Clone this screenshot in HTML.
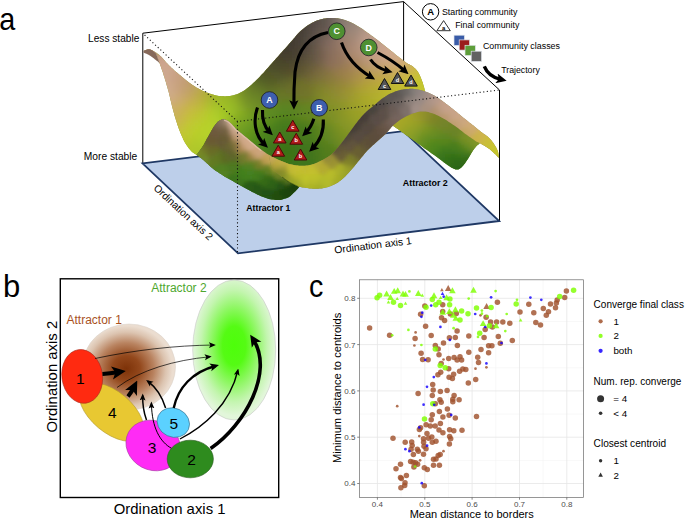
<!DOCTYPE html>
<html lang="en"><head><meta charset="utf-8"><title>Figure</title>
<style>
html,body{margin:0;padding:0;background:#fff;}
svg{display:block;font-family:"Liberation Sans", sans-serif;}
</style></head>
<body>
<svg width="685" height="520" viewBox="0 0 685 520">
<rect width="685" height="520" fill="#fff"/>
<defs>
<radialGradient id="gA2" cx="0.5" cy="0.47" r="0.5">
 <stop offset="0" stop-color="#4dff0a"/><stop offset="0.28" stop-color="#55fb14"/>
 <stop offset="0.55" stop-color="#8ff764"/><stop offset="0.8" stop-color="#c4f5b0"/>
 <stop offset="1" stop-color="#e2f6da"/>
</radialGradient>
<radialGradient id="gA1" cx="0.47" cy="0.52" r="0.5">
 <stop offset="0" stop-color="#7d3208"/><stop offset="0.3" stop-color="#93481c"/>
 <stop offset="0.6" stop-color="#b98360"/><stop offset="0.85" stop-color="#dcc4b0"/>
 <stop offset="1" stop-color="#ebddd0"/>
</radialGradient>
<marker id="ahS" viewBox="0 0 10 10" refX="7" refY="5" markerWidth="7" markerHeight="7" markerUnits="userSpaceOnUse" orient="auto"><path d="M0,0.8 L10,5 L0,9.2 L2.2,5 Z" fill="#000"/></marker>
<marker id="ahM" viewBox="0 0 10 10" refX="6" refY="5" markerWidth="9" markerHeight="9" markerUnits="userSpaceOnUse" orient="auto"><path d="M0,0.5 L10,5 L0,9.5 L2.5,5 Z" fill="#000"/></marker>
<marker id="ahL" viewBox="0 0 10 10" refX="5" refY="5" markerWidth="12" markerHeight="12" markerUnits="userSpaceOnUse" orient="auto"><path d="M0,0.3 L10,5 L0,9.7 L2.5,5 Z" fill="#000"/></marker>
<marker id="ahT" viewBox="0 0 10 10" refX="4" refY="5" markerWidth="10.5" markerHeight="10.5" markerUnits="userSpaceOnUse" orient="auto"><path d="M0,0.2 L10,5 L0,9.8 L2.4,5 Z" fill="#000"/></marker>
<marker id="ahXL" viewBox="0 0 10 10" refX="4" refY="5" markerWidth="14" markerHeight="14" markerUnits="userSpaceOnUse" orient="auto"><path d="M0,0.3 L10,5 L0,9.7 L2.5,5 Z" fill="#000"/></marker>
</defs>
<g id="panelA">
<text x="-0.75" y="29.5" font-size="32" text-anchor="start" font-weight="normal" fill="#000" textLength="16" lengthAdjust="spacingAndGlyphs">a</text>
<path d="M142.8,163.3V33.2L403.6,1.6L499.5,90V221 M403.6,1.6V131" fill="none" stroke="#000" stroke-width="1"/>
<path d="M142.5,163.3L238,253.3L499.2,221L403.3,131.2Z" fill="#bdcfea" stroke="#1f3864" stroke-width="1.8" stroke-linejoin="miter"/>
<defs>
<clipPath id="cpBack"><path d="M143.5,50.8L143.9,50.7L144.4,50.4L145.1,50.2L145.8,49.9L146.5,49.7L147.2,49.4L147.9,49.3L148.5,49.2L149.0,49.2L149.5,49.3L149.9,49.4L150.3,49.5L150.7,49.7L151.1,49.9L151.5,50.1L152.0,50.3L152.5,50.5L152.9,50.8L153.4,51.0L153.9,51.3L154.4,51.6L154.9,51.9L155.4,52.2L156.0,52.6L156.6,53.0L157.2,53.4L157.8,53.8L158.4,54.3L159.0,54.8L159.7,55.3L160.3,55.9L161.0,56.5L161.7,57.2L162.4,58.0L163.1,58.8L163.9,59.7L164.6,60.6L165.4,61.5L166.2,62.4L167.0,63.3L167.8,64.1L168.6,65.0L169.4,65.8L170.3,66.6L171.1,67.5L172.0,68.3L173.0,69.1L173.9,70.0L174.9,70.9L175.9,71.8L176.9,72.6L178.0,73.5L179.1,74.4L180.2,75.3L181.3,76.3L182.5,77.2L183.7,78.2L184.9,79.2L186.1,80.2L187.4,81.2L188.7,82.2L190.0,83.2L191.2,84.1L192.5,85.0L193.8,85.8L195.0,86.6L196.2,87.4L197.5,88.1L198.8,88.8L200.0,89.5L201.2,90.1L202.5,90.7L203.8,91.3L205.0,91.8L206.2,92.4L207.5,92.8L208.8,93.3L210.0,93.7L211.2,94.1L212.5,94.5L213.8,94.8L215.0,95.2L216.2,95.4L217.5,95.7L218.8,95.9L220.0,96.1L221.2,96.2L222.5,96.3L223.8,96.3L225.0,96.4L226.2,96.3L227.5,96.3L228.8,96.1L230.0,96.0L231.2,95.8L232.5,95.5L233.8,95.2L235.0,94.8L236.2,94.4L237.5,93.9L238.8,93.4L240.0,92.8L241.2,92.2L242.5,91.5L243.8,90.7L245.0,89.9L246.2,89.0L247.5,88.0L248.8,87.0L250.0,85.9L251.2,84.9L252.5,83.8L253.8,82.6L255.0,81.4L256.2,80.2L257.5,79.0L258.8,77.7L260.0,76.4L261.2,75.1L262.5,73.8L263.8,72.4L265.0,71.0L266.2,69.6L267.5,68.2L268.8,66.8L270.0,65.3L271.2,63.9L272.5,62.5L273.8,61.1L275.0,59.7L276.2,58.3L277.5,56.9L278.8,55.5L280.0,54.1L281.2,52.7L282.5,51.2L283.8,49.8L285.1,48.4L286.4,46.9L287.7,45.5L288.9,44.0L290.2,42.6L291.4,41.3L292.5,40.0L293.5,38.8L294.5,37.7L295.4,36.6L296.2,35.5L297.1,34.5L298.0,33.5L299.0,32.5L300.0,31.5L301.1,30.5L302.3,29.5L303.6,28.4L304.8,27.4L306.1,26.5L307.4,25.6L308.7,24.7L310.0,23.9L311.2,23.2L312.5,22.5L313.8,21.9L315.0,21.3L316.2,20.8L317.5,20.3L318.8,19.9L320.0,19.5L321.2,19.2L322.5,18.9L323.8,18.6L325.0,18.4L326.2,18.3L327.5,18.1L328.8,18.1L330.0,18.0L331.2,18.0L332.5,18.0L333.8,18.0L335.0,18.1L336.2,18.2L337.5,18.3L338.8,18.5L340.0,18.8L341.2,19.0L342.5,19.3L343.8,19.7L345.0,20.1L346.2,20.5L347.5,21.0L348.8,21.5L350.0,22.0L351.2,22.6L352.5,23.2L353.8,23.8L355.0,24.5L356.2,25.2L357.5,26.0L358.8,26.7L360.0,27.5L361.2,28.3L362.5,29.1L363.8,30.0L365.0,30.9L366.2,31.8L367.5,32.7L368.8,33.6L370.0,34.5L371.2,35.4L372.5,36.3L373.8,37.3L375.0,38.2L376.2,39.1L377.5,40.1L378.8,41.0L380.0,42.0L381.2,43.0L382.5,44.0L383.8,45.0L385.0,46.0L386.2,47.0L387.5,48.0L388.8,49.0L390.0,50.0L391.3,51.0L392.6,52.1L393.9,53.1L395.2,54.2L396.4,55.2L397.7,56.2L398.9,57.1L400.0,58.0L401.1,58.8L402.1,59.6L403.1,60.4L404.1,61.1L405.0,61.7L405.9,62.4L406.7,63.0L407.5,63.5L408.2,64.0L408.9,64.3L409.6,64.6L410.2,64.9L410.7,65.2L411.3,65.5L411.9,65.8L412.5,66.2L413.1,66.8L413.8,67.3L414.4,67.9L415.1,68.5L415.7,69.1L416.3,69.8L416.9,70.5L417.5,71.2L418.0,72.1L418.6,72.9L419.1,73.9L419.5,74.8L420.0,75.8L420.4,76.8L420.8,77.8L421.2,78.8L421.6,79.7L422.0,80.7L422.3,81.7L422.7,82.6L423.0,83.6L423.2,84.5L423.5,85.4L423.8,86.2L424.0,87.0L424.2,87.8L424.4,88.6L424.5,89.3L424.7,90.0L424.8,90.6L424.9,91.1L425.0,91.5L425.0,105.0L410.0,100.0L395.0,118.0L350.0,160.0L300.0,180.0L260.0,185.0L215.0,165.0L196.5,154.8L196.1,154.6L195.6,154.3L195.0,153.9L194.4,153.5L193.6,153.1L192.9,152.5L192.1,151.9L191.4,151.2L190.7,150.4L189.9,149.5L189.0,148.5L188.2,147.4L187.4,146.3L186.5,145.0L185.7,143.7L184.9,142.4L184.1,141.0L183.3,139.4L182.6,137.7L181.8,136.0L181.0,134.3L180.3,132.5L179.6,130.8L179.0,129.2L178.4,127.6L177.9,126.1L177.3,124.6L176.9,123.1L176.4,121.6L175.9,120.1L175.5,118.6L175.0,117.0L174.5,115.4L174.1,113.7L173.6,112.1L173.2,110.4L172.7,108.7L172.3,107.0L171.8,105.2L171.4,103.5L171.0,101.7L170.5,99.9L170.1,98.1L169.7,96.3L169.2,94.4L168.8,92.6L168.3,90.7L167.8,88.9L167.3,87.0L166.7,85.2L166.2,83.2L165.6,81.3L165.0,79.5L164.5,77.6L163.9,75.9L163.4,74.2L162.9,72.6L162.3,70.9L161.7,69.3L161.2,67.7L160.7,66.2L160.2,64.9L159.8,63.8L159.5,63.0L156.0,53.5Z"/></clipPath>
<clipPath id="cpUnder"><path d="M388.0,124.0L388.9,123.0L390.0,121.7L391.4,120.1L392.9,118.4L394.5,116.6L396.3,114.9L398.1,113.3L400.0,112.0L401.9,110.9L404.0,109.8L406.1,108.8L408.4,107.9L410.7,107.1L413.1,106.5L415.5,106.1L418.0,106.0L420.6,106.1L423.2,106.4L426.0,106.9L428.8,107.6L431.6,108.5L434.4,109.5L437.2,110.7L440.0,112.0L442.8,113.5L445.6,115.4L448.5,117.4L451.3,119.6L454.1,121.8L456.9,124.0L459.5,126.1L462.0,128.0L464.5,129.8L467.1,131.6L469.6,133.4L472.0,135.2L474.3,136.8L476.2,138.4L477.8,139.8L479.0,141.0L479.6,142.0L479.8,142.8L479.5,143.5L479.0,144.0L478.4,144.5L477.7,145.0L477.0,145.5L476.5,146.0L476.1,146.6L475.7,147.1L475.3,147.6L474.9,148.1L474.4,148.6L474.0,149.2L473.5,149.8L473.0,150.5L472.5,151.3L472.0,152.2L471.4,153.1L470.9,154.0L470.3,155.0L469.7,156.0L469.1,157.0L468.5,158.0L467.9,159.0L467.2,160.0L466.5,161.1L465.8,162.1L465.1,163.2L464.4,164.1L463.7,165.0L463.0,165.8L462.3,166.5L461.7,167.2L461.0,167.8L460.4,168.3L459.7,168.7L459.1,169.1L458.4,169.4L457.6,169.5L456.8,169.5L456.1,169.5L455.4,169.4L454.6,169.1L453.8,168.8L452.8,168.3L451.7,167.7L450.5,167.0L449.1,166.1L447.5,165.0L445.8,163.8L444.0,162.5L442.2,161.0L440.2,159.6L438.2,158.1L436.2,156.6L434.1,155.1L431.8,153.5L429.5,151.8L427.1,150.1L424.7,148.4L422.4,146.7L420.1,145.1L418.0,143.6L416.0,142.1L414.0,140.7L412.1,139.3L410.2,137.9L408.4,136.6L406.6,135.4L404.9,134.2L403.3,133.0L401.7,131.9L400.2,130.8L398.8,129.8L397.4,128.8L396.1,127.9L394.8,127.1L393.7,126.3L392.7,125.7L391.8,125.2L391.0,124.8L390.3,124.6L389.7,124.4L389.2,124.3L388.7,124.2L388.3,124.1L388.0,124.0Z"/></clipPath>
<clipPath id="cpF1"><path d="M196.5,154.8L197.0,154.2L197.6,153.4L198.3,152.5L199.1,151.4L199.9,150.3L200.8,149.1L201.6,148.0L202.4,146.8L203.1,145.6L203.9,144.4L204.6,143.1L205.3,141.8L206.0,140.5L206.7,139.1L207.5,137.8L208.2,136.5L208.9,135.2L209.7,133.8L210.5,132.4L211.2,131.1L212.0,129.7L212.7,128.5L213.4,127.3L214.1,126.3L214.7,125.4L215.3,124.6L215.9,123.9L216.4,123.2L216.9,122.7L217.4,122.1L218.0,121.6L218.5,121.2L219.1,120.8L219.6,120.4L220.2,120.1L220.7,119.9L221.2,119.6L221.8,119.5L222.3,119.4L222.9,119.3L223.5,119.3L224.0,119.3L224.6,119.4L225.1,119.6L225.7,119.7L226.2,120.0L226.8,120.2L227.3,120.5L227.8,120.8L228.4,121.2L228.9,121.6L229.5,122.1L230.0,122.5L230.5,123.0L231.1,123.6L231.6,124.1L232.2,124.7L232.8,125.4L233.4,126.1L234.1,126.9L234.7,127.6L235.2,128.2L235.7,128.8L236.0,129.2L236.3,129.4L236.6,129.6L236.9,129.9L237.4,130.2L237.9,130.6L238.5,131.1L239.2,131.6L240.0,132.3L241.0,133.1L242.1,134.0L243.3,135.0L244.6,136.1L246.0,137.2L247.4,138.3L248.7,139.4L250.0,140.5L251.2,141.5L252.5,142.6L253.8,143.7L255.0,144.7L256.2,145.8L257.5,146.8L258.8,147.8L260.0,148.8L261.2,149.7L262.5,150.6L263.8,151.5L265.0,152.3L266.2,153.2L267.5,154.0L268.8,154.8L270.0,155.5L271.2,156.2L272.5,156.9L273.8,157.6L275.0,158.2L276.2,158.8L277.5,159.4L278.8,159.9L280.0,160.5L281.2,161.0L282.5,161.6L283.8,162.1L285.0,162.6L286.2,163.1L287.5,163.5L288.8,163.9L290.0,164.2L291.2,164.6L292.5,164.8L293.8,165.1L295.0,165.3L296.2,165.5L297.5,165.6L298.8,165.7L300.0,186.0L299.7,186.3L299.4,186.7L298.9,187.2L298.5,187.8L298.0,188.4L297.5,188.9L297.0,189.5L296.5,190.0L296.1,190.5L295.6,190.9L295.2,191.4L294.7,191.8L294.3,192.2L293.9,192.7L293.4,193.1L293.0,193.5L292.6,193.9L292.2,194.3L291.8,194.7L291.4,195.1L291.0,195.5L290.5,195.9L290.1,196.3L289.6,196.6L289.1,196.9L288.6,197.2L288.0,197.5L287.5,197.7L286.9,197.9L286.3,198.2L285.7,198.4L285.0,198.6L284.3,198.8L283.6,199.1L282.9,199.3L282.2,199.5L281.4,199.7L280.5,199.9L279.5,200.0L278.5,200.0L277.3,200.0L276.0,199.9L274.7,199.8L273.2,199.6L271.8,199.4L270.3,199.2L268.8,198.9L267.4,198.5L266.0,198.1L264.7,197.6L263.3,197.1L261.9,196.5L260.5,195.9L259.2,195.3L257.8,194.7L256.4,194.0L255.0,193.3L253.6,192.6L252.1,191.9L250.7,191.1L249.2,190.3L247.8,189.5L246.4,188.8L245.0,188.0L243.6,187.2L242.3,186.5L240.9,185.7L239.6,185.0L238.3,184.2L236.9,183.4L235.6,182.7L234.2,181.9L232.8,181.1L231.4,180.3L230.0,179.6L228.6,178.8L227.2,178.0L225.8,177.2L224.4,176.4L223.0,175.5L221.6,174.6L220.2,173.7L218.8,172.8L217.4,171.8L216.0,170.9L214.6,169.9L213.3,168.9L212.1,168.0L210.9,167.1L209.8,166.1L208.8,165.1L207.8,164.1L206.8,163.2L205.8,162.2L204.9,161.4L203.9,160.5L202.9,159.7L201.8,158.8L200.7,158.0L199.7,157.2L198.7,156.4L197.8,155.8L197.1,155.2L196.5,154.8Z"/></clipPath>
<clipPath id="cpF2"><path d="M268.8,154.8L270.0,155.5L271.2,156.2L272.5,156.9L273.8,157.6L275.0,158.2L276.2,158.8L277.5,159.4L278.8,159.9L280.0,160.5L281.2,161.0L282.5,161.6L283.8,162.1L285.0,162.6L286.2,163.1L287.5,163.5L288.8,163.9L290.0,164.2L291.2,164.6L292.5,164.8L293.8,165.1L295.0,165.3L296.2,165.5L297.5,165.6L298.8,165.7L300.0,165.8L301.2,165.8L302.5,165.8L303.8,165.8L305.0,165.7L306.2,165.6L307.5,165.5L308.8,165.3L310.0,165.0L311.2,164.7L312.5,164.3L313.8,163.9L315.0,163.4L316.2,162.9L317.5,162.4L318.8,161.8L320.0,161.2L321.3,160.6L322.6,160.0L323.9,159.3L325.2,158.6L326.5,157.8L327.7,157.1L328.9,156.3L330.0,155.5L331.0,154.7L331.9,153.9L332.8,153.1L333.7,152.2L334.5,151.4L335.3,150.5L336.1,149.5L337.0,148.5L337.9,147.4L338.9,146.3L339.8,145.1L340.8,143.9L341.7,142.7L342.7,141.5L343.7,140.2L344.6,139.0L345.5,137.8L346.5,136.5L347.4,135.3L348.3,134.0L349.2,132.7L350.2,131.5L351.1,130.2L352.0,129.0L352.9,127.8L353.8,126.6L354.7,125.3L355.6,124.1L356.5,122.9L357.4,121.8L358.3,120.6L359.2,119.5L360.1,118.4L361.0,117.3L361.9,116.3L362.8,115.3L363.8,114.3L364.7,113.3L365.6,112.4L366.5,111.5L367.4,110.7L368.3,109.9L369.3,109.1L370.2,108.4L371.1,107.7L372.1,107.0L373.0,106.3L373.9,105.6L374.8,104.8L375.7,104.1L376.6,103.3L377.4,102.5L378.3,101.7L379.2,100.9L380.1,100.2L381.0,99.5L381.9,98.8L382.8,98.2L383.8,97.5L384.7,96.9L385.7,96.3L386.6,95.7L387.6,95.1L388.5,94.6L389.4,94.1L390.4,93.6L391.3,93.2L392.3,92.8L393.2,92.4L394.2,92.0L395.1,91.6L396.0,91.3L396.9,91.0L397.8,90.7L398.6,90.5L399.5,90.2L400.3,90.0L401.2,89.8L402.1,89.7L403.1,89.5L404.1,89.3L405.2,89.2L406.3,89.1L407.4,89.0L408.6,88.9L409.7,88.8L410.8,88.8L411.9,88.8L412.9,88.8L414.0,88.9L415.0,89.0L416.0,89.2L417.0,89.4L418.0,89.6L419.0,89.8L420.0,90.0L421.0,90.2L422.0,90.5L423.0,90.8L424.0,91.1L425.0,91.5L426.0,91.8L427.0,92.2L428.0,92.6L429.0,93.0L429.9,93.4L430.8,93.8L431.8,94.3L432.7,94.7L433.7,95.2L434.7,95.8L435.7,96.4L436.8,97.1L437.9,97.8L439.0,98.6L440.2,99.4L441.3,100.2L442.5,101.1L443.6,101.9L444.8,102.8L445.9,103.7L447.1,104.5L448.3,105.4L449.4,106.3L450.6,107.3L451.7,108.2L452.9,109.1L454.0,110.0L455.1,110.9L456.3,111.8L457.4,112.8L458.5,113.7L459.6,114.6L460.7,115.6L461.9,116.5L463.0,117.4L464.1,118.3L465.3,119.2L466.4,120.1L467.6,121.1L468.7,122.0L469.9,122.9L471.1,123.8L472.2,124.7L473.4,125.6L474.5,126.6L475.7,127.5L476.9,128.5L478.0,129.4L479.2,130.3L480.2,131.2L481.3,132.0L482.3,132.8L483.3,133.5L484.3,134.2L485.2,134.8L486.1,135.4L487.0,136.1L487.8,136.8L488.6,137.5L489.4,138.3L490.1,139.0L490.8,139.8L491.5,140.6L492.2,141.5L492.8,142.3L493.4,143.1L494.0,144.0L494.6,144.9L495.1,145.8L495.7,146.7L496.2,147.6L496.6,148.5L497.1,149.4L497.5,150.3L497.8,151.2L498.1,152.1L498.3,153.1L498.5,154.1L498.6,155.1L498.8,156.1L498.8,156.9L498.9,157.7L499.0,158.2L498.7,157.9L498.3,157.5L497.9,157.0L497.4,156.4L496.9,155.9L496.3,155.2L495.6,154.6L495.0,154.0L494.3,153.4L493.6,152.7L492.8,152.0L492.0,151.3L491.2,150.5L490.3,149.8L489.5,149.1L488.6,148.5L487.7,147.9L486.8,147.3L485.8,146.7L484.9,146.1L483.9,145.5L483.0,145.0L482.1,144.5L481.3,144.0L480.5,143.5L479.7,143.1L478.9,142.7L478.1,142.3L477.4,142.0L476.7,141.7L476.2,141.4L475.8,141.2L475.1,140.7L474.2,140.1L473.1,139.3L471.9,138.5L470.6,137.6L469.3,136.7L468.0,135.7L466.7,134.8L465.4,133.9L464.1,132.9L462.7,131.8L461.4,130.8L460.0,129.7L458.6,128.6L457.2,127.6L455.8,126.6L454.4,125.6L453.1,124.7L451.7,123.7L450.3,122.8L448.9,121.9L447.6,121.0L446.2,120.1L444.8,119.3L443.4,118.5L442.0,117.7L440.7,117.0L439.3,116.2L437.9,115.6L436.5,114.9L435.2,114.3L433.8,113.8L432.4,113.3L431.1,112.9L429.7,112.5L428.3,112.1L427.0,111.8L425.6,111.6L424.3,111.4L422.9,111.4L421.5,111.4L420.2,111.6L418.8,111.8L417.5,112.1L416.1,112.5L414.7,112.9L413.4,113.3L412.0,113.8L410.6,114.3L409.2,114.9L407.8,115.6L406.3,116.3L404.9,117.0L403.6,117.8L402.2,118.5L401.0,119.3L399.8,120.1L398.5,121.0L397.3,121.9L396.2,122.8L395.1,123.7L394.1,124.5L393.3,125.2L392.7,125.7L392.1,126.4L391.3,127.3L390.4,128.4L389.4,129.6L388.3,130.9L387.2,132.1L386.1,133.4L385.0,134.5L383.9,135.5L382.8,136.6L381.7,137.6L380.5,138.6L379.4,139.5L378.2,140.5L377.1,141.5L376.0,142.5L374.9,143.5L373.9,144.4L372.8,145.3L371.8,146.2L370.8,147.2L369.7,148.2L368.7,149.2L367.6,150.3L366.5,151.5L365.4,152.7L364.3,154.0L363.2,155.4L362.1,156.7L361.0,158.1L359.9,159.5L358.8,160.8L357.7,162.1L356.6,163.5L355.5,164.8L354.4,166.2L353.3,167.5L352.2,168.8L351.1,170.1L350.0,171.3L348.9,172.5L347.8,173.7L346.7,174.8L345.7,176.0L344.6,177.1L343.5,178.1L342.4,179.1L341.3,180.0L340.2,180.8L339.1,181.6L338.0,182.4L336.9,183.0L335.8,183.7L334.7,184.2L333.6,184.8L332.5,185.3L331.4,185.8L330.3,186.2L329.2,186.6L328.2,186.9L327.1,187.2L326.0,187.5L324.9,187.8L323.8,188.0L322.7,188.2L321.6,188.4L320.5,188.5L319.4,188.6L318.3,188.7L317.2,188.8L316.1,188.8L315.0,188.8L313.9,188.8L312.8,188.7L311.7,188.6L310.6,188.5L309.5,188.4L308.4,188.3L307.4,188.1L306.3,188.0L305.2,187.8L304.0,187.6L302.8,187.4L301.6,187.2L300.5,187.0L299.5,186.8L298.6,186.6L298.0,186.5L297.6,186.3L297.1,186.0L296.5,185.7L295.8,185.4L295.0,185.0L294.3,184.7L293.6,184.3L293.0,184.0L292.5,183.7L292.0,183.5L291.5,183.3L291.0,183.0L290.5,182.8L290.0,182.5L289.4,182.2L288.8,181.8L288.1,181.3L287.3,180.8L286.4,180.2L285.5,179.6L284.6,178.9L283.7,178.3L282.8,177.6L282.0,177.0L281.2,176.4L280.4,175.8L279.6,175.2L278.9,174.5L278.1,173.9L277.4,173.3L276.7,172.7L276.0,172.0L275.3,171.3L274.6,170.5L273.8,169.7L273.1,168.9L272.5,168.2L271.9,167.5L271.4,166.9L271.0,166.5Z"/></clipPath>
<filter id="bl1" x="-5%" y="-5%" width="110%" height="110%"><feGaussianBlur stdDeviation="1.1"/></filter>
<filter id="bl05" x="-5%" y="-5%" width="110%" height="110%"><feGaussianBlur stdDeviation="0.6"/></filter>
</defs>
<path d="M143.5,50.8L143.9,50.7L144.4,50.4L145.1,50.2L145.8,49.9L146.5,49.7L147.2,49.4L147.9,49.3L148.5,49.2L149.0,49.2L149.5,49.3L149.9,49.4L150.3,49.5L150.7,49.7L151.1,49.9L151.5,50.1L152.0,50.3L152.5,50.5L152.9,50.8L153.4,51.0L153.9,51.3L154.4,51.6L154.9,51.9L155.4,52.2L156.0,52.6L156.6,53.0L157.2,53.4L157.8,53.8L158.4,54.3L159.0,54.8L159.7,55.3L160.3,55.9L161.0,56.5L161.7,57.2L162.4,58.0L163.1,58.8L163.9,59.7L164.6,60.6L165.4,61.5L166.2,62.4L167.0,63.3L167.8,64.1L168.6,65.0L169.4,65.8L170.3,66.6L171.1,67.5L172.0,68.3L173.0,69.1L173.9,70.0L174.9,70.9L175.9,71.8L176.9,72.6L178.0,73.5L179.1,74.4L180.2,75.3L181.3,76.3L182.5,77.2L183.7,78.2L184.9,79.2L186.1,80.2L187.4,81.2L188.7,82.2L190.0,83.2L191.2,84.1L192.5,85.0L193.8,85.8L195.0,86.6L196.2,87.4L197.5,88.1L198.8,88.8L200.0,89.5L201.2,90.1L202.5,90.7L203.8,91.3L205.0,91.8L206.2,92.4L207.5,92.8L208.8,93.3L210.0,93.7L211.2,94.1L212.5,94.5L213.8,94.8L215.0,95.2L216.2,95.4L217.5,95.7L218.8,95.9L220.0,96.1L221.2,96.2L222.5,96.3L223.8,96.3L225.0,96.4L226.2,96.3L227.5,96.3L228.8,96.1L230.0,96.0L231.2,95.8L232.5,95.5L233.8,95.2L235.0,94.8L236.2,94.4L237.5,93.9L238.8,93.4L240.0,92.8L241.2,92.2L242.5,91.5L243.8,90.7L245.0,89.9L246.2,89.0L247.5,88.0L248.8,87.0L250.0,85.9L251.2,84.9L252.5,83.8L253.8,82.6L255.0,81.4L256.2,80.2L257.5,79.0L258.8,77.7L260.0,76.4L261.2,75.1L262.5,73.8L263.8,72.4L265.0,71.0L266.2,69.6L267.5,68.2L268.8,66.8L270.0,65.3L271.2,63.9L272.5,62.5L273.8,61.1L275.0,59.7L276.2,58.3L277.5,56.9L278.8,55.5L280.0,54.1L281.2,52.7L282.5,51.2L283.8,49.8L285.1,48.4L286.4,46.9L287.7,45.5L288.9,44.0L290.2,42.6L291.4,41.3L292.5,40.0L293.5,38.8L294.5,37.7L295.4,36.6L296.2,35.5L297.1,34.5L298.0,33.5L299.0,32.5L300.0,31.5L301.1,30.5L302.3,29.5L303.6,28.4L304.8,27.4L306.1,26.5L307.4,25.6L308.7,24.7L310.0,23.9L311.2,23.2L312.5,22.5L313.8,21.9L315.0,21.3L316.2,20.8L317.5,20.3L318.8,19.9L320.0,19.5L321.2,19.2L322.5,18.9L323.8,18.6L325.0,18.4L326.2,18.3L327.5,18.1L328.8,18.1L330.0,18.0L331.2,18.0L332.5,18.0L333.8,18.0L335.0,18.1L336.2,18.2L337.5,18.3L338.8,18.5L340.0,18.8L341.2,19.0L342.5,19.3L343.8,19.7L345.0,20.1L346.2,20.5L347.5,21.0L348.8,21.5L350.0,22.0L351.2,22.6L352.5,23.2L353.8,23.8L355.0,24.5L356.2,25.2L357.5,26.0L358.8,26.7L360.0,27.5L361.2,28.3L362.5,29.1L363.8,30.0L365.0,30.9L366.2,31.8L367.5,32.7L368.8,33.6L370.0,34.5L371.2,35.4L372.5,36.3L373.8,37.3L375.0,38.2L376.2,39.1L377.5,40.1L378.8,41.0L380.0,42.0L381.2,43.0L382.5,44.0L383.8,45.0L385.0,46.0L386.2,47.0L387.5,48.0L388.8,49.0L390.0,50.0L391.3,51.0L392.6,52.1L393.9,53.1L395.2,54.2L396.4,55.2L397.7,56.2L398.9,57.1L400.0,58.0L401.1,58.8L402.1,59.6L403.1,60.4L404.1,61.1L405.0,61.7L405.9,62.4L406.7,63.0L407.5,63.5L408.2,64.0L408.9,64.3L409.6,64.6L410.2,64.9L410.7,65.2L411.3,65.5L411.9,65.8L412.5,66.2L413.1,66.8L413.8,67.3L414.4,67.9L415.1,68.5L415.7,69.1L416.3,69.8L416.9,70.5L417.5,71.2L418.0,72.1L418.6,72.9L419.1,73.9L419.5,74.8L420.0,75.8L420.4,76.8L420.8,77.8L421.2,78.8L421.6,79.7L422.0,80.7L422.3,81.7L422.7,82.6L423.0,83.6L423.2,84.5L423.5,85.4L423.8,86.2L424.0,87.0L424.2,87.8L424.4,88.6L424.5,89.3L424.7,90.0L424.8,90.6L424.9,91.1L425.0,91.5L425.0,105.0L410.0,100.0L395.0,118.0L350.0,160.0L300.0,180.0L260.0,185.0L215.0,165.0L196.5,154.8L196.1,154.6L195.6,154.3L195.0,153.9L194.4,153.5L193.6,153.1L192.9,152.5L192.1,151.9L191.4,151.2L190.7,150.4L189.9,149.5L189.0,148.5L188.2,147.4L187.4,146.3L186.5,145.0L185.7,143.7L184.9,142.4L184.1,141.0L183.3,139.4L182.6,137.7L181.8,136.0L181.0,134.3L180.3,132.5L179.6,130.8L179.0,129.2L178.4,127.6L177.9,126.1L177.3,124.6L176.9,123.1L176.4,121.6L175.9,120.1L175.5,118.6L175.0,117.0L174.5,115.4L174.1,113.7L173.6,112.1L173.2,110.4L172.7,108.7L172.3,107.0L171.8,105.2L171.4,103.5L171.0,101.7L170.5,99.9L170.1,98.1L169.7,96.3L169.2,94.4L168.8,92.6L168.3,90.7L167.8,88.9L167.3,87.0L166.7,85.2L166.2,83.2L165.6,81.3L165.0,79.5L164.5,77.6L163.9,75.9L163.4,74.2L162.9,72.6L162.3,70.9L161.7,69.3L161.2,67.7L160.7,66.2L160.2,64.9L159.8,63.8L159.5,63.0L156.0,53.5Z" fill="#8a9428"/>
<g clip-path="url(#cpBack)"><g filter="url(#bl1)"><g fill="none" stroke-width="4.0"><path d="M315.5 17.5h4" stroke="#584e47"/><path d="M318.5 17.5h4" stroke="#5b504a"/><path d="M321.5 17.5h4" stroke="#5f544d"/><path d="M324.5 17.5h4" stroke="#635851"/><path d="M327.5 17.5h4" stroke="#695e56"/><path d="M330.5 17.5h4" stroke="#70645c"/><path d="M333.5 17.5h4" stroke="#776b62"/><path d="M336.5 17.5h4" stroke="#7d7168"/><path d="M339.5 17.5h4" stroke="#82756c"/><path d="M342.5 17.5h4" stroke="#867970"/><path d="M309.5 20.5h4" stroke="#524942"/><path d="M312.5 20.5h4" stroke="#554b44"/><path d="M315.5 20.5h4" stroke="#584e47"/><path d="M318.5 20.5h4" stroke="#5b504a"/><path d="M321.5 20.5h4" stroke="#5f544d"/><path d="M324.5 20.5h4" stroke="#635850"/><path d="M327.5 20.5h4" stroke="#695d56"/><path d="M330.5 20.5h4" stroke="#70645c"/><path d="M333.5 20.5h4" stroke="#776b62"/><path d="M336.5 20.5h4" stroke="#7e7168"/><path d="M339.5 20.5h4" stroke="#83766d"/><path d="M342.5 20.5h4" stroke="#887a70"/><path d="M345.5 20.5h4" stroke="#8c7e73"/><path d="M348.5 20.5h4" stroke="#8f8075"/><path d="M351.5 20.5h4" stroke="#938377"/><path d="M303.5 23.5h4" stroke="#4b433b"/><path d="M306.5 23.5h4" stroke="#4f463e"/><path d="M309.5 23.5h4" stroke="#524942"/><path d="M312.5 23.5h4" stroke="#564c44"/><path d="M315.5 23.5h4" stroke="#594e47"/><path d="M318.5 23.5h4" stroke="#5c514a"/><path d="M321.5 23.5h4" stroke="#5f544d"/><path d="M324.5 23.5h4" stroke="#645850"/><path d="M327.5 23.5h4" stroke="#695d55"/><path d="M330.5 23.5h4" stroke="#70635b"/><path d="M333.5 23.5h4" stroke="#776b62"/><path d="M336.5 23.5h4" stroke="#7f7268"/><path d="M339.5 23.5h4" stroke="#85776d"/><path d="M342.5 23.5h4" stroke="#8a7b71"/><path d="M345.5 23.5h4" stroke="#8e7f74"/><path d="M348.5 23.5h4" stroke="#928176"/><path d="M351.5 23.5h4" stroke="#958478"/><path d="M354.5 23.5h4" stroke="#98867a"/><path d="M300.5 26.5h4" stroke="#484038"/><path d="M303.5 26.5h4" stroke="#4b433b"/><path d="M306.5 26.5h4" stroke="#4f463e"/><path d="M309.5 26.5h4" stroke="#534942"/><path d="M312.5 26.5h4" stroke="#574c45"/><path d="M315.5 26.5h4" stroke="#5a4f48"/><path d="M318.5 26.5h4" stroke="#5e524b"/><path d="M321.5 26.5h4" stroke="#61554e"/><path d="M324.5 26.5h4" stroke="#655951"/><path d="M327.5 26.5h4" stroke="#6a5d55"/><path d="M330.5 26.5h4" stroke="#71635b"/><path d="M333.5 26.5h4" stroke="#796b62"/><path d="M336.5 26.5h4" stroke="#817269"/><path d="M339.5 26.5h4" stroke="#87786e"/><path d="M342.5 26.5h4" stroke="#8d7d72"/><path d="M345.5 26.5h4" stroke="#918075"/><path d="M348.5 26.5h4" stroke="#958377"/><path d="M351.5 26.5h4" stroke="#988578"/><path d="M354.5 26.5h4" stroke="#9b877a"/><path d="M357.5 26.5h4" stroke="#a08a7d"/><path d="M360.5 26.5h4" stroke="#a58e7f"/><path d="M297.5 29.5h4" stroke="#453e35"/><path d="M300.5 29.5h4" stroke="#484038"/><path d="M303.5 29.5h4" stroke="#4c433b"/><path d="M306.5 29.5h4" stroke="#50473e"/><path d="M309.5 29.5h4" stroke="#544a42"/><path d="M312.5 29.5h4" stroke="#584e46"/><path d="M315.5 29.5h4" stroke="#5c5149"/><path d="M318.5 29.5h4" stroke="#60544c"/><path d="M321.5 29.5h4" stroke="#64574f"/><path d="M324.5 29.5h4" stroke="#685a52"/><path d="M327.5 29.5h4" stroke="#6d5e56"/><path d="M330.5 29.5h4" stroke="#73645b"/><path d="M333.5 29.5h4" stroke="#7b6c62"/><path d="M336.5 29.5h4" stroke="#847369"/><path d="M339.5 29.5h4" stroke="#8b7a6f"/><path d="M342.5 29.5h4" stroke="#917e72"/><path d="M345.5 29.5h4" stroke="#958175"/><path d="M348.5 29.5h4" stroke="#988477"/><path d="M351.5 29.5h4" stroke="#9b8679"/><path d="M354.5 29.5h4" stroke="#9e897b"/><path d="M357.5 29.5h4" stroke="#a38c7e"/><path d="M360.5 29.5h4" stroke="#a89081"/><path d="M363.5 29.5h4" stroke="#ae9383"/><path d="M294.5 32.5h4" stroke="#433c33"/><path d="M297.5 32.5h4" stroke="#463e35"/><path d="M300.5 32.5h4" stroke="#494138"/><path d="M303.5 32.5h4" stroke="#4d443b"/><path d="M306.5 32.5h4" stroke="#51473f"/><path d="M309.5 32.5h4" stroke="#564b43"/><path d="M312.5 32.5h4" stroke="#5a4f47"/><path d="M315.5 32.5h4" stroke="#5f534a"/><path d="M318.5 32.5h4" stroke="#64564e"/><path d="M321.5 32.5h4" stroke="#685a51"/><path d="M324.5 32.5h4" stroke="#6d5d54"/><path d="M327.5 32.5h4" stroke="#716158"/><path d="M330.5 32.5h4" stroke="#77665c"/><path d="M333.5 32.5h4" stroke="#7f6d62"/><path d="M336.5 32.5h4" stroke="#887569"/><path d="M339.5 32.5h4" stroke="#907b6f"/><path d="M342.5 32.5h4" stroke="#958072"/><path d="M345.5 32.5h4" stroke="#988275"/><path d="M348.5 32.5h4" stroke="#9b8577"/><path d="M351.5 32.5h4" stroke="#9e8779"/><path d="M354.5 32.5h4" stroke="#a28a7b"/><path d="M357.5 32.5h4" stroke="#a78e7f"/><path d="M360.5 32.5h4" stroke="#ac9282"/><path d="M363.5 32.5h4" stroke="#b29585"/><path d="M366.5 32.5h4" stroke="#b59786"/><path d="M369.5 32.5h4" stroke="#b89987"/><path d="M291.5 35.5h4" stroke="#423b32"/><path d="M294.5 35.5h4" stroke="#443d34"/><path d="M297.5 35.5h4" stroke="#473f36"/><path d="M300.5 35.5h4" stroke="#4a4238"/><path d="M303.5 35.5h4" stroke="#4e453c"/><path d="M306.5 35.5h4" stroke="#52493f"/><path d="M309.5 35.5h4" stroke="#574d44"/><path d="M312.5 35.5h4" stroke="#5d5148"/><path d="M315.5 35.5h4" stroke="#62554c"/><path d="M318.5 35.5h4" stroke="#685950"/><path d="M321.5 35.5h4" stroke="#6d5d53"/><path d="M324.5 35.5h4" stroke="#726057"/><path d="M327.5 35.5h4" stroke="#77645a"/><path d="M330.5 35.5h4" stroke="#7d695e"/><path d="M333.5 35.5h4" stroke="#846f63"/><path d="M336.5 35.5h4" stroke="#8d7669"/><path d="M339.5 35.5h4" stroke="#947c6e"/><path d="M342.5 35.5h4" stroke="#988071"/><path d="M345.5 35.5h4" stroke="#9b8373"/><path d="M348.5 35.5h4" stroke="#9e8576"/><path d="M351.5 35.5h4" stroke="#a18878"/><path d="M354.5 35.5h4" stroke="#a58b7b"/><path d="M357.5 35.5h4" stroke="#aa8f7f"/><path d="M360.5 35.5h4" stroke="#b09483"/><path d="M363.5 35.5h4" stroke="#b59786"/><path d="M366.5 35.5h4" stroke="#b89987"/><path d="M369.5 35.5h4" stroke="#ba9a88"/><path d="M372.5 35.5h4" stroke="#bb9b88"/><path d="M288.5 38.5h4" stroke="#413b31"/><path d="M291.5 38.5h4" stroke="#433c32"/><path d="M294.5 38.5h4" stroke="#453e34"/><path d="M297.5 38.5h4" stroke="#484036"/><path d="M300.5 38.5h4" stroke="#4b4339"/><path d="M303.5 38.5h4" stroke="#4f463c"/><path d="M306.5 38.5h4" stroke="#544a40"/><path d="M309.5 38.5h4" stroke="#594e44"/><path d="M312.5 38.5h4" stroke="#5f5249"/><path d="M315.5 38.5h4" stroke="#65574d"/><path d="M318.5 38.5h4" stroke="#6b5b51"/><path d="M321.5 38.5h4" stroke="#716055"/><path d="M324.5 38.5h4" stroke="#776459"/><path d="M327.5 38.5h4" stroke="#7c675c"/><path d="M330.5 38.5h4" stroke="#826b60"/><path d="M333.5 38.5h4" stroke="#897164"/><path d="M336.5 38.5h4" stroke="#907768"/><path d="M339.5 38.5h4" stroke="#977c6c"/><path d="M342.5 38.5h4" stroke="#9b806f"/><path d="M345.5 38.5h4" stroke="#9e8372"/><path d="M348.5 38.5h4" stroke="#a08574"/><path d="M351.5 38.5h4" stroke="#a38877"/><path d="M354.5 38.5h4" stroke="#a88c7b"/><path d="M357.5 38.5h4" stroke="#ae9180"/><path d="M360.5 38.5h4" stroke="#b39584"/><path d="M363.5 38.5h4" stroke="#b89886"/><path d="M366.5 38.5h4" stroke="#ba9a88"/><path d="M369.5 38.5h4" stroke="#bc9b88"/><path d="M372.5 38.5h4" stroke="#bd9c89"/><path d="M375.5 38.5h4" stroke="#be9c89"/><path d="M378.5 38.5h4" stroke="#bf9d89"/><path d="M285.5 41.5h4" stroke="#413b2f"/><path d="M288.5 41.5h4" stroke="#423c31"/><path d="M291.5 41.5h4" stroke="#443d32"/><path d="M294.5 41.5h4" stroke="#463f34"/><path d="M297.5 41.5h4" stroke="#494137"/><path d="M300.5 41.5h4" stroke="#4c4439"/><path d="M303.5 41.5h4" stroke="#50473c"/><path d="M306.5 41.5h4" stroke="#554b40"/><path d="M309.5 41.5h4" stroke="#5a4f44"/><path d="M312.5 41.5h4" stroke="#605449"/><path d="M315.5 41.5h4" stroke="#67594e"/><path d="M318.5 41.5h4" stroke="#6e5d52"/><path d="M321.5 41.5h4" stroke="#756257"/><path d="M324.5 41.5h4" stroke="#7b665b"/><path d="M327.5 41.5h4" stroke="#806a5e"/><path d="M330.5 41.5h4" stroke="#866e61"/><path d="M333.5 41.5h4" stroke="#8c7264"/><path d="M336.5 41.5h4" stroke="#927767"/><path d="M339.5 41.5h4" stroke="#987c6b"/><path d="M342.5 41.5h4" stroke="#9c806e"/><path d="M345.5 41.5h4" stroke="#9f8370"/><path d="M348.5 41.5h4" stroke="#a28573"/><path d="M351.5 41.5h4" stroke="#a68976"/><path d="M354.5 41.5h4" stroke="#ab8d7b"/><path d="M357.5 41.5h4" stroke="#b0927f"/><path d="M360.5 41.5h4" stroke="#b69684"/><path d="M363.5 41.5h4" stroke="#ba9986"/><path d="M366.5 41.5h4" stroke="#bc9b88"/><path d="M369.5 41.5h4" stroke="#be9c89"/><path d="M372.5 41.5h4" stroke="#bf9d89"/><path d="M375.5 41.5h4" stroke="#c09d8a"/><path d="M378.5 41.5h4" stroke="#c19e8a"/><path d="M381.5 41.5h4" stroke="#c3a08b"/><path d="M282.5 44.5h4" stroke="#423b2f"/><path d="M285.5 44.5h4" stroke="#423c2f"/><path d="M288.5 44.5h4" stroke="#433c30"/><path d="M291.5 44.5h4" stroke="#443d32"/><path d="M294.5 44.5h4" stroke="#473f34"/><path d="M297.5 44.5h4" stroke="#4a4237"/><path d="M300.5 44.5h4" stroke="#4d4539"/><path d="M303.5 44.5h4" stroke="#51483c"/><path d="M306.5 44.5h4" stroke="#564c40"/><path d="M309.5 44.5h4" stroke="#5c5044"/><path d="M312.5 44.5h4" stroke="#625548"/><path d="M315.5 44.5h4" stroke="#695a4d"/><path d="M318.5 44.5h4" stroke="#705f52"/><path d="M321.5 44.5h4" stroke="#776357"/><path d="M324.5 44.5h4" stroke="#7d685b"/><path d="M327.5 44.5h4" stroke="#836b5e"/><path d="M330.5 44.5h4" stroke="#886f61"/><path d="M333.5 44.5h4" stroke="#8d7363"/><path d="M336.5 44.5h4" stroke="#937766"/><path d="M339.5 44.5h4" stroke="#987b69"/><path d="M342.5 44.5h4" stroke="#9d7f6c"/><path d="M345.5 44.5h4" stroke="#a0836f"/><path d="M348.5 44.5h4" stroke="#a48672"/><path d="M351.5 44.5h4" stroke="#a88976"/><path d="M354.5 44.5h4" stroke="#ad8d7a"/><path d="M357.5 44.5h4" stroke="#b2927e"/><path d="M360.5 44.5h4" stroke="#b79683"/><path d="M363.5 44.5h4" stroke="#bb9a86"/><path d="M366.5 44.5h4" stroke="#be9c88"/><path d="M369.5 44.5h4" stroke="#bf9d89"/><path d="M372.5 44.5h4" stroke="#c19e8a"/><path d="M375.5 44.5h4" stroke="#c29f8a"/><path d="M378.5 44.5h4" stroke="#c4a08b"/><path d="M381.5 44.5h4" stroke="#c6a28c"/><path d="M384.5 44.5h4" stroke="#c8a38d"/><path d="M144.5 47.5h4" stroke="#bb937b"/><path d="M147.5 47.5h4" stroke="#bc947c"/><path d="M150.5 47.5h4" stroke="#be957d"/><path d="M282.5 47.5h4" stroke="#423c2e"/><path d="M285.5 47.5h4" stroke="#433c2f"/><path d="M288.5 47.5h4" stroke="#443d30"/><path d="M291.5 47.5h4" stroke="#453e32"/><path d="M294.5 47.5h4" stroke="#484034"/><path d="M297.5 47.5h4" stroke="#4b4336"/><path d="M300.5 47.5h4" stroke="#4e4639"/><path d="M303.5 47.5h4" stroke="#53493c"/><path d="M306.5 47.5h4" stroke="#584d40"/><path d="M309.5 47.5h4" stroke="#5d5143"/><path d="M312.5 47.5h4" stroke="#635547"/><path d="M315.5 47.5h4" stroke="#6a5a4c"/><path d="M318.5 47.5h4" stroke="#715f51"/><path d="M321.5 47.5h4" stroke="#786456"/><path d="M324.5 47.5h4" stroke="#7f685a"/><path d="M327.5 47.5h4" stroke="#846c5d"/><path d="M330.5 47.5h4" stroke="#896f60"/><path d="M333.5 47.5h4" stroke="#8e7362"/><path d="M336.5 47.5h4" stroke="#937765"/><path d="M339.5 47.5h4" stroke="#987b68"/><path d="M342.5 47.5h4" stroke="#9d7f6b"/><path d="M345.5 47.5h4" stroke="#a1836e"/><path d="M348.5 47.5h4" stroke="#a68672"/><path d="M351.5 47.5h4" stroke="#aa8a75"/><path d="M354.5 47.5h4" stroke="#ae8e79"/><path d="M357.5 47.5h4" stroke="#b3927d"/><path d="M360.5 47.5h4" stroke="#b89681"/><path d="M363.5 47.5h4" stroke="#bc9985"/><path d="M366.5 47.5h4" stroke="#be9c87"/><path d="M369.5 47.5h4" stroke="#c09d89"/><path d="M372.5 47.5h4" stroke="#c29f8a"/><path d="M375.5 47.5h4" stroke="#c4a08b"/><path d="M378.5 47.5h4" stroke="#c6a28c"/><path d="M381.5 47.5h4" stroke="#c8a38d"/><path d="M384.5 47.5h4" stroke="#caa58e"/><path d="M387.5 47.5h4" stroke="#cca68e"/><path d="M144.5 50.5h4" stroke="#bc947c"/><path d="M147.5 50.5h4" stroke="#bd957d"/><path d="M150.5 50.5h4" stroke="#bf977f"/><path d="M153.5 50.5h4" stroke="#c19880"/><path d="M279.5 50.5h4" stroke="#433d2e"/><path d="M282.5 50.5h4" stroke="#433d2e"/><path d="M285.5 50.5h4" stroke="#433d2f"/><path d="M288.5 50.5h4" stroke="#443e30"/><path d="M291.5 50.5h4" stroke="#463f31"/><path d="M294.5 50.5h4" stroke="#484133"/><path d="M297.5 50.5h4" stroke="#4c4436"/><path d="M300.5 50.5h4" stroke="#504739"/><path d="M303.5 50.5h4" stroke="#544a3c"/><path d="M306.5 50.5h4" stroke="#594e3f"/><path d="M309.5 50.5h4" stroke="#5f5243"/><path d="M312.5 50.5h4" stroke="#645647"/><path d="M315.5 50.5h4" stroke="#6b5b4b"/><path d="M318.5 50.5h4" stroke="#715f4f"/><path d="M321.5 50.5h4" stroke="#786454"/><path d="M324.5 50.5h4" stroke="#7f6858"/><path d="M327.5 50.5h4" stroke="#856c5c"/><path d="M330.5 50.5h4" stroke="#8a6f5e"/><path d="M333.5 50.5h4" stroke="#8e7260"/><path d="M336.5 50.5h4" stroke="#937663"/><path d="M339.5 50.5h4" stroke="#987a65"/><path d="M342.5 50.5h4" stroke="#9d7e69"/><path d="M345.5 50.5h4" stroke="#a2826d"/><path d="M348.5 50.5h4" stroke="#a68670"/><path d="M351.5 50.5h4" stroke="#ab8a74"/><path d="M354.5 50.5h4" stroke="#af8e77"/><path d="M357.5 50.5h4" stroke="#b3917b"/><path d="M360.5 50.5h4" stroke="#b8957f"/><path d="M363.5 50.5h4" stroke="#bc9983"/><path d="M366.5 50.5h4" stroke="#bf9b86"/><path d="M369.5 50.5h4" stroke="#c19d87"/><path d="M372.5 50.5h4" stroke="#c39f89"/><path d="M375.5 50.5h4" stroke="#c5a18a"/><path d="M378.5 50.5h4" stroke="#c7a38b"/><path d="M381.5 50.5h4" stroke="#c9a48c"/><path d="M384.5 50.5h4" stroke="#cba68d"/><path d="M387.5 50.5h4" stroke="#cda78e"/><path d="M390.5 50.5h4" stroke="#cea88e"/><path d="M393.5 50.5h4" stroke="#cfa98e"/><path d="M141.5 53.5h4" stroke="#bc947c"/><path d="M144.5 53.5h4" stroke="#bd957d"/><path d="M147.5 53.5h4" stroke="#be967e"/><path d="M150.5 53.5h4" stroke="#c09880"/><path d="M153.5 53.5h4" stroke="#c29a82"/><path d="M159.5 53.5h4" stroke="#c59d86"/><path d="M276.5 53.5h4" stroke="#453f2d"/><path d="M279.5 53.5h4" stroke="#443f2d"/><path d="M282.5 53.5h4" stroke="#443e2e"/><path d="M285.5 53.5h4" stroke="#443e2e"/><path d="M288.5 53.5h4" stroke="#453f2f"/><path d="M291.5 53.5h4" stroke="#474031"/><path d="M294.5 53.5h4" stroke="#4a4233"/><path d="M297.5 53.5h4" stroke="#4d4536"/><path d="M300.5 53.5h4" stroke="#514838"/><path d="M303.5 53.5h4" stroke="#564c3c"/><path d="M306.5 53.5h4" stroke="#5b4f3f"/><path d="M309.5 53.5h4" stroke="#605342"/><path d="M312.5 53.5h4" stroke="#655746"/><path d="M315.5 53.5h4" stroke="#6b5b4a"/><path d="M318.5 53.5h4" stroke="#715f4e"/><path d="M321.5 53.5h4" stroke="#786352"/><path d="M324.5 53.5h4" stroke="#7f6857"/><path d="M327.5 53.5h4" stroke="#856c5a"/><path d="M330.5 53.5h4" stroke="#8a6f5d"/><path d="M333.5 53.5h4" stroke="#8e725e"/><path d="M336.5 53.5h4" stroke="#927560"/><path d="M339.5 53.5h4" stroke="#977863"/><path d="M342.5 53.5h4" stroke="#9b7d66"/><path d="M345.5 53.5h4" stroke="#a1816a"/><path d="M348.5 53.5h4" stroke="#a6866e"/><path d="M351.5 53.5h4" stroke="#ab8a71"/><path d="M354.5 53.5h4" stroke="#af8d74"/><path d="M357.5 53.5h4" stroke="#b39078"/><path d="M360.5 53.5h4" stroke="#b7947c"/><path d="M363.5 53.5h4" stroke="#bb9780"/><path d="M366.5 53.5h4" stroke="#be9a83"/><path d="M369.5 53.5h4" stroke="#c19d85"/><path d="M372.5 53.5h4" stroke="#c39f87"/><path d="M375.5 53.5h4" stroke="#c6a188"/><path d="M378.5 53.5h4" stroke="#c8a38a"/><path d="M381.5 53.5h4" stroke="#caa58b"/><path d="M384.5 53.5h4" stroke="#cca68b"/><path d="M387.5 53.5h4" stroke="#cda78c"/><path d="M390.5 53.5h4" stroke="#cea88c"/><path d="M393.5 53.5h4" stroke="#cfa98c"/><path d="M396.5 53.5h4" stroke="#d0aa8b"/><path d="M153.5 56.5h4" stroke="#c49c84"/><path d="M156.5 56.5h4" stroke="#c69e86"/><path d="M159.5 56.5h4" stroke="#c79f87"/><path d="M162.5 56.5h4" stroke="#c8a189"/><path d="M273.5 56.5h4" stroke="#47432c"/><path d="M276.5 56.5h4" stroke="#46412d"/><path d="M279.5 56.5h4" stroke="#46402d"/><path d="M282.5 56.5h4" stroke="#45402d"/><path d="M285.5 56.5h4" stroke="#46402e"/><path d="M288.5 56.5h4" stroke="#47412f"/><path d="M291.5 56.5h4" stroke="#494230"/><path d="M294.5 56.5h4" stroke="#4c4432"/><path d="M297.5 56.5h4" stroke="#4f4735"/><path d="M300.5 56.5h4" stroke="#534a38"/><path d="M303.5 56.5h4" stroke="#584e3b"/><path d="M306.5 56.5h4" stroke="#5d513e"/><path d="M309.5 56.5h4" stroke="#615442"/><path d="M312.5 56.5h4" stroke="#665845"/><path d="M315.5 56.5h4" stroke="#6c5b49"/><path d="M318.5 56.5h4" stroke="#725f4d"/><path d="M321.5 56.5h4" stroke="#796351"/><path d="M324.5 56.5h4" stroke="#806856"/><path d="M327.5 56.5h4" stroke="#866c59"/><path d="M330.5 56.5h4" stroke="#8b6f5b"/><path d="M333.5 56.5h4" stroke="#8f725d"/><path d="M336.5 56.5h4" stroke="#92745e"/><path d="M339.5 56.5h4" stroke="#967760"/><path d="M342.5 56.5h4" stroke="#9a7b63"/><path d="M345.5 56.5h4" stroke="#a08066"/><path d="M348.5 56.5h4" stroke="#a5846a"/><path d="M351.5 56.5h4" stroke="#aa886d"/><path d="M354.5 56.5h4" stroke="#ae8c70"/><path d="M357.5 56.5h4" stroke="#b18f74"/><path d="M360.5 56.5h4" stroke="#b59278"/><path d="M363.5 56.5h4" stroke="#b9967c"/><path d="M366.5 56.5h4" stroke="#bd997f"/><path d="M369.5 56.5h4" stroke="#c09c81"/><path d="M372.5 56.5h4" stroke="#c29e83"/><path d="M375.5 56.5h4" stroke="#c5a085"/><path d="M378.5 56.5h4" stroke="#c8a386"/><path d="M381.5 56.5h4" stroke="#caa488"/><path d="M384.5 56.5h4" stroke="#cba688"/><path d="M387.5 56.5h4" stroke="#cda789"/><path d="M390.5 56.5h4" stroke="#cea889"/><path d="M393.5 56.5h4" stroke="#cfa988"/><path d="M396.5 56.5h4" stroke="#d0aa87"/><path d="M399.5 56.5h4" stroke="#d1ab84"/><path d="M153.5 59.5h4" stroke="#c69e86"/><path d="M156.5 59.5h4" stroke="#c7a088"/><path d="M159.5 59.5h4" stroke="#c9a18a"/><path d="M162.5 59.5h4" stroke="#caa38b"/><path d="M165.5 59.5h4" stroke="#cba48c"/><path d="M270.5 59.5h4" stroke="#4a482b"/><path d="M273.5 59.5h4" stroke="#49462b"/><path d="M276.5 59.5h4" stroke="#48442c"/><path d="M279.5 59.5h4" stroke="#47432c"/><path d="M282.5 59.5h4" stroke="#47422d"/><path d="M285.5 59.5h4" stroke="#48422d"/><path d="M288.5 59.5h4" stroke="#49432e"/><path d="M291.5 59.5h4" stroke="#4b4430"/><path d="M294.5 59.5h4" stroke="#4e4731"/><path d="M297.5 59.5h4" stroke="#524934"/><path d="M300.5 59.5h4" stroke="#564d37"/><path d="M303.5 59.5h4" stroke="#5a503a"/><path d="M306.5 59.5h4" stroke="#5e533d"/><path d="M309.5 59.5h4" stroke="#635640"/><path d="M312.5 59.5h4" stroke="#675944"/><path d="M315.5 59.5h4" stroke="#6d5c48"/><path d="M318.5 59.5h4" stroke="#73604c"/><path d="M321.5 59.5h4" stroke="#7a6450"/><path d="M324.5 59.5h4" stroke="#816955"/><path d="M327.5 59.5h4" stroke="#876c58"/><path d="M330.5 59.5h4" stroke="#8c6f5a"/><path d="M333.5 59.5h4" stroke="#8f725c"/><path d="M336.5 59.5h4" stroke="#92745c"/><path d="M339.5 59.5h4" stroke="#95775d"/><path d="M342.5 59.5h4" stroke="#997a5f"/><path d="M345.5 59.5h4" stroke="#9f7f62"/><path d="M348.5 59.5h4" stroke="#a48365"/><path d="M351.5 59.5h4" stroke="#a98768"/><path d="M354.5 59.5h4" stroke="#ac8a6b"/><path d="M357.5 59.5h4" stroke="#b08d6e"/><path d="M360.5 59.5h4" stroke="#b49173"/><path d="M363.5 59.5h4" stroke="#b89577"/><path d="M366.5 59.5h4" stroke="#bb987a"/><path d="M369.5 59.5h4" stroke="#be9b7d"/><path d="M372.5 59.5h4" stroke="#c19d7e"/><path d="M375.5 59.5h4" stroke="#c4a080"/><path d="M378.5 59.5h4" stroke="#c7a282"/><path d="M381.5 59.5h4" stroke="#c9a483"/><path d="M384.5 59.5h4" stroke="#cba584"/><path d="M387.5 59.5h4" stroke="#cca684"/><path d="M390.5 59.5h4" stroke="#cda884"/><path d="M393.5 59.5h4" stroke="#cfa984"/><path d="M396.5 59.5h4" stroke="#d0aa82"/><path d="M399.5 59.5h4" stroke="#d0ab7f"/><path d="M402.5 59.5h4" stroke="#d0ac7a"/><path d="M156.5 62.5h4" stroke="#c9a28a"/><path d="M159.5 62.5h4" stroke="#cba38c"/><path d="M162.5 62.5h4" stroke="#cca48d"/><path d="M165.5 62.5h4" stroke="#cca58d"/><path d="M168.5 62.5h4" stroke="#cca58d"/><path d="M267.5 62.5h4" stroke="#4c4c2a"/><path d="M270.5 62.5h4" stroke="#4b4a2a"/><path d="M273.5 62.5h4" stroke="#4b492b"/><path d="M276.5 62.5h4" stroke="#4a472b"/><path d="M279.5 62.5h4" stroke="#4a462b"/><path d="M282.5 62.5h4" stroke="#4a452c"/><path d="M285.5 62.5h4" stroke="#4b452d"/><path d="M288.5 62.5h4" stroke="#4c462e"/><path d="M291.5 62.5h4" stroke="#4e472f"/><path d="M294.5 62.5h4" stroke="#514a31"/><path d="M297.5 62.5h4" stroke="#554c33"/><path d="M300.5 62.5h4" stroke="#594f35"/><path d="M303.5 62.5h4" stroke="#5d5238"/><path d="M306.5 62.5h4" stroke="#61553b"/><path d="M309.5 62.5h4" stroke="#65583e"/><path d="M312.5 62.5h4" stroke="#695b42"/><path d="M315.5 62.5h4" stroke="#6e5e46"/><path d="M318.5 62.5h4" stroke="#74624a"/><path d="M321.5 62.5h4" stroke="#7b664f"/><path d="M324.5 62.5h4" stroke="#826a53"/><path d="M327.5 62.5h4" stroke="#886d57"/><path d="M330.5 62.5h4" stroke="#8c7059"/><path d="M333.5 62.5h4" stroke="#8f725a"/><path d="M336.5 62.5h4" stroke="#92755a"/><path d="M339.5 62.5h4" stroke="#95775b"/><path d="M342.5 62.5h4" stroke="#997b5c"/><path d="M345.5 62.5h4" stroke="#9e7e5e"/><path d="M348.5 62.5h4" stroke="#a38260"/><path d="M351.5 62.5h4" stroke="#a78562"/><path d="M354.5 62.5h4" stroke="#ab8965"/><path d="M357.5 62.5h4" stroke="#ae8c69"/><path d="M360.5 62.5h4" stroke="#b2906d"/><path d="M363.5 62.5h4" stroke="#b79472"/><path d="M366.5 62.5h4" stroke="#ba9775"/><path d="M369.5 62.5h4" stroke="#bd9a77"/><path d="M372.5 62.5h4" stroke="#c09d78"/><path d="M375.5 62.5h4" stroke="#c39f7a"/><path d="M378.5 62.5h4" stroke="#c5a17b"/><path d="M381.5 62.5h4" stroke="#c8a37d"/><path d="M384.5 62.5h4" stroke="#caa57e"/><path d="M387.5 62.5h4" stroke="#cba67e"/><path d="M390.5 62.5h4" stroke="#cda87e"/><path d="M393.5 62.5h4" stroke="#cea97d"/><path d="M396.5 62.5h4" stroke="#cfaa7b"/><path d="M399.5 62.5h4" stroke="#d0ac78"/><path d="M402.5 62.5h4" stroke="#d0ad73"/><path d="M405.5 62.5h4" stroke="#cfae6c"/><path d="M408.5 62.5h4" stroke="#ceb064"/><path d="M156.5 65.5h4" stroke="#cba48d"/><path d="M159.5 65.5h4" stroke="#cca58e"/><path d="M162.5 65.5h4" stroke="#cda68e"/><path d="M165.5 65.5h4" stroke="#cda68e"/><path d="M168.5 65.5h4" stroke="#cda68d"/><path d="M171.5 65.5h4" stroke="#cca58c"/><path d="M264.5 65.5h4" stroke="#4d4f29"/><path d="M267.5 65.5h4" stroke="#4d4e2a"/><path d="M270.5 65.5h4" stroke="#4d4d2a"/><path d="M273.5 65.5h4" stroke="#4d4c2a"/><path d="M276.5 65.5h4" stroke="#4c4a2a"/><path d="M279.5 65.5h4" stroke="#4c492b"/><path d="M282.5 65.5h4" stroke="#4c482b"/><path d="M285.5 65.5h4" stroke="#4d482c"/><path d="M288.5 65.5h4" stroke="#4f492d"/><path d="M291.5 65.5h4" stroke="#514a2f"/><path d="M294.5 65.5h4" stroke="#544c30"/><path d="M297.5 65.5h4" stroke="#584f32"/><path d="M300.5 65.5h4" stroke="#5b5234"/><path d="M303.5 65.5h4" stroke="#5f5536"/><path d="M306.5 65.5h4" stroke="#635839"/><path d="M309.5 65.5h4" stroke="#675b3c"/><path d="M312.5 65.5h4" stroke="#6c5e3f"/><path d="M315.5 65.5h4" stroke="#716143"/><path d="M318.5 65.5h4" stroke="#776547"/><path d="M321.5 65.5h4" stroke="#7d684c"/><path d="M324.5 65.5h4" stroke="#836c50"/><path d="M327.5 65.5h4" stroke="#896f54"/><path d="M330.5 65.5h4" stroke="#8d7156"/><path d="M333.5 65.5h4" stroke="#907457"/><path d="M336.5 65.5h4" stroke="#937658"/><path d="M339.5 65.5h4" stroke="#967858"/><path d="M342.5 65.5h4" stroke="#9a7c58"/><path d="M345.5 65.5h4" stroke="#9e7f59"/><path d="M348.5 65.5h4" stroke="#a3825b"/><path d="M351.5 65.5h4" stroke="#a6855d"/><path d="M354.5 65.5h4" stroke="#aa885f"/><path d="M357.5 65.5h4" stroke="#ad8b62"/><path d="M360.5 65.5h4" stroke="#b18f66"/><path d="M363.5 65.5h4" stroke="#b5946b"/><path d="M366.5 65.5h4" stroke="#b9976e"/><path d="M369.5 65.5h4" stroke="#bc9a70"/><path d="M372.5 65.5h4" stroke="#bf9d71"/><path d="M375.5 65.5h4" stroke="#c19f72"/><path d="M378.5 65.5h4" stroke="#c4a174"/><path d="M381.5 65.5h4" stroke="#c6a375"/><path d="M384.5 65.5h4" stroke="#c8a576"/><path d="M387.5 65.5h4" stroke="#caa676"/><path d="M390.5 65.5h4" stroke="#cba876"/><path d="M393.5 65.5h4" stroke="#cda975"/><path d="M396.5 65.5h4" stroke="#ceab73"/><path d="M399.5 65.5h4" stroke="#cfac70"/><path d="M402.5 65.5h4" stroke="#cfae6b"/><path d="M405.5 65.5h4" stroke="#ceaf65"/><path d="M408.5 65.5h4" stroke="#ceb15e"/><path d="M411.5 65.5h4" stroke="#cdb355"/><path d="M414.5 65.5h4" stroke="#ccb64e"/><path d="M156.5 68.5h4" stroke="#cda68f"/><path d="M159.5 68.5h4" stroke="#cea78f"/><path d="M162.5 68.5h4" stroke="#cea78f"/><path d="M165.5 68.5h4" stroke="#cda68e"/><path d="M168.5 68.5h4" stroke="#cda68d"/><path d="M171.5 68.5h4" stroke="#cca58b"/><path d="M174.5 68.5h4" stroke="#caa389"/><path d="M261.5 68.5h4" stroke="#4f5228"/><path d="M264.5 68.5h4" stroke="#4f5129"/><path d="M267.5 68.5h4" stroke="#4f5029"/><path d="M270.5 68.5h4" stroke="#4f4f29"/><path d="M273.5 68.5h4" stroke="#4e4e2a"/><path d="M276.5 68.5h4" stroke="#4e4d2a"/><path d="M279.5 68.5h4" stroke="#4e4c2a"/><path d="M282.5 68.5h4" stroke="#4f4b2b"/><path d="M285.5 68.5h4" stroke="#504b2b"/><path d="M288.5 68.5h4" stroke="#514c2d"/><path d="M291.5 68.5h4" stroke="#544d2e"/><path d="M294.5 68.5h4" stroke="#574f30"/><path d="M297.5 68.5h4" stroke="#5a5232"/><path d="M300.5 68.5h4" stroke="#5e5533"/><path d="M303.5 68.5h4" stroke="#625835"/><path d="M306.5 68.5h4" stroke="#665b38"/><path d="M309.5 68.5h4" stroke="#6a5e3a"/><path d="M312.5 68.5h4" stroke="#6f613d"/><path d="M315.5 68.5h4" stroke="#746540"/><path d="M318.5 68.5h4" stroke="#796843"/><path d="M321.5 68.5h4" stroke="#7e6b47"/><path d="M324.5 68.5h4" stroke="#846e4b"/><path d="M327.5 68.5h4" stroke="#89714f"/><path d="M330.5 68.5h4" stroke="#8d7351"/><path d="M333.5 68.5h4" stroke="#917653"/><path d="M336.5 68.5h4" stroke="#947853"/><path d="M339.5 68.5h4" stroke="#977a53"/><path d="M342.5 68.5h4" stroke="#9b7d54"/><path d="M345.5 68.5h4" stroke="#9f8055"/><path d="M348.5 68.5h4" stroke="#a28356"/><path d="M351.5 68.5h4" stroke="#a68658"/><path d="M354.5 68.5h4" stroke="#a9895a"/><path d="M357.5 68.5h4" stroke="#ac8c5c"/><path d="M360.5 68.5h4" stroke="#b0905f"/><path d="M363.5 68.5h4" stroke="#b49463"/><path d="M366.5 68.5h4" stroke="#b89866"/><path d="M369.5 68.5h4" stroke="#bb9b68"/><path d="M372.5 68.5h4" stroke="#be9d69"/><path d="M375.5 68.5h4" stroke="#c09f6a"/><path d="M378.5 68.5h4" stroke="#c3a16b"/><path d="M381.5 68.5h4" stroke="#c5a36b"/><path d="M384.5 68.5h4" stroke="#c7a56c"/><path d="M387.5 68.5h4" stroke="#c9a66c"/><path d="M390.5 68.5h4" stroke="#caa86c"/><path d="M393.5 68.5h4" stroke="#ccaa6b"/><path d="M396.5 68.5h4" stroke="#cdab6a"/><path d="M399.5 68.5h4" stroke="#cdad67"/><path d="M402.5 68.5h4" stroke="#ceaf63"/><path d="M405.5 68.5h4" stroke="#cdb05e"/><path d="M408.5 68.5h4" stroke="#cdb357"/><path d="M411.5 68.5h4" stroke="#ccb54f"/><path d="M414.5 68.5h4" stroke="#cbb848"/><path d="M159.5 71.5h4" stroke="#cea890"/><path d="M162.5 71.5h4" stroke="#cea78f"/><path d="M165.5 71.5h4" stroke="#cda78e"/><path d="M168.5 71.5h4" stroke="#cca68c"/><path d="M171.5 71.5h4" stroke="#cba48a"/><path d="M174.5 71.5h4" stroke="#caa387"/><path d="M177.5 71.5h4" stroke="#c8a183"/><path d="M258.5 71.5h4" stroke="#515627"/><path d="M261.5 71.5h4" stroke="#505527"/><path d="M264.5 71.5h4" stroke="#505428"/><path d="M267.5 71.5h4" stroke="#505329"/><path d="M270.5 71.5h4" stroke="#505229"/><path d="M273.5 71.5h4" stroke="#505129"/><path d="M276.5 71.5h4" stroke="#505029"/><path d="M279.5 71.5h4" stroke="#514f2a"/><path d="M282.5 71.5h4" stroke="#514f2a"/><path d="M285.5 71.5h4" stroke="#524f2b"/><path d="M288.5 71.5h4" stroke="#544f2c"/><path d="M291.5 71.5h4" stroke="#56512e"/><path d="M294.5 71.5h4" stroke="#5a532f"/><path d="M297.5 71.5h4" stroke="#5d5531"/><path d="M300.5 71.5h4" stroke="#615833"/><path d="M303.5 71.5h4" stroke="#655b35"/><path d="M306.5 71.5h4" stroke="#695e37"/><path d="M309.5 71.5h4" stroke="#6d6139"/><path d="M312.5 71.5h4" stroke="#72653c"/><path d="M315.5 71.5h4" stroke="#77683e"/><path d="M318.5 71.5h4" stroke="#7b6b40"/><path d="M321.5 71.5h4" stroke="#7f6e43"/><path d="M324.5 71.5h4" stroke="#847145"/><path d="M327.5 71.5h4" stroke="#887348"/><path d="M330.5 71.5h4" stroke="#8d764b"/><path d="M333.5 71.5h4" stroke="#91784d"/><path d="M336.5 71.5h4" stroke="#957a4e"/><path d="M339.5 71.5h4" stroke="#987d4e"/><path d="M342.5 71.5h4" stroke="#9b7f4f"/><path d="M345.5 71.5h4" stroke="#9f8150"/><path d="M348.5 71.5h4" stroke="#a28452"/><path d="M351.5 71.5h4" stroke="#a68753"/><path d="M354.5 71.5h4" stroke="#a98a54"/><path d="M357.5 71.5h4" stroke="#ac8e55"/><path d="M360.5 71.5h4" stroke="#af9157"/><path d="M363.5 71.5h4" stroke="#b3955a"/><path d="M366.5 71.5h4" stroke="#b7995d"/><path d="M369.5 71.5h4" stroke="#ba9c5f"/><path d="M372.5 71.5h4" stroke="#bd9e60"/><path d="M375.5 71.5h4" stroke="#bfa060"/><path d="M378.5 71.5h4" stroke="#c1a261"/><path d="M381.5 71.5h4" stroke="#c4a461"/><path d="M384.5 71.5h4" stroke="#c5a562"/><path d="M387.5 71.5h4" stroke="#c7a762"/><path d="M390.5 71.5h4" stroke="#c9a962"/><path d="M393.5 71.5h4" stroke="#caab61"/><path d="M396.5 71.5h4" stroke="#cbad60"/><path d="M399.5 71.5h4" stroke="#ccae5e"/><path d="M402.5 71.5h4" stroke="#ccb05a"/><path d="M405.5 71.5h4" stroke="#ccb256"/><path d="M408.5 71.5h4" stroke="#ccb550"/><path d="M411.5 71.5h4" stroke="#cbb749"/><path d="M414.5 71.5h4" stroke="#caba43"/><path d="M417.5 71.5h4" stroke="#c9bd3d"/><path d="M159.5 74.5h4" stroke="#cfa890"/><path d="M162.5 74.5h4" stroke="#cea88f"/><path d="M165.5 74.5h4" stroke="#cda78e"/><path d="M168.5 74.5h4" stroke="#cca58b"/><path d="M171.5 74.5h4" stroke="#cba488"/><path d="M174.5 74.5h4" stroke="#c9a285"/><path d="M177.5 74.5h4" stroke="#c7a181"/><path d="M180.5 74.5h4" stroke="#c59f7d"/><path d="M255.5 74.5h4" stroke="#535c26"/><path d="M258.5 74.5h4" stroke="#525a26"/><path d="M261.5 74.5h4" stroke="#525827"/><path d="M264.5 74.5h4" stroke="#525727"/><path d="M267.5 74.5h4" stroke="#525628"/><path d="M270.5 74.5h4" stroke="#525529"/><path d="M273.5 74.5h4" stroke="#525429"/><path d="M276.5 74.5h4" stroke="#535429"/><path d="M279.5 74.5h4" stroke="#535329"/><path d="M282.5 74.5h4" stroke="#54532a"/><path d="M285.5 74.5h4" stroke="#56532a"/><path d="M288.5 74.5h4" stroke="#58542b"/><path d="M291.5 74.5h4" stroke="#5a562d"/><path d="M294.5 74.5h4" stroke="#5d582e"/><path d="M297.5 74.5h4" stroke="#615a30"/><path d="M300.5 74.5h4" stroke="#645c32"/><path d="M303.5 74.5h4" stroke="#685f34"/><path d="M306.5 74.5h4" stroke="#6c6236"/><path d="M309.5 74.5h4" stroke="#706538"/><path d="M312.5 74.5h4" stroke="#75683b"/><path d="M315.5 74.5h4" stroke="#796b3d"/><path d="M318.5 74.5h4" stroke="#7c6e3e"/><path d="M321.5 74.5h4" stroke="#80713f"/><path d="M324.5 74.5h4" stroke="#847341"/><path d="M327.5 74.5h4" stroke="#887643"/><path d="M330.5 74.5h4" stroke="#8c7845"/><path d="M333.5 74.5h4" stroke="#917a47"/><path d="M336.5 74.5h4" stroke="#957c48"/><path d="M339.5 74.5h4" stroke="#987e49"/><path d="M342.5 74.5h4" stroke="#9b814b"/><path d="M345.5 74.5h4" stroke="#9f834c"/><path d="M348.5 74.5h4" stroke="#a2864d"/><path d="M351.5 74.5h4" stroke="#a5894e"/><path d="M354.5 74.5h4" stroke="#a98c4f"/><path d="M357.5 74.5h4" stroke="#ac904f"/><path d="M360.5 74.5h4" stroke="#af9350"/><path d="M363.5 74.5h4" stroke="#b29751"/><path d="M366.5 74.5h4" stroke="#b69a54"/><path d="M369.5 74.5h4" stroke="#b99d56"/><path d="M372.5 74.5h4" stroke="#bb9f57"/><path d="M375.5 74.5h4" stroke="#bea157"/><path d="M378.5 74.5h4" stroke="#c0a357"/><path d="M381.5 74.5h4" stroke="#c2a557"/><path d="M384.5 74.5h4" stroke="#c4a757"/><path d="M387.5 74.5h4" stroke="#c6a957"/><path d="M390.5 74.5h4" stroke="#c7aa57"/><path d="M393.5 74.5h4" stroke="#c8ad56"/><path d="M396.5 74.5h4" stroke="#caae55"/><path d="M399.5 74.5h4" stroke="#cab053"/><path d="M402.5 74.5h4" stroke="#cbb251"/><path d="M405.5 74.5h4" stroke="#cbb44d"/><path d="M408.5 74.5h4" stroke="#cab748"/><path d="M411.5 74.5h4" stroke="#caba42"/><path d="M414.5 74.5h4" stroke="#c9bd3d"/><path d="M417.5 74.5h4" stroke="#c8bf39"/><path d="M420.5 74.5h4" stroke="#c8c135"/><path d="M159.5 77.5h4" stroke="#cfa991"/><path d="M162.5 77.5h4" stroke="#cfa88f"/><path d="M165.5 77.5h4" stroke="#cea78d"/><path d="M168.5 77.5h4" stroke="#cca68a"/><path d="M171.5 77.5h4" stroke="#caa487"/><path d="M174.5 77.5h4" stroke="#c9a283"/><path d="M177.5 77.5h4" stroke="#c7a17f"/><path d="M180.5 77.5h4" stroke="#c59f7c"/><path d="M183.5 77.5h4" stroke="#c39e78"/><path d="M252.5 77.5h4" stroke="#586426"/><path d="M255.5 77.5h4" stroke="#566026"/><path d="M258.5 77.5h4" stroke="#545e26"/><path d="M261.5 77.5h4" stroke="#545c26"/><path d="M264.5 77.5h4" stroke="#535a27"/><path d="M267.5 77.5h4" stroke="#535927"/><path d="M270.5 77.5h4" stroke="#545828"/><path d="M273.5 77.5h4" stroke="#555829"/><path d="M276.5 77.5h4" stroke="#555829"/><path d="M279.5 77.5h4" stroke="#575829"/><path d="M282.5 77.5h4" stroke="#58592a"/><path d="M285.5 77.5h4" stroke="#5a5a2a"/><path d="M288.5 77.5h4" stroke="#5c5b2b"/><path d="M291.5 77.5h4" stroke="#5f5d2c"/><path d="M294.5 77.5h4" stroke="#625f2d"/><path d="M297.5 77.5h4" stroke="#65612f"/><path d="M300.5 77.5h4" stroke="#686230"/><path d="M303.5 77.5h4" stroke="#6b6432"/><path d="M306.5 77.5h4" stroke="#6f6634"/><path d="M309.5 77.5h4" stroke="#726937"/><path d="M312.5 77.5h4" stroke="#766c39"/><path d="M315.5 77.5h4" stroke="#7a6f3a"/><path d="M318.5 77.5h4" stroke="#7e713c"/><path d="M321.5 77.5h4" stroke="#81743d"/><path d="M324.5 77.5h4" stroke="#85763e"/><path d="M327.5 77.5h4" stroke="#88783f"/><path d="M330.5 77.5h4" stroke="#8c7a40"/><path d="M333.5 77.5h4" stroke="#907c42"/><path d="M336.5 77.5h4" stroke="#947e44"/><path d="M339.5 77.5h4" stroke="#978045"/><path d="M342.5 77.5h4" stroke="#9b8247"/><path d="M345.5 77.5h4" stroke="#9e8448"/><path d="M348.5 77.5h4" stroke="#a28749"/><path d="M351.5 77.5h4" stroke="#a58b4a"/><path d="M354.5 77.5h4" stroke="#a98e4a"/><path d="M357.5 77.5h4" stroke="#ac924a"/><path d="M360.5 77.5h4" stroke="#af954a"/><path d="M363.5 77.5h4" stroke="#b2994a"/><path d="M366.5 77.5h4" stroke="#b59c4b"/><path d="M369.5 77.5h4" stroke="#b79f4d"/><path d="M372.5 77.5h4" stroke="#baa14e"/><path d="M375.5 77.5h4" stroke="#bda34e"/><path d="M378.5 77.5h4" stroke="#bfa54d"/><path d="M381.5 77.5h4" stroke="#c1a74d"/><path d="M384.5 77.5h4" stroke="#c2a94d"/><path d="M387.5 77.5h4" stroke="#c4ab4d"/><path d="M390.5 77.5h4" stroke="#c5ad4c"/><path d="M393.5 77.5h4" stroke="#c7af4b"/><path d="M396.5 77.5h4" stroke="#c8b14a"/><path d="M399.5 77.5h4" stroke="#c9b349"/><path d="M402.5 77.5h4" stroke="#c9b547"/><path d="M405.5 77.5h4" stroke="#c9b745"/><path d="M408.5 77.5h4" stroke="#c9ba41"/><path d="M411.5 77.5h4" stroke="#c8bd3c"/><path d="M414.5 77.5h4" stroke="#c8bf38"/><path d="M417.5 77.5h4" stroke="#c7c135"/><path d="M420.5 77.5h4" stroke="#c6c332"/><path d="M162.5 80.5h4" stroke="#cfa990"/><path d="M165.5 80.5h4" stroke="#cea88d"/><path d="M168.5 80.5h4" stroke="#cca68a"/><path d="M171.5 80.5h4" stroke="#caa486"/><path d="M174.5 80.5h4" stroke="#c9a282"/><path d="M177.5 80.5h4" stroke="#c7a17e"/><path d="M180.5 80.5h4" stroke="#c5a07a"/><path d="M183.5 80.5h4" stroke="#c39f76"/><path d="M186.5 80.5h4" stroke="#c19e71"/><path d="M189.5 80.5h4" stroke="#c09f6d"/><path d="M249.5 80.5h4" stroke="#5f6e26"/><path d="M252.5 80.5h4" stroke="#5b6a26"/><path d="M255.5 80.5h4" stroke="#596626"/><path d="M258.5 80.5h4" stroke="#576326"/><path d="M261.5 80.5h4" stroke="#566026"/><path d="M264.5 80.5h4" stroke="#555e26"/><path d="M267.5 80.5h4" stroke="#555d27"/><path d="M270.5 80.5h4" stroke="#565c28"/><path d="M273.5 80.5h4" stroke="#575d28"/><path d="M276.5 80.5h4" stroke="#595d29"/><path d="M279.5 80.5h4" stroke="#5b5e29"/><path d="M282.5 80.5h4" stroke="#5d6029"/><path d="M285.5 80.5h4" stroke="#5f612a"/><path d="M288.5 80.5h4" stroke="#61632a"/><path d="M291.5 80.5h4" stroke="#64642b"/><path d="M294.5 80.5h4" stroke="#67662c"/><path d="M297.5 80.5h4" stroke="#69682d"/><path d="M300.5 80.5h4" stroke="#6c692e"/><path d="M303.5 80.5h4" stroke="#6e6a2f"/><path d="M306.5 80.5h4" stroke="#716b31"/><path d="M309.5 80.5h4" stroke="#746d34"/><path d="M312.5 80.5h4" stroke="#787036"/><path d="M315.5 80.5h4" stroke="#7b7337"/><path d="M318.5 80.5h4" stroke="#7e7538"/><path d="M321.5 80.5h4" stroke="#827739"/><path d="M324.5 80.5h4" stroke="#85793a"/><path d="M327.5 80.5h4" stroke="#887b3c"/><path d="M330.5 80.5h4" stroke="#8c7d3d"/><path d="M333.5 80.5h4" stroke="#8f7f3e"/><path d="M336.5 80.5h4" stroke="#938140"/><path d="M339.5 80.5h4" stroke="#968341"/><path d="M342.5 80.5h4" stroke="#9a8442"/><path d="M345.5 80.5h4" stroke="#9d8744"/><path d="M348.5 80.5h4" stroke="#a18a45"/><path d="M351.5 80.5h4" stroke="#a58d46"/><path d="M354.5 80.5h4" stroke="#a99146"/><path d="M357.5 80.5h4" stroke="#ac9445"/><path d="M360.5 80.5h4" stroke="#af9845"/><path d="M363.5 80.5h4" stroke="#b19b44"/><path d="M366.5 80.5h4" stroke="#b49e44"/><path d="M369.5 80.5h4" stroke="#b6a144"/><path d="M372.5 80.5h4" stroke="#b9a345"/><path d="M375.5 80.5h4" stroke="#bba545"/><path d="M378.5 80.5h4" stroke="#bda745"/><path d="M381.5 80.5h4" stroke="#bfa944"/><path d="M384.5 80.5h4" stroke="#c1ab44"/><path d="M387.5 80.5h4" stroke="#c2ad43"/><path d="M390.5 80.5h4" stroke="#c3b042"/><path d="M393.5 80.5h4" stroke="#c5b241"/><path d="M396.5 80.5h4" stroke="#c6b440"/><path d="M399.5 80.5h4" stroke="#c7b63f"/><path d="M402.5 80.5h4" stroke="#c7b83e"/><path d="M405.5 80.5h4" stroke="#c8ba3c"/><path d="M408.5 80.5h4" stroke="#c8bd3a"/><path d="M411.5 80.5h4" stroke="#c7c036"/><path d="M414.5 80.5h4" stroke="#c6c233"/><path d="M417.5 80.5h4" stroke="#c6c331"/><path d="M420.5 80.5h4" stroke="#c5c430"/><path d="M162.5 83.5h4" stroke="#d0aa90"/><path d="M165.5 83.5h4" stroke="#cea98d"/><path d="M168.5 83.5h4" stroke="#cda789"/><path d="M171.5 83.5h4" stroke="#cba585"/><path d="M174.5 83.5h4" stroke="#c9a381"/><path d="M177.5 83.5h4" stroke="#c7a17d"/><path d="M180.5 83.5h4" stroke="#c5a078"/><path d="M183.5 83.5h4" stroke="#c39f74"/><path d="M186.5 83.5h4" stroke="#c19f6f"/><path d="M189.5 83.5h4" stroke="#c0a06a"/><path d="M192.5 83.5h4" stroke="#bea164"/><path d="M246.5 83.5h4" stroke="#667926"/><path d="M249.5 83.5h4" stroke="#627426"/><path d="M252.5 83.5h4" stroke="#5f7026"/><path d="M255.5 83.5h4" stroke="#5d6c26"/><path d="M258.5 83.5h4" stroke="#5b6826"/><path d="M261.5 83.5h4" stroke="#596626"/><path d="M264.5 83.5h4" stroke="#586326"/><path d="M267.5 83.5h4" stroke="#586227"/><path d="M270.5 83.5h4" stroke="#596127"/><path d="M273.5 83.5h4" stroke="#5a6228"/><path d="M276.5 83.5h4" stroke="#5d6329"/><path d="M279.5 83.5h4" stroke="#5f6529"/><path d="M282.5 83.5h4" stroke="#616629"/><path d="M285.5 83.5h4" stroke="#636729"/><path d="M288.5 83.5h4" stroke="#65682a"/><path d="M291.5 83.5h4" stroke="#686a2a"/><path d="M294.5 83.5h4" stroke="#6a6b2b"/><path d="M297.5 83.5h4" stroke="#6c6d2b"/><path d="M300.5 83.5h4" stroke="#6e6e2c"/><path d="M303.5 83.5h4" stroke="#706e2d"/><path d="M306.5 83.5h4" stroke="#726f2f"/><path d="M309.5 83.5h4" stroke="#757230"/><path d="M312.5 83.5h4" stroke="#787432"/><path d="M315.5 83.5h4" stroke="#7c7733"/><path d="M318.5 83.5h4" stroke="#7f7a34"/><path d="M321.5 83.5h4" stroke="#827b35"/><path d="M324.5 83.5h4" stroke="#857d37"/><path d="M327.5 83.5h4" stroke="#887e38"/><path d="M330.5 83.5h4" stroke="#8c8039"/><path d="M333.5 83.5h4" stroke="#8f823b"/><path d="M336.5 83.5h4" stroke="#92833c"/><path d="M339.5 83.5h4" stroke="#96853d"/><path d="M342.5 83.5h4" stroke="#99873e"/><path d="M345.5 83.5h4" stroke="#9c8a3f"/><path d="M348.5 83.5h4" stroke="#a08d40"/><path d="M351.5 83.5h4" stroke="#a49041"/><path d="M354.5 83.5h4" stroke="#a89441"/><path d="M357.5 83.5h4" stroke="#ac9741"/><path d="M360.5 83.5h4" stroke="#af9b40"/><path d="M363.5 83.5h4" stroke="#b19e3e"/><path d="M366.5 83.5h4" stroke="#b3a13e"/><path d="M369.5 83.5h4" stroke="#b5a33d"/><path d="M372.5 83.5h4" stroke="#b7a53d"/><path d="M375.5 83.5h4" stroke="#b9a73d"/><path d="M378.5 83.5h4" stroke="#bca93d"/><path d="M381.5 83.5h4" stroke="#bdab3d"/><path d="M384.5 83.5h4" stroke="#bfad3c"/><path d="M387.5 83.5h4" stroke="#c0b03b"/><path d="M390.5 83.5h4" stroke="#c1b33a"/><path d="M393.5 83.5h4" stroke="#c3b539"/><path d="M396.5 83.5h4" stroke="#c4b739"/><path d="M399.5 83.5h4" stroke="#c5b938"/><path d="M402.5 83.5h4" stroke="#c6bb37"/><path d="M405.5 83.5h4" stroke="#c6bd36"/><path d="M408.5 83.5h4" stroke="#c6bf34"/><path d="M411.5 83.5h4" stroke="#c6c232"/><path d="M414.5 83.5h4" stroke="#c5c330"/><path d="M417.5 83.5h4" stroke="#c5c42f"/><path d="M420.5 83.5h4" stroke="#c4c52e"/><path d="M423.5 83.5h4" stroke="#c4c52e"/><path d="M162.5 86.5h4" stroke="#d0ac90"/><path d="M165.5 86.5h4" stroke="#cfaa8d"/><path d="M168.5 86.5h4" stroke="#cda889"/><path d="M171.5 86.5h4" stroke="#cba685"/><path d="M174.5 86.5h4" stroke="#c9a480"/><path d="M177.5 86.5h4" stroke="#c7a27c"/><path d="M180.5 86.5h4" stroke="#c5a177"/><path d="M183.5 86.5h4" stroke="#c3a072"/><path d="M186.5 86.5h4" stroke="#c1a06d"/><path d="M189.5 86.5h4" stroke="#c0a167"/><path d="M192.5 86.5h4" stroke="#bea261"/><path d="M195.5 86.5h4" stroke="#bca45a"/><path d="M198.5 86.5h4" stroke="#baa652"/><path d="M243.5 86.5h4" stroke="#6e8327"/><path d="M246.5 86.5h4" stroke="#697e26"/><path d="M249.5 86.5h4" stroke="#667a26"/><path d="M252.5 86.5h4" stroke="#637626"/><path d="M255.5 86.5h4" stroke="#607226"/><path d="M258.5 86.5h4" stroke="#5e6f26"/><path d="M261.5 86.5h4" stroke="#5c6c26"/><path d="M264.5 86.5h4" stroke="#5b6926"/><path d="M267.5 86.5h4" stroke="#5b6726"/><path d="M270.5 86.5h4" stroke="#5c6727"/><path d="M273.5 86.5h4" stroke="#5e6828"/><path d="M276.5 86.5h4" stroke="#606928"/><path d="M279.5 86.5h4" stroke="#626b29"/><path d="M282.5 86.5h4" stroke="#646b29"/><path d="M285.5 86.5h4" stroke="#666c29"/><path d="M288.5 86.5h4" stroke="#686c2a"/><path d="M291.5 86.5h4" stroke="#6a6d2a"/><path d="M294.5 86.5h4" stroke="#6c6f2a"/><path d="M297.5 86.5h4" stroke="#6e702a"/><path d="M300.5 86.5h4" stroke="#6f702b"/><path d="M303.5 86.5h4" stroke="#71712c"/><path d="M306.5 86.5h4" stroke="#73722c"/><path d="M309.5 86.5h4" stroke="#76752d"/><path d="M312.5 86.5h4" stroke="#79782e"/><path d="M315.5 86.5h4" stroke="#7c7b2f"/><path d="M318.5 86.5h4" stroke="#7f7e30"/><path d="M321.5 86.5h4" stroke="#827f32"/><path d="M324.5 86.5h4" stroke="#858133"/><path d="M327.5 86.5h4" stroke="#898235"/><path d="M330.5 86.5h4" stroke="#8c8336"/><path d="M333.5 86.5h4" stroke="#8f8537"/><path d="M336.5 86.5h4" stroke="#928638"/><path d="M339.5 86.5h4" stroke="#958839"/><path d="M342.5 86.5h4" stroke="#988b39"/><path d="M345.5 86.5h4" stroke="#9b8d3a"/><path d="M348.5 86.5h4" stroke="#9f903a"/><path d="M351.5 86.5h4" stroke="#a3933b"/><path d="M354.5 86.5h4" stroke="#a7973c"/><path d="M357.5 86.5h4" stroke="#ab9a3b"/><path d="M360.5 86.5h4" stroke="#ae9e3a"/><path d="M363.5 86.5h4" stroke="#b0a139"/><path d="M366.5 86.5h4" stroke="#b2a338"/><path d="M369.5 86.5h4" stroke="#b4a538"/><path d="M372.5 86.5h4" stroke="#b6a738"/><path d="M375.5 86.5h4" stroke="#b8a937"/><path d="M378.5 86.5h4" stroke="#baab37"/><path d="M381.5 86.5h4" stroke="#bbae37"/><path d="M384.5 86.5h4" stroke="#bdb036"/><path d="M387.5 86.5h4" stroke="#beb335"/><path d="M390.5 86.5h4" stroke="#c0b634"/><path d="M393.5 86.5h4" stroke="#c1b834"/><path d="M396.5 86.5h4" stroke="#c2ba33"/><path d="M399.5 86.5h4" stroke="#c4bc33"/><path d="M402.5 86.5h4" stroke="#c5bd32"/><path d="M405.5 86.5h4" stroke="#c5bf31"/><path d="M408.5 86.5h4" stroke="#c5c130"/><path d="M411.5 86.5h4" stroke="#c5c32f"/><path d="M414.5 86.5h4" stroke="#c4c42e"/><path d="M417.5 86.5h4" stroke="#c4c52e"/><path d="M420.5 86.5h4" stroke="#c3c52d"/><path d="M423.5 86.5h4" stroke="#c3c52d"/><path d="M165.5 89.5h4" stroke="#d0ab8c"/><path d="M168.5 89.5h4" stroke="#cea989"/><path d="M171.5 89.5h4" stroke="#cca784"/><path d="M174.5 89.5h4" stroke="#caa580"/><path d="M177.5 89.5h4" stroke="#c8a37b"/><path d="M180.5 89.5h4" stroke="#c6a275"/><path d="M183.5 89.5h4" stroke="#c4a270"/><path d="M186.5 89.5h4" stroke="#c2a26a"/><path d="M189.5 89.5h4" stroke="#c0a264"/><path d="M192.5 89.5h4" stroke="#bea45e"/><path d="M195.5 89.5h4" stroke="#bca656"/><path d="M198.5 89.5h4" stroke="#baa84e"/><path d="M201.5 89.5h4" stroke="#b7aa46"/><path d="M204.5 89.5h4" stroke="#b3ac3e"/><path d="M240.5 89.5h4" stroke="#758d27"/><path d="M243.5 89.5h4" stroke="#708727"/><path d="M246.5 89.5h4" stroke="#6c8227"/><path d="M249.5 89.5h4" stroke="#697e27"/><path d="M252.5 89.5h4" stroke="#667b26"/><path d="M255.5 89.5h4" stroke="#647826"/><path d="M258.5 89.5h4" stroke="#627526"/><path d="M261.5 89.5h4" stroke="#607226"/><path d="M264.5 89.5h4" stroke="#5f6f26"/><path d="M267.5 89.5h4" stroke="#5e6d26"/><path d="M270.5 89.5h4" stroke="#5f6c27"/><path d="M273.5 89.5h4" stroke="#616d28"/><path d="M276.5 89.5h4" stroke="#636f28"/><path d="M279.5 89.5h4" stroke="#656f29"/><path d="M282.5 89.5h4" stroke="#666f29"/><path d="M285.5 89.5h4" stroke="#686f29"/><path d="M288.5 89.5h4" stroke="#696f29"/><path d="M291.5 89.5h4" stroke="#6b7029"/><path d="M294.5 89.5h4" stroke="#6d712a"/><path d="M297.5 89.5h4" stroke="#6f712a"/><path d="M300.5 89.5h4" stroke="#70722a"/><path d="M303.5 89.5h4" stroke="#71732b"/><path d="M306.5 89.5h4" stroke="#73742b"/><path d="M309.5 89.5h4" stroke="#76772c"/><path d="M312.5 89.5h4" stroke="#797b2c"/><path d="M315.5 89.5h4" stroke="#7c7e2d"/><path d="M318.5 89.5h4" stroke="#80812d"/><path d="M321.5 89.5h4" stroke="#83832e"/><path d="M324.5 89.5h4" stroke="#868430"/><path d="M327.5 89.5h4" stroke="#898531"/><path d="M330.5 89.5h4" stroke="#8c8633"/><path d="M333.5 89.5h4" stroke="#8f8834"/><path d="M336.5 89.5h4" stroke="#928935"/><path d="M339.5 89.5h4" stroke="#958b36"/><path d="M342.5 89.5h4" stroke="#988d36"/><path d="M345.5 89.5h4" stroke="#9b9036"/><path d="M348.5 89.5h4" stroke="#9e9336"/><path d="M351.5 89.5h4" stroke="#a19636"/><path d="M354.5 89.5h4" stroke="#a59a36"/><path d="M357.5 89.5h4" stroke="#a99d36"/><path d="M360.5 89.5h4" stroke="#ada135"/><path d="M363.5 89.5h4" stroke="#afa335"/><path d="M366.5 89.5h4" stroke="#b1a634"/><path d="M369.5 89.5h4" stroke="#b3a834"/><path d="M372.5 89.5h4" stroke="#b4aa33"/><path d="M375.5 89.5h4" stroke="#b6ac33"/><path d="M378.5 89.5h4" stroke="#b8ae33"/><path d="M381.5 89.5h4" stroke="#b9b032"/><path d="M384.5 89.5h4" stroke="#bbb232"/><path d="M387.5 89.5h4" stroke="#bdb531"/><path d="M390.5 89.5h4" stroke="#beb831"/><path d="M393.5 89.5h4" stroke="#c0ba30"/><path d="M396.5 89.5h4" stroke="#c1bb30"/><path d="M399.5 89.5h4" stroke="#c2bd30"/><path d="M402.5 89.5h4" stroke="#c3bf2f"/><path d="M405.5 89.5h4" stroke="#c4c02f"/><path d="M408.5 89.5h4" stroke="#c4c22e"/><path d="M411.5 89.5h4" stroke="#c4c42e"/><path d="M414.5 89.5h4" stroke="#c3c52d"/><path d="M417.5 89.5h4" stroke="#c3c52d"/><path d="M420.5 89.5h4" stroke="#c2c52d"/><path d="M423.5 89.5h4" stroke="#c2c52c"/><path d="M165.5 92.5h4" stroke="#d0ac8b"/><path d="M168.5 92.5h4" stroke="#ceaa87"/><path d="M171.5 92.5h4" stroke="#cda983"/><path d="M174.5 92.5h4" stroke="#cba77e"/><path d="M177.5 92.5h4" stroke="#c9a579"/><path d="M180.5 92.5h4" stroke="#c6a473"/><path d="M183.5 92.5h4" stroke="#c4a36d"/><path d="M186.5 92.5h4" stroke="#c3a467"/><path d="M189.5 92.5h4" stroke="#c1a561"/><path d="M192.5 92.5h4" stroke="#bfa65a"/><path d="M195.5 92.5h4" stroke="#bda852"/><path d="M198.5 92.5h4" stroke="#baaa4a"/><path d="M201.5 92.5h4" stroke="#b6ac42"/><path d="M204.5 92.5h4" stroke="#b2ae3b"/><path d="M207.5 92.5h4" stroke="#aeb036"/><path d="M210.5 92.5h4" stroke="#a9b231"/><path d="M213.5 92.5h4" stroke="#a4b42d"/><path d="M231.5 92.5h4" stroke="#8da828"/><path d="M234.5 92.5h4" stroke="#86a028"/><path d="M237.5 92.5h4" stroke="#7f9728"/><path d="M240.5 92.5h4" stroke="#789027"/><path d="M243.5 92.5h4" stroke="#738a27"/><path d="M246.5 92.5h4" stroke="#6e8627"/><path d="M249.5 92.5h4" stroke="#6b8227"/><path d="M252.5 92.5h4" stroke="#687f27"/><path d="M255.5 92.5h4" stroke="#667d27"/><path d="M258.5 92.5h4" stroke="#657a27"/><path d="M261.5 92.5h4" stroke="#637827"/><path d="M264.5 92.5h4" stroke="#627526"/><path d="M267.5 92.5h4" stroke="#617327"/><path d="M270.5 92.5h4" stroke="#627227"/><path d="M273.5 92.5h4" stroke="#647227"/><path d="M276.5 92.5h4" stroke="#657328"/><path d="M279.5 92.5h4" stroke="#677328"/><path d="M282.5 92.5h4" stroke="#677328"/><path d="M285.5 92.5h4" stroke="#687229"/><path d="M288.5 92.5h4" stroke="#6a7229"/><path d="M291.5 92.5h4" stroke="#6c7229"/><path d="M294.5 92.5h4" stroke="#6d7229"/><path d="M297.5 92.5h4" stroke="#6f7329"/><path d="M300.5 92.5h4" stroke="#70732a"/><path d="M303.5 92.5h4" stroke="#71742a"/><path d="M306.5 92.5h4" stroke="#73752a"/><path d="M309.5 92.5h4" stroke="#76782a"/><path d="M312.5 92.5h4" stroke="#797d2a"/><path d="M315.5 92.5h4" stroke="#7d812b"/><path d="M318.5 92.5h4" stroke="#80832b"/><path d="M321.5 92.5h4" stroke="#83852c"/><path d="M324.5 92.5h4" stroke="#86872e"/><path d="M327.5 92.5h4" stroke="#89882f"/><path d="M330.5 92.5h4" stroke="#8c8931"/><path d="M333.5 92.5h4" stroke="#8f8a32"/><path d="M336.5 92.5h4" stroke="#928b33"/><path d="M339.5 92.5h4" stroke="#958d34"/><path d="M342.5 92.5h4" stroke="#989034"/><path d="M345.5 92.5h4" stroke="#9b9333"/><path d="M348.5 92.5h4" stroke="#9d9633"/><path d="M351.5 92.5h4" stroke="#a19932"/><path d="M354.5 92.5h4" stroke="#a49c32"/><path d="M357.5 92.5h4" stroke="#a8a032"/><path d="M360.5 92.5h4" stroke="#aba331"/><path d="M363.5 92.5h4" stroke="#ada531"/><path d="M366.5 92.5h4" stroke="#afa731"/><path d="M369.5 92.5h4" stroke="#b1a931"/><path d="M372.5 92.5h4" stroke="#b3ab30"/><path d="M375.5 92.5h4" stroke="#b4ad30"/><path d="M378.5 92.5h4" stroke="#b6af30"/><path d="M381.5 92.5h4" stroke="#b8b12f"/><path d="M384.5 92.5h4" stroke="#b9b42f"/><path d="M387.5 92.5h4" stroke="#bbb62f"/><path d="M390.5 92.5h4" stroke="#bdb92e"/><path d="M393.5 92.5h4" stroke="#bebb2e"/><path d="M396.5 92.5h4" stroke="#c0bc2e"/><path d="M399.5 92.5h4" stroke="#c1be2e"/><path d="M402.5 92.5h4" stroke="#c3bf2e"/><path d="M405.5 92.5h4" stroke="#c3c12d"/><path d="M408.5 92.5h4" stroke="#c4c32d"/><path d="M411.5 92.5h4" stroke="#c3c42d"/><path d="M414.5 92.5h4" stroke="#c3c52d"/><path d="M417.5 92.5h4" stroke="#c2c52c"/><path d="M420.5 92.5h4" stroke="#c2c52c"/><path d="M423.5 92.5h4" stroke="#c2c52c"/><path d="M165.5 95.5h4" stroke="#d0ad88"/><path d="M168.5 95.5h4" stroke="#cfab85"/><path d="M171.5 95.5h4" stroke="#cdaa81"/><path d="M174.5 95.5h4" stroke="#cca97c"/><path d="M177.5 95.5h4" stroke="#caa777"/><path d="M180.5 95.5h4" stroke="#c8a670"/><path d="M183.5 95.5h4" stroke="#c6a66a"/><path d="M186.5 95.5h4" stroke="#c4a663"/><path d="M189.5 95.5h4" stroke="#c2a75c"/><path d="M192.5 95.5h4" stroke="#c0a955"/><path d="M195.5 95.5h4" stroke="#bdaa4e"/><path d="M198.5 95.5h4" stroke="#baac47"/><path d="M201.5 95.5h4" stroke="#b6ae3f"/><path d="M204.5 95.5h4" stroke="#b2b039"/><path d="M207.5 95.5h4" stroke="#adb234"/><path d="M210.5 95.5h4" stroke="#a8b42f"/><path d="M213.5 95.5h4" stroke="#a4b62c"/><path d="M216.5 95.5h4" stroke="#a0b62a"/><path d="M219.5 95.5h4" stroke="#9db629"/><path d="M222.5 95.5h4" stroke="#9bb628"/><path d="M225.5 95.5h4" stroke="#98b428"/><path d="M228.5 95.5h4" stroke="#95b128"/><path d="M231.5 95.5h4" stroke="#90ab28"/><path d="M234.5 95.5h4" stroke="#89a428"/><path d="M237.5 95.5h4" stroke="#819c27"/><path d="M240.5 95.5h4" stroke="#7b9427"/><path d="M243.5 95.5h4" stroke="#758e27"/><path d="M246.5 95.5h4" stroke="#718927"/><path d="M249.5 95.5h4" stroke="#6d8627"/><path d="M252.5 95.5h4" stroke="#6b8327"/><path d="M255.5 95.5h4" stroke="#698127"/><path d="M258.5 95.5h4" stroke="#677f27"/><path d="M261.5 95.5h4" stroke="#667c27"/><path d="M264.5 95.5h4" stroke="#657a27"/><path d="M267.5 95.5h4" stroke="#647827"/><path d="M270.5 95.5h4" stroke="#647727"/><path d="M273.5 95.5h4" stroke="#657627"/><path d="M276.5 95.5h4" stroke="#677628"/><path d="M279.5 95.5h4" stroke="#677628"/><path d="M282.5 95.5h4" stroke="#677628"/><path d="M285.5 95.5h4" stroke="#687528"/><path d="M288.5 95.5h4" stroke="#697528"/><path d="M291.5 95.5h4" stroke="#6b7428"/><path d="M294.5 95.5h4" stroke="#6d7429"/><path d="M297.5 95.5h4" stroke="#6e7529"/><path d="M300.5 95.5h4" stroke="#707529"/><path d="M303.5 95.5h4" stroke="#717529"/><path d="M306.5 95.5h4" stroke="#727729"/><path d="M309.5 95.5h4" stroke="#757a29"/><path d="M312.5 95.5h4" stroke="#787e29"/><path d="M315.5 95.5h4" stroke="#7c822a"/><path d="M318.5 95.5h4" stroke="#80852a"/><path d="M321.5 95.5h4" stroke="#83872b"/><path d="M324.5 95.5h4" stroke="#86892c"/><path d="M327.5 95.5h4" stroke="#898a2d"/><path d="M330.5 95.5h4" stroke="#8b8b2f"/><path d="M333.5 95.5h4" stroke="#8e8c30"/><path d="M336.5 95.5h4" stroke="#918d31"/><path d="M339.5 95.5h4" stroke="#948f32"/><path d="M342.5 95.5h4" stroke="#979232"/><path d="M345.5 95.5h4" stroke="#9a9432"/><path d="M348.5 95.5h4" stroke="#9d9731"/><path d="M351.5 95.5h4" stroke="#a09b30"/><path d="M354.5 95.5h4" stroke="#a39e2f"/><path d="M357.5 95.5h4" stroke="#a6a12f"/><path d="M360.5 95.5h4" stroke="#a9a42e"/><path d="M363.5 95.5h4" stroke="#aba62e"/><path d="M366.5 95.5h4" stroke="#ada82e"/><path d="M369.5 95.5h4" stroke="#b0aa2e"/><path d="M372.5 95.5h4" stroke="#b1ac2e"/><path d="M375.5 95.5h4" stroke="#b3ae2e"/><path d="M378.5 95.5h4" stroke="#b5b02e"/><path d="M381.5 95.5h4" stroke="#b6b22e"/><path d="M384.5 95.5h4" stroke="#b8b42e"/><path d="M387.5 95.5h4" stroke="#bab72d"/><path d="M390.5 95.5h4" stroke="#bcb92d"/><path d="M393.5 95.5h4" stroke="#bdbb2d"/><path d="M396.5 95.5h4" stroke="#bfbd2d"/><path d="M399.5 95.5h4" stroke="#c1be2d"/><path d="M402.5 95.5h4" stroke="#c2bf2d"/><path d="M405.5 95.5h4" stroke="#c3c12d"/><path d="M408.5 95.5h4" stroke="#c3c32d"/><path d="M411.5 95.5h4" stroke="#c3c42c"/><path d="M414.5 95.5h4" stroke="#c2c52c"/><path d="M417.5 95.5h4" stroke="#c2c52c"/><path d="M420.5 95.5h4" stroke="#c2c52c"/><path d="M423.5 95.5h4" stroke="#c1c52c"/><path d="M165.5 98.5h4" stroke="#d0ad85"/><path d="M168.5 98.5h4" stroke="#cfac81"/><path d="M171.5 98.5h4" stroke="#ceab7e"/><path d="M174.5 98.5h4" stroke="#ccaa79"/><path d="M177.5 98.5h4" stroke="#cba973"/><path d="M180.5 98.5h4" stroke="#c9a96c"/><path d="M183.5 98.5h4" stroke="#c7a965"/><path d="M186.5 98.5h4" stroke="#c5a95e"/><path d="M189.5 98.5h4" stroke="#c3aa58"/><path d="M192.5 98.5h4" stroke="#c1ac51"/><path d="M195.5 98.5h4" stroke="#beae4a"/><path d="M198.5 98.5h4" stroke="#bbaf43"/><path d="M201.5 98.5h4" stroke="#b7b13d"/><path d="M204.5 98.5h4" stroke="#b2b337"/><path d="M207.5 98.5h4" stroke="#adb532"/><path d="M210.5 98.5h4" stroke="#a8b72e"/><path d="M213.5 98.5h4" stroke="#a4b82c"/><path d="M216.5 98.5h4" stroke="#a1b82a"/><path d="M219.5 98.5h4" stroke="#9eb829"/><path d="M222.5 98.5h4" stroke="#9cb728"/><path d="M225.5 98.5h4" stroke="#99b628"/><path d="M228.5 98.5h4" stroke="#96b327"/><path d="M231.5 98.5h4" stroke="#91af27"/><path d="M234.5 98.5h4" stroke="#8ca827"/><path d="M237.5 98.5h4" stroke="#84a027"/><path d="M240.5 98.5h4" stroke="#7d9827"/><path d="M243.5 98.5h4" stroke="#779227"/><path d="M246.5 98.5h4" stroke="#738d27"/><path d="M249.5 98.5h4" stroke="#6f8927"/><path d="M252.5 98.5h4" stroke="#6d8727"/><path d="M255.5 98.5h4" stroke="#6b8427"/><path d="M258.5 98.5h4" stroke="#698227"/><path d="M261.5 98.5h4" stroke="#688027"/><path d="M264.5 98.5h4" stroke="#677f27"/><path d="M267.5 98.5h4" stroke="#667d27"/><path d="M270.5 98.5h4" stroke="#657b27"/><path d="M273.5 98.5h4" stroke="#667a27"/><path d="M276.5 98.5h4" stroke="#667927"/><path d="M279.5 98.5h4" stroke="#667927"/><path d="M282.5 98.5h4" stroke="#667926"/><path d="M285.5 98.5h4" stroke="#667926"/><path d="M288.5 98.5h4" stroke="#677826"/><path d="M291.5 98.5h4" stroke="#697827"/><path d="M294.5 98.5h4" stroke="#6b7727"/><path d="M297.5 98.5h4" stroke="#6d7728"/><path d="M300.5 98.5h4" stroke="#6e7728"/><path d="M303.5 98.5h4" stroke="#6f7828"/><path d="M306.5 98.5h4" stroke="#707928"/><path d="M309.5 98.5h4" stroke="#737c28"/><path d="M312.5 98.5h4" stroke="#768028"/><path d="M315.5 98.5h4" stroke="#7b8428"/><path d="M318.5 98.5h4" stroke="#7f8729"/><path d="M321.5 98.5h4" stroke="#83892a"/><path d="M324.5 98.5h4" stroke="#868b2b"/><path d="M327.5 98.5h4" stroke="#888c2c"/><path d="M330.5 98.5h4" stroke="#8b8d2d"/><path d="M333.5 98.5h4" stroke="#8d8e2e"/><path d="M336.5 98.5h4" stroke="#908f2f"/><path d="M339.5 98.5h4" stroke="#939130"/><path d="M342.5 98.5h4" stroke="#969330"/><path d="M345.5 98.5h4" stroke="#999630"/><path d="M348.5 98.5h4" stroke="#9c992f"/><path d="M351.5 98.5h4" stroke="#9f9c2e"/><path d="M354.5 98.5h4" stroke="#a29f2d"/><path d="M357.5 98.5h4" stroke="#a5a22d"/><path d="M360.5 98.5h4" stroke="#a7a52c"/><path d="M363.5 98.5h4" stroke="#aaa72c"/><path d="M366.5 98.5h4" stroke="#aca92c"/><path d="M369.5 98.5h4" stroke="#aeab2d"/><path d="M372.5 98.5h4" stroke="#b0ad2d"/><path d="M375.5 98.5h4" stroke="#b2af2d"/><path d="M378.5 98.5h4" stroke="#b4b12d"/><path d="M381.5 98.5h4" stroke="#b5b22d"/><path d="M384.5 98.5h4" stroke="#b7b42d"/><path d="M387.5 98.5h4" stroke="#b9b62d"/><path d="M390.5 98.5h4" stroke="#bbb92d"/><path d="M393.5 98.5h4" stroke="#bdbb2d"/><path d="M396.5 98.5h4" stroke="#bebc2d"/><path d="M399.5 98.5h4" stroke="#c0be2c"/><path d="M402.5 98.5h4" stroke="#c1bf2c"/><path d="M405.5 98.5h4" stroke="#c2c12c"/><path d="M408.5 98.5h4" stroke="#c3c32c"/><path d="M411.5 98.5h4" stroke="#c2c42c"/><path d="M414.5 98.5h4" stroke="#c2c52c"/><path d="M417.5 98.5h4" stroke="#c1c52c"/><path d="M420.5 98.5h4" stroke="#c1c52c"/><path d="M423.5 98.5h4" stroke="#c1c52c"/><path d="M168.5 101.5h4" stroke="#cfad7c"/><path d="M171.5 101.5h4" stroke="#ceac78"/><path d="M174.5 101.5h4" stroke="#ccac73"/><path d="M177.5 101.5h4" stroke="#cbac6e"/><path d="M180.5 101.5h4" stroke="#c9ab67"/><path d="M183.5 101.5h4" stroke="#c8ac60"/><path d="M186.5 101.5h4" stroke="#c6ad59"/><path d="M189.5 101.5h4" stroke="#c4ae52"/><path d="M192.5 101.5h4" stroke="#c2b04c"/><path d="M195.5 101.5h4" stroke="#bfb146"/><path d="M198.5 101.5h4" stroke="#bcb340"/><path d="M201.5 101.5h4" stroke="#b8b43b"/><path d="M204.5 101.5h4" stroke="#b3b635"/><path d="M207.5 101.5h4" stroke="#adb831"/><path d="M210.5 101.5h4" stroke="#a9ba2d"/><path d="M213.5 101.5h4" stroke="#a5bb2b"/><path d="M216.5 101.5h4" stroke="#a2bb2a"/><path d="M219.5 101.5h4" stroke="#9fbb29"/><path d="M222.5 101.5h4" stroke="#9dba28"/><path d="M225.5 101.5h4" stroke="#9ab827"/><path d="M228.5 101.5h4" stroke="#97b627"/><path d="M231.5 101.5h4" stroke="#93b227"/><path d="M234.5 101.5h4" stroke="#8eac27"/><path d="M237.5 101.5h4" stroke="#87a527"/><path d="M240.5 101.5h4" stroke="#809d27"/><path d="M243.5 101.5h4" stroke="#7a9627"/><path d="M246.5 101.5h4" stroke="#759127"/><path d="M249.5 101.5h4" stroke="#728d27"/><path d="M252.5 101.5h4" stroke="#6f8a27"/><path d="M255.5 101.5h4" stroke="#6d8827"/><path d="M258.5 101.5h4" stroke="#6b8627"/><path d="M261.5 101.5h4" stroke="#698427"/><path d="M264.5 101.5h4" stroke="#678326"/><path d="M267.5 101.5h4" stroke="#668126"/><path d="M270.5 101.5h4" stroke="#658026"/><path d="M273.5 101.5h4" stroke="#657e25"/><path d="M276.5 101.5h4" stroke="#647d25"/><path d="M279.5 101.5h4" stroke="#647d25"/><path d="M282.5 101.5h4" stroke="#637d24"/><path d="M285.5 101.5h4" stroke="#627d24"/><path d="M288.5 101.5h4" stroke="#637d24"/><path d="M291.5 101.5h4" stroke="#647c25"/><path d="M294.5 101.5h4" stroke="#677b25"/><path d="M297.5 101.5h4" stroke="#697b26"/><path d="M300.5 101.5h4" stroke="#6b7b26"/><path d="M303.5 101.5h4" stroke="#6c7c26"/><path d="M306.5 101.5h4" stroke="#6d7d25"/><path d="M309.5 101.5h4" stroke="#6e8025"/><path d="M312.5 101.5h4" stroke="#728326"/><path d="M315.5 101.5h4" stroke="#778526"/><path d="M318.5 101.5h4" stroke="#7d8828"/><path d="M321.5 101.5h4" stroke="#828a29"/><path d="M324.5 101.5h4" stroke="#858c2a"/><path d="M327.5 101.5h4" stroke="#878d2a"/><path d="M330.5 101.5h4" stroke="#898f2b"/><path d="M333.5 101.5h4" stroke="#8b902c"/><path d="M336.5 101.5h4" stroke="#8e912d"/><path d="M339.5 101.5h4" stroke="#91932e"/><path d="M342.5 101.5h4" stroke="#94952e"/><path d="M345.5 101.5h4" stroke="#97972e"/><path d="M348.5 101.5h4" stroke="#9b9a2d"/><path d="M351.5 101.5h4" stroke="#9e9d2d"/><path d="M354.5 101.5h4" stroke="#a1a02c"/><path d="M357.5 101.5h4" stroke="#a3a32b"/><path d="M360.5 101.5h4" stroke="#a6a52b"/><path d="M363.5 101.5h4" stroke="#a8a72b"/><path d="M366.5 101.5h4" stroke="#aaa92b"/><path d="M369.5 101.5h4" stroke="#adab2c"/><path d="M372.5 101.5h4" stroke="#afad2c"/><path d="M375.5 101.5h4" stroke="#b1af2c"/><path d="M378.5 101.5h4" stroke="#b3b12c"/><path d="M381.5 101.5h4" stroke="#b4b22c"/><path d="M384.5 101.5h4" stroke="#b6b42c"/><path d="M387.5 101.5h4" stroke="#b8b62c"/><path d="M390.5 101.5h4" stroke="#bab82c"/><path d="M393.5 101.5h4" stroke="#bcba2c"/><path d="M396.5 101.5h4" stroke="#bdbc2c"/><path d="M399.5 101.5h4" stroke="#bfbe2c"/><path d="M402.5 101.5h4" stroke="#c1bf2c"/><path d="M405.5 101.5h4" stroke="#c2c12c"/><path d="M408.5 101.5h4" stroke="#c2c32c"/><path d="M411.5 101.5h4" stroke="#c2c42c"/><path d="M414.5 101.5h4" stroke="#c2c52c"/><path d="M417.5 101.5h4" stroke="#c1c52c"/><path d="M420.5 101.5h4" stroke="#c1c52c"/><path d="M423.5 101.5h4" stroke="#c1c52c"/><path d="M168.5 104.5h4" stroke="#ceae76"/><path d="M171.5 104.5h4" stroke="#cdae71"/><path d="M174.5 104.5h4" stroke="#ccad6d"/><path d="M177.5 104.5h4" stroke="#cbae67"/><path d="M180.5 104.5h4" stroke="#caae60"/><path d="M183.5 104.5h4" stroke="#c8af5a"/><path d="M186.5 104.5h4" stroke="#c6b053"/><path d="M189.5 104.5h4" stroke="#c5b24d"/><path d="M192.5 104.5h4" stroke="#c2b347"/><path d="M195.5 104.5h4" stroke="#c0b542"/><path d="M198.5 104.5h4" stroke="#bdb73d"/><path d="M201.5 104.5h4" stroke="#b9b838"/><path d="M204.5 104.5h4" stroke="#b4bb34"/><path d="M207.5 104.5h4" stroke="#afbd30"/><path d="M210.5 104.5h4" stroke="#aabe2d"/><path d="M213.5 104.5h4" stroke="#a7bf2b"/><path d="M216.5 104.5h4" stroke="#a4bf29"/><path d="M219.5 104.5h4" stroke="#a1be28"/><path d="M222.5 104.5h4" stroke="#9ebd28"/><path d="M225.5 104.5h4" stroke="#9bbb27"/><path d="M228.5 104.5h4" stroke="#98b927"/><path d="M231.5 104.5h4" stroke="#94b526"/><path d="M234.5 104.5h4" stroke="#90b026"/><path d="M237.5 104.5h4" stroke="#8aa926"/><path d="M240.5 104.5h4" stroke="#83a126"/><path d="M243.5 104.5h4" stroke="#7c9a26"/><path d="M246.5 104.5h4" stroke="#779526"/><path d="M249.5 104.5h4" stroke="#749126"/><path d="M252.5 104.5h4" stroke="#718e26"/><path d="M255.5 104.5h4" stroke="#6e8b26"/><path d="M258.5 104.5h4" stroke="#6c8926"/><path d="M261.5 104.5h4" stroke="#698726"/><path d="M264.5 104.5h4" stroke="#678625"/><path d="M267.5 104.5h4" stroke="#648524"/><path d="M270.5 104.5h4" stroke="#638424"/><path d="M273.5 104.5h4" stroke="#628323"/><path d="M276.5 104.5h4" stroke="#618123"/><path d="M279.5 104.5h4" stroke="#608123"/><path d="M282.5 104.5h4" stroke="#5f8122"/><path d="M285.5 104.5h4" stroke="#5e8122"/><path d="M288.5 104.5h4" stroke="#5f8122"/><path d="M291.5 104.5h4" stroke="#608022"/><path d="M294.5 104.5h4" stroke="#627f23"/><path d="M297.5 104.5h4" stroke="#657f23"/><path d="M300.5 104.5h4" stroke="#677f23"/><path d="M303.5 104.5h4" stroke="#688023"/><path d="M306.5 104.5h4" stroke="#688223"/><path d="M309.5 104.5h4" stroke="#6a8323"/><path d="M312.5 104.5h4" stroke="#6d8523"/><path d="M315.5 104.5h4" stroke="#728724"/><path d="M318.5 104.5h4" stroke="#798926"/><path d="M321.5 104.5h4" stroke="#7f8c27"/><path d="M324.5 104.5h4" stroke="#828d28"/><path d="M327.5 104.5h4" stroke="#858f29"/><path d="M330.5 104.5h4" stroke="#87902a"/><path d="M333.5 104.5h4" stroke="#89912a"/><path d="M336.5 104.5h4" stroke="#8b922b"/><path d="M339.5 104.5h4" stroke="#8e942c"/><path d="M342.5 104.5h4" stroke="#91962c"/><path d="M345.5 104.5h4" stroke="#95982c"/><path d="M348.5 104.5h4" stroke="#999b2c"/><path d="M351.5 104.5h4" stroke="#9c9e2b"/><path d="M354.5 104.5h4" stroke="#9fa02b"/><path d="M357.5 104.5h4" stroke="#a1a32a"/><path d="M360.5 104.5h4" stroke="#a4a52a"/><path d="M363.5 104.5h4" stroke="#a6a62a"/><path d="M366.5 104.5h4" stroke="#a9a82b"/><path d="M369.5 104.5h4" stroke="#abaa2b"/><path d="M372.5 104.5h4" stroke="#aead2b"/><path d="M375.5 104.5h4" stroke="#b1af2c"/><path d="M378.5 104.5h4" stroke="#b3b02c"/><path d="M381.5 104.5h4" stroke="#b4b22c"/><path d="M384.5 104.5h4" stroke="#b5b32c"/><path d="M387.5 104.5h4" stroke="#b7b52c"/><path d="M390.5 104.5h4" stroke="#b9b72c"/><path d="M393.5 104.5h4" stroke="#bbba2c"/><path d="M396.5 104.5h4" stroke="#bdbc2c"/><path d="M399.5 104.5h4" stroke="#bebd2c"/><path d="M402.5 104.5h4" stroke="#c0bf2c"/><path d="M405.5 104.5h4" stroke="#c1c12c"/><path d="M414.5 104.5h4" stroke="#c1c42c"/><path d="M417.5 104.5h4" stroke="#c1c52c"/><path d="M420.5 104.5h4" stroke="#c1c52c"/><path d="M423.5 104.5h4" stroke="#c1c52c"/><path d="M168.5 107.5h4" stroke="#cdaf6e"/><path d="M171.5 107.5h4" stroke="#cdaf6a"/><path d="M174.5 107.5h4" stroke="#ccaf66"/><path d="M177.5 107.5h4" stroke="#cbb060"/><path d="M180.5 107.5h4" stroke="#cab15a"/><path d="M183.5 107.5h4" stroke="#c8b253"/><path d="M186.5 107.5h4" stroke="#c7b44d"/><path d="M189.5 107.5h4" stroke="#c5b647"/><path d="M192.5 107.5h4" stroke="#c3b842"/><path d="M195.5 107.5h4" stroke="#c0b93e"/><path d="M198.5 107.5h4" stroke="#bebb3a"/><path d="M201.5 107.5h4" stroke="#babd36"/><path d="M204.5 107.5h4" stroke="#b5bf32"/><path d="M207.5 107.5h4" stroke="#b1c12f"/><path d="M210.5 107.5h4" stroke="#adc32c"/><path d="M213.5 107.5h4" stroke="#a9c32a"/><path d="M216.5 107.5h4" stroke="#a6c229"/><path d="M219.5 107.5h4" stroke="#a3c128"/><path d="M222.5 107.5h4" stroke="#a0c028"/><path d="M225.5 107.5h4" stroke="#9dbe27"/><path d="M228.5 107.5h4" stroke="#99bb27"/><path d="M231.5 107.5h4" stroke="#95b826"/><path d="M234.5 107.5h4" stroke="#91b326"/><path d="M237.5 107.5h4" stroke="#8bad26"/><path d="M240.5 107.5h4" stroke="#85a625"/><path d="M243.5 107.5h4" stroke="#7f9f25"/><path d="M246.5 107.5h4" stroke="#799925"/><path d="M249.5 107.5h4" stroke="#759425"/><path d="M252.5 107.5h4" stroke="#729125"/><path d="M255.5 107.5h4" stroke="#6f8f25"/><path d="M258.5 107.5h4" stroke="#6c8c25"/><path d="M261.5 107.5h4" stroke="#698b25"/><path d="M264.5 107.5h4" stroke="#658924"/><path d="M267.5 107.5h4" stroke="#628823"/><path d="M270.5 107.5h4" stroke="#608722"/><path d="M273.5 107.5h4" stroke="#5f8622"/><path d="M276.5 107.5h4" stroke="#5e8521"/><path d="M279.5 107.5h4" stroke="#5d8421"/><path d="M282.5 107.5h4" stroke="#5c8321"/><path d="M285.5 107.5h4" stroke="#5c8321"/><path d="M288.5 107.5h4" stroke="#5c8321"/><path d="M291.5 107.5h4" stroke="#5d8221"/><path d="M294.5 107.5h4" stroke="#5f8221"/><path d="M297.5 107.5h4" stroke="#618221"/><path d="M300.5 107.5h4" stroke="#638322"/><path d="M303.5 107.5h4" stroke="#658421"/><path d="M306.5 107.5h4" stroke="#668421"/><path d="M309.5 107.5h4" stroke="#678521"/><path d="M312.5 107.5h4" stroke="#698622"/><path d="M315.5 107.5h4" stroke="#6e8822"/><path d="M318.5 107.5h4" stroke="#748a24"/><path d="M321.5 107.5h4" stroke="#7b8c25"/><path d="M324.5 107.5h4" stroke="#7f8e26"/><path d="M327.5 107.5h4" stroke="#828f27"/><path d="M330.5 107.5h4" stroke="#849028"/><path d="M333.5 107.5h4" stroke="#869229"/><path d="M336.5 107.5h4" stroke="#899329"/><path d="M339.5 107.5h4" stroke="#8c942a"/><path d="M342.5 107.5h4" stroke="#8f962a"/><path d="M345.5 107.5h4" stroke="#93992a"/><path d="M348.5 107.5h4" stroke="#979c2a"/><path d="M351.5 107.5h4" stroke="#9a9e2a"/><path d="M354.5 107.5h4" stroke="#9da02a"/><path d="M357.5 107.5h4" stroke="#9fa22a"/><path d="M360.5 107.5h4" stroke="#a2a42a"/><path d="M363.5 107.5h4" stroke="#a4a52a"/><path d="M366.5 107.5h4" stroke="#a7a72a"/><path d="M369.5 107.5h4" stroke="#aaa92b"/><path d="M372.5 107.5h4" stroke="#adac2b"/><path d="M375.5 107.5h4" stroke="#b0ae2b"/><path d="M378.5 107.5h4" stroke="#b2b02c"/><path d="M381.5 107.5h4" stroke="#b3b22c"/><path d="M384.5 107.5h4" stroke="#b5b32c"/><path d="M387.5 107.5h4" stroke="#b6b52c"/><path d="M390.5 107.5h4" stroke="#b8b72c"/><path d="M393.5 107.5h4" stroke="#bab92c"/><path d="M396.5 107.5h4" stroke="#bcbb2c"/><path d="M399.5 107.5h4" stroke="#bebd2c"/><path d="M402.5 107.5h4" stroke="#bfbe2c"/><path d="M405.5 107.5h4" stroke="#c1c02c"/><path d="M168.5 110.5h4" stroke="#cdb068"/><path d="M171.5 110.5h4" stroke="#ccb064"/><path d="M174.5 110.5h4" stroke="#cbb060"/><path d="M177.5 110.5h4" stroke="#cab15b"/><path d="M180.5 110.5h4" stroke="#c9b355"/><path d="M183.5 110.5h4" stroke="#c8b54e"/><path d="M186.5 110.5h4" stroke="#c7b748"/><path d="M189.5 110.5h4" stroke="#c5ba42"/><path d="M192.5 110.5h4" stroke="#c3bc3e"/><path d="M195.5 110.5h4" stroke="#c0bd3a"/><path d="M198.5 110.5h4" stroke="#bebf37"/><path d="M201.5 110.5h4" stroke="#bbc134"/><path d="M204.5 110.5h4" stroke="#b7c431"/><path d="M207.5 110.5h4" stroke="#b3c62e"/><path d="M210.5 110.5h4" stroke="#afc72c"/><path d="M213.5 110.5h4" stroke="#abc72a"/><path d="M216.5 110.5h4" stroke="#a8c629"/><path d="M219.5 110.5h4" stroke="#a5c528"/><path d="M222.5 110.5h4" stroke="#a1c228"/><path d="M225.5 110.5h4" stroke="#9ec027"/><path d="M228.5 110.5h4" stroke="#9abd26"/><path d="M231.5 110.5h4" stroke="#95b926"/><path d="M234.5 110.5h4" stroke="#91b425"/><path d="M237.5 110.5h4" stroke="#8baf25"/><path d="M240.5 110.5h4" stroke="#86a925"/><path d="M243.5 110.5h4" stroke="#80a225"/><path d="M246.5 110.5h4" stroke="#7a9c24"/><path d="M249.5 110.5h4" stroke="#769824"/><path d="M252.5 110.5h4" stroke="#729524"/><path d="M255.5 110.5h4" stroke="#6f9224"/><path d="M258.5 110.5h4" stroke="#6b8f24"/><path d="M261.5 110.5h4" stroke="#678d23"/><path d="M264.5 110.5h4" stroke="#638b22"/><path d="M267.5 110.5h4" stroke="#608a21"/><path d="M270.5 110.5h4" stroke="#5e8921"/><path d="M273.5 110.5h4" stroke="#5d8821"/><path d="M276.5 110.5h4" stroke="#5c8620"/><path d="M279.5 110.5h4" stroke="#5b8520"/><path d="M282.5 110.5h4" stroke="#5a8420"/><path d="M285.5 110.5h4" stroke="#5a8420"/><path d="M288.5 110.5h4" stroke="#5b8320"/><path d="M291.5 110.5h4" stroke="#5b8320"/><path d="M294.5 110.5h4" stroke="#5d8320"/><path d="M297.5 110.5h4" stroke="#5f8421"/><path d="M300.5 110.5h4" stroke="#628421"/><path d="M303.5 110.5h4" stroke="#638520"/><path d="M306.5 110.5h4" stroke="#648520"/><path d="M309.5 110.5h4" stroke="#658620"/><path d="M312.5 110.5h4" stroke="#678721"/><path d="M315.5 110.5h4" stroke="#6c8822"/><path d="M318.5 110.5h4" stroke="#728a23"/><path d="M321.5 110.5h4" stroke="#788d24"/><path d="M324.5 110.5h4" stroke="#7d8e25"/><path d="M327.5 110.5h4" stroke="#7f8f26"/><path d="M330.5 110.5h4" stroke="#829027"/><path d="M333.5 110.5h4" stroke="#849228"/><path d="M336.5 110.5h4" stroke="#879328"/><path d="M339.5 110.5h4" stroke="#8a9529"/><path d="M342.5 110.5h4" stroke="#8e9729"/><path d="M345.5 110.5h4" stroke="#929929"/><path d="M348.5 110.5h4" stroke="#959c29"/><path d="M351.5 110.5h4" stroke="#989e29"/><path d="M354.5 110.5h4" stroke="#9ba029"/><path d="M357.5 110.5h4" stroke="#9da129"/><path d="M360.5 110.5h4" stroke="#9fa329"/><path d="M363.5 110.5h4" stroke="#a2a429"/><path d="M366.5 110.5h4" stroke="#a4a62a"/><path d="M369.5 110.5h4" stroke="#a8a82a"/><path d="M372.5 110.5h4" stroke="#abab2b"/><path d="M375.5 110.5h4" stroke="#afad2b"/><path d="M378.5 110.5h4" stroke="#b1b02c"/><path d="M381.5 110.5h4" stroke="#b3b12c"/><path d="M384.5 110.5h4" stroke="#b4b22c"/><path d="M387.5 110.5h4" stroke="#b6b42c"/><path d="M390.5 110.5h4" stroke="#b7b62c"/><path d="M393.5 110.5h4" stroke="#b9b82c"/><path d="M396.5 110.5h4" stroke="#bbba2c"/><path d="M399.5 110.5h4" stroke="#bdbc2c"/><path d="M402.5 110.5h4" stroke="#bfbe2c"/><path d="M171.5 113.5h4" stroke="#cbb15f"/><path d="M174.5 113.5h4" stroke="#cbb25b"/><path d="M177.5 113.5h4" stroke="#cab356"/><path d="M180.5 113.5h4" stroke="#c9b550"/><path d="M183.5 113.5h4" stroke="#c8b74a"/><path d="M186.5 113.5h4" stroke="#c6ba43"/><path d="M189.5 113.5h4" stroke="#c4bd3e"/><path d="M192.5 113.5h4" stroke="#c2bf3a"/><path d="M195.5 113.5h4" stroke="#c0c137"/><path d="M198.5 113.5h4" stroke="#bdc334"/><path d="M201.5 113.5h4" stroke="#bbc532"/><path d="M204.5 113.5h4" stroke="#b7c82f"/><path d="M207.5 113.5h4" stroke="#b4c92d"/><path d="M210.5 113.5h4" stroke="#b1ca2b"/><path d="M213.5 113.5h4" stroke="#aeca2a"/><path d="M216.5 113.5h4" stroke="#aac929"/><path d="M219.5 113.5h4" stroke="#a7c728"/><path d="M222.5 113.5h4" stroke="#a3c528"/><path d="M225.5 113.5h4" stroke="#9ec127"/><path d="M228.5 113.5h4" stroke="#99bd26"/><path d="M231.5 113.5h4" stroke="#94b926"/><path d="M234.5 113.5h4" stroke="#8fb425"/><path d="M237.5 113.5h4" stroke="#8aaf24"/><path d="M240.5 113.5h4" stroke="#85aa24"/><path d="M243.5 113.5h4" stroke="#7fa424"/><path d="M246.5 113.5h4" stroke="#7a9f23"/><path d="M249.5 113.5h4" stroke="#759b23"/><path d="M252.5 113.5h4" stroke="#719723"/><path d="M255.5 113.5h4" stroke="#6e9422"/><path d="M258.5 113.5h4" stroke="#699122"/><path d="M261.5 113.5h4" stroke="#658f21"/><path d="M264.5 113.5h4" stroke="#618c21"/><path d="M267.5 113.5h4" stroke="#5e8b20"/><path d="M270.5 113.5h4" stroke="#5d8a20"/><path d="M273.5 113.5h4" stroke="#5b8820"/><path d="M276.5 113.5h4" stroke="#5a8720"/><path d="M279.5 113.5h4" stroke="#598520"/><path d="M282.5 113.5h4" stroke="#598420"/><path d="M285.5 113.5h4" stroke="#598320"/><path d="M288.5 113.5h4" stroke="#598320"/><path d="M291.5 113.5h4" stroke="#5a8320"/><path d="M294.5 113.5h4" stroke="#5c8420"/><path d="M297.5 113.5h4" stroke="#5e8420"/><path d="M300.5 113.5h4" stroke="#618520"/><path d="M303.5 113.5h4" stroke="#638520"/><path d="M306.5 113.5h4" stroke="#648620"/><path d="M309.5 113.5h4" stroke="#658620"/><path d="M312.5 113.5h4" stroke="#678721"/><path d="M315.5 113.5h4" stroke="#6b8821"/><path d="M318.5 113.5h4" stroke="#718b23"/><path d="M321.5 113.5h4" stroke="#778d24"/><path d="M324.5 113.5h4" stroke="#7b8e25"/><path d="M327.5 113.5h4" stroke="#7d8f25"/><path d="M330.5 113.5h4" stroke="#809026"/><path d="M333.5 113.5h4" stroke="#839227"/><path d="M336.5 113.5h4" stroke="#869327"/><path d="M339.5 113.5h4" stroke="#899528"/><path d="M342.5 113.5h4" stroke="#8d9728"/><path d="M345.5 113.5h4" stroke="#919a28"/><path d="M348.5 113.5h4" stroke="#949c28"/><path d="M351.5 113.5h4" stroke="#979e28"/><path d="M354.5 113.5h4" stroke="#999f28"/><path d="M357.5 113.5h4" stroke="#9ba028"/><path d="M360.5 113.5h4" stroke="#9da129"/><path d="M363.5 113.5h4" stroke="#9fa329"/><path d="M366.5 113.5h4" stroke="#a2a429"/><path d="M369.5 113.5h4" stroke="#a5a72a"/><path d="M372.5 113.5h4" stroke="#a9a92a"/><path d="M375.5 113.5h4" stroke="#adac2b"/><path d="M378.5 113.5h4" stroke="#b0af2b"/><path d="M381.5 113.5h4" stroke="#b2b12c"/><path d="M384.5 113.5h4" stroke="#b4b22c"/><path d="M387.5 113.5h4" stroke="#b5b32c"/><path d="M390.5 113.5h4" stroke="#b6b52c"/><path d="M393.5 113.5h4" stroke="#b8b72c"/><path d="M396.5 113.5h4" stroke="#baba2c"/><path d="M399.5 113.5h4" stroke="#bcbc2c"/><path d="M171.5 116.5h4" stroke="#cbb35b"/><path d="M174.5 116.5h4" stroke="#cab457"/><path d="M177.5 116.5h4" stroke="#c9b552"/><path d="M180.5 116.5h4" stroke="#c8b74c"/><path d="M183.5 116.5h4" stroke="#c7ba46"/><path d="M186.5 116.5h4" stroke="#c5bd40"/><path d="M189.5 116.5h4" stroke="#c4c03b"/><path d="M192.5 116.5h4" stroke="#c1c237"/><path d="M195.5 116.5h4" stroke="#bfc434"/><path d="M198.5 116.5h4" stroke="#bdc632"/><path d="M201.5 116.5h4" stroke="#bac830"/><path d="M204.5 116.5h4" stroke="#b8ca2e"/><path d="M207.5 116.5h4" stroke="#b5cc2c"/><path d="M210.5 116.5h4" stroke="#b2cd2b"/><path d="M213.5 116.5h4" stroke="#afcd2a"/><path d="M216.5 116.5h4" stroke="#accb29"/><path d="M219.5 116.5h4" stroke="#a8c928"/><path d="M222.5 116.5h4" stroke="#a3c628"/><path d="M225.5 116.5h4" stroke="#9ec227"/><path d="M228.5 116.5h4" stroke="#98bc26"/><path d="M231.5 116.5h4" stroke="#92b725"/><path d="M234.5 116.5h4" stroke="#8cb224"/><path d="M237.5 116.5h4" stroke="#87ad24"/><path d="M240.5 116.5h4" stroke="#82a923"/><path d="M243.5 116.5h4" stroke="#7ea523"/><path d="M246.5 116.5h4" stroke="#78a022"/><path d="M249.5 116.5h4" stroke="#749c22"/><path d="M252.5 116.5h4" stroke="#709922"/><path d="M255.5 116.5h4" stroke="#6c9621"/><path d="M258.5 116.5h4" stroke="#689321"/><path d="M261.5 116.5h4" stroke="#648f20"/><path d="M264.5 116.5h4" stroke="#608d20"/><path d="M267.5 116.5h4" stroke="#5d8b20"/><path d="M270.5 116.5h4" stroke="#5c8920"/><path d="M273.5 116.5h4" stroke="#5a8820"/><path d="M276.5 116.5h4" stroke="#58861f"/><path d="M279.5 116.5h4" stroke="#56841f"/><path d="M282.5 116.5h4" stroke="#56831f"/><path d="M285.5 116.5h4" stroke="#56821f"/><path d="M288.5 116.5h4" stroke="#57821f"/><path d="M291.5 116.5h4" stroke="#58831f"/><path d="M294.5 116.5h4" stroke="#5a8320"/><path d="M297.5 116.5h4" stroke="#5d8420"/><path d="M300.5 116.5h4" stroke="#608420"/><path d="M303.5 116.5h4" stroke="#618520"/><path d="M306.5 116.5h4" stroke="#638520"/><path d="M309.5 116.5h4" stroke="#648620"/><path d="M312.5 116.5h4" stroke="#668721"/><path d="M315.5 116.5h4" stroke="#6b8821"/><path d="M318.5 116.5h4" stroke="#708a22"/><path d="M321.5 116.5h4" stroke="#768c23"/><path d="M324.5 116.5h4" stroke="#798e24"/><path d="M327.5 116.5h4" stroke="#7c8f25"/><path d="M330.5 116.5h4" stroke="#7e9025"/><path d="M333.5 116.5h4" stroke="#819126"/><path d="M336.5 116.5h4" stroke="#859327"/><path d="M339.5 116.5h4" stroke="#889527"/><path d="M342.5 116.5h4" stroke="#8c9727"/><path d="M345.5 116.5h4" stroke="#8f9928"/><path d="M348.5 116.5h4" stroke="#929b28"/><path d="M351.5 116.5h4" stroke="#959d28"/><path d="M354.5 116.5h4" stroke="#979f28"/><path d="M357.5 116.5h4" stroke="#99a028"/><path d="M360.5 116.5h4" stroke="#9ba128"/><path d="M363.5 116.5h4" stroke="#9da228"/><path d="M366.5 116.5h4" stroke="#9fa329"/><path d="M369.5 116.5h4" stroke="#a2a529"/><path d="M372.5 116.5h4" stroke="#a6a72a"/><path d="M375.5 116.5h4" stroke="#abab2b"/><path d="M378.5 116.5h4" stroke="#afae2b"/><path d="M381.5 116.5h4" stroke="#b2b02c"/><path d="M384.5 116.5h4" stroke="#b3b22c"/><path d="M387.5 116.5h4" stroke="#b5b32c"/><path d="M390.5 116.5h4" stroke="#b6b42c"/><path d="M393.5 116.5h4" stroke="#b8b62c"/><path d="M396.5 116.5h4" stroke="#bab92c"/><path d="M171.5 119.5h4" stroke="#cab456"/><path d="M174.5 119.5h4" stroke="#c9b552"/><path d="M177.5 119.5h4" stroke="#c9b74e"/><path d="M180.5 119.5h4" stroke="#c8b949"/><path d="M183.5 119.5h4" stroke="#c6bc42"/><path d="M186.5 119.5h4" stroke="#c4c03c"/><path d="M189.5 119.5h4" stroke="#c2c338"/><path d="M192.5 119.5h4" stroke="#c0c534"/><path d="M195.5 119.5h4" stroke="#bec732"/><path d="M198.5 119.5h4" stroke="#bcc930"/><path d="M201.5 119.5h4" stroke="#bacb2f"/><path d="M204.5 119.5h4" stroke="#b8cc2d"/><path d="M207.5 119.5h4" stroke="#b5ce2c"/><path d="M210.5 119.5h4" stroke="#b3ce2b"/><path d="M213.5 119.5h4" stroke="#b1ce2a"/><path d="M216.5 119.5h4" stroke="#adcd29"/><path d="M219.5 119.5h4" stroke="#a9ca28"/><path d="M222.5 119.5h4" stroke="#a3c628"/><path d="M225.5 119.5h4" stroke="#9cc027"/><path d="M228.5 119.5h4" stroke="#94ba25"/><path d="M231.5 119.5h4" stroke="#8db425"/><path d="M234.5 119.5h4" stroke="#88af24"/><path d="M237.5 119.5h4" stroke="#83ab23"/><path d="M240.5 119.5h4" stroke="#7fa723"/><path d="M243.5 119.5h4" stroke="#7ba322"/><path d="M246.5 119.5h4" stroke="#76a022"/><path d="M249.5 119.5h4" stroke="#719c21"/><path d="M252.5 119.5h4" stroke="#6e9921"/><path d="M255.5 119.5h4" stroke="#6a9620"/><path d="M258.5 119.5h4" stroke="#669320"/><path d="M261.5 119.5h4" stroke="#628f20"/><path d="M264.5 119.5h4" stroke="#5f8d20"/><path d="M267.5 119.5h4" stroke="#5c8a20"/><path d="M270.5 119.5h4" stroke="#5a891f"/><path d="M273.5 119.5h4" stroke="#57861f"/><path d="M276.5 119.5h4" stroke="#54841f"/><path d="M279.5 119.5h4" stroke="#52811e"/><path d="M282.5 119.5h4" stroke="#51801e"/><path d="M285.5 119.5h4" stroke="#51801e"/><path d="M288.5 119.5h4" stroke="#52801e"/><path d="M291.5 119.5h4" stroke="#54801f"/><path d="M294.5 119.5h4" stroke="#56811f"/><path d="M297.5 119.5h4" stroke="#59821f"/><path d="M300.5 119.5h4" stroke="#5c831f"/><path d="M303.5 119.5h4" stroke="#5e831f"/><path d="M306.5 119.5h4" stroke="#608420"/><path d="M309.5 119.5h4" stroke="#628520"/><path d="M312.5 119.5h4" stroke="#658620"/><path d="M315.5 119.5h4" stroke="#698821"/><path d="M318.5 119.5h4" stroke="#6f8a22"/><path d="M321.5 119.5h4" stroke="#738c23"/><path d="M324.5 119.5h4" stroke="#778d24"/><path d="M327.5 119.5h4" stroke="#7a8e24"/><path d="M330.5 119.5h4" stroke="#7d9025"/><path d="M333.5 119.5h4" stroke="#809125"/><path d="M336.5 119.5h4" stroke="#839326"/><path d="M339.5 119.5h4" stroke="#879526"/><path d="M342.5 119.5h4" stroke="#8a9727"/><path d="M345.5 119.5h4" stroke="#8d9927"/><path d="M348.5 119.5h4" stroke="#909b27"/><path d="M351.5 119.5h4" stroke="#939c27"/><path d="M354.5 119.5h4" stroke="#959e28"/><path d="M357.5 119.5h4" stroke="#979f28"/><path d="M360.5 119.5h4" stroke="#99a028"/><path d="M363.5 119.5h4" stroke="#9ba028"/><path d="M366.5 119.5h4" stroke="#9ca128"/><path d="M369.5 119.5h4" stroke="#9fa329"/><path d="M372.5 119.5h4" stroke="#a2a529"/><path d="M375.5 119.5h4" stroke="#a7a92a"/><path d="M378.5 119.5h4" stroke="#adac2b"/><path d="M381.5 119.5h4" stroke="#b1af2b"/><path d="M384.5 119.5h4" stroke="#b3b12c"/><path d="M387.5 119.5h4" stroke="#b4b22c"/><path d="M390.5 119.5h4" stroke="#b5b42c"/><path d="M393.5 119.5h4" stroke="#b7b52c"/><path d="M174.5 122.5h4" stroke="#c9b84e"/><path d="M177.5 122.5h4" stroke="#c8b94a"/><path d="M180.5 122.5h4" stroke="#c6bc44"/><path d="M183.5 122.5h4" stroke="#c5bf3f"/><path d="M186.5 122.5h4" stroke="#c3c339"/><path d="M189.5 122.5h4" stroke="#c1c635"/><path d="M192.5 122.5h4" stroke="#bfc832"/><path d="M195.5 122.5h4" stroke="#bdca30"/><path d="M198.5 122.5h4" stroke="#bbcb2e"/><path d="M201.5 122.5h4" stroke="#b9cd2d"/><path d="M204.5 122.5h4" stroke="#b8ce2c"/><path d="M207.5 122.5h4" stroke="#b6cf2c"/><path d="M210.5 122.5h4" stroke="#b4cf2b"/><path d="M213.5 122.5h4" stroke="#b2cf2a"/><path d="M216.5 122.5h4" stroke="#aece29"/><path d="M219.5 122.5h4" stroke="#a9cb28"/><path d="M222.5 122.5h4" stroke="#a2c527"/><path d="M225.5 122.5h4" stroke="#98bd26"/><path d="M228.5 122.5h4" stroke="#8fb525"/><path d="M231.5 122.5h4" stroke="#88af24"/><path d="M234.5 122.5h4" stroke="#83ab23"/><path d="M237.5 122.5h4" stroke="#7fa823"/><path d="M240.5 122.5h4" stroke="#7ba522"/><path d="M243.5 122.5h4" stroke="#77a122"/><path d="M246.5 122.5h4" stroke="#739e21"/><path d="M249.5 122.5h4" stroke="#6f9b21"/><path d="M252.5 122.5h4" stroke="#6b9820"/><path d="M255.5 122.5h4" stroke="#679520"/><path d="M258.5 122.5h4" stroke="#63921f"/><path d="M261.5 122.5h4" stroke="#5f8e1f"/><path d="M264.5 122.5h4" stroke="#5c8b1f"/><path d="M267.5 122.5h4" stroke="#59891f"/><path d="M270.5 122.5h4" stroke="#56871f"/><path d="M273.5 122.5h4" stroke="#53841e"/><path d="M276.5 122.5h4" stroke="#4f811e"/><path d="M279.5 122.5h4" stroke="#4d7e1d"/><path d="M282.5 122.5h4" stroke="#4b7d1d"/><path d="M285.5 122.5h4" stroke="#4b7d1d"/><path d="M288.5 122.5h4" stroke="#4c7d1d"/><path d="M291.5 122.5h4" stroke="#4e7d1e"/><path d="M294.5 122.5h4" stroke="#507e1e"/><path d="M297.5 122.5h4" stroke="#527f1e"/><path d="M300.5 122.5h4" stroke="#557f1e"/><path d="M303.5 122.5h4" stroke="#57801e"/><path d="M306.5 122.5h4" stroke="#5a811f"/><path d="M309.5 122.5h4" stroke="#5d831f"/><path d="M312.5 122.5h4" stroke="#608420"/><path d="M315.5 122.5h4" stroke="#658621"/><path d="M318.5 122.5h4" stroke="#6a8822"/><path d="M321.5 122.5h4" stroke="#6f8a22"/><path d="M324.5 122.5h4" stroke="#728c23"/><path d="M327.5 122.5h4" stroke="#768d23"/><path d="M330.5 122.5h4" stroke="#7a8f24"/><path d="M333.5 122.5h4" stroke="#7e9125"/><path d="M336.5 122.5h4" stroke="#829325"/><path d="M339.5 122.5h4" stroke="#859526"/><path d="M342.5 122.5h4" stroke="#889626"/><path d="M345.5 122.5h4" stroke="#8b9826"/><path d="M348.5 122.5h4" stroke="#8d9927"/><path d="M351.5 122.5h4" stroke="#909b27"/><path d="M354.5 122.5h4" stroke="#939c27"/><path d="M357.5 122.5h4" stroke="#959d27"/><path d="M360.5 122.5h4" stroke="#979f28"/><path d="M363.5 122.5h4" stroke="#999f28"/><path d="M366.5 122.5h4" stroke="#9aa028"/><path d="M369.5 122.5h4" stroke="#9ca128"/><path d="M372.5 122.5h4" stroke="#9fa329"/><path d="M375.5 122.5h4" stroke="#a4a629"/><path d="M378.5 122.5h4" stroke="#aaaa2a"/><path d="M381.5 122.5h4" stroke="#afae2b"/><path d="M384.5 122.5h4" stroke="#b2b12c"/><path d="M387.5 122.5h4" stroke="#b4b22c"/><path d="M390.5 122.5h4" stroke="#b5b32c"/><path d="M174.5 125.5h4" stroke="#c8ba49"/><path d="M177.5 125.5h4" stroke="#c7bc45"/><path d="M180.5 125.5h4" stroke="#c5bf40"/><path d="M183.5 125.5h4" stroke="#c3c23b"/><path d="M186.5 125.5h4" stroke="#c2c636"/><path d="M189.5 125.5h4" stroke="#c0c832"/><path d="M192.5 125.5h4" stroke="#beca30"/><path d="M195.5 125.5h4" stroke="#bccc2e"/><path d="M198.5 125.5h4" stroke="#bacd2d"/><path d="M201.5 125.5h4" stroke="#b9ce2c"/><path d="M204.5 125.5h4" stroke="#b7cf2c"/><path d="M207.5 125.5h4" stroke="#b6d02b"/><path d="M210.5 125.5h4" stroke="#b5d02b"/><path d="M213.5 125.5h4" stroke="#b3d02a"/><path d="M216.5 125.5h4" stroke="#afce29"/><path d="M219.5 125.5h4" stroke="#a9ca28"/><path d="M222.5 125.5h4" stroke="#9fc227"/><path d="M225.5 125.5h4" stroke="#93b925"/><path d="M228.5 125.5h4" stroke="#89b024"/><path d="M231.5 125.5h4" stroke="#82ab23"/><path d="M234.5 125.5h4" stroke="#7ea723"/><path d="M237.5 125.5h4" stroke="#7aa422"/><path d="M240.5 125.5h4" stroke="#77a222"/><path d="M243.5 125.5h4" stroke="#739f21"/><path d="M246.5 125.5h4" stroke="#6f9c21"/><path d="M249.5 125.5h4" stroke="#6b9920"/><path d="M252.5 125.5h4" stroke="#679620"/><path d="M255.5 125.5h4" stroke="#63931f"/><path d="M258.5 125.5h4" stroke="#5f8f1f"/><path d="M261.5 125.5h4" stroke="#5b8c1e"/><path d="M264.5 125.5h4" stroke="#57891e"/><path d="M267.5 125.5h4" stroke="#55861e"/><path d="M270.5 125.5h4" stroke="#52841e"/><path d="M273.5 125.5h4" stroke="#4e811d"/><path d="M276.5 125.5h4" stroke="#4b7e1d"/><path d="M279.5 125.5h4" stroke="#497c1d"/><path d="M282.5 125.5h4" stroke="#477b1d"/><path d="M285.5 125.5h4" stroke="#477b1d"/><path d="M288.5 125.5h4" stroke="#487b1d"/><path d="M291.5 125.5h4" stroke="#497b1d"/><path d="M294.5 125.5h4" stroke="#4a7b1d"/><path d="M297.5 125.5h4" stroke="#4c7c1d"/><path d="M300.5 125.5h4" stroke="#4e7c1d"/><path d="M303.5 125.5h4" stroke="#507d1d"/><path d="M306.5 125.5h4" stroke="#527e1e"/><path d="M309.5 125.5h4" stroke="#557f1e"/><path d="M312.5 125.5h4" stroke="#5a821f"/><path d="M315.5 125.5h4" stroke="#5f8420"/><path d="M318.5 125.5h4" stroke="#648621"/><path d="M321.5 125.5h4" stroke="#688821"/><path d="M324.5 125.5h4" stroke="#6c8a22"/><path d="M327.5 125.5h4" stroke="#718b23"/><path d="M330.5 125.5h4" stroke="#758d23"/><path d="M333.5 125.5h4" stroke="#7a9024"/><path d="M336.5 125.5h4" stroke="#7f9224"/><path d="M339.5 125.5h4" stroke="#839425"/><path d="M342.5 125.5h4" stroke="#869525"/><path d="M345.5 125.5h4" stroke="#889726"/><path d="M348.5 125.5h4" stroke="#8a9826"/><path d="M351.5 125.5h4" stroke="#8d9926"/><path d="M354.5 125.5h4" stroke="#8f9b27"/><path d="M357.5 125.5h4" stroke="#929c27"/><path d="M360.5 125.5h4" stroke="#949d27"/><path d="M363.5 125.5h4" stroke="#979e28"/><path d="M366.5 125.5h4" stroke="#989f28"/><path d="M369.5 125.5h4" stroke="#9aa028"/><path d="M372.5 125.5h4" stroke="#9ca228"/><path d="M375.5 125.5h4" stroke="#a0a429"/><path d="M378.5 125.5h4" stroke="#a5a82a"/><path d="M381.5 125.5h4" stroke="#acac2b"/><path d="M384.5 125.5h4" stroke="#b1b02b"/><path d="M387.5 125.5h4" stroke="#b3b12c"/><path d="M174.5 128.5h4" stroke="#c6bd44"/><path d="M177.5 128.5h4" stroke="#c5bf40"/><path d="M180.5 128.5h4" stroke="#c4c23c"/><path d="M183.5 128.5h4" stroke="#c2c537"/><path d="M186.5 128.5h4" stroke="#c0c833"/><path d="M189.5 128.5h4" stroke="#beca30"/><path d="M192.5 128.5h4" stroke="#bccc2e"/><path d="M195.5 128.5h4" stroke="#bbce2d"/><path d="M198.5 128.5h4" stroke="#b9cf2c"/><path d="M201.5 128.5h4" stroke="#b8d02b"/><path d="M204.5 128.5h4" stroke="#b7d02b"/><path d="M207.5 128.5h4" stroke="#b6d12b"/><path d="M210.5 128.5h4" stroke="#b5d12a"/><path d="M213.5 128.5h4" stroke="#b4d12a"/><path d="M216.5 128.5h4" stroke="#b0cf2a"/><path d="M219.5 128.5h4" stroke="#a8c928"/><path d="M222.5 128.5h4" stroke="#9abf26"/><path d="M225.5 128.5h4" stroke="#8cb324"/><path d="M228.5 128.5h4" stroke="#83ab23"/><path d="M231.5 128.5h4" stroke="#7da723"/><path d="M234.5 128.5h4" stroke="#7aa422"/><path d="M237.5 128.5h4" stroke="#76a222"/><path d="M240.5 128.5h4" stroke="#739f21"/><path d="M243.5 128.5h4" stroke="#6f9c21"/><path d="M246.5 128.5h4" stroke="#6b9a20"/><path d="M249.5 128.5h4" stroke="#679720"/><path d="M252.5 128.5h4" stroke="#63941f"/><path d="M255.5 128.5h4" stroke="#5f901f"/><path d="M258.5 128.5h4" stroke="#5a8c1e"/><path d="M261.5 128.5h4" stroke="#56891e"/><path d="M264.5 128.5h4" stroke="#53861d"/><path d="M267.5 128.5h4" stroke="#50831d"/><path d="M270.5 128.5h4" stroke="#4d811d"/><path d="M273.5 128.5h4" stroke="#4b7f1d"/><path d="M276.5 128.5h4" stroke="#487c1c"/><path d="M279.5 128.5h4" stroke="#467b1c"/><path d="M282.5 128.5h4" stroke="#457a1c"/><path d="M285.5 128.5h4" stroke="#457a1c"/><path d="M288.5 128.5h4" stroke="#467a1c"/><path d="M291.5 128.5h4" stroke="#467a1c"/><path d="M294.5 128.5h4" stroke="#487a1c"/><path d="M297.5 128.5h4" stroke="#497a1c"/><path d="M300.5 128.5h4" stroke="#4a7a1c"/><path d="M303.5 128.5h4" stroke="#4b7b1c"/><path d="M306.5 128.5h4" stroke="#4d7b1d"/><path d="M309.5 128.5h4" stroke="#507d1d"/><path d="M312.5 128.5h4" stroke="#557f1e"/><path d="M315.5 128.5h4" stroke="#5a821f"/><path d="M318.5 128.5h4" stroke="#5f8520"/><path d="M321.5 128.5h4" stroke="#638621"/><path d="M324.5 128.5h4" stroke="#678821"/><path d="M327.5 128.5h4" stroke="#6c8a22"/><path d="M330.5 128.5h4" stroke="#718c22"/><path d="M333.5 128.5h4" stroke="#778e23"/><path d="M336.5 128.5h4" stroke="#7b9024"/><path d="M339.5 128.5h4" stroke="#7f9224"/><path d="M342.5 128.5h4" stroke="#839425"/><path d="M345.5 128.5h4" stroke="#869525"/><path d="M348.5 128.5h4" stroke="#889726"/><path d="M351.5 128.5h4" stroke="#8a9826"/><path d="M354.5 128.5h4" stroke="#8c9926"/><path d="M357.5 128.5h4" stroke="#8f9a27"/><path d="M360.5 128.5h4" stroke="#919c27"/><path d="M363.5 128.5h4" stroke="#949d27"/><path d="M366.5 128.5h4" stroke="#969e28"/><path d="M369.5 128.5h4" stroke="#989f28"/><path d="M372.5 128.5h4" stroke="#9aa028"/><path d="M375.5 128.5h4" stroke="#9da228"/><path d="M378.5 128.5h4" stroke="#a1a529"/><path d="M381.5 128.5h4" stroke="#a8a92a"/><path d="M384.5 128.5h4" stroke="#aeae2b"/><path d="M177.5 131.5h4" stroke="#c4c23c"/><path d="M180.5 131.5h4" stroke="#c3c438"/><path d="M183.5 131.5h4" stroke="#c1c734"/><path d="M186.5 131.5h4" stroke="#bfc931"/><path d="M189.5 131.5h4" stroke="#bdcb2f"/><path d="M192.5 131.5h4" stroke="#bbcd2d"/><path d="M195.5 131.5h4" stroke="#bace2c"/><path d="M198.5 131.5h4" stroke="#b8cf2b"/><path d="M201.5 131.5h4" stroke="#b8d02b"/><path d="M204.5 131.5h4" stroke="#b7d12a"/><path d="M207.5 131.5h4" stroke="#b6d12a"/><path d="M210.5 131.5h4" stroke="#b6d22a"/><path d="M213.5 131.5h4" stroke="#b4d12a"/><path d="M216.5 131.5h4" stroke="#b1cf2a"/><path d="M219.5 131.5h4" stroke="#a7c828"/><path d="M222.5 131.5h4" stroke="#96ba26"/><path d="M225.5 131.5h4" stroke="#86ae24"/><path d="M228.5 131.5h4" stroke="#7ea723"/><path d="M231.5 131.5h4" stroke="#79a422"/><path d="M234.5 131.5h4" stroke="#76a122"/><path d="M237.5 131.5h4" stroke="#729f21"/><path d="M240.5 131.5h4" stroke="#6f9d21"/><path d="M243.5 131.5h4" stroke="#6b9a20"/><path d="M246.5 131.5h4" stroke="#689720"/><path d="M249.5 131.5h4" stroke="#64951f"/><path d="M252.5 131.5h4" stroke="#60911f"/><path d="M255.5 131.5h4" stroke="#5b8e1e"/><path d="M258.5 131.5h4" stroke="#568a1d"/><path d="M261.5 131.5h4" stroke="#52861d"/><path d="M264.5 131.5h4" stroke="#4f841d"/><path d="M267.5 131.5h4" stroke="#4d811c"/><path d="M270.5 131.5h4" stroke="#4a7f1c"/><path d="M273.5 131.5h4" stroke="#487d1c"/><path d="M276.5 131.5h4" stroke="#467b1c"/><path d="M279.5 131.5h4" stroke="#457a1c"/><path d="M282.5 131.5h4" stroke="#44791c"/><path d="M285.5 131.5h4" stroke="#44791c"/><path d="M288.5 131.5h4" stroke="#45791c"/><path d="M291.5 131.5h4" stroke="#45791c"/><path d="M294.5 131.5h4" stroke="#46791c"/><path d="M297.5 131.5h4" stroke="#48791c"/><path d="M300.5 131.5h4" stroke="#48791c"/><path d="M303.5 131.5h4" stroke="#497a1c"/><path d="M306.5 131.5h4" stroke="#4b7a1c"/><path d="M309.5 131.5h4" stroke="#4d7c1d"/><path d="M312.5 131.5h4" stroke="#527e1e"/><path d="M315.5 131.5h4" stroke="#58811f"/><path d="M318.5 131.5h4" stroke="#5d8420"/><path d="M321.5 131.5h4" stroke="#608520"/><path d="M324.5 131.5h4" stroke="#648721"/><path d="M327.5 131.5h4" stroke="#698821"/><path d="M330.5 131.5h4" stroke="#6e8a22"/><path d="M333.5 131.5h4" stroke="#738d22"/><path d="M336.5 131.5h4" stroke="#788f23"/><path d="M339.5 131.5h4" stroke="#7c9124"/><path d="M342.5 131.5h4" stroke="#809224"/><path d="M345.5 131.5h4" stroke="#839425"/><path d="M348.5 131.5h4" stroke="#859525"/><path d="M351.5 131.5h4" stroke="#879725"/><path d="M354.5 131.5h4" stroke="#899826"/><path d="M357.5 131.5h4" stroke="#8c9926"/><path d="M360.5 131.5h4" stroke="#8e9a26"/><path d="M363.5 131.5h4" stroke="#909b27"/><path d="M366.5 131.5h4" stroke="#939d27"/><path d="M369.5 131.5h4" stroke="#959e27"/><path d="M372.5 131.5h4" stroke="#989f28"/><path d="M375.5 131.5h4" stroke="#9aa028"/><path d="M378.5 131.5h4" stroke="#9da228"/><path d="M381.5 131.5h4" stroke="#a3a629"/><path d="M177.5 134.5h4" stroke="#c3c438"/><path d="M180.5 134.5h4" stroke="#c1c635"/><path d="M183.5 134.5h4" stroke="#c0c832"/><path d="M186.5 134.5h4" stroke="#beca30"/><path d="M189.5 134.5h4" stroke="#bccb2e"/><path d="M192.5 134.5h4" stroke="#bacd2c"/><path d="M195.5 134.5h4" stroke="#b8ce2b"/><path d="M198.5 134.5h4" stroke="#b7cf2a"/><path d="M201.5 134.5h4" stroke="#b7d02a"/><path d="M204.5 134.5h4" stroke="#b6d12a"/><path d="M207.5 134.5h4" stroke="#b6d12a"/><path d="M210.5 134.5h4" stroke="#b6d22a"/><path d="M213.5 134.5h4" stroke="#b5d12a"/><path d="M216.5 134.5h4" stroke="#b2d029"/><path d="M219.5 134.5h4" stroke="#a7c828"/><path d="M222.5 134.5h4" stroke="#91b725"/><path d="M225.5 134.5h4" stroke="#81aa23"/><path d="M228.5 134.5h4" stroke="#79a422"/><path d="M231.5 134.5h4" stroke="#75a121"/><path d="M234.5 134.5h4" stroke="#729f21"/><path d="M237.5 134.5h4" stroke="#6f9d21"/><path d="M240.5 134.5h4" stroke="#6b9a20"/><path d="M243.5 134.5h4" stroke="#689820"/><path d="M246.5 134.5h4" stroke="#64951f"/><path d="M249.5 134.5h4" stroke="#61921f"/><path d="M252.5 134.5h4" stroke="#5c8f1e"/><path d="M255.5 134.5h4" stroke="#588b1e"/><path d="M258.5 134.5h4" stroke="#53881d"/><path d="M261.5 134.5h4" stroke="#4f841d"/><path d="M264.5 134.5h4" stroke="#4c821c"/><path d="M267.5 134.5h4" stroke="#4a801c"/><path d="M270.5 134.5h4" stroke="#497e1c"/><path d="M273.5 134.5h4" stroke="#477c1c"/><path d="M276.5 134.5h4" stroke="#457b1c"/><path d="M279.5 134.5h4" stroke="#44791c"/><path d="M282.5 134.5h4" stroke="#43791c"/><path d="M285.5 134.5h4" stroke="#43781c"/><path d="M288.5 134.5h4" stroke="#44781c"/><path d="M291.5 134.5h4" stroke="#44781c"/><path d="M294.5 134.5h4" stroke="#46781c"/><path d="M297.5 134.5h4" stroke="#47791c"/><path d="M300.5 134.5h4" stroke="#48791c"/><path d="M303.5 134.5h4" stroke="#48791c"/><path d="M306.5 134.5h4" stroke="#497a1c"/><path d="M309.5 134.5h4" stroke="#4c7b1d"/><path d="M312.5 134.5h4" stroke="#517e1e"/><path d="M315.5 134.5h4" stroke="#56801f"/><path d="M318.5 134.5h4" stroke="#5b8320"/><path d="M321.5 134.5h4" stroke="#5e8420"/><path d="M324.5 134.5h4" stroke="#628620"/><path d="M327.5 134.5h4" stroke="#668721"/><path d="M330.5 134.5h4" stroke="#6b8921"/><path d="M333.5 134.5h4" stroke="#708b22"/><path d="M336.5 134.5h4" stroke="#758d23"/><path d="M339.5 134.5h4" stroke="#798f23"/><path d="M342.5 134.5h4" stroke="#7c9124"/><path d="M345.5 134.5h4" stroke="#7f9224"/><path d="M348.5 134.5h4" stroke="#829425"/><path d="M351.5 134.5h4" stroke="#859525"/><path d="M354.5 134.5h4" stroke="#879625"/><path d="M357.5 134.5h4" stroke="#899726"/><path d="M360.5 134.5h4" stroke="#8b9826"/><path d="M363.5 134.5h4" stroke="#8d9a26"/><path d="M366.5 134.5h4" stroke="#909b27"/><path d="M369.5 134.5h4" stroke="#929c27"/><path d="M372.5 134.5h4" stroke="#959d27"/><path d="M375.5 134.5h4" stroke="#979f28"/><path d="M378.5 134.5h4" stroke="#9aa028"/><path d="M177.5 137.5h4" stroke="#c1c535"/><path d="M180.5 137.5h4" stroke="#c0c733"/><path d="M183.5 137.5h4" stroke="#bec831"/><path d="M186.5 137.5h4" stroke="#bcc92f"/><path d="M189.5 137.5h4" stroke="#bacb2d"/><path d="M192.5 137.5h4" stroke="#b8cc2c"/><path d="M195.5 137.5h4" stroke="#b7cd2b"/><path d="M198.5 137.5h4" stroke="#b6cf2a"/><path d="M201.5 137.5h4" stroke="#b5cf2a"/><path d="M204.5 137.5h4" stroke="#b5d02a"/><path d="M207.5 137.5h4" stroke="#b5d12a"/><path d="M210.5 137.5h4" stroke="#b5d12a"/><path d="M213.5 137.5h4" stroke="#b5d12a"/><path d="M216.5 137.5h4" stroke="#b3d029"/><path d="M219.5 137.5h4" stroke="#a8c828"/><path d="M222.5 137.5h4" stroke="#8fb425"/><path d="M225.5 137.5h4" stroke="#7da722"/><path d="M228.5 137.5h4" stroke="#76a222"/><path d="M231.5 137.5h4" stroke="#729f21"/><path d="M234.5 137.5h4" stroke="#6f9d21"/><path d="M237.5 137.5h4" stroke="#6c9b20"/><path d="M240.5 137.5h4" stroke="#689820"/><path d="M243.5 137.5h4" stroke="#65961f"/><path d="M246.5 137.5h4" stroke="#62931f"/><path d="M249.5 137.5h4" stroke="#5e901e"/><path d="M252.5 137.5h4" stroke="#598d1e"/><path d="M255.5 137.5h4" stroke="#55891d"/><path d="M258.5 137.5h4" stroke="#51861d"/><path d="M261.5 137.5h4" stroke="#4d831c"/><path d="M264.5 137.5h4" stroke="#4b811c"/><path d="M267.5 137.5h4" stroke="#497f1c"/><path d="M270.5 137.5h4" stroke="#477d1c"/><path d="M273.5 137.5h4" stroke="#457b1b"/><path d="M276.5 137.5h4" stroke="#447a1b"/><path d="M279.5 137.5h4" stroke="#43781b"/><path d="M282.5 137.5h4" stroke="#42781b"/><path d="M285.5 137.5h4" stroke="#42771b"/><path d="M288.5 137.5h4" stroke="#42771b"/><path d="M291.5 137.5h4" stroke="#43771b"/><path d="M294.5 137.5h4" stroke="#44771b"/><path d="M297.5 137.5h4" stroke="#46781c"/><path d="M300.5 137.5h4" stroke="#47781c"/><path d="M303.5 137.5h4" stroke="#47791c"/><path d="M306.5 137.5h4" stroke="#49791c"/><path d="M309.5 137.5h4" stroke="#4b7a1d"/><path d="M312.5 137.5h4" stroke="#4f7d1d"/><path d="M315.5 137.5h4" stroke="#557f1e"/><path d="M318.5 137.5h4" stroke="#59821f"/><path d="M321.5 137.5h4" stroke="#5c8320"/><path d="M324.5 137.5h4" stroke="#608520"/><path d="M327.5 137.5h4" stroke="#648621"/><path d="M330.5 137.5h4" stroke="#698821"/><path d="M333.5 137.5h4" stroke="#6e8a22"/><path d="M336.5 137.5h4" stroke="#728c22"/><path d="M339.5 137.5h4" stroke="#768d23"/><path d="M342.5 137.5h4" stroke="#798f23"/><path d="M345.5 137.5h4" stroke="#7c9124"/><path d="M348.5 137.5h4" stroke="#7f9224"/><path d="M351.5 137.5h4" stroke="#829324"/><path d="M354.5 137.5h4" stroke="#849525"/><path d="M357.5 137.5h4" stroke="#869625"/><path d="M360.5 137.5h4" stroke="#889726"/><path d="M363.5 137.5h4" stroke="#8a9826"/><path d="M366.5 137.5h4" stroke="#8d9926"/><path d="M369.5 137.5h4" stroke="#8f9a27"/><path d="M372.5 137.5h4" stroke="#929c27"/><path d="M375.5 137.5h4" stroke="#949d27"/><path d="M180.5 140.5h4" stroke="#bec731"/><path d="M183.5 140.5h4" stroke="#bcc82f"/><path d="M186.5 140.5h4" stroke="#bac92e"/><path d="M189.5 140.5h4" stroke="#b8ca2c"/><path d="M192.5 140.5h4" stroke="#b6cb2b"/><path d="M195.5 140.5h4" stroke="#b5cc2a"/><path d="M198.5 140.5h4" stroke="#b4cd2a"/><path d="M201.5 140.5h4" stroke="#b4ce2a"/><path d="M204.5 140.5h4" stroke="#b4cf29"/><path d="M207.5 140.5h4" stroke="#b4d029"/><path d="M210.5 140.5h4" stroke="#b4d029"/><path d="M213.5 140.5h4" stroke="#b5d129"/><path d="M216.5 140.5h4" stroke="#b3d029"/><path d="M219.5 140.5h4" stroke="#aac928"/><path d="M222.5 140.5h4" stroke="#8eb425"/><path d="M225.5 140.5h4" stroke="#7aa522"/><path d="M228.5 140.5h4" stroke="#73a021"/><path d="M231.5 140.5h4" stroke="#6f9d21"/><path d="M234.5 140.5h4" stroke="#6c9b20"/><path d="M237.5 140.5h4" stroke="#699920"/><path d="M240.5 140.5h4" stroke="#66961f"/><path d="M243.5 140.5h4" stroke="#62941f"/><path d="M246.5 140.5h4" stroke="#5f911f"/><path d="M249.5 140.5h4" stroke="#5b8e1e"/><path d="M252.5 140.5h4" stroke="#568b1d"/><path d="M255.5 140.5h4" stroke="#52881d"/><path d="M258.5 140.5h4" stroke="#4e841c"/><path d="M261.5 140.5h4" stroke="#4b821c"/><path d="M264.5 140.5h4" stroke="#49801c"/><path d="M267.5 140.5h4" stroke="#477e1b"/><path d="M270.5 140.5h4" stroke="#457c1b"/><path d="M273.5 140.5h4" stroke="#437a1b"/><path d="M276.5 140.5h4" stroke="#42781b"/><path d="M279.5 140.5h4" stroke="#40771b"/><path d="M282.5 140.5h4" stroke="#3f761b"/><path d="M285.5 140.5h4" stroke="#3f751a"/><path d="M288.5 140.5h4" stroke="#3f751a"/><path d="M291.5 140.5h4" stroke="#40761b"/><path d="M294.5 140.5h4" stroke="#42761b"/><path d="M297.5 140.5h4" stroke="#44771b"/><path d="M300.5 140.5h4" stroke="#45771b"/><path d="M303.5 140.5h4" stroke="#46781c"/><path d="M306.5 140.5h4" stroke="#47781c"/><path d="M309.5 140.5h4" stroke="#49791c"/><path d="M312.5 140.5h4" stroke="#4d7b1d"/><path d="M315.5 140.5h4" stroke="#527e1e"/><path d="M318.5 140.5h4" stroke="#56801f"/><path d="M321.5 140.5h4" stroke="#5a811f"/><path d="M324.5 140.5h4" stroke="#5d8320"/><path d="M327.5 140.5h4" stroke="#618520"/><path d="M330.5 140.5h4" stroke="#668621"/><path d="M333.5 140.5h4" stroke="#6b8921"/><path d="M336.5 140.5h4" stroke="#6f8a22"/><path d="M339.5 140.5h4" stroke="#738c22"/><path d="M342.5 140.5h4" stroke="#768e23"/><path d="M345.5 140.5h4" stroke="#798f23"/><path d="M348.5 140.5h4" stroke="#7c9023"/><path d="M351.5 140.5h4" stroke="#7e9224"/><path d="M354.5 140.5h4" stroke="#819324"/><path d="M357.5 140.5h4" stroke="#839425"/><path d="M360.5 140.5h4" stroke="#869625"/><path d="M363.5 140.5h4" stroke="#889726"/><path d="M366.5 140.5h4" stroke="#8a9826"/><path d="M369.5 140.5h4" stroke="#8c9926"/><path d="M372.5 140.5h4" stroke="#8e9a26"/><path d="M180.5 143.5h4" stroke="#bcc72f"/><path d="M183.5 143.5h4" stroke="#bac82e"/><path d="M186.5 143.5h4" stroke="#b7c82d"/><path d="M189.5 143.5h4" stroke="#b6c92c"/><path d="M192.5 143.5h4" stroke="#b4ca2b"/><path d="M195.5 143.5h4" stroke="#b3cb2a"/><path d="M198.5 143.5h4" stroke="#b3cc2a"/><path d="M201.5 143.5h4" stroke="#b2cd29"/><path d="M204.5 143.5h4" stroke="#b3ce29"/><path d="M207.5 143.5h4" stroke="#b3ce29"/><path d="M210.5 143.5h4" stroke="#b3cf29"/><path d="M213.5 143.5h4" stroke="#b4d029"/><path d="M216.5 143.5h4" stroke="#b3cf29"/><path d="M219.5 143.5h4" stroke="#acca28"/><path d="M222.5 143.5h4" stroke="#90b625"/><path d="M225.5 143.5h4" stroke="#78a322"/><path d="M228.5 143.5h4" stroke="#709e21"/><path d="M231.5 143.5h4" stroke="#6d9b20"/><path d="M234.5 143.5h4" stroke="#699920"/><path d="M237.5 143.5h4" stroke="#66971f"/><path d="M240.5 143.5h4" stroke="#63941f"/><path d="M243.5 143.5h4" stroke="#5f921f"/><path d="M246.5 143.5h4" stroke="#5b8f1e"/><path d="M249.5 143.5h4" stroke="#578c1e"/><path d="M252.5 143.5h4" stroke="#53891d"/><path d="M255.5 143.5h4" stroke="#50861d"/><path d="M258.5 143.5h4" stroke="#4c831c"/><path d="M261.5 143.5h4" stroke="#49801c"/><path d="M264.5 143.5h4" stroke="#477e1b"/><path d="M267.5 143.5h4" stroke="#457c1b"/><path d="M270.5 143.5h4" stroke="#437a1b"/><path d="M273.5 143.5h4" stroke="#41781a"/><path d="M276.5 143.5h4" stroke="#3f771a"/><path d="M279.5 143.5h4" stroke="#3e751a"/><path d="M282.5 143.5h4" stroke="#3d741a"/><path d="M285.5 143.5h4" stroke="#3d741a"/><path d="M288.5 143.5h4" stroke="#3d741a"/><path d="M291.5 143.5h4" stroke="#3e741a"/><path d="M294.5 143.5h4" stroke="#40751a"/><path d="M297.5 143.5h4" stroke="#42761b"/><path d="M300.5 143.5h4" stroke="#43761b"/><path d="M303.5 143.5h4" stroke="#44771b"/><path d="M306.5 143.5h4" stroke="#45771b"/><path d="M309.5 143.5h4" stroke="#47781c"/><path d="M312.5 143.5h4" stroke="#4b7a1c"/><path d="M315.5 143.5h4" stroke="#4f7c1d"/><path d="M318.5 143.5h4" stroke="#537e1e"/><path d="M321.5 143.5h4" stroke="#577f1f"/><path d="M324.5 143.5h4" stroke="#5a811f"/><path d="M327.5 143.5h4" stroke="#5d8220"/><path d="M330.5 143.5h4" stroke="#628420"/><path d="M333.5 143.5h4" stroke="#678621"/><path d="M336.5 143.5h4" stroke="#6c8921"/><path d="M339.5 143.5h4" stroke="#708b22"/><path d="M342.5 143.5h4" stroke="#748c22"/><path d="M345.5 143.5h4" stroke="#768d23"/><path d="M348.5 143.5h4" stroke="#798f23"/><path d="M351.5 143.5h4" stroke="#7b9023"/><path d="M354.5 143.5h4" stroke="#7e9124"/><path d="M357.5 143.5h4" stroke="#809324"/><path d="M360.5 143.5h4" stroke="#839425"/><path d="M363.5 143.5h4" stroke="#859525"/><path d="M366.5 143.5h4" stroke="#879625"/><path d="M369.5 143.5h4" stroke="#899826"/><path d="M183.5 146.5h4" stroke="#b7c72d"/><path d="M186.5 146.5h4" stroke="#b5c82c"/><path d="M189.5 146.5h4" stroke="#b3c82b"/><path d="M192.5 146.5h4" stroke="#b2c92b"/><path d="M195.5 146.5h4" stroke="#b1c92a"/><path d="M198.5 146.5h4" stroke="#b1ca2a"/><path d="M201.5 146.5h4" stroke="#b1cb29"/><path d="M204.5 146.5h4" stroke="#b1cc29"/><path d="M207.5 146.5h4" stroke="#b1cd29"/><path d="M210.5 146.5h4" stroke="#b2ce29"/><path d="M213.5 146.5h4" stroke="#b2ce29"/><path d="M216.5 146.5h4" stroke="#b2ce29"/><path d="M219.5 146.5h4" stroke="#aecb28"/><path d="M222.5 146.5h4" stroke="#95b925"/><path d="M225.5 146.5h4" stroke="#77a322"/><path d="M228.5 146.5h4" stroke="#6e9c20"/><path d="M231.5 146.5h4" stroke="#6a9920"/><path d="M234.5 146.5h4" stroke="#679720"/><path d="M237.5 146.5h4" stroke="#63951f"/><path d="M240.5 146.5h4" stroke="#60921f"/><path d="M243.5 146.5h4" stroke="#5c8f1e"/><path d="M246.5 146.5h4" stroke="#588c1e"/><path d="M249.5 146.5h4" stroke="#548a1d"/><path d="M252.5 146.5h4" stroke="#50871d"/><path d="M255.5 146.5h4" stroke="#4d841c"/><path d="M258.5 146.5h4" stroke="#4a811c"/><path d="M261.5 146.5h4" stroke="#477f1b"/><path d="M264.5 146.5h4" stroke="#457c1b"/><path d="M267.5 146.5h4" stroke="#437a1b"/><path d="M270.5 146.5h4" stroke="#41781a"/><path d="M273.5 146.5h4" stroke="#3f771a"/><path d="M276.5 146.5h4" stroke="#3e761a"/><path d="M279.5 146.5h4" stroke="#3d741a"/><path d="M282.5 146.5h4" stroke="#3c7419"/><path d="M285.5 146.5h4" stroke="#3c7319"/><path d="M288.5 146.5h4" stroke="#3c7319"/><path d="M291.5 146.5h4" stroke="#3c731a"/><path d="M294.5 146.5h4" stroke="#3e741a"/><path d="M297.5 146.5h4" stroke="#3f751a"/><path d="M300.5 146.5h4" stroke="#41751a"/><path d="M303.5 146.5h4" stroke="#42761b"/><path d="M306.5 146.5h4" stroke="#43761b"/><path d="M309.5 146.5h4" stroke="#45771b"/><path d="M312.5 146.5h4" stroke="#48781c"/><path d="M315.5 146.5h4" stroke="#4d7a1d"/><path d="M318.5 146.5h4" stroke="#507c1e"/><path d="M321.5 146.5h4" stroke="#547e1e"/><path d="M324.5 146.5h4" stroke="#567f1f"/><path d="M327.5 146.5h4" stroke="#59801f"/><path d="M330.5 146.5h4" stroke="#5d821f"/><path d="M333.5 146.5h4" stroke="#618420"/><path d="M336.5 146.5h4" stroke="#678621"/><path d="M339.5 146.5h4" stroke="#6c8921"/><path d="M342.5 146.5h4" stroke="#708a22"/><path d="M345.5 146.5h4" stroke="#738c22"/><path d="M348.5 146.5h4" stroke="#768d22"/><path d="M351.5 146.5h4" stroke="#788e23"/><path d="M354.5 146.5h4" stroke="#7b9023"/><path d="M357.5 146.5h4" stroke="#7d9124"/><path d="M360.5 146.5h4" stroke="#809224"/><path d="M363.5 146.5h4" stroke="#829425"/><path d="M366.5 146.5h4" stroke="#859525"/><path d="M186.5 149.5h4" stroke="#b3c72c"/><path d="M189.5 149.5h4" stroke="#b2c72b"/><path d="M192.5 149.5h4" stroke="#b0c82a"/><path d="M195.5 149.5h4" stroke="#b0c82a"/><path d="M198.5 149.5h4" stroke="#afc92a"/><path d="M201.5 149.5h4" stroke="#afca29"/><path d="M204.5 149.5h4" stroke="#b0ca29"/><path d="M207.5 149.5h4" stroke="#b0cb29"/><path d="M210.5 149.5h4" stroke="#b0cc29"/><path d="M213.5 149.5h4" stroke="#b1cd29"/><path d="M216.5 149.5h4" stroke="#b1cd29"/><path d="M219.5 149.5h4" stroke="#afcb28"/><path d="M222.5 149.5h4" stroke="#9abd26"/><path d="M225.5 149.5h4" stroke="#78a322"/><path d="M228.5 149.5h4" stroke="#6c9b20"/><path d="M231.5 149.5h4" stroke="#679820"/><path d="M234.5 149.5h4" stroke="#64951f"/><path d="M237.5 149.5h4" stroke="#60921f"/><path d="M240.5 149.5h4" stroke="#5c901e"/><path d="M243.5 149.5h4" stroke="#588d1e"/><path d="M246.5 149.5h4" stroke="#548a1d"/><path d="M249.5 149.5h4" stroke="#51871d"/><path d="M252.5 149.5h4" stroke="#4e851c"/><path d="M255.5 149.5h4" stroke="#4b821c"/><path d="M258.5 149.5h4" stroke="#48801b"/><path d="M261.5 149.5h4" stroke="#467d1b"/><path d="M264.5 149.5h4" stroke="#437b1b"/><path d="M267.5 149.5h4" stroke="#41791a"/><path d="M270.5 149.5h4" stroke="#3f771a"/><path d="M273.5 149.5h4" stroke="#3e761a"/><path d="M276.5 149.5h4" stroke="#3d751a"/><path d="M279.5 149.5h4" stroke="#3c7419"/><path d="M282.5 149.5h4" stroke="#3c7319"/><path d="M285.5 149.5h4" stroke="#3b7319"/><path d="M288.5 149.5h4" stroke="#3b7319"/><path d="M291.5 149.5h4" stroke="#3c7319"/><path d="M294.5 149.5h4" stroke="#3d731a"/><path d="M297.5 149.5h4" stroke="#3e741a"/><path d="M300.5 149.5h4" stroke="#40741a"/><path d="M303.5 149.5h4" stroke="#41751a"/><path d="M306.5 149.5h4" stroke="#42751a"/><path d="M309.5 149.5h4" stroke="#44761b"/><path d="M312.5 149.5h4" stroke="#47771b"/><path d="M315.5 149.5h4" stroke="#4b791c"/><path d="M318.5 149.5h4" stroke="#4e7b1d"/><path d="M321.5 149.5h4" stroke="#517c1e"/><path d="M324.5 149.5h4" stroke="#547d1e"/><path d="M327.5 149.5h4" stroke="#567e1e"/><path d="M330.5 149.5h4" stroke="#587f1f"/><path d="M333.5 149.5h4" stroke="#5c811f"/><path d="M336.5 149.5h4" stroke="#618320"/><path d="M339.5 149.5h4" stroke="#668620"/><path d="M342.5 149.5h4" stroke="#6b8821"/><path d="M345.5 149.5h4" stroke="#708a22"/><path d="M348.5 149.5h4" stroke="#738c22"/><path d="M351.5 149.5h4" stroke="#768d22"/><path d="M354.5 149.5h4" stroke="#788e23"/><path d="M357.5 149.5h4" stroke="#7a8f23"/><path d="M360.5 149.5h4" stroke="#7d9124"/><path d="M363.5 149.5h4" stroke="#7f9224"/><path d="M186.5 152.5h4" stroke="#b1c72b"/><path d="M189.5 152.5h4" stroke="#b0c72b"/><path d="M192.5 152.5h4" stroke="#afc72a"/><path d="M195.5 152.5h4" stroke="#aec72a"/><path d="M198.5 152.5h4" stroke="#aec82a"/><path d="M201.5 152.5h4" stroke="#aec82a"/><path d="M204.5 152.5h4" stroke="#aec929"/><path d="M207.5 152.5h4" stroke="#aeca29"/><path d="M210.5 152.5h4" stroke="#afcb29"/><path d="M213.5 152.5h4" stroke="#b0cb29"/><path d="M216.5 152.5h4" stroke="#b0cc29"/><path d="M219.5 152.5h4" stroke="#afcb29"/><path d="M222.5 152.5h4" stroke="#a0c027"/><path d="M225.5 152.5h4" stroke="#79a522"/><path d="M228.5 152.5h4" stroke="#699920"/><path d="M231.5 152.5h4" stroke="#64951f"/><path d="M234.5 152.5h4" stroke="#60931f"/><path d="M237.5 152.5h4" stroke="#5c901e"/><path d="M240.5 152.5h4" stroke="#588d1e"/><path d="M243.5 152.5h4" stroke="#558a1d"/><path d="M246.5 152.5h4" stroke="#51881d"/><path d="M249.5 152.5h4" stroke="#4f861c"/><path d="M252.5 152.5h4" stroke="#4c831c"/><path d="M255.5 152.5h4" stroke="#49811c"/><path d="M258.5 152.5h4" stroke="#477f1b"/><path d="M261.5 152.5h4" stroke="#447c1b"/><path d="M264.5 152.5h4" stroke="#427a1a"/><path d="M267.5 152.5h4" stroke="#40781a"/><path d="M270.5 152.5h4" stroke="#3e761a"/><path d="M273.5 152.5h4" stroke="#3d751a"/><path d="M276.5 152.5h4" stroke="#3d7519"/><path d="M279.5 152.5h4" stroke="#3c7419"/><path d="M282.5 152.5h4" stroke="#3b7319"/><path d="M285.5 152.5h4" stroke="#3b7319"/><path d="M288.5 152.5h4" stroke="#3b7319"/><path d="M291.5 152.5h4" stroke="#3c7319"/><path d="M294.5 152.5h4" stroke="#3d731a"/><path d="M297.5 152.5h4" stroke="#3e741a"/><path d="M300.5 152.5h4" stroke="#3f741a"/><path d="M303.5 152.5h4" stroke="#40751a"/><path d="M306.5 152.5h4" stroke="#41751a"/><path d="M309.5 152.5h4" stroke="#43751b"/><path d="M312.5 152.5h4" stroke="#46771b"/><path d="M315.5 152.5h4" stroke="#49781c"/><path d="M318.5 152.5h4" stroke="#4d7a1d"/><path d="M321.5 152.5h4" stroke="#507b1d"/><path d="M324.5 152.5h4" stroke="#527c1e"/><path d="M327.5 152.5h4" stroke="#537d1e"/><path d="M330.5 152.5h4" stroke="#557e1e"/><path d="M333.5 152.5h4" stroke="#577f1f"/><path d="M336.5 152.5h4" stroke="#5b801f"/><path d="M339.5 152.5h4" stroke="#608320"/><path d="M342.5 152.5h4" stroke="#658520"/><path d="M345.5 152.5h4" stroke="#6b8821"/><path d="M348.5 152.5h4" stroke="#6f8a22"/><path d="M351.5 152.5h4" stroke="#738b22"/><path d="M354.5 152.5h4" stroke="#758d22"/><path d="M357.5 152.5h4" stroke="#778e23"/><path d="M360.5 152.5h4" stroke="#7a8f23"/><path d="M192.5 155.5h4" stroke="#adc62a"/><path d="M195.5 155.5h4" stroke="#adc62a"/><path d="M198.5 155.5h4" stroke="#adc72a"/><path d="M201.5 155.5h4" stroke="#acc72a"/><path d="M204.5 155.5h4" stroke="#adc829"/><path d="M207.5 155.5h4" stroke="#adc829"/><path d="M210.5 155.5h4" stroke="#adc929"/><path d="M213.5 155.5h4" stroke="#aeca29"/><path d="M216.5 155.5h4" stroke="#afca29"/><path d="M219.5 155.5h4" stroke="#aeca29"/><path d="M222.5 155.5h4" stroke="#a4c327"/><path d="M225.5 155.5h4" stroke="#7da722"/><path d="M228.5 155.5h4" stroke="#679720"/><path d="M231.5 155.5h4" stroke="#61931f"/><path d="M234.5 155.5h4" stroke="#5d901e"/><path d="M237.5 155.5h4" stroke="#588d1e"/><path d="M240.5 155.5h4" stroke="#558a1d"/><path d="M243.5 155.5h4" stroke="#52881d"/><path d="M246.5 155.5h4" stroke="#4f861c"/><path d="M249.5 155.5h4" stroke="#4d841c"/><path d="M252.5 155.5h4" stroke="#4a821c"/><path d="M255.5 155.5h4" stroke="#48801b"/><path d="M258.5 155.5h4" stroke="#457d1b"/><path d="M261.5 155.5h4" stroke="#437b1b"/><path d="M264.5 155.5h4" stroke="#40781a"/><path d="M267.5 155.5h4" stroke="#3f771a"/><path d="M270.5 155.5h4" stroke="#3e761a"/><path d="M273.5 155.5h4" stroke="#3d7519"/><path d="M276.5 155.5h4" stroke="#3c7419"/><path d="M279.5 155.5h4" stroke="#3c7419"/><path d="M282.5 155.5h4" stroke="#3c7319"/><path d="M285.5 155.5h4" stroke="#3c7319"/><path d="M288.5 155.5h4" stroke="#3c7319"/><path d="M291.5 155.5h4" stroke="#3c7319"/><path d="M294.5 155.5h4" stroke="#3d741a"/><path d="M297.5 155.5h4" stroke="#3e741a"/><path d="M300.5 155.5h4" stroke="#3f741a"/><path d="M303.5 155.5h4" stroke="#40741a"/><path d="M306.5 155.5h4" stroke="#41751a"/><path d="M309.5 155.5h4" stroke="#42751b"/><path d="M312.5 155.5h4" stroke="#45761b"/><path d="M315.5 155.5h4" stroke="#48781c"/><path d="M318.5 155.5h4" stroke="#4c791d"/><path d="M321.5 155.5h4" stroke="#4f7b1d"/><path d="M324.5 155.5h4" stroke="#517c1e"/><path d="M327.5 155.5h4" stroke="#527c1e"/><path d="M330.5 155.5h4" stroke="#537d1e"/><path d="M333.5 155.5h4" stroke="#557d1e"/><path d="M336.5 155.5h4" stroke="#577e1f"/><path d="M339.5 155.5h4" stroke="#5a801f"/><path d="M342.5 155.5h4" stroke="#5e821f"/><path d="M345.5 155.5h4" stroke="#648420"/><path d="M348.5 155.5h4" stroke="#698721"/><path d="M351.5 155.5h4" stroke="#6e8921"/><path d="M354.5 155.5h4" stroke="#728b22"/><path d="M195.5 158.5h4" stroke="#acc62a"/><path d="M198.5 158.5h4" stroke="#abc62a"/><path d="M201.5 158.5h4" stroke="#abc62a"/><path d="M204.5 158.5h4" stroke="#abc72a"/><path d="M207.5 158.5h4" stroke="#acc729"/><path d="M210.5 158.5h4" stroke="#acc829"/><path d="M213.5 158.5h4" stroke="#adc829"/><path d="M216.5 158.5h4" stroke="#adc929"/><path d="M219.5 158.5h4" stroke="#adc929"/><path d="M222.5 158.5h4" stroke="#a7c528"/><path d="M225.5 158.5h4" stroke="#82ab23"/><path d="M228.5 158.5h4" stroke="#65961f"/><path d="M231.5 158.5h4" stroke="#5d901e"/><path d="M234.5 158.5h4" stroke="#598d1e"/><path d="M237.5 158.5h4" stroke="#558a1d"/><path d="M240.5 158.5h4" stroke="#52881d"/><path d="M243.5 158.5h4" stroke="#4f861c"/><path d="M246.5 158.5h4" stroke="#4d841c"/><path d="M249.5 158.5h4" stroke="#4b831c"/><path d="M252.5 158.5h4" stroke="#49811c"/><path d="M255.5 158.5h4" stroke="#477e1b"/><path d="M258.5 158.5h4" stroke="#447c1b"/><path d="M261.5 158.5h4" stroke="#41791a"/><path d="M264.5 158.5h4" stroke="#3f771a"/><path d="M267.5 158.5h4" stroke="#3e761a"/><path d="M270.5 158.5h4" stroke="#3d751a"/><path d="M273.5 158.5h4" stroke="#3d7519"/><path d="M276.5 158.5h4" stroke="#3c7419"/><path d="M279.5 158.5h4" stroke="#3c7419"/><path d="M282.5 158.5h4" stroke="#3c7419"/><path d="M285.5 158.5h4" stroke="#3c7319"/><path d="M288.5 158.5h4" stroke="#3c7419"/><path d="M291.5 158.5h4" stroke="#3d741a"/><path d="M294.5 158.5h4" stroke="#3e741a"/><path d="M297.5 158.5h4" stroke="#3e741a"/><path d="M300.5 158.5h4" stroke="#3f741a"/><path d="M303.5 158.5h4" stroke="#3f751a"/><path d="M306.5 158.5h4" stroke="#40751a"/><path d="M309.5 158.5h4" stroke="#42751a"/><path d="M312.5 158.5h4" stroke="#44761b"/><path d="M315.5 158.5h4" stroke="#47771c"/><path d="M318.5 158.5h4" stroke="#4b791c"/><path d="M321.5 158.5h4" stroke="#4e7a1d"/><path d="M324.5 158.5h4" stroke="#507b1e"/><path d="M327.5 158.5h4" stroke="#527c1e"/><path d="M330.5 158.5h4" stroke="#527c1e"/><path d="M333.5 158.5h4" stroke="#537d1e"/><path d="M336.5 158.5h4" stroke="#547d1e"/><path d="M339.5 158.5h4" stroke="#567e1e"/><path d="M342.5 158.5h4" stroke="#597f1f"/><path d="M345.5 158.5h4" stroke="#5d811f"/><path d="M348.5 158.5h4" stroke="#628420"/><path d="M351.5 158.5h4" stroke="#688621"/><path d="M201.5 161.5h4" stroke="#aac62a"/><path d="M204.5 161.5h4" stroke="#abc62a"/><path d="M207.5 161.5h4" stroke="#abc62a"/><path d="M210.5 161.5h4" stroke="#abc72a"/><path d="M213.5 161.5h4" stroke="#abc729"/><path d="M216.5 161.5h4" stroke="#acc829"/><path d="M219.5 161.5h4" stroke="#acc829"/><path d="M222.5 161.5h4" stroke="#a9c628"/><path d="M225.5 161.5h4" stroke="#89b024"/><path d="M228.5 161.5h4" stroke="#62941f"/><path d="M231.5 161.5h4" stroke="#598d1e"/><path d="M234.5 161.5h4" stroke="#558a1d"/><path d="M237.5 161.5h4" stroke="#52881d"/><path d="M240.5 161.5h4" stroke="#4f861c"/><path d="M243.5 161.5h4" stroke="#4d851c"/><path d="M246.5 161.5h4" stroke="#4c831c"/><path d="M249.5 161.5h4" stroke="#4a821c"/><path d="M252.5 161.5h4" stroke="#48801b"/><path d="M255.5 161.5h4" stroke="#457d1b"/><path d="M258.5 161.5h4" stroke="#437b1b"/><path d="M261.5 161.5h4" stroke="#40781a"/><path d="M264.5 161.5h4" stroke="#3f771a"/><path d="M267.5 161.5h4" stroke="#3e761a"/><path d="M270.5 161.5h4" stroke="#3d7519"/><path d="M273.5 161.5h4" stroke="#3c7419"/><path d="M276.5 161.5h4" stroke="#3c7419"/><path d="M279.5 161.5h4" stroke="#3c7419"/><path d="M282.5 161.5h4" stroke="#3c7419"/><path d="M285.5 161.5h4" stroke="#3c7419"/><path d="M288.5 161.5h4" stroke="#3d7419"/><path d="M291.5 161.5h4" stroke="#3d741a"/><path d="M294.5 161.5h4" stroke="#3e741a"/><path d="M297.5 161.5h4" stroke="#3f751a"/><path d="M300.5 161.5h4" stroke="#3f751a"/><path d="M303.5 161.5h4" stroke="#3f751a"/><path d="M306.5 161.5h4" stroke="#40751a"/><path d="M309.5 161.5h4" stroke="#41751a"/><path d="M312.5 161.5h4" stroke="#43761b"/><path d="M315.5 161.5h4" stroke="#46771b"/><path d="M318.5 161.5h4" stroke="#4a791c"/><path d="M321.5 161.5h4" stroke="#4e7a1d"/><path d="M324.5 161.5h4" stroke="#507b1e"/><path d="M327.5 161.5h4" stroke="#517c1e"/><path d="M330.5 161.5h4" stroke="#527c1e"/><path d="M333.5 161.5h4" stroke="#527c1e"/><path d="M336.5 161.5h4" stroke="#537c1e"/><path d="M339.5 161.5h4" stroke="#547d1e"/><path d="M342.5 161.5h4" stroke="#557e1e"/><path d="M345.5 161.5h4" stroke="#587f1f"/><path d="M348.5 161.5h4" stroke="#5c811f"/><path d="M207.5 164.5h4" stroke="#aac52a"/><path d="M210.5 164.5h4" stroke="#aac62a"/><path d="M213.5 164.5h4" stroke="#aac62a"/><path d="M216.5 164.5h4" stroke="#abc729"/><path d="M219.5 164.5h4" stroke="#abc729"/><path d="M222.5 164.5h4" stroke="#a9c629"/><path d="M225.5 164.5h4" stroke="#90b425"/><path d="M228.5 164.5h4" stroke="#60931f"/><path d="M231.5 164.5h4" stroke="#558b1d"/><path d="M234.5 164.5h4" stroke="#52881d"/><path d="M237.5 164.5h4" stroke="#4f861c"/><path d="M240.5 164.5h4" stroke="#4e851c"/><path d="M243.5 164.5h4" stroke="#4c841c"/><path d="M246.5 164.5h4" stroke="#4b831c"/><path d="M249.5 164.5h4" stroke="#49811c"/><path d="M252.5 164.5h4" stroke="#477f1b"/><path d="M255.5 164.5h4" stroke="#447c1b"/><path d="M258.5 164.5h4" stroke="#41791a"/><path d="M261.5 164.5h4" stroke="#3f771a"/><path d="M264.5 164.5h4" stroke="#3e761a"/><path d="M267.5 164.5h4" stroke="#3d7519"/><path d="M270.5 164.5h4" stroke="#3d7519"/><path d="M273.5 164.5h4" stroke="#3c7419"/><path d="M276.5 164.5h4" stroke="#3c7419"/><path d="M279.5 164.5h4" stroke="#3c7419"/><path d="M282.5 164.5h4" stroke="#3c7419"/><path d="M285.5 164.5h4" stroke="#3d7419"/><path d="M288.5 164.5h4" stroke="#3d741a"/><path d="M291.5 164.5h4" stroke="#3e741a"/><path d="M294.5 164.5h4" stroke="#3e751a"/><path d="M297.5 164.5h4" stroke="#3f751a"/><path d="M300.5 164.5h4" stroke="#3f751a"/><path d="M303.5 164.5h4" stroke="#3f751a"/><path d="M306.5 164.5h4" stroke="#40751a"/><path d="M309.5 164.5h4" stroke="#40751a"/><path d="M312.5 164.5h4" stroke="#42751b"/><path d="M315.5 164.5h4" stroke="#45771b"/><path d="M318.5 164.5h4" stroke="#49781c"/><path d="M321.5 164.5h4" stroke="#4d7a1d"/><path d="M324.5 164.5h4" stroke="#507b1d"/><path d="M327.5 164.5h4" stroke="#517c1e"/><path d="M330.5 164.5h4" stroke="#527c1e"/><path d="M333.5 164.5h4" stroke="#527c1e"/><path d="M336.5 164.5h4" stroke="#527c1e"/><path d="M339.5 164.5h4" stroke="#537c1e"/><path d="M342.5 164.5h4" stroke="#547d1e"/><path d="M213.5 167.5h4" stroke="#aac52a"/><path d="M216.5 167.5h4" stroke="#aac62a"/><path d="M219.5 167.5h4" stroke="#aac62a"/><path d="M222.5 167.5h4" stroke="#a9c629"/><path d="M225.5 167.5h4" stroke="#96b826"/><path d="M228.5 167.5h4" stroke="#60921f"/><path d="M231.5 167.5h4" stroke="#52891d"/><path d="M234.5 167.5h4" stroke="#4f861c"/><path d="M237.5 167.5h4" stroke="#4e851c"/><path d="M240.5 167.5h4" stroke="#4d841c"/><path d="M243.5 167.5h4" stroke="#4b831c"/><path d="M246.5 167.5h4" stroke="#4a821c"/><path d="M249.5 167.5h4" stroke="#48801b"/><path d="M252.5 167.5h4" stroke="#457d1b"/><path d="M255.5 167.5h4" stroke="#437b1b"/><path d="M258.5 167.5h4" stroke="#40781a"/><path d="M261.5 167.5h4" stroke="#3e761a"/><path d="M264.5 167.5h4" stroke="#3d7519"/><path d="M267.5 167.5h4" stroke="#3d7519"/><path d="M270.5 167.5h4" stroke="#3c7419"/><path d="M273.5 167.5h4" stroke="#3c7419"/><path d="M276.5 167.5h4" stroke="#3c7419"/><path d="M279.5 167.5h4" stroke="#3c7419"/><path d="M282.5 167.5h4" stroke="#3c7419"/><path d="M285.5 167.5h4" stroke="#3d7419"/><path d="M288.5 167.5h4" stroke="#3e741a"/><path d="M291.5 167.5h4" stroke="#3e751a"/><path d="M294.5 167.5h4" stroke="#3f751a"/><path d="M297.5 167.5h4" stroke="#3f751a"/><path d="M300.5 167.5h4" stroke="#3f751a"/><path d="M303.5 167.5h4" stroke="#3f751a"/><path d="M306.5 167.5h4" stroke="#3f751a"/><path d="M309.5 167.5h4" stroke="#40751a"/><path d="M312.5 167.5h4" stroke="#41751a"/><path d="M315.5 167.5h4" stroke="#44761b"/><path d="M318.5 167.5h4" stroke="#48781c"/><path d="M321.5 167.5h4" stroke="#4c7a1d"/><path d="M324.5 167.5h4" stroke="#4f7b1d"/><path d="M327.5 167.5h4" stroke="#517b1e"/><path d="M330.5 167.5h4" stroke="#517c1e"/><path d="M333.5 167.5h4" stroke="#527c1e"/><path d="M336.5 167.5h4" stroke="#527c1e"/><path d="M219.5 170.5h4" stroke="#aac52a"/><path d="M222.5 170.5h4" stroke="#a9c529"/><path d="M225.5 170.5h4" stroke="#9bbb27"/><path d="M228.5 170.5h4" stroke="#60931f"/><path d="M231.5 170.5h4" stroke="#50871d"/><path d="M234.5 170.5h4" stroke="#4e851c"/><path d="M237.5 170.5h4" stroke="#4d841c"/><path d="M240.5 170.5h4" stroke="#4c841c"/><path d="M243.5 170.5h4" stroke="#4b821c"/><path d="M246.5 170.5h4" stroke="#49811c"/><path d="M249.5 170.5h4" stroke="#477f1b"/><path d="M252.5 170.5h4" stroke="#447c1b"/><path d="M255.5 170.5h4" stroke="#41791a"/><path d="M258.5 170.5h4" stroke="#3f771a"/><path d="M261.5 170.5h4" stroke="#3e761a"/><path d="M264.5 170.5h4" stroke="#3d7519"/><path d="M267.5 170.5h4" stroke="#3d7519"/><path d="M270.5 170.5h4" stroke="#3c7419"/><path d="M273.5 170.5h4" stroke="#3c7419"/><path d="M276.5 170.5h4" stroke="#3c7419"/><path d="M279.5 170.5h4" stroke="#3c7419"/><path d="M282.5 170.5h4" stroke="#3d7419"/><path d="M285.5 170.5h4" stroke="#3d7419"/><path d="M288.5 170.5h4" stroke="#3e751a"/><path d="M291.5 170.5h4" stroke="#3e751a"/><path d="M294.5 170.5h4" stroke="#3f751a"/><path d="M297.5 170.5h4" stroke="#3f751a"/><path d="M300.5 170.5h4" stroke="#3f751a"/><path d="M303.5 170.5h4" stroke="#3f751a"/><path d="M306.5 170.5h4" stroke="#3f751a"/><path d="M309.5 170.5h4" stroke="#40751a"/><path d="M312.5 170.5h4" stroke="#41751a"/><path d="M315.5 170.5h4" stroke="#43761b"/><path d="M318.5 170.5h4" stroke="#47771c"/><path d="M321.5 170.5h4" stroke="#4b791d"/><path d="M324.5 170.5h4" stroke="#4f7b1d"/><path d="M327.5 170.5h4" stroke="#507b1e"/><path d="M225.5 173.5h4" stroke="#9fbe28"/><path d="M228.5 173.5h4" stroke="#63941f"/><path d="M231.5 173.5h4" stroke="#4f861c"/><path d="M234.5 173.5h4" stroke="#4d851c"/><path d="M237.5 173.5h4" stroke="#4c841c"/><path d="M240.5 173.5h4" stroke="#4b831c"/><path d="M243.5 173.5h4" stroke="#4a821c"/><path d="M246.5 173.5h4" stroke="#48801b"/><path d="M249.5 173.5h4" stroke="#457d1b"/><path d="M252.5 173.5h4" stroke="#437a1b"/><path d="M255.5 173.5h4" stroke="#40781a"/><path d="M258.5 173.5h4" stroke="#3e761a"/><path d="M261.5 173.5h4" stroke="#3d7519"/><path d="M264.5 173.5h4" stroke="#3d7519"/><path d="M267.5 173.5h4" stroke="#3c7419"/><path d="M270.5 173.5h4" stroke="#3c7419"/><path d="M273.5 173.5h4" stroke="#3c7419"/><path d="M276.5 173.5h4" stroke="#3c7419"/><path d="M279.5 173.5h4" stroke="#3c7419"/><path d="M282.5 173.5h4" stroke="#3d7419"/><path d="M285.5 173.5h4" stroke="#3d7419"/><path d="M288.5 173.5h4" stroke="#3e751a"/><path d="M291.5 173.5h4" stroke="#3f751a"/><path d="M294.5 173.5h4" stroke="#3f751a"/><path d="M297.5 173.5h4" stroke="#3f751a"/><path d="M300.5 173.5h4" stroke="#3f751a"/><path d="M303.5 173.5h4" stroke="#3f751a"/><path d="M306.5 173.5h4" stroke="#3f751a"/><path d="M309.5 173.5h4" stroke="#3f751a"/><path d="M312.5 173.5h4" stroke="#40751a"/><path d="M315.5 173.5h4" stroke="#42761b"/><path d="M318.5 173.5h4" stroke="#45771b"/><path d="M321.5 173.5h4" stroke="#4a791c"/><path d="M234.5 176.5h4" stroke="#4c841c"/><path d="M237.5 176.5h4" stroke="#4b831c"/><path d="M240.5 176.5h4" stroke="#4a821c"/><path d="M243.5 176.5h4" stroke="#49811c"/><path d="M246.5 176.5h4" stroke="#477f1b"/><path d="M249.5 176.5h4" stroke="#447c1b"/><path d="M252.5 176.5h4" stroke="#41791a"/><path d="M255.5 176.5h4" stroke="#3f771a"/><path d="M258.5 176.5h4" stroke="#3e7619"/><path d="M261.5 176.5h4" stroke="#3d7519"/><path d="M264.5 176.5h4" stroke="#3c7419"/><path d="M267.5 176.5h4" stroke="#3c7419"/><path d="M270.5 176.5h4" stroke="#3c7419"/><path d="M273.5 176.5h4" stroke="#3c7419"/><path d="M276.5 176.5h4" stroke="#3c7419"/><path d="M279.5 176.5h4" stroke="#3c7419"/><path d="M282.5 176.5h4" stroke="#3d7419"/><path d="M285.5 176.5h4" stroke="#3e751a"/><path d="M288.5 176.5h4" stroke="#3e751a"/><path d="M291.5 176.5h4" stroke="#3f751a"/><path d="M294.5 176.5h4" stroke="#3f751a"/><path d="M297.5 176.5h4" stroke="#3f751a"/><path d="M300.5 176.5h4" stroke="#3f751a"/><path d="M303.5 176.5h4" stroke="#3f751a"/><path d="M306.5 176.5h4" stroke="#3f751a"/><path d="M309.5 176.5h4" stroke="#3f751a"/><path d="M312.5 176.5h4" stroke="#40751a"/><path d="M240.5 179.5h4" stroke="#4a821c"/><path d="M243.5 179.5h4" stroke="#48801b"/><path d="M246.5 179.5h4" stroke="#457d1b"/><path d="M249.5 179.5h4" stroke="#427a1a"/><path d="M252.5 179.5h4" stroke="#40781a"/><path d="M255.5 179.5h4" stroke="#3e761a"/><path d="M258.5 179.5h4" stroke="#3d7519"/><path d="M261.5 179.5h4" stroke="#3d7519"/><path d="M264.5 179.5h4" stroke="#3c7419"/><path d="M267.5 179.5h4" stroke="#3c7419"/><path d="M270.5 179.5h4" stroke="#3c7419"/><path d="M273.5 179.5h4" stroke="#3c7419"/><path d="M276.5 179.5h4" stroke="#3c7419"/><path d="M279.5 179.5h4" stroke="#3c7419"/><path d="M282.5 179.5h4" stroke="#3d7419"/><path d="M285.5 179.5h4" stroke="#3e751a"/><path d="M288.5 179.5h4" stroke="#3e751a"/><path d="M291.5 179.5h4" stroke="#3f751a"/><path d="M294.5 179.5h4" stroke="#3f751a"/><path d="M297.5 179.5h4" stroke="#3f751a"/><path d="M300.5 179.5h4" stroke="#3f751a"/><path d="M303.5 179.5h4" stroke="#3f751a"/><path d="M306.5 179.5h4" stroke="#3f751a"/><path d="M246.5 182.5h4" stroke="#447c1b"/><path d="M249.5 182.5h4" stroke="#41791a"/><path d="M252.5 182.5h4" stroke="#3f771a"/><path d="M255.5 182.5h4" stroke="#3d7519"/><path d="M258.5 182.5h4" stroke="#3d7519"/><path d="M261.5 182.5h4" stroke="#3c7419"/><path d="M264.5 182.5h4" stroke="#3c7419"/><path d="M267.5 182.5h4" stroke="#3c7419"/><path d="M270.5 182.5h4" stroke="#3c7419"/><path d="M273.5 182.5h4" stroke="#3c7419"/><path d="M276.5 182.5h4" stroke="#3c7419"/><path d="M279.5 182.5h4" stroke="#3d7419"/><path d="M282.5 182.5h4" stroke="#3d7419"/><path d="M285.5 182.5h4" stroke="#3e751a"/><path d="M288.5 182.5h4" stroke="#3f751a"/><path d="M291.5 182.5h4" stroke="#3f751a"/><path d="M294.5 182.5h4" stroke="#3f751a"/><path d="M297.5 182.5h4" stroke="#3f751a"/><path d="M252.5 185.5h4" stroke="#3e7619"/><path d="M255.5 185.5h4" stroke="#3d7519"/><path d="M258.5 185.5h4" stroke="#3c7419"/><path d="M261.5 185.5h4" stroke="#3c7419"/><path d="M264.5 185.5h4" stroke="#3c7419"/><path d="M267.5 185.5h4" stroke="#3c7419"/><path d="M270.5 185.5h4" stroke="#3c7419"/><path d="M273.5 185.5h4" stroke="#3c7419"/></g></g></g>
<path d="M143.5,50.8L143.9,50.7L144.4,50.4L145.1,50.2L145.8,49.9L146.5,49.7L147.2,49.4L147.9,49.3L148.5,49.2L149.0,49.2L149.5,49.2L149.9,49.3L150.3,49.5L150.7,49.6L151.1,49.8L151.5,50.0L152.0,50.3L152.5,50.6L153.1,51.0L153.6,51.5L154.2,52.0L154.8,52.4L155.3,52.9L155.7,53.2L156.0,53.5L159.5,63.0L159.1,62.7L158.5,62.2L157.8,61.6L157.1,61.0L156.3,60.4L155.5,59.8L154.7,59.2L154.0,58.6L153.3,58.1L152.6,57.6L151.9,57.1L151.2,56.6L150.5,56.1L149.8,55.6L149.2,55.2L148.5,54.8L147.8,54.4L147.1,54.1L146.4,53.8L145.7,53.5L145.0,53.2L144.4,53.0L143.9,52.8L143.5,52.6Z" fill="#86695a"/>
<path d="M388.0,124.0L388.9,123.0L390.0,121.7L391.4,120.1L392.9,118.4L394.5,116.6L396.3,114.9L398.1,113.3L400.0,112.0L401.9,110.9L404.0,109.8L406.1,108.8L408.4,107.9L410.7,107.1L413.1,106.5L415.5,106.1L418.0,106.0L420.6,106.1L423.2,106.4L426.0,106.9L428.8,107.6L431.6,108.5L434.4,109.5L437.2,110.7L440.0,112.0L442.8,113.5L445.6,115.4L448.5,117.4L451.3,119.6L454.1,121.8L456.9,124.0L459.5,126.1L462.0,128.0L464.5,129.8L467.1,131.6L469.6,133.4L472.0,135.2L474.3,136.8L476.2,138.4L477.8,139.8L479.0,141.0L479.6,142.0L479.8,142.8L479.5,143.5L479.0,144.0L478.4,144.5L477.7,145.0L477.0,145.5L476.5,146.0L476.1,146.6L475.7,147.1L475.3,147.6L474.9,148.1L474.4,148.6L474.0,149.2L473.5,149.8L473.0,150.5L472.5,151.3L472.0,152.2L471.4,153.1L470.9,154.0L470.3,155.0L469.7,156.0L469.1,157.0L468.5,158.0L467.9,159.0L467.2,160.0L466.5,161.1L465.8,162.1L465.1,163.2L464.4,164.1L463.7,165.0L463.0,165.8L462.3,166.5L461.7,167.2L461.0,167.8L460.4,168.3L459.7,168.7L459.1,169.1L458.4,169.4L457.6,169.5L456.8,169.5L456.1,169.5L455.4,169.4L454.6,169.1L453.8,168.8L452.8,168.3L451.7,167.7L450.5,167.0L449.1,166.1L447.5,165.0L445.8,163.8L444.0,162.5L442.2,161.0L440.2,159.6L438.2,158.1L436.2,156.6L434.1,155.1L431.8,153.5L429.5,151.8L427.1,150.1L424.7,148.4L422.4,146.7L420.1,145.1L418.0,143.6L416.0,142.1L414.0,140.7L412.1,139.3L410.2,137.9L408.4,136.6L406.6,135.4L404.9,134.2L403.3,133.0L401.7,131.9L400.2,130.8L398.8,129.8L397.4,128.8L396.1,127.9L394.8,127.1L393.7,126.3L392.7,125.7L391.8,125.2L391.0,124.8L390.3,124.6L389.7,124.4L389.2,124.3L388.7,124.2L388.3,124.1L388.0,124.0Z" fill="#5c8a20"/>
<g clip-path="url(#cpUnder)"><g filter="url(#bl1)"><g fill="none" stroke-width="4.0"><path d="M406.5 105.5h4" stroke="#a09f29"/><path d="M409.5 105.5h4" stroke="#9e9c2a"/><path d="M412.5 105.5h4" stroke="#9c9a2a"/><path d="M415.5 105.5h4" stroke="#9a982a"/><path d="M418.5 105.5h4" stroke="#96952a"/><path d="M421.5 105.5h4" stroke="#92912a"/><path d="M424.5 105.5h4" stroke="#8e8e2a"/><path d="M427.5 105.5h4" stroke="#8c8c2a"/><path d="M400.5 108.5h4" stroke="#a5a528"/><path d="M403.5 108.5h4" stroke="#a3a328"/><path d="M406.5 108.5h4" stroke="#a1a029"/><path d="M409.5 108.5h4" stroke="#9e9d29"/><path d="M412.5 108.5h4" stroke="#9c9a2a"/><path d="M415.5 108.5h4" stroke="#9a982a"/><path d="M418.5 108.5h4" stroke="#96952a"/><path d="M421.5 108.5h4" stroke="#92912a"/><path d="M424.5 108.5h4" stroke="#8e8e2a"/><path d="M427.5 108.5h4" stroke="#8b8c2a"/><path d="M430.5 108.5h4" stroke="#888a29"/><path d="M433.5 108.5h4" stroke="#838829"/><path d="M436.5 108.5h4" stroke="#7f8628"/><path d="M394.5 111.5h4" stroke="#a7a729"/><path d="M397.5 111.5h4" stroke="#a7a628"/><path d="M400.5 111.5h4" stroke="#a6a628"/><path d="M403.5 111.5h4" stroke="#a4a428"/><path d="M406.5 111.5h4" stroke="#a2a129"/><path d="M409.5 111.5h4" stroke="#9f9e29"/><path d="M412.5 111.5h4" stroke="#9d9b2a"/><path d="M415.5 111.5h4" stroke="#9a982a"/><path d="M418.5 111.5h4" stroke="#96952a"/><path d="M421.5 111.5h4" stroke="#92912a"/><path d="M424.5 111.5h4" stroke="#8e8e2a"/><path d="M427.5 111.5h4" stroke="#8a8b2a"/><path d="M430.5 111.5h4" stroke="#868929"/><path d="M433.5 111.5h4" stroke="#818729"/><path d="M436.5 111.5h4" stroke="#7e8528"/><path d="M439.5 111.5h4" stroke="#7c8428"/><path d="M442.5 111.5h4" stroke="#7a8429"/><path d="M391.5 114.5h4" stroke="#a8a729"/><path d="M394.5 114.5h4" stroke="#a8a729"/><path d="M397.5 114.5h4" stroke="#a7a728"/><path d="M400.5 114.5h4" stroke="#a6a628"/><path d="M403.5 114.5h4" stroke="#a4a528"/><path d="M406.5 114.5h4" stroke="#a3a228"/><path d="M409.5 114.5h4" stroke="#a09f29"/><path d="M412.5 114.5h4" stroke="#9d9c29"/><path d="M415.5 114.5h4" stroke="#9a992a"/><path d="M418.5 114.5h4" stroke="#96952a"/><path d="M421.5 114.5h4" stroke="#91912a"/><path d="M424.5 114.5h4" stroke="#8d8e2a"/><path d="M427.5 114.5h4" stroke="#898b2a"/><path d="M430.5 114.5h4" stroke="#848829"/><path d="M433.5 114.5h4" stroke="#808629"/><path d="M436.5 114.5h4" stroke="#7d8528"/><path d="M439.5 114.5h4" stroke="#7b8428"/><path d="M442.5 114.5h4" stroke="#798429"/><path d="M445.5 114.5h4" stroke="#778429"/><path d="M388.5 117.5h4" stroke="#a8a62a"/><path d="M391.5 117.5h4" stroke="#a8a729"/><path d="M394.5 117.5h4" stroke="#a8a729"/><path d="M397.5 117.5h4" stroke="#a7a729"/><path d="M400.5 117.5h4" stroke="#a6a628"/><path d="M403.5 117.5h4" stroke="#a4a528"/><path d="M406.5 117.5h4" stroke="#a3a328"/><path d="M409.5 117.5h4" stroke="#a0a129"/><path d="M412.5 117.5h4" stroke="#9d9d29"/><path d="M415.5 117.5h4" stroke="#9a9a2a"/><path d="M418.5 117.5h4" stroke="#96962a"/><path d="M421.5 117.5h4" stroke="#91922a"/><path d="M424.5 117.5h4" stroke="#8c8e2a"/><path d="M427.5 117.5h4" stroke="#878a29"/><path d="M430.5 117.5h4" stroke="#828729"/><path d="M433.5 117.5h4" stroke="#7e8528"/><path d="M436.5 117.5h4" stroke="#7c8528"/><path d="M439.5 117.5h4" stroke="#7a8429"/><path d="M442.5 117.5h4" stroke="#778429"/><path d="M445.5 117.5h4" stroke="#75842a"/><path d="M448.5 117.5h4" stroke="#74842a"/><path d="M451.5 117.5h4" stroke="#738429"/><path d="M385.5 120.5h4" stroke="#a8a62a"/><path d="M388.5 120.5h4" stroke="#a8a62a"/><path d="M391.5 120.5h4" stroke="#a8a629"/><path d="M394.5 120.5h4" stroke="#a8a729"/><path d="M397.5 120.5h4" stroke="#a7a729"/><path d="M400.5 120.5h4" stroke="#a5a628"/><path d="M403.5 120.5h4" stroke="#a4a528"/><path d="M406.5 120.5h4" stroke="#a2a428"/><path d="M409.5 120.5h4" stroke="#9fa228"/><path d="M412.5 120.5h4" stroke="#9c9f29"/><path d="M415.5 120.5h4" stroke="#999c29"/><path d="M418.5 120.5h4" stroke="#959829"/><path d="M421.5 120.5h4" stroke="#909329"/><path d="M424.5 120.5h4" stroke="#8a8e29"/><path d="M427.5 120.5h4" stroke="#858a29"/><path d="M430.5 120.5h4" stroke="#808728"/><path d="M433.5 120.5h4" stroke="#7d8528"/><path d="M436.5 120.5h4" stroke="#7b8428"/><path d="M439.5 120.5h4" stroke="#788429"/><path d="M442.5 120.5h4" stroke="#768429"/><path d="M445.5 120.5h4" stroke="#75842a"/><path d="M448.5 120.5h4" stroke="#73842a"/><path d="M451.5 120.5h4" stroke="#728429"/><path d="M454.5 120.5h4" stroke="#708428"/><path d="M388.5 123.5h4" stroke="#a8a62a"/><path d="M391.5 123.5h4" stroke="#a8a62a"/><path d="M394.5 123.5h4" stroke="#a7a729"/><path d="M397.5 123.5h4" stroke="#a6a629"/><path d="M400.5 123.5h4" stroke="#a4a628"/><path d="M403.5 123.5h4" stroke="#a2a528"/><path d="M406.5 123.5h4" stroke="#9fa428"/><path d="M409.5 123.5h4" stroke="#9ca228"/><path d="M412.5 123.5h4" stroke="#99a028"/><path d="M415.5 123.5h4" stroke="#969e28"/><path d="M418.5 123.5h4" stroke="#929a28"/><path d="M421.5 123.5h4" stroke="#8c9628"/><path d="M424.5 123.5h4" stroke="#869127"/><path d="M427.5 123.5h4" stroke="#818c27"/><path d="M430.5 123.5h4" stroke="#7e8827"/><path d="M433.5 123.5h4" stroke="#7b8628"/><path d="M436.5 123.5h4" stroke="#788528"/><path d="M439.5 123.5h4" stroke="#768429"/><path d="M442.5 123.5h4" stroke="#758429"/><path d="M445.5 123.5h4" stroke="#74842a"/><path d="M448.5 123.5h4" stroke="#728429"/><path d="M451.5 123.5h4" stroke="#708428"/><path d="M454.5 123.5h4" stroke="#6e8427"/><path d="M457.5 123.5h4" stroke="#6d8426"/><path d="M385.5 126.5h4" stroke="#a8a62a"/><path d="M388.5 126.5h4" stroke="#a8a62a"/><path d="M391.5 126.5h4" stroke="#a8a62a"/><path d="M394.5 126.5h4" stroke="#a7a629"/><path d="M397.5 126.5h4" stroke="#a5a629"/><path d="M400.5 126.5h4" stroke="#a2a528"/><path d="M403.5 126.5h4" stroke="#9ea428"/><path d="M406.5 126.5h4" stroke="#9ba328"/><path d="M409.5 126.5h4" stroke="#98a228"/><path d="M412.5 126.5h4" stroke="#95a028"/><path d="M415.5 126.5h4" stroke="#919e28"/><path d="M418.5 126.5h4" stroke="#8d9b27"/><path d="M421.5 126.5h4" stroke="#879826"/><path d="M424.5 126.5h4" stroke="#819426"/><path d="M427.5 126.5h4" stroke="#7c9025"/><path d="M430.5 126.5h4" stroke="#798c26"/><path d="M433.5 126.5h4" stroke="#768826"/><path d="M436.5 126.5h4" stroke="#758627"/><path d="M439.5 126.5h4" stroke="#748529"/><path d="M442.5 126.5h4" stroke="#738429"/><path d="M445.5 126.5h4" stroke="#728429"/><path d="M448.5 126.5h4" stroke="#718428"/><path d="M451.5 126.5h4" stroke="#6f8427"/><path d="M454.5 126.5h4" stroke="#6d8427"/><path d="M457.5 126.5h4" stroke="#6d8426"/><path d="M460.5 126.5h4" stroke="#6e8626"/><path d="M391.5 129.5h4" stroke="#a7a62a"/><path d="M394.5 129.5h4" stroke="#a6a629"/><path d="M397.5 129.5h4" stroke="#a3a629"/><path d="M400.5 129.5h4" stroke="#9ea428"/><path d="M403.5 129.5h4" stroke="#99a328"/><path d="M406.5 129.5h4" stroke="#96a228"/><path d="M409.5 129.5h4" stroke="#93a128"/><path d="M412.5 129.5h4" stroke="#909f28"/><path d="M415.5 129.5h4" stroke="#8c9d27"/><path d="M418.5 129.5h4" stroke="#879a26"/><path d="M421.5 129.5h4" stroke="#819725"/><path d="M424.5 129.5h4" stroke="#7c9424"/><path d="M427.5 129.5h4" stroke="#789124"/><path d="M430.5 129.5h4" stroke="#748e24"/><path d="M433.5 129.5h4" stroke="#718b24"/><path d="M436.5 129.5h4" stroke="#708925"/><path d="M439.5 129.5h4" stroke="#708627"/><path d="M442.5 129.5h4" stroke="#708528"/><path d="M445.5 129.5h4" stroke="#6f8428"/><path d="M448.5 129.5h4" stroke="#6e8427"/><path d="M451.5 129.5h4" stroke="#6d8427"/><path d="M454.5 129.5h4" stroke="#6d8426"/><path d="M457.5 129.5h4" stroke="#6d8526"/><path d="M460.5 129.5h4" stroke="#708726"/><path d="M463.5 129.5h4" stroke="#768c26"/><path d="M466.5 129.5h4" stroke="#7b9026"/><path d="M397.5 132.5h4" stroke="#9fa529"/><path d="M400.5 132.5h4" stroke="#99a328"/><path d="M403.5 132.5h4" stroke="#95a228"/><path d="M406.5 132.5h4" stroke="#92a128"/><path d="M409.5 132.5h4" stroke="#8fa028"/><path d="M412.5 132.5h4" stroke="#8b9e27"/><path d="M415.5 132.5h4" stroke="#869b27"/><path d="M418.5 132.5h4" stroke="#809926"/><path d="M421.5 132.5h4" stroke="#7b9524"/><path d="M424.5 132.5h4" stroke="#769324"/><path d="M427.5 132.5h4" stroke="#739123"/><path d="M430.5 132.5h4" stroke="#6f8e23"/><path d="M433.5 132.5h4" stroke="#6c8c23"/><path d="M436.5 132.5h4" stroke="#6a8a23"/><path d="M439.5 132.5h4" stroke="#6a8824"/><path d="M442.5 132.5h4" stroke="#6a8625"/><path d="M445.5 132.5h4" stroke="#6a8526"/><path d="M448.5 132.5h4" stroke="#6b8426"/><path d="M451.5 132.5h4" stroke="#6b8426"/><path d="M454.5 132.5h4" stroke="#6c8426"/><path d="M457.5 132.5h4" stroke="#6e8626"/><path d="M460.5 132.5h4" stroke="#738a26"/><path d="M463.5 132.5h4" stroke="#798e26"/><path d="M466.5 132.5h4" stroke="#7c9126"/><path d="M469.5 132.5h4" stroke="#7e9226"/><path d="M400.5 135.5h4" stroke="#95a228"/><path d="M403.5 135.5h4" stroke="#92a128"/><path d="M406.5 135.5h4" stroke="#8fa028"/><path d="M409.5 135.5h4" stroke="#8b9e27"/><path d="M412.5 135.5h4" stroke="#869c27"/><path d="M415.5 135.5h4" stroke="#809926"/><path d="M418.5 135.5h4" stroke="#799625"/><path d="M421.5 135.5h4" stroke="#739324"/><path d="M424.5 135.5h4" stroke="#6f9123"/><path d="M427.5 135.5h4" stroke="#6c8f22"/><path d="M430.5 135.5h4" stroke="#6a8d22"/><path d="M433.5 135.5h4" stroke="#688c22"/><path d="M436.5 135.5h4" stroke="#658a22"/><path d="M439.5 135.5h4" stroke="#638822"/><path d="M442.5 135.5h4" stroke="#628722"/><path d="M445.5 135.5h4" stroke="#638523"/><path d="M448.5 135.5h4" stroke="#668424"/><path d="M451.5 135.5h4" stroke="#698425"/><path d="M454.5 135.5h4" stroke="#6b8525"/><path d="M457.5 135.5h4" stroke="#6f8725"/><path d="M460.5 135.5h4" stroke="#768c26"/><path d="M463.5 135.5h4" stroke="#7a8f26"/><path d="M466.5 135.5h4" stroke="#7c9126"/><path d="M469.5 135.5h4" stroke="#7e9326"/><path d="M472.5 135.5h4" stroke="#819527"/><path d="M475.5 135.5h4" stroke="#849627"/><path d="M406.5 138.5h4" stroke="#8c9f28"/><path d="M409.5 138.5h4" stroke="#879d27"/><path d="M412.5 138.5h4" stroke="#819b26"/><path d="M415.5 138.5h4" stroke="#7a9825"/><path d="M418.5 138.5h4" stroke="#739424"/><path d="M421.5 138.5h4" stroke="#6d9123"/><path d="M424.5 138.5h4" stroke="#688f22"/><path d="M427.5 138.5h4" stroke="#658d21"/><path d="M430.5 138.5h4" stroke="#638c21"/><path d="M433.5 138.5h4" stroke="#618a20"/><path d="M436.5 138.5h4" stroke="#5f8920"/><path d="M439.5 138.5h4" stroke="#5e8720"/><path d="M442.5 138.5h4" stroke="#5d8621"/><path d="M445.5 138.5h4" stroke="#5d8521"/><path d="M448.5 138.5h4" stroke="#5f8422"/><path d="M451.5 138.5h4" stroke="#628423"/><path d="M454.5 138.5h4" stroke="#668523"/><path d="M457.5 138.5h4" stroke="#6d8924"/><path d="M460.5 138.5h4" stroke="#748d25"/><path d="M463.5 138.5h4" stroke="#788f25"/><path d="M466.5 138.5h4" stroke="#7b9126"/><path d="M469.5 138.5h4" stroke="#7d9326"/><path d="M472.5 138.5h4" stroke="#819527"/><path d="M475.5 138.5h4" stroke="#849727"/><path d="M478.5 138.5h4" stroke="#869827"/><path d="M409.5 141.5h4" stroke="#849c27"/><path d="M412.5 141.5h4" stroke="#7d9926"/><path d="M415.5 141.5h4" stroke="#759625"/><path d="M418.5 141.5h4" stroke="#6e9223"/><path d="M421.5 141.5h4" stroke="#678f22"/><path d="M424.5 141.5h4" stroke="#628d21"/><path d="M427.5 141.5h4" stroke="#5f8b20"/><path d="M430.5 141.5h4" stroke="#5c8a1f"/><path d="M433.5 141.5h4" stroke="#5a881f"/><path d="M436.5 141.5h4" stroke="#59871f"/><path d="M439.5 141.5h4" stroke="#58861f"/><path d="M442.5 141.5h4" stroke="#58851f"/><path d="M445.5 141.5h4" stroke="#58841f"/><path d="M448.5 141.5h4" stroke="#57831f"/><path d="M451.5 141.5h4" stroke="#578220"/><path d="M454.5 141.5h4" stroke="#5b8320"/><path d="M457.5 141.5h4" stroke="#648722"/><path d="M460.5 141.5h4" stroke="#6e8c24"/><path d="M463.5 141.5h4" stroke="#738e24"/><path d="M466.5 141.5h4" stroke="#779025"/><path d="M469.5 141.5h4" stroke="#7b9226"/><path d="M472.5 141.5h4" stroke="#7f9426"/><path d="M475.5 141.5h4" stroke="#829627"/><path d="M478.5 141.5h4" stroke="#859827"/><path d="M412.5 144.5h4" stroke="#799725"/><path d="M415.5 144.5h4" stroke="#719424"/><path d="M418.5 144.5h4" stroke="#699122"/><path d="M421.5 144.5h4" stroke="#638e21"/><path d="M424.5 144.5h4" stroke="#5e8c20"/><path d="M427.5 144.5h4" stroke="#598a1f"/><path d="M430.5 144.5h4" stroke="#55881e"/><path d="M433.5 144.5h4" stroke="#53871d"/><path d="M436.5 144.5h4" stroke="#52861d"/><path d="M439.5 144.5h4" stroke="#52841e"/><path d="M442.5 144.5h4" stroke="#52831e"/><path d="M445.5 144.5h4" stroke="#51821e"/><path d="M448.5 144.5h4" stroke="#4f801d"/><path d="M451.5 144.5h4" stroke="#4e7f1d"/><path d="M454.5 144.5h4" stroke="#50801e"/><path d="M457.5 144.5h4" stroke="#59831f"/><path d="M460.5 144.5h4" stroke="#638821"/><path d="M463.5 144.5h4" stroke="#6b8b23"/><path d="M466.5 144.5h4" stroke="#708e24"/><path d="M469.5 144.5h4" stroke="#769125"/><path d="M472.5 144.5h4" stroke="#7b9326"/><path d="M475.5 144.5h4" stroke="#809526"/><path d="M478.5 144.5h4" stroke="#849727"/><path d="M418.5 147.5h4" stroke="#658f21"/><path d="M421.5 147.5h4" stroke="#5f8d20"/><path d="M424.5 147.5h4" stroke="#5a8a1f"/><path d="M427.5 147.5h4" stroke="#55881e"/><path d="M430.5 147.5h4" stroke="#51871d"/><path d="M433.5 147.5h4" stroke="#4f851c"/><path d="M436.5 147.5h4" stroke="#4d841c"/><path d="M439.5 147.5h4" stroke="#4b811c"/><path d="M442.5 147.5h4" stroke="#4a7f1c"/><path d="M445.5 147.5h4" stroke="#497e1c"/><path d="M448.5 147.5h4" stroke="#497e1c"/><path d="M451.5 147.5h4" stroke="#497d1c"/><path d="M454.5 147.5h4" stroke="#4a7e1c"/><path d="M457.5 147.5h4" stroke="#4f801e"/><path d="M460.5 147.5h4" stroke="#57831f"/><path d="M463.5 147.5h4" stroke="#5f8721"/><path d="M466.5 147.5h4" stroke="#668a22"/><path d="M469.5 147.5h4" stroke="#6e8e23"/><path d="M472.5 147.5h4" stroke="#759125"/><path d="M475.5 147.5h4" stroke="#7c9426"/><path d="M421.5 150.5h4" stroke="#5c8b1f"/><path d="M424.5 150.5h4" stroke="#56891e"/><path d="M427.5 150.5h4" stroke="#52871d"/><path d="M430.5 150.5h4" stroke="#4f861c"/><path d="M433.5 150.5h4" stroke="#4c841c"/><path d="M436.5 150.5h4" stroke="#48811b"/><path d="M439.5 150.5h4" stroke="#457e1b"/><path d="M442.5 150.5h4" stroke="#437b1b"/><path d="M445.5 150.5h4" stroke="#427b1b"/><path d="M448.5 150.5h4" stroke="#437a1b"/><path d="M451.5 150.5h4" stroke="#447b1b"/><path d="M454.5 150.5h4" stroke="#457b1c"/><path d="M457.5 150.5h4" stroke="#487c1c"/><path d="M460.5 150.5h4" stroke="#4c7e1d"/><path d="M463.5 150.5h4" stroke="#52811e"/><path d="M466.5 150.5h4" stroke="#5a8420"/><path d="M469.5 150.5h4" stroke="#638921"/><path d="M472.5 150.5h4" stroke="#6c8d23"/><path d="M424.5 153.5h4" stroke="#53881d"/><path d="M427.5 153.5h4" stroke="#4f861c"/><path d="M430.5 153.5h4" stroke="#4c841c"/><path d="M433.5 153.5h4" stroke="#48811b"/><path d="M436.5 153.5h4" stroke="#437d1b"/><path d="M439.5 153.5h4" stroke="#407a1a"/><path d="M442.5 153.5h4" stroke="#3e781a"/><path d="M445.5 153.5h4" stroke="#3c771a"/><path d="M448.5 153.5h4" stroke="#3c761a"/><path d="M451.5 153.5h4" stroke="#3d761a"/><path d="M454.5 153.5h4" stroke="#3f771a"/><path d="M457.5 153.5h4" stroke="#41781b"/><path d="M460.5 153.5h4" stroke="#43791b"/><path d="M463.5 153.5h4" stroke="#467a1c"/><path d="M466.5 153.5h4" stroke="#4b7c1d"/><path d="M469.5 153.5h4" stroke="#53801e"/><path d="M472.5 153.5h4" stroke="#5c8420"/><path d="M430.5 156.5h4" stroke="#49811b"/><path d="M433.5 156.5h4" stroke="#437d1b"/><path d="M436.5 156.5h4" stroke="#3f791a"/><path d="M439.5 156.5h4" stroke="#3c771a"/><path d="M442.5 156.5h4" stroke="#3a751a"/><path d="M445.5 156.5h4" stroke="#387419"/><path d="M448.5 156.5h4" stroke="#377219"/><path d="M451.5 156.5h4" stroke="#367119"/><path d="M454.5 156.5h4" stroke="#377219"/><path d="M457.5 156.5h4" stroke="#3a7319"/><path d="M460.5 156.5h4" stroke="#3b731a"/><path d="M463.5 156.5h4" stroke="#3c731a"/><path d="M466.5 156.5h4" stroke="#3d731a"/><path d="M469.5 156.5h4" stroke="#40741a"/><path d="M433.5 159.5h4" stroke="#3e791a"/><path d="M436.5 159.5h4" stroke="#3a761a"/><path d="M439.5 159.5h4" stroke="#38741a"/><path d="M442.5 159.5h4" stroke="#36731a"/><path d="M445.5 159.5h4" stroke="#357119"/><path d="M448.5 159.5h4" stroke="#337018"/><path d="M451.5 159.5h4" stroke="#326e18"/><path d="M454.5 159.5h4" stroke="#326e17"/><path d="M457.5 159.5h4" stroke="#336e17"/><path d="M460.5 159.5h4" stroke="#346e18"/><path d="M463.5 159.5h4" stroke="#356d18"/><path d="M466.5 159.5h4" stroke="#356d18"/><path d="M439.5 162.5h4" stroke="#36721a"/><path d="M442.5 162.5h4" stroke="#347119"/><path d="M445.5 162.5h4" stroke="#337019"/><path d="M448.5 162.5h4" stroke="#316e18"/><path d="M451.5 162.5h4" stroke="#306c17"/><path d="M454.5 162.5h4" stroke="#2f6b16"/><path d="M457.5 162.5h4" stroke="#2f6a16"/><path d="M460.5 162.5h4" stroke="#306916"/><path d="M463.5 162.5h4" stroke="#306a16"/><path d="M466.5 162.5h4" stroke="#316916"/><path d="M442.5 165.5h4" stroke="#337019"/><path d="M445.5 165.5h4" stroke="#326f18"/><path d="M448.5 165.5h4" stroke="#306d17"/><path d="M451.5 165.5h4" stroke="#2e6a16"/><path d="M454.5 165.5h4" stroke="#2d6815"/><path d="M457.5 165.5h4" stroke="#2d6715"/><path d="M460.5 165.5h4" stroke="#2d6715"/><path d="M463.5 165.5h4" stroke="#2e6715"/><path d="M445.5 168.5h4" stroke="#316d18"/><path d="M448.5 168.5h4" stroke="#2f6b17"/><path d="M451.5 168.5h4" stroke="#2d6815"/><path d="M454.5 168.5h4" stroke="#2c6615"/><path d="M457.5 168.5h4" stroke="#2b6615"/><path d="M460.5 168.5h4" stroke="#2b6515"/><path d="M451.5 171.5h4" stroke="#2c6615"/><path d="M457.5 171.5h4" stroke="#2b6514"/></g></g></g>
<path d="M196.5,154.8L197.0,154.2L197.6,153.4L198.3,152.5L199.1,151.4L199.9,150.3L200.8,149.1L201.6,148.0L202.4,146.8L203.1,145.6L203.9,144.4L204.6,143.1L205.3,141.8L206.0,140.5L206.7,139.1L207.5,137.8L208.2,136.5L208.9,135.2L209.7,133.8L210.5,132.4L211.2,131.1L212.0,129.7L212.7,128.5L213.4,127.3L214.1,126.3L214.7,125.4L215.3,124.6L215.9,123.9L216.4,123.2L216.9,122.7L217.4,122.1L218.0,121.6L218.5,121.2L219.1,120.8L219.6,120.4L220.2,120.1L220.7,119.9L221.2,119.6L221.8,119.5L222.3,119.4L222.9,119.3L223.5,119.3L224.0,119.3L224.6,119.4L225.1,119.6L225.7,119.7L226.2,120.0L226.8,120.2L227.3,120.5L227.8,120.8L228.4,121.2L228.9,121.6L229.5,122.1L230.0,122.5L230.5,123.0L231.1,123.6L231.6,124.1L232.2,124.7L232.8,125.4L233.4,126.1L234.1,126.9L234.7,127.6L235.2,128.2L235.7,128.8L236.0,129.2L236.3,129.4L236.6,129.6L236.9,129.9L237.4,130.2L237.9,130.6L238.5,131.1L239.2,131.6L240.0,132.3L241.0,133.1L242.1,134.0L243.3,135.0L244.6,136.1L246.0,137.2L247.4,138.3L248.7,139.4L250.0,140.5L251.2,141.5L252.5,142.6L253.8,143.7L255.0,144.7L256.2,145.8L257.5,146.8L258.8,147.8L260.0,148.8L261.2,149.7L262.5,150.6L263.8,151.5L265.0,152.3L266.2,153.2L267.5,154.0L268.8,154.8L270.0,155.5L271.2,156.2L272.5,156.9L273.8,157.6L275.0,158.2L276.2,158.8L277.5,159.4L278.8,159.9L280.0,160.5L281.2,161.0L282.5,161.6L283.8,162.1L285.0,162.6L286.2,163.1L287.5,163.5L288.8,163.9L290.0,164.2L291.2,164.6L292.5,164.8L293.8,165.1L295.0,165.3L296.2,165.5L297.5,165.6L298.8,165.7L300.0,186.0L299.7,186.3L299.4,186.7L298.9,187.2L298.5,187.8L298.0,188.4L297.5,188.9L297.0,189.5L296.5,190.0L296.1,190.5L295.6,190.9L295.2,191.4L294.7,191.8L294.3,192.2L293.9,192.7L293.4,193.1L293.0,193.5L292.6,193.9L292.2,194.3L291.8,194.7L291.4,195.1L291.0,195.5L290.5,195.9L290.1,196.3L289.6,196.6L289.1,196.9L288.6,197.2L288.0,197.5L287.5,197.7L286.9,197.9L286.3,198.2L285.7,198.4L285.0,198.6L284.3,198.8L283.6,199.1L282.9,199.3L282.2,199.5L281.4,199.7L280.5,199.9L279.5,200.0L278.5,200.0L277.3,200.0L276.0,199.9L274.7,199.8L273.2,199.6L271.8,199.4L270.3,199.2L268.8,198.9L267.4,198.5L266.0,198.1L264.7,197.6L263.3,197.1L261.9,196.5L260.5,195.9L259.2,195.3L257.8,194.7L256.4,194.0L255.0,193.3L253.6,192.6L252.1,191.9L250.7,191.1L249.2,190.3L247.8,189.5L246.4,188.8L245.0,188.0L243.6,187.2L242.3,186.5L240.9,185.7L239.6,185.0L238.3,184.2L236.9,183.4L235.6,182.7L234.2,181.9L232.8,181.1L231.4,180.3L230.0,179.6L228.6,178.8L227.2,178.0L225.8,177.2L224.4,176.4L223.0,175.5L221.6,174.6L220.2,173.7L218.8,172.8L217.4,171.8L216.0,170.9L214.6,169.9L213.3,168.9L212.1,168.0L210.9,167.1L209.8,166.1L208.8,165.1L207.8,164.1L206.8,163.2L205.8,162.2L204.9,161.4L203.9,160.5L202.9,159.7L201.8,158.8L200.7,158.0L199.7,157.2L198.7,156.4L197.8,155.8L197.1,155.2L196.5,154.8Z" fill="#3a6e1a"/>
<g clip-path="url(#cpF1)"><g filter="url(#bl1)"><g fill="none" stroke-width="3.5"><path d="M217 118.2h3.5" stroke="#89745f"/><path d="M219.5 118.2h3.5" stroke="#907b66"/><path d="M222 118.2h3.5" stroke="#9d856f"/><path d="M224.5 118.2h3.5" stroke="#b0957e"/><path d="M214.5 120.8h3.5" stroke="#806b56"/><path d="M217 120.8h3.5" stroke="#84705b"/><path d="M219.5 120.8h3.5" stroke="#8b7661"/><path d="M222 120.8h3.5" stroke="#98816a"/><path d="M224.5 120.8h3.5" stroke="#ac917a"/><path d="M227 120.8h3.5" stroke="#bfa28a"/><path d="M229.5 120.8h3.5" stroke="#ccac94"/><path d="M212 123.2h3.5" stroke="#7a6650"/><path d="M214.5 123.2h3.5" stroke="#7d6953"/><path d="M217 123.2h3.5" stroke="#816d57"/><path d="M219.5 123.2h3.5" stroke="#87725c"/><path d="M222 123.2h3.5" stroke="#927b64"/><path d="M224.5 123.2h3.5" stroke="#a58c73"/><path d="M227 123.2h3.5" stroke="#bda087"/><path d="M229.5 123.2h3.5" stroke="#cdae96"/><path d="M232 123.2h3.5" stroke="#d4b49c"/><path d="M212 125.8h3.5" stroke="#77634c"/><path d="M214.5 125.8h3.5" stroke="#7a664f"/><path d="M217 125.8h3.5" stroke="#7e6953"/><path d="M219.5 125.8h3.5" stroke="#826e56"/><path d="M222 125.8h3.5" stroke="#89745b"/><path d="M224.5 125.8h3.5" stroke="#998167"/><path d="M227 125.8h3.5" stroke="#b5997f"/><path d="M229.5 125.8h3.5" stroke="#cbac93"/><path d="M232 125.8h3.5" stroke="#d3b29a"/><path d="M234.5 125.8h3.5" stroke="#d5b39c"/><path d="M209.5 128.2h3.5" stroke="#715d41"/><path d="M212 128.2h3.5" stroke="#725e43"/><path d="M214.5 128.2h3.5" stroke="#746147"/><path d="M217 128.2h3.5" stroke="#78644b"/><path d="M219.5 128.2h3.5" stroke="#7a674d"/><path d="M222 128.2h3.5" stroke="#7d6a4e"/><path d="M224.5 128.2h3.5" stroke="#877255"/><path d="M227 128.2h3.5" stroke="#a2886d"/><path d="M229.5 128.2h3.5" stroke="#c1a288"/><path d="M232 128.2h3.5" stroke="#ceac94"/><path d="M234.5 128.2h3.5" stroke="#d2af97"/><path d="M237 128.2h3.5" stroke="#d4b098"/><path d="M207 130.8h3.5" stroke="#6e5a3c"/><path d="M209.5 130.8h3.5" stroke="#6e5b3d"/><path d="M212 130.8h3.5" stroke="#6f5b3e"/><path d="M214.5 130.8h3.5" stroke="#705c3f"/><path d="M217 130.8h3.5" stroke="#715e42"/><path d="M219.5 130.8h3.5" stroke="#726044"/><path d="M222 130.8h3.5" stroke="#746244"/><path d="M224.5 130.8h3.5" stroke="#7a6748"/><path d="M227 130.8h3.5" stroke="#90795b"/><path d="M229.5 130.8h3.5" stroke="#b49579"/><path d="M232 130.8h3.5" stroke="#c6a489"/><path d="M234.5 130.8h3.5" stroke="#cda98f"/><path d="M237 130.8h3.5" stroke="#d1ad92"/><path d="M239.5 130.8h3.5" stroke="#d3ae94"/><path d="M207 133.2h3.5" stroke="#6e5a3b"/><path d="M209.5 133.2h3.5" stroke="#6e5a3c"/><path d="M212 133.2h3.5" stroke="#6e5a3c"/><path d="M214.5 133.2h3.5" stroke="#6e5a3d"/><path d="M217 133.2h3.5" stroke="#6e5c3e"/><path d="M219.5 133.2h3.5" stroke="#6f5d3f"/><path d="M222 133.2h3.5" stroke="#705f40"/><path d="M224.5 133.2h3.5" stroke="#756343"/><path d="M227 133.2h3.5" stroke="#877151"/><path d="M229.5 133.2h3.5" stroke="#a88a6c"/><path d="M232 133.2h3.5" stroke="#be9b7e"/><path d="M234.5 133.2h3.5" stroke="#c8a487"/><path d="M237 133.2h3.5" stroke="#cea98d"/><path d="M239.5 133.2h3.5" stroke="#d2ad90"/><path d="M242 133.2h3.5" stroke="#d4ae92"/><path d="M204.5 135.8h3.5" stroke="#6b5a35"/><path d="M207 135.8h3.5" stroke="#6c5a37"/><path d="M209.5 135.8h3.5" stroke="#6d5a39"/><path d="M212 135.8h3.5" stroke="#6d5a3b"/><path d="M214.5 135.8h3.5" stroke="#6e5a3c"/><path d="M217 135.8h3.5" stroke="#6d5b3c"/><path d="M219.5 135.8h3.5" stroke="#6c5c3b"/><path d="M222 135.8h3.5" stroke="#6d5d3b"/><path d="M224.5 135.8h3.5" stroke="#70603c"/><path d="M227 135.8h3.5" stroke="#7e6a46"/><path d="M229.5 135.8h3.5" stroke="#9b7f5d"/><path d="M232 135.8h3.5" stroke="#b49372"/><path d="M234.5 135.8h3.5" stroke="#c29e7d"/><path d="M237 135.8h3.5" stroke="#caa586"/><path d="M239.5 135.8h3.5" stroke="#d0aa8c"/><path d="M242 135.8h3.5" stroke="#d3ad90"/><path d="M244.5 135.8h3.5" stroke="#d5ae91"/><path d="M204.5 138.2h3.5" stroke="#6a5a34"/><path d="M207 138.2h3.5" stroke="#6a5a34"/><path d="M209.5 138.2h3.5" stroke="#6b5a35"/><path d="M212 138.2h3.5" stroke="#6b5a37"/><path d="M214.5 138.2h3.5" stroke="#6c5a39"/><path d="M217 138.2h3.5" stroke="#6a5a38"/><path d="M219.5 138.2h3.5" stroke="#685b36"/><path d="M222 138.2h3.5" stroke="#695b36"/><path d="M224.5 138.2h3.5" stroke="#6b5d37"/><path d="M227 138.2h3.5" stroke="#74633c"/><path d="M229.5 138.2h3.5" stroke="#8c754e"/><path d="M232 138.2h3.5" stroke="#a98a63"/><path d="M234.5 138.2h3.5" stroke="#ba9771"/><path d="M237 138.2h3.5" stroke="#c4a07d"/><path d="M239.5 138.2h3.5" stroke="#cca787"/><path d="M242 138.2h3.5" stroke="#d1ab8d"/><path d="M244.5 138.2h3.5" stroke="#d3ac8d"/><path d="M247 138.2h3.5" stroke="#d4ac8c"/><path d="M249.5 138.2h3.5" stroke="#d5ad8d"/><path d="M202 140.8h3.5" stroke="#6b6031"/><path d="M204.5 140.8h3.5" stroke="#6a5c33"/><path d="M207 140.8h3.5" stroke="#6a5b34"/><path d="M209.5 140.8h3.5" stroke="#6a5a34"/><path d="M212 140.8h3.5" stroke="#6a5a34"/><path d="M214.5 140.8h3.5" stroke="#6a5a35"/><path d="M217 140.8h3.5" stroke="#685a35"/><path d="M219.5 140.8h3.5" stroke="#675a34"/><path d="M222 140.8h3.5" stroke="#675b34"/><path d="M224.5 140.8h3.5" stroke="#695c35"/><path d="M227 140.8h3.5" stroke="#6f6138"/><path d="M229.5 140.8h3.5" stroke="#826f43"/><path d="M232 140.8h3.5" stroke="#9a8053"/><path d="M234.5 140.8h3.5" stroke="#ab8c61"/><path d="M237 140.8h3.5" stroke="#b8966f"/><path d="M239.5 140.8h3.5" stroke="#c6a17e"/><path d="M242 140.8h3.5" stroke="#cfa887"/><path d="M244.5 140.8h3.5" stroke="#d2aa8a"/><path d="M247 140.8h3.5" stroke="#d4ac8b"/><path d="M249.5 140.8h3.5" stroke="#d5ad8d"/><path d="M252 140.8h3.5" stroke="#d6ae8d"/><path d="M202 143.2h3.5" stroke="#6d692c"/><path d="M204.5 143.2h3.5" stroke="#6b6130"/><path d="M207 143.2h3.5" stroke="#6a5d32"/><path d="M209.5 143.2h3.5" stroke="#6a5b33"/><path d="M212 143.2h3.5" stroke="#6a5b33"/><path d="M214.5 143.2h3.5" stroke="#6a5b34"/><path d="M217 143.2h3.5" stroke="#675a34"/><path d="M219.5 143.2h3.5" stroke="#665a34"/><path d="M222 143.2h3.5" stroke="#675b34"/><path d="M224.5 143.2h3.5" stroke="#685d34"/><path d="M227 143.2h3.5" stroke="#6d6335"/><path d="M229.5 143.2h3.5" stroke="#786c3a"/><path d="M232 143.2h3.5" stroke="#877543"/><path d="M234.5 143.2h3.5" stroke="#957d4d"/><path d="M237 143.2h3.5" stroke="#a6885b"/><path d="M239.5 143.2h3.5" stroke="#bd9971"/><path d="M242 143.2h3.5" stroke="#cca481"/><path d="M244.5 143.2h3.5" stroke="#d1a887"/><path d="M247 143.2h3.5" stroke="#d3ab8a"/><path d="M249.5 143.2h3.5" stroke="#d5ad8c"/><path d="M252 143.2h3.5" stroke="#d5ad8d"/><path d="M254.5 143.2h3.5" stroke="#d5ad8d"/><path d="M199.5 145.8h3.5" stroke="#727927"/><path d="M202 145.8h3.5" stroke="#6f7129"/><path d="M204.5 145.8h3.5" stroke="#6d6a2c"/><path d="M207 145.8h3.5" stroke="#6b632f"/><path d="M209.5 145.8h3.5" stroke="#6a6031"/><path d="M212 145.8h3.5" stroke="#6a5f31"/><path d="M214.5 145.8h3.5" stroke="#695f31"/><path d="M217 145.8h3.5" stroke="#685d32"/><path d="M219.5 145.8h3.5" stroke="#665b33"/><path d="M222 145.8h3.5" stroke="#675d33"/><path d="M224.5 145.8h3.5" stroke="#686132"/><path d="M227 145.8h3.5" stroke="#6c6532"/><path d="M229.5 145.8h3.5" stroke="#726a35"/><path d="M232 145.8h3.5" stroke="#7c6f3b"/><path d="M234.5 145.8h3.5" stroke="#897643"/><path d="M237 145.8h3.5" stroke="#9c8150"/><path d="M239.5 145.8h3.5" stroke="#b69266"/><path d="M242 145.8h3.5" stroke="#c69f78"/><path d="M244.5 145.8h3.5" stroke="#cea683"/><path d="M247 145.8h3.5" stroke="#d2aa88"/><path d="M249.5 145.8h3.5" stroke="#d4ac8c"/><path d="M252 145.8h3.5" stroke="#d5ad8c"/><path d="M254.5 145.8h3.5" stroke="#d4ac8a"/><path d="M257 145.8h3.5" stroke="#d1a984"/><path d="M197 148.2h3.5" stroke="#778425"/><path d="M199.5 148.2h3.5" stroke="#747e26"/><path d="M202 148.2h3.5" stroke="#717627"/><path d="M204.5 148.2h3.5" stroke="#6e7029"/><path d="M207 148.2h3.5" stroke="#6c6b2a"/><path d="M209.5 148.2h3.5" stroke="#6a682b"/><path d="M212 148.2h3.5" stroke="#69672b"/><path d="M214.5 148.2h3.5" stroke="#69672b"/><path d="M217 148.2h3.5" stroke="#68662c"/><path d="M219.5 148.2h3.5" stroke="#655f31"/><path d="M222 148.2h3.5" stroke="#666031"/><path d="M224.5 148.2h3.5" stroke="#676231"/><path d="M227 148.2h3.5" stroke="#696431"/><path d="M229.5 148.2h3.5" stroke="#6e6733"/><path d="M232 148.2h3.5" stroke="#786d38"/><path d="M234.5 148.2h3.5" stroke="#877440"/><path d="M237 148.2h3.5" stroke="#9c804c"/><path d="M239.5 148.2h3.5" stroke="#af8d5c"/><path d="M242 148.2h3.5" stroke="#bd976c"/><path d="M244.5 148.2h3.5" stroke="#c7a079"/><path d="M247 148.2h3.5" stroke="#cfa784"/><path d="M249.5 148.2h3.5" stroke="#d2aa88"/><path d="M252 148.2h3.5" stroke="#d2aa85"/><path d="M254.5 148.2h3.5" stroke="#d0a781"/><path d="M257 148.2h3.5" stroke="#cea67f"/><path d="M259.5 148.2h3.5" stroke="#cfa681"/><path d="M197 150.8h3.5" stroke="#788725"/><path d="M199.5 150.8h3.5" stroke="#768226"/><path d="M202 150.8h3.5" stroke="#727b27"/><path d="M204.5 150.8h3.5" stroke="#6f7428"/><path d="M207 150.8h3.5" stroke="#6c6f28"/><path d="M209.5 150.8h3.5" stroke="#696c29"/><path d="M212 150.8h3.5" stroke="#686c29"/><path d="M214.5 150.8h3.5" stroke="#686c28"/><path d="M217 150.8h3.5" stroke="#666c28"/><path d="M219.5 150.8h3.5" stroke="#62682a"/><path d="M222 150.8h3.5" stroke="#63642d"/><path d="M224.5 150.8h3.5" stroke="#64622f"/><path d="M227 150.8h3.5" stroke="#666330"/><path d="M229.5 150.8h3.5" stroke="#696531"/><path d="M232 150.8h3.5" stroke="#716a35"/><path d="M234.5 150.8h3.5" stroke="#83733d"/><path d="M237 150.8h3.5" stroke="#9a7f49"/><path d="M239.5 150.8h3.5" stroke="#a68751"/><path d="M242 150.8h3.5" stroke="#ad8d5a"/><path d="M244.5 150.8h3.5" stroke="#b79566"/><path d="M247 150.8h3.5" stroke="#c29e73"/><path d="M249.5 150.8h3.5" stroke="#c9a278"/><path d="M252 150.8h3.5" stroke="#cca379"/><path d="M254.5 150.8h3.5" stroke="#cda47a"/><path d="M257 150.8h3.5" stroke="#cda57d"/><path d="M259.5 150.8h3.5" stroke="#cea67f"/><path d="M262 150.8h3.5" stroke="#cea780"/><path d="M264.5 150.8h3.5" stroke="#cda77c"/><path d="M194.5 153.2h3.5" stroke="#798924"/><path d="M197 153.2h3.5" stroke="#788825"/><path d="M199.5 153.2h3.5" stroke="#768626"/><path d="M202 153.2h3.5" stroke="#738127"/><path d="M204.5 153.2h3.5" stroke="#6f7b28"/><path d="M207 153.2h3.5" stroke="#6c7328"/><path d="M209.5 153.2h3.5" stroke="#696e28"/><path d="M212 153.2h3.5" stroke="#686e28"/><path d="M214.5 153.2h3.5" stroke="#666f27"/><path d="M217 153.2h3.5" stroke="#637026"/><path d="M219.5 153.2h3.5" stroke="#5e6d25"/><path d="M222 153.2h3.5" stroke="#5e6927"/><path d="M224.5 153.2h3.5" stroke="#60662b"/><path d="M227 153.2h3.5" stroke="#62642d"/><path d="M229.5 153.2h3.5" stroke="#63642e"/><path d="M232 153.2h3.5" stroke="#66672f"/><path d="M234.5 153.2h3.5" stroke="#746f35"/><path d="M237 153.2h3.5" stroke="#897b3d"/><path d="M239.5 153.2h3.5" stroke="#8f8040"/><path d="M242 153.2h3.5" stroke="#908242"/><path d="M244.5 153.2h3.5" stroke="#958647"/><path d="M247 153.2h3.5" stroke="#a68d53"/><path d="M249.5 153.2h3.5" stroke="#b99763"/><path d="M252 153.2h3.5" stroke="#c59e6f"/><path d="M254.5 153.2h3.5" stroke="#caa277"/><path d="M257 153.2h3.5" stroke="#cda47b"/><path d="M259.5 153.2h3.5" stroke="#cda57d"/><path d="M262 153.2h3.5" stroke="#cca67a"/><path d="M264.5 153.2h3.5" stroke="#caa56f"/><path d="M267 153.2h3.5" stroke="#c7a662"/><path d="M194.5 155.8h3.5" stroke="#788925"/><path d="M197 155.8h3.5" stroke="#778926"/><path d="M199.5 155.8h3.5" stroke="#748827"/><path d="M202 155.8h3.5" stroke="#728628"/><path d="M204.5 155.8h3.5" stroke="#708229"/><path d="M207 155.8h3.5" stroke="#6c7928"/><path d="M209.5 155.8h3.5" stroke="#687227"/><path d="M212 155.8h3.5" stroke="#667226"/><path d="M214.5 155.8h3.5" stroke="#647525"/><path d="M217 155.8h3.5" stroke="#617425"/><path d="M219.5 155.8h3.5" stroke="#5e6f24"/><path d="M222 155.8h3.5" stroke="#5d6c25"/><path d="M224.5 155.8h3.5" stroke="#5d6a26"/><path d="M227 155.8h3.5" stroke="#5f6729"/><path d="M229.5 155.8h3.5" stroke="#5f662b"/><path d="M232 155.8h3.5" stroke="#60662b"/><path d="M234.5 155.8h3.5" stroke="#656b2d"/><path d="M237 155.8h3.5" stroke="#737631"/><path d="M239.5 155.8h3.5" stroke="#787b32"/><path d="M242 155.8h3.5" stroke="#7a7c33"/><path d="M244.5 155.8h3.5" stroke="#827e37"/><path d="M247 155.8h3.5" stroke="#958442"/><path d="M249.5 155.8h3.5" stroke="#a98d52"/><path d="M252 155.8h3.5" stroke="#ba9763"/><path d="M254.5 155.8h3.5" stroke="#c59f71"/><path d="M257 155.8h3.5" stroke="#caa377"/><path d="M259.5 155.8h3.5" stroke="#caa475"/><path d="M262 155.8h3.5" stroke="#c7a36b"/><path d="M264.5 155.8h3.5" stroke="#c5a360"/><path d="M267 155.8h3.5" stroke="#c5a55c"/><path d="M269.5 155.8h3.5" stroke="#c6a75d"/><path d="M272 155.8h3.5" stroke="#c7a95e"/><path d="M197 158.2h3.5" stroke="#748927"/><path d="M199.5 158.2h3.5" stroke="#728829"/><path d="M202 158.2h3.5" stroke="#718729"/><path d="M204.5 158.2h3.5" stroke="#708629"/><path d="M207 158.2h3.5" stroke="#6d8029"/><path d="M209.5 158.2h3.5" stroke="#667826"/><path d="M212 158.2h3.5" stroke="#637825"/><path d="M214.5 158.2h3.5" stroke="#627824"/><path d="M217 158.2h3.5" stroke="#617624"/><path d="M219.5 158.2h3.5" stroke="#5e7024"/><path d="M222 158.2h3.5" stroke="#5c6d24"/><path d="M224.5 158.2h3.5" stroke="#5c6b25"/><path d="M227 158.2h3.5" stroke="#5d6927"/><path d="M229.5 158.2h3.5" stroke="#5e6729"/><path d="M232 158.2h3.5" stroke="#5e672a"/><path d="M234.5 158.2h3.5" stroke="#616a2a"/><path d="M237 158.2h3.5" stroke="#6b742c"/><path d="M239.5 158.2h3.5" stroke="#707a2d"/><path d="M242 158.2h3.5" stroke="#737b2f"/><path d="M244.5 158.2h3.5" stroke="#7e7d33"/><path d="M247 158.2h3.5" stroke="#8e813b"/><path d="M249.5 158.2h3.5" stroke="#9a8645"/><path d="M252 158.2h3.5" stroke="#a88e52"/><path d="M254.5 158.2h3.5" stroke="#b69761"/><path d="M257 158.2h3.5" stroke="#bc9c66"/><path d="M259.5 158.2h3.5" stroke="#be9e61"/><path d="M262 158.2h3.5" stroke="#c09f5a"/><path d="M264.5 158.2h3.5" stroke="#c1a158"/><path d="M267 158.2h3.5" stroke="#c4a459"/><path d="M269.5 158.2h3.5" stroke="#c5a75b"/><path d="M272 158.2h3.5" stroke="#c6a85b"/><path d="M274.5 158.2h3.5" stroke="#c5aa56"/><path d="M277 158.2h3.5" stroke="#c5ac4d"/><path d="M199.5 160.8h3.5" stroke="#718829"/><path d="M202 160.8h3.5" stroke="#70882a"/><path d="M204.5 160.8h3.5" stroke="#70872a"/><path d="M207 160.8h3.5" stroke="#6b8228"/><path d="M209.5 160.8h3.5" stroke="#647b25"/><path d="M212 160.8h3.5" stroke="#627a24"/><path d="M214.5 160.8h3.5" stroke="#627924"/><path d="M217 160.8h3.5" stroke="#617724"/><path d="M219.5 160.8h3.5" stroke="#5e7224"/><path d="M222 160.8h3.5" stroke="#5c6d24"/><path d="M224.5 160.8h3.5" stroke="#5c6c24"/><path d="M227 160.8h3.5" stroke="#5b6b26"/><path d="M229.5 160.8h3.5" stroke="#5b6b27"/><path d="M232 160.8h3.5" stroke="#5a6b28"/><path d="M234.5 160.8h3.5" stroke="#5d6d28"/><path d="M237 160.8h3.5" stroke="#66742a"/><path d="M239.5 160.8h3.5" stroke="#6e792c"/><path d="M242 160.8h3.5" stroke="#717b2d"/><path d="M244.5 160.8h3.5" stroke="#797e31"/><path d="M247 160.8h3.5" stroke="#808034"/><path d="M249.5 160.8h3.5" stroke="#878238"/><path d="M252 160.8h3.5" stroke="#8d853e"/><path d="M254.5 160.8h3.5" stroke="#918941"/><path d="M257 160.8h3.5" stroke="#968c42"/><path d="M259.5 160.8h3.5" stroke="#a79348"/><path d="M262 160.8h3.5" stroke="#b79a50"/><path d="M264.5 160.8h3.5" stroke="#be9e53"/><path d="M267 160.8h3.5" stroke="#c1a256"/><path d="M269.5 160.8h3.5" stroke="#c3a557"/><path d="M272 160.8h3.5" stroke="#c2a753"/><path d="M274.5 160.8h3.5" stroke="#c2a94b"/><path d="M277 160.8h3.5" stroke="#c3ac47"/><path d="M279.5 160.8h3.5" stroke="#c5ae48"/><path d="M282 160.8h3.5" stroke="#c5ae49"/><path d="M284.5 160.8h3.5" stroke="#c6af49"/><path d="M202 163.2h3.5" stroke="#70882a"/><path d="M204.5 163.2h3.5" stroke="#6f872a"/><path d="M207 163.2h3.5" stroke="#698127"/><path d="M209.5 163.2h3.5" stroke="#637b24"/><path d="M212 163.2h3.5" stroke="#627a24"/><path d="M214.5 163.2h3.5" stroke="#617a24"/><path d="M217 163.2h3.5" stroke="#5f7923"/><path d="M219.5 163.2h3.5" stroke="#5c7623"/><path d="M222 163.2h3.5" stroke="#5a7223"/><path d="M224.5 163.2h3.5" stroke="#597023"/><path d="M227 163.2h3.5" stroke="#567223"/><path d="M229.5 163.2h3.5" stroke="#537423"/><path d="M232 163.2h3.5" stroke="#527522"/><path d="M234.5 163.2h3.5" stroke="#537623"/><path d="M237 163.2h3.5" stroke="#5a7725"/><path d="M239.5 163.2h3.5" stroke="#677a29"/><path d="M242 163.2h3.5" stroke="#687d29"/><path d="M244.5 163.2h3.5" stroke="#657f28"/><path d="M247 163.2h3.5" stroke="#668029"/><path d="M249.5 163.2h3.5" stroke="#69802a"/><path d="M252 163.2h3.5" stroke="#6e802b"/><path d="M254.5 163.2h3.5" stroke="#75802c"/><path d="M257 163.2h3.5" stroke="#7d822f"/><path d="M259.5 163.2h3.5" stroke="#8e8938"/><path d="M262 163.2h3.5" stroke="#a69345"/><path d="M264.5 163.2h3.5" stroke="#b3994c"/><path d="M267 163.2h3.5" stroke="#b79e4e"/><path d="M269.5 163.2h3.5" stroke="#baa24b"/><path d="M272 163.2h3.5" stroke="#bca545"/><path d="M274.5 163.2h3.5" stroke="#bfa842"/><path d="M277 163.2h3.5" stroke="#c2ac44"/><path d="M279.5 163.2h3.5" stroke="#c4ae46"/><path d="M282 163.2h3.5" stroke="#c5af48"/><path d="M284.5 163.2h3.5" stroke="#c6b046"/><path d="M287 163.2h3.5" stroke="#c6b53f"/><path d="M289.5 163.2h3.5" stroke="#c6b83a"/><path d="M292 163.2h3.5" stroke="#c6b938"/><path d="M204.5 165.8h3.5" stroke="#6f8629"/><path d="M207 165.8h3.5" stroke="#677f26"/><path d="M209.5 165.8h3.5" stroke="#627b24"/><path d="M212 165.8h3.5" stroke="#607b24"/><path d="M214.5 165.8h3.5" stroke="#5d7c23"/><path d="M217 165.8h3.5" stroke="#587d22"/><path d="M219.5 165.8h3.5" stroke="#557e21"/><path d="M222 165.8h3.5" stroke="#547c21"/><path d="M224.5 165.8h3.5" stroke="#537a21"/><path d="M227 165.8h3.5" stroke="#507921"/><path d="M229.5 165.8h3.5" stroke="#4f7920"/><path d="M232 165.8h3.5" stroke="#4f7920"/><path d="M234.5 165.8h3.5" stroke="#4f7920"/><path d="M237 165.8h3.5" stroke="#507a21"/><path d="M239.5 165.8h3.5" stroke="#567c23"/><path d="M242 165.8h3.5" stroke="#577f23"/><path d="M244.5 165.8h3.5" stroke="#568022"/><path d="M247 165.8h3.5" stroke="#568022"/><path d="M249.5 165.8h3.5" stroke="#588022"/><path d="M252 165.8h3.5" stroke="#607f24"/><path d="M254.5 165.8h3.5" stroke="#6d7f27"/><path d="M257 165.8h3.5" stroke="#747f2a"/><path d="M259.5 165.8h3.5" stroke="#7c822e"/><path d="M262 165.8h3.5" stroke="#888835"/><path d="M264.5 165.8h3.5" stroke="#8d8d38"/><path d="M267 165.8h3.5" stroke="#919038"/><path d="M269.5 165.8h3.5" stroke="#a59a3b"/><path d="M272 165.8h3.5" stroke="#b5a23d"/><path d="M274.5 165.8h3.5" stroke="#bca73f"/><path d="M277 165.8h3.5" stroke="#c1ab42"/><path d="M279.5 165.8h3.5" stroke="#c3ae44"/><path d="M282 165.8h3.5" stroke="#c4af46"/><path d="M284.5 165.8h3.5" stroke="#c5b243"/><path d="M287 165.8h3.5" stroke="#c6b73c"/><path d="M289.5 165.8h3.5" stroke="#c6b939"/><path d="M292 165.8h3.5" stroke="#c5ba37"/><path d="M294.5 165.8h3.5" stroke="#c5bb35"/><path d="M297 165.8h3.5" stroke="#c4bc33"/><path d="M207 168.2h3.5" stroke="#647d25"/><path d="M209.5 168.2h3.5" stroke="#5f7b23"/><path d="M212 168.2h3.5" stroke="#5a7d22"/><path d="M214.5 168.2h3.5" stroke="#557f21"/><path d="M217 168.2h3.5" stroke="#538020"/><path d="M219.5 168.2h3.5" stroke="#528020"/><path d="M222 168.2h3.5" stroke="#528020"/><path d="M224.5 168.2h3.5" stroke="#517e20"/><path d="M227 168.2h3.5" stroke="#4f7b20"/><path d="M229.5 168.2h3.5" stroke="#4e7a20"/><path d="M232 168.2h3.5" stroke="#4e7a20"/><path d="M234.5 168.2h3.5" stroke="#4e7a20"/><path d="M237 168.2h3.5" stroke="#4c7b20"/><path d="M239.5 168.2h3.5" stroke="#497e1f"/><path d="M242 168.2h3.5" stroke="#4c8020"/><path d="M244.5 168.2h3.5" stroke="#508020"/><path d="M247 168.2h3.5" stroke="#518020"/><path d="M249.5 168.2h3.5" stroke="#528021"/><path d="M252 168.2h3.5" stroke="#597f22"/><path d="M254.5 168.2h3.5" stroke="#667e25"/><path d="M257 168.2h3.5" stroke="#6c7e27"/><path d="M259.5 168.2h3.5" stroke="#6e7f28"/><path d="M262 168.2h3.5" stroke="#6c8128"/><path d="M264.5 168.2h3.5" stroke="#698127"/><path d="M267 168.2h3.5" stroke="#6e8428"/><path d="M269.5 168.2h3.5" stroke="#888f2f"/><path d="M272 168.2h3.5" stroke="#a99d38"/><path d="M274.5 168.2h3.5" stroke="#b7a53d"/><path d="M277 168.2h3.5" stroke="#bba83f"/><path d="M279.5 168.2h3.5" stroke="#bdab41"/><path d="M282 168.2h3.5" stroke="#bfac42"/><path d="M284.5 168.2h3.5" stroke="#c2b23e"/><path d="M287 168.2h3.5" stroke="#c5b839"/><path d="M289.5 168.2h3.5" stroke="#c5ba37"/><path d="M292 168.2h3.5" stroke="#c5bb35"/><path d="M294.5 168.2h3.5" stroke="#c5bb34"/><path d="M297 168.2h3.5" stroke="#c4bc32"/><path d="M212 170.8h3.5" stroke="#537f20"/><path d="M214.5 170.8h3.5" stroke="#528020"/><path d="M217 170.8h3.5" stroke="#528020"/><path d="M219.5 170.8h3.5" stroke="#528020"/><path d="M222 170.8h3.5" stroke="#528020"/><path d="M224.5 170.8h3.5" stroke="#527f20"/><path d="M227 170.8h3.5" stroke="#4f7c20"/><path d="M229.5 170.8h3.5" stroke="#4e7a20"/><path d="M232 170.8h3.5" stroke="#4e7a20"/><path d="M234.5 170.8h3.5" stroke="#4c7b20"/><path d="M237 170.8h3.5" stroke="#467d1f"/><path d="M239.5 170.8h3.5" stroke="#437f1e"/><path d="M242 170.8h3.5" stroke="#45801f"/><path d="M244.5 170.8h3.5" stroke="#48801f"/><path d="M247 170.8h3.5" stroke="#4a8020"/><path d="M249.5 170.8h3.5" stroke="#4b8020"/><path d="M252 170.8h3.5" stroke="#4d7f21"/><path d="M254.5 170.8h3.5" stroke="#537e22"/><path d="M257 170.8h3.5" stroke="#567d22"/><path d="M259.5 170.8h3.5" stroke="#587d22"/><path d="M262 170.8h3.5" stroke="#5c7d22"/><path d="M264.5 170.8h3.5" stroke="#5e7e22"/><path d="M267 170.8h3.5" stroke="#628023"/><path d="M269.5 170.8h3.5" stroke="#718527"/><path d="M272 170.8h3.5" stroke="#919331"/><path d="M274.5 170.8h3.5" stroke="#9f9935"/><path d="M277 170.8h3.5" stroke="#9b9834"/><path d="M279.5 170.8h3.5" stroke="#999833"/><path d="M282 170.8h3.5" stroke="#9c9a34"/><path d="M284.5 170.8h3.5" stroke="#b0aa35"/><path d="M287 170.8h3.5" stroke="#c1b835"/><path d="M289.5 170.8h3.5" stroke="#c4bb34"/><path d="M292 170.8h3.5" stroke="#c4bc33"/><path d="M294.5 170.8h3.5" stroke="#c4bc32"/><path d="M297 170.8h3.5" stroke="#c4bc32"/><path d="M214.5 173.2h3.5" stroke="#528020"/><path d="M217 173.2h3.5" stroke="#528020"/><path d="M219.5 173.2h3.5" stroke="#528020"/><path d="M222 173.2h3.5" stroke="#528020"/><path d="M224.5 173.2h3.5" stroke="#528020"/><path d="M227 173.2h3.5" stroke="#507d20"/><path d="M229.5 173.2h3.5" stroke="#4d7a20"/><path d="M232 173.2h3.5" stroke="#4a7a1f"/><path d="M234.5 173.2h3.5" stroke="#457c1e"/><path d="M237 173.2h3.5" stroke="#427e1e"/><path d="M239.5 173.2h3.5" stroke="#427f1e"/><path d="M242 173.2h3.5" stroke="#43801e"/><path d="M244.5 173.2h3.5" stroke="#44801f"/><path d="M247 173.2h3.5" stroke="#458020"/><path d="M249.5 173.2h3.5" stroke="#458020"/><path d="M252 173.2h3.5" stroke="#457f20"/><path d="M254.5 173.2h3.5" stroke="#457d1f"/><path d="M257 173.2h3.5" stroke="#457c1f"/><path d="M259.5 173.2h3.5" stroke="#477b1e"/><path d="M262 173.2h3.5" stroke="#4d7a1f"/><path d="M264.5 173.2h3.5" stroke="#567b20"/><path d="M267 173.2h3.5" stroke="#5b7d21"/><path d="M269.5 173.2h3.5" stroke="#638023"/><path d="M272 173.2h3.5" stroke="#748628"/><path d="M274.5 173.2h3.5" stroke="#788628"/><path d="M277 173.2h3.5" stroke="#758427"/><path d="M279.5 173.2h3.5" stroke="#738426"/><path d="M282 173.2h3.5" stroke="#738426"/><path d="M284.5 173.2h3.5" stroke="#859128"/><path d="M287 173.2h3.5" stroke="#aaab2e"/><path d="M289.5 173.2h3.5" stroke="#bcb730"/><path d="M292 173.2h3.5" stroke="#c2bc31"/><path d="M294.5 173.2h3.5" stroke="#c4bd31"/><path d="M297 173.2h3.5" stroke="#c4bd31"/><path d="M217 175.8h3.5" stroke="#528020"/><path d="M219.5 175.8h3.5" stroke="#528020"/><path d="M222 175.8h3.5" stroke="#528020"/><path d="M224.5 175.8h3.5" stroke="#528020"/><path d="M227 175.8h3.5" stroke="#4e7d1f"/><path d="M229.5 175.8h3.5" stroke="#44781d"/><path d="M232 175.8h3.5" stroke="#40781c"/><path d="M234.5 175.8h3.5" stroke="#3f7a1c"/><path d="M237 175.8h3.5" stroke="#407c1d"/><path d="M239.5 175.8h3.5" stroke="#417e1d"/><path d="M242 175.8h3.5" stroke="#427f1e"/><path d="M244.5 175.8h3.5" stroke="#43801f"/><path d="M247 175.8h3.5" stroke="#448020"/><path d="M249.5 175.8h3.5" stroke="#448020"/><path d="M252 175.8h3.5" stroke="#437f1f"/><path d="M254.5 175.8h3.5" stroke="#427c1e"/><path d="M257 175.8h3.5" stroke="#427b1e"/><path d="M259.5 175.8h3.5" stroke="#41781d"/><path d="M262 175.8h3.5" stroke="#41741c"/><path d="M264.5 175.8h3.5" stroke="#44731c"/><path d="M267 175.8h3.5" stroke="#4b741d"/><path d="M269.5 175.8h3.5" stroke="#52771f"/><path d="M272 175.8h3.5" stroke="#617c22"/><path d="M274.5 175.8h3.5" stroke="#6a7f24"/><path d="M277 175.8h3.5" stroke="#6c8024"/><path d="M279.5 175.8h3.5" stroke="#6b8024"/><path d="M282 175.8h3.5" stroke="#697e23"/><path d="M284.5 175.8h3.5" stroke="#6a7f22"/><path d="M287 175.8h3.5" stroke="#7c8c25"/><path d="M289.5 175.8h3.5" stroke="#9da32a"/><path d="M292 175.8h3.5" stroke="#b5b42e"/><path d="M294.5 175.8h3.5" stroke="#c0bb30"/><path d="M297 175.8h3.5" stroke="#c3bd30"/><path d="M299.5 175.8h3.5" stroke="#c4bd31"/><path d="M222 178.2h3.5" stroke="#528020"/><path d="M224.5 178.2h3.5" stroke="#517f20"/><path d="M227 178.2h3.5" stroke="#43781c"/><path d="M229.5 178.2h3.5" stroke="#3d751a"/><path d="M232 178.2h3.5" stroke="#3d751a"/><path d="M234.5 178.2h3.5" stroke="#3d761b"/><path d="M237 178.2h3.5" stroke="#3e791c"/><path d="M239.5 178.2h3.5" stroke="#407b1d"/><path d="M242 178.2h3.5" stroke="#417e1e"/><path d="M244.5 178.2h3.5" stroke="#427f1f"/><path d="M247 178.2h3.5" stroke="#437f1f"/><path d="M249.5 178.2h3.5" stroke="#437f20"/><path d="M252 178.2h3.5" stroke="#437e1f"/><path d="M254.5 178.2h3.5" stroke="#427c1e"/><path d="M257 178.2h3.5" stroke="#40791d"/><path d="M259.5 178.2h3.5" stroke="#3d741b"/><path d="M262 178.2h3.5" stroke="#3a6f1a"/><path d="M264.5 178.2h3.5" stroke="#396c19"/><path d="M267 178.2h3.5" stroke="#396b19"/><path d="M269.5 178.2h3.5" stroke="#396a19"/><path d="M272 178.2h3.5" stroke="#466e1c"/><path d="M274.5 178.2h3.5" stroke="#5b7820"/><path d="M277 178.2h3.5" stroke="#657c22"/><path d="M279.5 178.2h3.5" stroke="#657c22"/><path d="M282 178.2h3.5" stroke="#617921"/><path d="M284.5 178.2h3.5" stroke="#607920"/><path d="M287 178.2h3.5" stroke="#647c21"/><path d="M289.5 178.2h3.5" stroke="#718523"/><path d="M292 178.2h3.5" stroke="#8b9627"/><path d="M294.5 178.2h3.5" stroke="#a4a82b"/><path d="M297 178.2h3.5" stroke="#b2b12d"/><path d="M299.5 178.2h3.5" stroke="#b9b52e"/><path d="M227 180.8h3.5" stroke="#3d741a"/><path d="M229.5 180.8h3.5" stroke="#3c741a"/><path d="M232 180.8h3.5" stroke="#3c741a"/><path d="M234.5 180.8h3.5" stroke="#3c751a"/><path d="M237 180.8h3.5" stroke="#3d761b"/><path d="M239.5 180.8h3.5" stroke="#3e781b"/><path d="M242 180.8h3.5" stroke="#3f7a1c"/><path d="M244.5 180.8h3.5" stroke="#3f791d"/><path d="M247 180.8h3.5" stroke="#3c761c"/><path d="M249.5 180.8h3.5" stroke="#3b741c"/><path d="M252 180.8h3.5" stroke="#3b741c"/><path d="M254.5 180.8h3.5" stroke="#3e761c"/><path d="M257 180.8h3.5" stroke="#3d751c"/><path d="M259.5 180.8h3.5" stroke="#3a701a"/><path d="M262 180.8h3.5" stroke="#376c19"/><path d="M264.5 180.8h3.5" stroke="#366a18"/><path d="M267 180.8h3.5" stroke="#346818"/><path d="M269.5 180.8h3.5" stroke="#316417"/><path d="M272 180.8h3.5" stroke="#336418"/><path d="M274.5 180.8h3.5" stroke="#3e691a"/><path d="M277 180.8h3.5" stroke="#4a6c1c"/><path d="M279.5 180.8h3.5" stroke="#4c6c1c"/><path d="M282 180.8h3.5" stroke="#506f1d"/><path d="M284.5 180.8h3.5" stroke="#58741f"/><path d="M287 180.8h3.5" stroke="#5b761f"/><path d="M289.5 180.8h3.5" stroke="#59741e"/><path d="M292 180.8h3.5" stroke="#526d1c"/><path d="M294.5 180.8h3.5" stroke="#496519"/><path d="M297 180.8h3.5" stroke="#456017"/><path d="M299.5 180.8h3.5" stroke="#476117"/><path d="M232 183.2h3.5" stroke="#3c741a"/><path d="M234.5 183.2h3.5" stroke="#3c741a"/><path d="M237 183.2h3.5" stroke="#3c751a"/><path d="M239.5 183.2h3.5" stroke="#3c751a"/><path d="M242 183.2h3.5" stroke="#3b731a"/><path d="M244.5 183.2h3.5" stroke="#326717"/><path d="M247 183.2h3.5" stroke="#2d6015"/><path d="M249.5 183.2h3.5" stroke="#2c5f15"/><path d="M252 183.2h3.5" stroke="#2c5f15"/><path d="M254.5 183.2h3.5" stroke="#2e6116"/><path d="M257 183.2h3.5" stroke="#346818"/><path d="M259.5 183.2h3.5" stroke="#366b18"/><path d="M262 183.2h3.5" stroke="#366a18"/><path d="M264.5 183.2h3.5" stroke="#356918"/><path d="M267 183.2h3.5" stroke="#326617"/><path d="M269.5 183.2h3.5" stroke="#2f6317"/><path d="M272 183.2h3.5" stroke="#2f6217"/><path d="M274.5 183.2h3.5" stroke="#2f6117"/><path d="M277 183.2h3.5" stroke="#2f5c16"/><path d="M279.5 183.2h3.5" stroke="#305b16"/><path d="M282 183.2h3.5" stroke="#386017"/><path d="M284.5 183.2h3.5" stroke="#47691b"/><path d="M287 183.2h3.5" stroke="#4d6b1c"/><path d="M289.5 183.2h3.5" stroke="#3f5f18"/><path d="M292 183.2h3.5" stroke="#2c4f13"/><path d="M294.5 183.2h3.5" stroke="#214510"/><path d="M297 183.2h3.5" stroke="#1d420f"/><path d="M299.5 183.2h3.5" stroke="#1c410e"/><path d="M234.5 185.8h3.5" stroke="#3c741a"/><path d="M237 185.8h3.5" stroke="#3c741a"/><path d="M239.5 185.8h3.5" stroke="#3b731a"/><path d="M242 185.8h3.5" stroke="#336817"/><path d="M244.5 185.8h3.5" stroke="#2b5e14"/><path d="M247 185.8h3.5" stroke="#2a5c14"/><path d="M249.5 185.8h3.5" stroke="#2a5c14"/><path d="M252 185.8h3.5" stroke="#295b14"/><path d="M254.5 185.8h3.5" stroke="#295a13"/><path d="M257 185.8h3.5" stroke="#2a5b14"/><path d="M259.5 185.8h3.5" stroke="#2f6116"/><path d="M262 185.8h3.5" stroke="#346717"/><path d="M264.5 185.8h3.5" stroke="#336718"/><path d="M267 185.8h3.5" stroke="#306417"/><path d="M269.5 185.8h3.5" stroke="#2e6217"/><path d="M272 185.8h3.5" stroke="#2e6117"/><path d="M274.5 185.8h3.5" stroke="#2c5e16"/><path d="M277 185.8h3.5" stroke="#295814"/><path d="M279.5 185.8h3.5" stroke="#285513"/><path d="M282 185.8h3.5" stroke="#2a5614"/><path d="M284.5 185.8h3.5" stroke="#305815"/><path d="M287 185.8h3.5" stroke="#305414"/><path d="M289.5 185.8h3.5" stroke="#254a11"/><path d="M292 185.8h3.5" stroke="#1e430f"/><path d="M294.5 185.8h3.5" stroke="#1b410e"/><path d="M297 185.8h3.5" stroke="#1a400e"/><path d="M299.5 185.8h3.5" stroke="#1a400e"/><path d="M239.5 188.2h3.5" stroke="#386e19"/><path d="M242 188.2h3.5" stroke="#2d6015"/><path d="M244.5 188.2h3.5" stroke="#2a5c14"/><path d="M247 188.2h3.5" stroke="#2a5c14"/><path d="M249.5 188.2h3.5" stroke="#2a5b14"/><path d="M252 188.2h3.5" stroke="#295a13"/><path d="M254.5 188.2h3.5" stroke="#285913"/><path d="M257 188.2h3.5" stroke="#285913"/><path d="M259.5 188.2h3.5" stroke="#295a13"/><path d="M262 188.2h3.5" stroke="#2c5d15"/><path d="M264.5 188.2h3.5" stroke="#2d5f16"/><path d="M267 188.2h3.5" stroke="#2d6016"/><path d="M269.5 188.2h3.5" stroke="#2d6117"/><path d="M272 188.2h3.5" stroke="#2d6016"/><path d="M274.5 188.2h3.5" stroke="#2a5c15"/><path d="M277 188.2h3.5" stroke="#265513"/><path d="M279.5 188.2h3.5" stroke="#255212"/><path d="M282 188.2h3.5" stroke="#234f12"/><path d="M284.5 188.2h3.5" stroke="#224c11"/><path d="M287 188.2h3.5" stroke="#1f4710"/><path d="M289.5 188.2h3.5" stroke="#1c430f"/><path d="M292 188.2h3.5" stroke="#1b410e"/><path d="M294.5 188.2h3.5" stroke="#1a400e"/><path d="M297 188.2h3.5" stroke="#1a400e"/><path d="M299.5 188.2h3.5" stroke="#1a400e"/><path d="M244.5 190.8h3.5" stroke="#2a5c14"/><path d="M247 190.8h3.5" stroke="#2a5b14"/><path d="M249.5 190.8h3.5" stroke="#295b14"/><path d="M252 190.8h3.5" stroke="#295913"/><path d="M254.5 190.8h3.5" stroke="#285913"/><path d="M257 190.8h3.5" stroke="#285813"/><path d="M259.5 190.8h3.5" stroke="#285813"/><path d="M262 190.8h3.5" stroke="#265513"/><path d="M264.5 190.8h3.5" stroke="#255412"/><path d="M267 190.8h3.5" stroke="#265513"/><path d="M269.5 190.8h3.5" stroke="#285814"/><path d="M272 190.8h3.5" stroke="#285914"/><path d="M274.5 190.8h3.5" stroke="#265413"/><path d="M277 190.8h3.5" stroke="#235012"/><path d="M279.5 190.8h3.5" stroke="#214c11"/><path d="M282 190.8h3.5" stroke="#1f4910"/><path d="M284.5 190.8h3.5" stroke="#1d460f"/><path d="M287 190.8h3.5" stroke="#1c440f"/><path d="M289.5 190.8h3.5" stroke="#1b430f"/><path d="M292 190.8h3.5" stroke="#1b420e"/><path d="M294.5 190.8h3.5" stroke="#1a410e"/><path d="M297 190.8h3.5" stroke="#1a400e"/><path d="M249.5 193.2h3.5" stroke="#295a14"/><path d="M252 193.2h3.5" stroke="#285913"/><path d="M254.5 193.2h3.5" stroke="#285813"/><path d="M257 193.2h3.5" stroke="#285813"/><path d="M259.5 193.2h3.5" stroke="#275613"/><path d="M262 193.2h3.5" stroke="#245312"/><path d="M264.5 193.2h3.5" stroke="#245212"/><path d="M267 193.2h3.5" stroke="#245212"/><path d="M269.5 193.2h3.5" stroke="#245212"/><path d="M272 193.2h3.5" stroke="#235112"/><path d="M274.5 193.2h3.5" stroke="#224f11"/><path d="M277 193.2h3.5" stroke="#214d11"/><path d="M279.5 193.2h3.5" stroke="#1f4a10"/><path d="M282 193.2h3.5" stroke="#1d470f"/><path d="M284.5 193.2h3.5" stroke="#1c450f"/><path d="M287 193.2h3.5" stroke="#1c440f"/><path d="M289.5 193.2h3.5" stroke="#1c440f"/><path d="M292 193.2h3.5" stroke="#1b430f"/><path d="M294.5 193.2h3.5" stroke="#1b420e"/><path d="M254.5 195.8h3.5" stroke="#285813"/><path d="M257 195.8h3.5" stroke="#285713"/><path d="M259.5 195.8h3.5" stroke="#255412"/><path d="M262 195.8h3.5" stroke="#245212"/><path d="M264.5 195.8h3.5" stroke="#245212"/><path d="M267 195.8h3.5" stroke="#245212"/><path d="M269.5 195.8h3.5" stroke="#245112"/><path d="M272 195.8h3.5" stroke="#234f11"/><path d="M274.5 195.8h3.5" stroke="#224e11"/><path d="M277 195.8h3.5" stroke="#214d11"/><path d="M279.5 195.8h3.5" stroke="#204b10"/><path d="M282 195.8h3.5" stroke="#1d470f"/><path d="M284.5 195.8h3.5" stroke="#1c450f"/><path d="M287 195.8h3.5" stroke="#1c440f"/><path d="M289.5 195.8h3.5" stroke="#1c440f"/><path d="M292 195.8h3.5" stroke="#1c440f"/><path d="M259.5 198.2h3.5" stroke="#245312"/><path d="M262 198.2h3.5" stroke="#245212"/><path d="M264.5 198.2h3.5" stroke="#245212"/><path d="M267 198.2h3.5" stroke="#245212"/><path d="M269.5 198.2h3.5" stroke="#245112"/><path d="M272 198.2h3.5" stroke="#234f11"/><path d="M274.5 198.2h3.5" stroke="#224e11"/><path d="M277 198.2h3.5" stroke="#224e11"/><path d="M279.5 198.2h3.5" stroke="#214c11"/><path d="M282 198.2h3.5" stroke="#1e4910"/><path d="M284.5 198.2h3.5" stroke="#1d460f"/><path d="M287 198.2h3.5" stroke="#1c440f"/><path d="M289.5 198.2h3.5" stroke="#1c440f"/><path d="M267 200.8h3.5" stroke="#245212"/><path d="M269.5 200.8h3.5" stroke="#245112"/><path d="M272 200.8h3.5" stroke="#234f11"/><path d="M274.5 200.8h3.5" stroke="#224e11"/><path d="M277 200.8h3.5" stroke="#224e11"/><path d="M279.5 200.8h3.5" stroke="#214d11"/><path d="M282 200.8h3.5" stroke="#204b10"/></g></g></g>
<path d="M268.8,154.8L270.0,155.5L271.2,156.2L272.5,156.9L273.8,157.6L275.0,158.2L276.2,158.8L277.5,159.4L278.8,159.9L280.0,160.5L281.2,161.0L282.5,161.6L283.8,162.1L285.0,162.6L286.2,163.1L287.5,163.5L288.8,163.9L290.0,164.2L291.2,164.6L292.5,164.8L293.8,165.1L295.0,165.3L296.2,165.5L297.5,165.6L298.8,165.7L300.0,165.8L301.2,165.8L302.5,165.8L303.8,165.8L305.0,165.7L306.2,165.6L307.5,165.5L308.8,165.3L310.0,165.0L311.2,164.7L312.5,164.3L313.8,163.9L315.0,163.4L316.2,162.9L317.5,162.4L318.8,161.8L320.0,161.2L321.3,160.6L322.6,160.0L323.9,159.3L325.2,158.6L326.5,157.8L327.7,157.1L328.9,156.3L330.0,155.5L331.0,154.7L331.9,153.9L332.8,153.1L333.7,152.2L334.5,151.4L335.3,150.5L336.1,149.5L337.0,148.5L337.9,147.4L338.9,146.3L339.8,145.1L340.8,143.9L341.7,142.7L342.7,141.5L343.7,140.2L344.6,139.0L345.5,137.8L346.5,136.5L347.4,135.3L348.3,134.0L349.2,132.7L350.2,131.5L351.1,130.2L352.0,129.0L352.9,127.8L353.8,126.6L354.7,125.3L355.6,124.1L356.5,122.9L357.4,121.8L358.3,120.6L359.2,119.5L360.1,118.4L361.0,117.3L361.9,116.3L362.8,115.3L363.8,114.3L364.7,113.3L365.6,112.4L366.5,111.5L367.4,110.7L368.3,109.9L369.3,109.1L370.2,108.4L371.1,107.7L372.1,107.0L373.0,106.3L373.9,105.6L374.8,104.8L375.7,104.1L376.6,103.3L377.4,102.5L378.3,101.7L379.2,100.9L380.1,100.2L381.0,99.5L381.9,98.8L382.8,98.2L383.8,97.5L384.7,96.9L385.7,96.3L386.6,95.7L387.6,95.1L388.5,94.6L389.4,94.1L390.4,93.6L391.3,93.2L392.3,92.8L393.2,92.4L394.2,92.0L395.1,91.6L396.0,91.3L396.9,91.0L397.8,90.7L398.6,90.5L399.5,90.2L400.3,90.0L401.2,89.8L402.1,89.7L403.1,89.5L404.1,89.3L405.2,89.2L406.3,89.1L407.4,89.0L408.6,88.9L409.7,88.8L410.8,88.8L411.9,88.8L412.9,88.8L414.0,88.9L415.0,89.0L416.0,89.2L417.0,89.4L418.0,89.6L419.0,89.8L420.0,90.0L421.0,90.2L422.0,90.5L423.0,90.8L424.0,91.1L425.0,91.5L426.0,91.8L427.0,92.2L428.0,92.6L429.0,93.0L429.9,93.4L430.8,93.8L431.8,94.3L432.7,94.7L433.7,95.2L434.7,95.8L435.7,96.4L436.8,97.1L437.9,97.8L439.0,98.6L440.2,99.4L441.3,100.2L442.5,101.1L443.6,101.9L444.8,102.8L445.9,103.7L447.1,104.5L448.3,105.4L449.4,106.3L450.6,107.3L451.7,108.2L452.9,109.1L454.0,110.0L455.1,110.9L456.3,111.8L457.4,112.8L458.5,113.7L459.6,114.6L460.7,115.6L461.9,116.5L463.0,117.4L464.1,118.3L465.3,119.2L466.4,120.1L467.6,121.1L468.7,122.0L469.9,122.9L471.1,123.8L472.2,124.7L473.4,125.6L474.5,126.6L475.7,127.5L476.9,128.5L478.0,129.4L479.2,130.3L480.2,131.2L481.3,132.0L482.3,132.8L483.3,133.5L484.3,134.2L485.2,134.8L486.1,135.4L487.0,136.1L487.8,136.8L488.6,137.5L489.4,138.3L490.1,139.0L490.8,139.8L491.5,140.6L492.2,141.5L492.8,142.3L493.4,143.1L494.0,144.0L494.6,144.9L495.1,145.8L495.7,146.7L496.2,147.6L496.6,148.5L497.1,149.4L497.5,150.3L497.8,151.2L498.1,152.1L498.3,153.1L498.5,154.1L498.6,155.1L498.8,156.1L498.8,156.9L498.9,157.7L499.0,158.2L498.7,157.9L498.3,157.5L497.9,157.0L497.4,156.4L496.9,155.9L496.3,155.2L495.6,154.6L495.0,154.0L494.3,153.4L493.6,152.7L492.8,152.0L492.0,151.3L491.2,150.5L490.3,149.8L489.5,149.1L488.6,148.5L487.7,147.9L486.8,147.3L485.8,146.7L484.9,146.1L483.9,145.5L483.0,145.0L482.1,144.5L481.3,144.0L480.5,143.5L479.7,143.1L478.9,142.7L478.1,142.3L477.4,142.0L476.7,141.7L476.2,141.4L475.8,141.2L475.1,140.7L474.2,140.1L473.1,139.3L471.9,138.5L470.6,137.6L469.3,136.7L468.0,135.7L466.7,134.8L465.4,133.9L464.1,132.9L462.7,131.8L461.4,130.8L460.0,129.7L458.6,128.6L457.2,127.6L455.8,126.6L454.4,125.6L453.1,124.7L451.7,123.7L450.3,122.8L448.9,121.9L447.6,121.0L446.2,120.1L444.8,119.3L443.4,118.5L442.0,117.7L440.7,117.0L439.3,116.2L437.9,115.6L436.5,114.9L435.2,114.3L433.8,113.8L432.4,113.3L431.1,112.9L429.7,112.5L428.3,112.1L427.0,111.8L425.6,111.6L424.3,111.4L422.9,111.4L421.5,111.4L420.2,111.6L418.8,111.8L417.5,112.1L416.1,112.5L414.7,112.9L413.4,113.3L412.0,113.8L410.6,114.3L409.2,114.9L407.8,115.6L406.3,116.3L404.9,117.0L403.6,117.8L402.2,118.5L401.0,119.3L399.8,120.1L398.5,121.0L397.3,121.9L396.2,122.8L395.1,123.7L394.1,124.5L393.3,125.2L392.7,125.7L392.1,126.4L391.3,127.3L390.4,128.4L389.4,129.6L388.3,130.9L387.2,132.1L386.1,133.4L385.0,134.5L383.9,135.5L382.8,136.6L381.7,137.6L380.5,138.6L379.4,139.5L378.2,140.5L377.1,141.5L376.0,142.5L374.9,143.5L373.9,144.4L372.8,145.3L371.8,146.2L370.8,147.2L369.7,148.2L368.7,149.2L367.6,150.3L366.5,151.5L365.4,152.7L364.3,154.0L363.2,155.4L362.1,156.7L361.0,158.1L359.9,159.5L358.8,160.8L357.7,162.1L356.6,163.5L355.5,164.8L354.4,166.2L353.3,167.5L352.2,168.8L351.1,170.1L350.0,171.3L348.9,172.5L347.8,173.7L346.7,174.8L345.7,176.0L344.6,177.1L343.5,178.1L342.4,179.1L341.3,180.0L340.2,180.8L339.1,181.6L338.0,182.4L336.9,183.0L335.8,183.7L334.7,184.2L333.6,184.8L332.5,185.3L331.4,185.8L330.3,186.2L329.2,186.6L328.2,186.9L327.1,187.2L326.0,187.5L324.9,187.8L323.8,188.0L322.7,188.2L321.6,188.4L320.5,188.5L319.4,188.6L318.3,188.7L317.2,188.8L316.1,188.8L315.0,188.8L313.9,188.8L312.8,188.7L311.7,188.6L310.6,188.5L309.5,188.4L308.4,188.3L307.4,188.1L306.3,188.0L305.2,187.8L304.0,187.6L302.8,187.4L301.6,187.2L300.5,187.0L299.5,186.8L298.6,186.6L298.0,186.5L297.6,186.3L297.1,186.0L296.5,185.7L295.8,185.4L295.0,185.0L294.3,184.7L293.6,184.3L293.0,184.0L292.5,183.7L292.0,183.5L291.5,183.3L291.0,183.0L290.5,182.8L290.0,182.5L289.4,182.2L288.8,181.8L288.1,181.3L287.3,180.8L286.4,180.2L285.5,179.6L284.6,178.9L283.7,178.3L282.8,177.6L282.0,177.0L281.2,176.4L280.4,175.8L279.6,175.2L278.9,174.5L278.1,173.9L277.4,173.3L276.7,172.7L276.0,172.0L275.3,171.3L274.6,170.5L273.8,169.7L273.1,168.9L272.5,168.2L271.9,167.5L271.4,166.9L271.0,166.5Z" fill="#8a8440"/>
<g clip-path="url(#cpF2)"><g filter="url(#bl1)"><g fill="none" stroke-width="3.5"><path d="M396.5 88.2h3.5" stroke="#5f5956"/><path d="M399 88.2h3.5" stroke="#645f5c"/><path d="M401.5 88.2h3.5" stroke="#676260"/><path d="M404 88.2h3.5" stroke="#6a6563"/><path d="M406.5 88.2h3.5" stroke="#716c69"/><path d="M409 88.2h3.5" stroke="#7b7571"/><path d="M411.5 88.2h3.5" stroke="#817b77"/><path d="M414 88.2h3.5" stroke="#867e7a"/><path d="M416.5 88.2h3.5" stroke="#8b817d"/><path d="M419 88.2h3.5" stroke="#908581"/><path d="M389 90.8h3.5" stroke="#59534f"/><path d="M391.5 90.8h3.5" stroke="#59534f"/><path d="M394 90.8h3.5" stroke="#5b5551"/><path d="M396.5 90.8h3.5" stroke="#5e5855"/><path d="M399 90.8h3.5" stroke="#635e5a"/><path d="M401.5 90.8h3.5" stroke="#67625f"/><path d="M404 90.8h3.5" stroke="#6a6562"/><path d="M406.5 90.8h3.5" stroke="#716b67"/><path d="M409 90.8h3.5" stroke="#79736f"/><path d="M411.5 90.8h3.5" stroke="#817a76"/><path d="M414 90.8h3.5" stroke="#877e7a"/><path d="M416.5 90.8h3.5" stroke="#8c827e"/><path d="M419 90.8h3.5" stroke="#908581"/><path d="M421.5 90.8h3.5" stroke="#948783"/><path d="M424 90.8h3.5" stroke="#988a84"/><path d="M426.5 90.8h3.5" stroke="#9f8d86"/><path d="M384 93.2h3.5" stroke="#5c5652"/><path d="M386.5 93.2h3.5" stroke="#5b5551"/><path d="M389 93.2h3.5" stroke="#5a5450"/><path d="M391.5 93.2h3.5" stroke="#5a5450"/><path d="M394 93.2h3.5" stroke="#5b5551"/><path d="M396.5 93.2h3.5" stroke="#5e5854"/><path d="M399 93.2h3.5" stroke="#625c59"/><path d="M401.5 93.2h3.5" stroke="#66615e"/><path d="M404 93.2h3.5" stroke="#6b6662"/><path d="M406.5 93.2h3.5" stroke="#706b67"/><path d="M409 93.2h3.5" stroke="#78726e"/><path d="M411.5 93.2h3.5" stroke="#817a76"/><path d="M414 93.2h3.5" stroke="#887f7b"/><path d="M416.5 93.2h3.5" stroke="#8d827e"/><path d="M419 93.2h3.5" stroke="#918581"/><path d="M421.5 93.2h3.5" stroke="#968883"/><path d="M424 93.2h3.5" stroke="#9c8b84"/><path d="M426.5 93.2h3.5" stroke="#a28e86"/><path d="M429 93.2h3.5" stroke="#a79288"/><path d="M431.5 93.2h3.5" stroke="#ab9489"/><path d="M381.5 95.8h3.5" stroke="#5a5450"/><path d="M384 95.8h3.5" stroke="#5b5551"/><path d="M386.5 95.8h3.5" stroke="#5c5652"/><path d="M389 95.8h3.5" stroke="#5b5551"/><path d="M391.5 95.8h3.5" stroke="#5b5551"/><path d="M394 95.8h3.5" stroke="#5c5652"/><path d="M396.5 95.8h3.5" stroke="#5e5854"/><path d="M399 95.8h3.5" stroke="#615b58"/><path d="M401.5 95.8h3.5" stroke="#66615d"/><path d="M404 95.8h3.5" stroke="#6e6864"/><path d="M406.5 95.8h3.5" stroke="#746d69"/><path d="M409 95.8h3.5" stroke="#7b736f"/><path d="M411.5 95.8h3.5" stroke="#837b76"/><path d="M414 95.8h3.5" stroke="#8b817c"/><path d="M416.5 95.8h3.5" stroke="#908480"/><path d="M419 95.8h3.5" stroke="#948782"/><path d="M421.5 95.8h3.5" stroke="#998983"/><path d="M424 95.8h3.5" stroke="#9e8c85"/><path d="M426.5 95.8h3.5" stroke="#a38f86"/><path d="M429 95.8h3.5" stroke="#a89288"/><path d="M431.5 95.8h3.5" stroke="#ac9589"/><path d="M434 95.8h3.5" stroke="#b0968a"/><path d="M436.5 95.8h3.5" stroke="#b3988a"/><path d="M379 98.2h3.5" stroke="#534d49"/><path d="M381.5 98.2h3.5" stroke="#57514d"/><path d="M384 98.2h3.5" stroke="#5b5551"/><path d="M386.5 98.2h3.5" stroke="#5c5652"/><path d="M389 98.2h3.5" stroke="#5c5652"/><path d="M391.5 98.2h3.5" stroke="#5c5652"/><path d="M394 98.2h3.5" stroke="#5e5854"/><path d="M396.5 98.2h3.5" stroke="#615a56"/><path d="M399 98.2h3.5" stroke="#645c59"/><path d="M401.5 98.2h3.5" stroke="#6a635f"/><path d="M404 98.2h3.5" stroke="#786f6b"/><path d="M406.5 98.2h3.5" stroke="#807671"/><path d="M409 98.2h3.5" stroke="#847a74"/><path d="M411.5 98.2h3.5" stroke="#897e79"/><path d="M414 98.2h3.5" stroke="#90847f"/><path d="M416.5 98.2h3.5" stroke="#948782"/><path d="M419 98.2h3.5" stroke="#978983"/><path d="M421.5 98.2h3.5" stroke="#9b8b84"/><path d="M424 98.2h3.5" stroke="#a08d85"/><path d="M426.5 98.2h3.5" stroke="#a59086"/><path d="M429 98.2h3.5" stroke="#aa9388"/><path d="M431.5 98.2h3.5" stroke="#af9689"/><path d="M434 98.2h3.5" stroke="#b3988a"/><path d="M436.5 98.2h3.5" stroke="#b6998a"/><path d="M439 98.2h3.5" stroke="#b79a8a"/><path d="M374 100.8h3.5" stroke="#524c48"/><path d="M376.5 100.8h3.5" stroke="#524c48"/><path d="M379 100.8h3.5" stroke="#524c48"/><path d="M381.5 100.8h3.5" stroke="#544e4a"/><path d="M384 100.8h3.5" stroke="#59534f"/><path d="M386.5 100.8h3.5" stroke="#5b5551"/><path d="M389 100.8h3.5" stroke="#5c5652"/><path d="M391.5 100.8h3.5" stroke="#5f5854"/><path d="M394 100.8h3.5" stroke="#645c58"/><path d="M396.5 100.8h3.5" stroke="#675e5a"/><path d="M399 100.8h3.5" stroke="#69605c"/><path d="M401.5 100.8h3.5" stroke="#706662"/><path d="M404 100.8h3.5" stroke="#7f746f"/><path d="M406.5 100.8h3.5" stroke="#877b76"/><path d="M409 100.8h3.5" stroke="#897d78"/><path d="M411.5 100.8h3.5" stroke="#8d807a"/><path d="M414 100.8h3.5" stroke="#948780"/><path d="M416.5 100.8h3.5" stroke="#988983"/><path d="M419 100.8h3.5" stroke="#998a84"/><path d="M421.5 100.8h3.5" stroke="#9c8b84"/><path d="M424 100.8h3.5" stroke="#a28e85"/><path d="M426.5 100.8h3.5" stroke="#a89286"/><path d="M429 100.8h3.5" stroke="#ad9487"/><path d="M431.5 100.8h3.5" stroke="#b19789"/><path d="M434 100.8h3.5" stroke="#b59889"/><path d="M436.5 100.8h3.5" stroke="#b79a8a"/><path d="M439 100.8h3.5" stroke="#ba9b8a"/><path d="M441.5 100.8h3.5" stroke="#c09e8a"/><path d="M444 100.8h3.5" stroke="#c4a08a"/><path d="M371.5 103.2h3.5" stroke="#4d4742"/><path d="M374 103.2h3.5" stroke="#514b46"/><path d="M376.5 103.2h3.5" stroke="#524c48"/><path d="M379 103.2h3.5" stroke="#524c48"/><path d="M381.5 103.2h3.5" stroke="#534d49"/><path d="M384 103.2h3.5" stroke="#56504c"/><path d="M386.5 103.2h3.5" stroke="#5a5450"/><path d="M389 103.2h3.5" stroke="#5e5753"/><path d="M391.5 103.2h3.5" stroke="#655d58"/><path d="M394 103.2h3.5" stroke="#695f5b"/><path d="M396.5 103.2h3.5" stroke="#6a605c"/><path d="M399 103.2h3.5" stroke="#6c625e"/><path d="M401.5 103.2h3.5" stroke="#726762"/><path d="M404 103.2h3.5" stroke="#7e726c"/><path d="M406.5 103.2h3.5" stroke="#877b75"/><path d="M409 103.2h3.5" stroke="#8b7e78"/><path d="M411.5 103.2h3.5" stroke="#91837d"/><path d="M414 103.2h3.5" stroke="#998982"/><path d="M416.5 103.2h3.5" stroke="#9b8b84"/><path d="M419 103.2h3.5" stroke="#9b8c84"/><path d="M421.5 103.2h3.5" stroke="#9f8d84"/><path d="M424 103.2h3.5" stroke="#a69184"/><path d="M426.5 103.2h3.5" stroke="#aa9385"/><path d="M429 103.2h3.5" stroke="#ad9486"/><path d="M431.5 103.2h3.5" stroke="#b09687"/><path d="M434 103.2h3.5" stroke="#b59888"/><path d="M436.5 103.2h3.5" stroke="#b99a88"/><path d="M439 103.2h3.5" stroke="#be9d88"/><path d="M441.5 103.2h3.5" stroke="#c29f89"/><path d="M444 103.2h3.5" stroke="#c4a18a"/><path d="M446.5 103.2h3.5" stroke="#c5a18b"/><path d="M369 105.8h3.5" stroke="#4a443e"/><path d="M371.5 105.8h3.5" stroke="#4b453f"/><path d="M374 105.8h3.5" stroke="#4e4843"/><path d="M376.5 105.8h3.5" stroke="#514b47"/><path d="M379 105.8h3.5" stroke="#524c48"/><path d="M381.5 105.8h3.5" stroke="#534c48"/><path d="M384 105.8h3.5" stroke="#554e4a"/><path d="M386.5 105.8h3.5" stroke="#5c534f"/><path d="M389 105.8h3.5" stroke="#655a55"/><path d="M391.5 105.8h3.5" stroke="#695e59"/><path d="M394 105.8h3.5" stroke="#6b605c"/><path d="M396.5 105.8h3.5" stroke="#6c625d"/><path d="M399 105.8h3.5" stroke="#6f6460"/><path d="M401.5 105.8h3.5" stroke="#756964"/><path d="M404 105.8h3.5" stroke="#7c6f6a"/><path d="M406.5 105.8h3.5" stroke="#837670"/><path d="M409 105.8h3.5" stroke="#8c7e78"/><path d="M411.5 105.8h3.5" stroke="#978880"/><path d="M414 105.8h3.5" stroke="#9d8c85"/><path d="M416.5 105.8h3.5" stroke="#9e8d85"/><path d="M419 105.8h3.5" stroke="#9f8d84"/><path d="M421.5 105.8h3.5" stroke="#a48f82"/><path d="M424 105.8h3.5" stroke="#a89181"/><path d="M426.5 105.8h3.5" stroke="#aa9283"/><path d="M429 105.8h3.5" stroke="#ac9384"/><path d="M431.5 105.8h3.5" stroke="#af9584"/><path d="M434 105.8h3.5" stroke="#b59883"/><path d="M436.5 105.8h3.5" stroke="#bb9b84"/><path d="M439 105.8h3.5" stroke="#bf9e87"/><path d="M441.5 105.8h3.5" stroke="#c3a089"/><path d="M444 105.8h3.5" stroke="#c5a18a"/><path d="M446.5 105.8h3.5" stroke="#c6a28b"/><path d="M449 105.8h3.5" stroke="#c7a38b"/><path d="M366.5 108.2h3.5" stroke="#4a443e"/><path d="M369 108.2h3.5" stroke="#4a443e"/><path d="M371.5 108.2h3.5" stroke="#4a443e"/><path d="M374 108.2h3.5" stroke="#4c4540"/><path d="M376.5 108.2h3.5" stroke="#504944"/><path d="M379 108.2h3.5" stroke="#544c47"/><path d="M381.5 108.2h3.5" stroke="#574e48"/><path d="M384 108.2h3.5" stroke="#5b5049"/><path d="M386.5 108.2h3.5" stroke="#62554f"/><path d="M389 108.2h3.5" stroke="#685a54"/><path d="M391.5 108.2h3.5" stroke="#6a5c56"/><path d="M394 108.2h3.5" stroke="#6b5f59"/><path d="M396.5 108.2h3.5" stroke="#6f635e"/><path d="M399 108.2h3.5" stroke="#746863"/><path d="M401.5 108.2h3.5" stroke="#796c67"/><path d="M404 108.2h3.5" stroke="#7d6f69"/><path d="M406.5 108.2h3.5" stroke="#80726c"/><path d="M409 108.2h3.5" stroke="#8c7d76"/><path d="M411.5 108.2h3.5" stroke="#9c8b83"/><path d="M414 108.2h3.5" stroke="#9f8d86"/><path d="M416.5 108.2h3.5" stroke="#a08e86"/><path d="M419 108.2h3.5" stroke="#a28e84"/><path d="M421.5 108.2h3.5" stroke="#a69080"/><path d="M424 108.2h3.5" stroke="#a89180"/><path d="M426.5 108.2h3.5" stroke="#a99180"/><path d="M429 108.2h3.5" stroke="#ab9280"/><path d="M431.5 108.2h3.5" stroke="#af937c"/><path d="M434 108.2h3.5" stroke="#b5967b"/><path d="M436.5 108.2h3.5" stroke="#ba9a80"/><path d="M439 108.2h3.5" stroke="#be9d84"/><path d="M441.5 108.2h3.5" stroke="#c29f88"/><path d="M444 108.2h3.5" stroke="#c5a18a"/><path d="M446.5 108.2h3.5" stroke="#c6a28b"/><path d="M449 108.2h3.5" stroke="#c7a38b"/><path d="M451.5 108.2h3.5" stroke="#c8a38a"/><path d="M454 108.2h3.5" stroke="#c8a489"/><path d="M364 110.8h3.5" stroke="#49433d"/><path d="M366.5 110.8h3.5" stroke="#4a443e"/><path d="M369 110.8h3.5" stroke="#4a443e"/><path d="M371.5 110.8h3.5" stroke="#4a443e"/><path d="M374 110.8h3.5" stroke="#4b453f"/><path d="M376.5 110.8h3.5" stroke="#524943"/><path d="M379 110.8h3.5" stroke="#5a4f47"/><path d="M381.5 110.8h3.5" stroke="#5c5048"/><path d="M384 110.8h3.5" stroke="#5d5149"/><path d="M386.5 110.8h3.5" stroke="#62554e"/><path d="M389 110.8h3.5" stroke="#685a54"/><path d="M391.5 110.8h3.5" stroke="#6b5d56"/><path d="M394 110.8h3.5" stroke="#6d5e58"/><path d="M396.5 110.8h3.5" stroke="#70635c"/><path d="M399 110.8h3.5" stroke="#786a64"/><path d="M401.5 110.8h3.5" stroke="#7c6e68"/><path d="M404 110.8h3.5" stroke="#7d706a"/><path d="M406.5 110.8h3.5" stroke="#7f716b"/><path d="M409 110.8h3.5" stroke="#897a74"/><path d="M411.5 110.8h3.5" stroke="#9c8b83"/><path d="M414 110.8h3.5" stroke="#a08e86"/><path d="M416.5 110.8h3.5" stroke="#a08e85"/><path d="M419 110.8h3.5" stroke="#a38f83"/><path d="M421.5 110.8h3.5" stroke="#a79080"/><path d="M424 110.8h3.5" stroke="#a8907f"/><path d="M426.5 110.8h3.5" stroke="#a9907e"/><path d="M429 110.8h3.5" stroke="#ac9179"/><path d="M431.5 110.8h3.5" stroke="#b09274"/><path d="M434 110.8h3.5" stroke="#b49475"/><path d="M436.5 110.8h3.5" stroke="#b8987b"/><path d="M439 110.8h3.5" stroke="#bc9b81"/><path d="M441.5 110.8h3.5" stroke="#c19e86"/><path d="M444 110.8h3.5" stroke="#c4a188"/><path d="M446.5 110.8h3.5" stroke="#c6a289"/><path d="M449 110.8h3.5" stroke="#c7a389"/><path d="M451.5 110.8h3.5" stroke="#c8a388"/><path d="M454 110.8h3.5" stroke="#c9a488"/><path d="M456.5 110.8h3.5" stroke="#caa588"/><path d="M361.5 113.2h3.5" stroke="#463e38"/><path d="M364 113.2h3.5" stroke="#48403a"/><path d="M366.5 113.2h3.5" stroke="#4a433d"/><path d="M369 113.2h3.5" stroke="#4b443e"/><path d="M371.5 113.2h3.5" stroke="#4c453f"/><path d="M374 113.2h3.5" stroke="#514841"/><path d="M376.5 113.2h3.5" stroke="#584d46"/><path d="M379 113.2h3.5" stroke="#5c5048"/><path d="M381.5 113.2h3.5" stroke="#5c5048"/><path d="M384 113.2h3.5" stroke="#5d5149"/><path d="M386.5 113.2h3.5" stroke="#62554d"/><path d="M389 113.2h3.5" stroke="#695b54"/><path d="M391.5 113.2h3.5" stroke="#6d5e58"/><path d="M394 113.2h3.5" stroke="#6f6059"/><path d="M396.5 113.2h3.5" stroke="#71625b"/><path d="M399 113.2h3.5" stroke="#776862"/><path d="M401.5 113.2h3.5" stroke="#7c6e68"/><path d="M404 113.2h3.5" stroke="#7e706a"/><path d="M406.5 113.2h3.5" stroke="#7f716a"/><path d="M409 113.2h3.5" stroke="#877871"/><path d="M411.5 113.2h3.5" stroke="#9b8a82"/><path d="M414 113.2h3.5" stroke="#a08e86"/><path d="M416.5 113.2h3.5" stroke="#a18e85"/><path d="M419 113.2h3.5" stroke="#a38f83"/><path d="M421.5 113.2h3.5" stroke="#a7907f"/><path d="M424 113.2h3.5" stroke="#a8907e"/><path d="M426.5 113.2h3.5" stroke="#a9907b"/><path d="M429 113.2h3.5" stroke="#ad9074"/><path d="M431.5 113.2h3.5" stroke="#b0916f"/><path d="M434 113.2h3.5" stroke="#b39371"/><path d="M436.5 113.2h3.5" stroke="#b69576"/><path d="M439 113.2h3.5" stroke="#ba997c"/><path d="M441.5 113.2h3.5" stroke="#be9d80"/><path d="M444 113.2h3.5" stroke="#c29f81"/><path d="M446.5 113.2h3.5" stroke="#c4a083"/><path d="M449 113.2h3.5" stroke="#c6a285"/><path d="M451.5 113.2h3.5" stroke="#c7a387"/><path d="M454 113.2h3.5" stroke="#c9a487"/><path d="M456.5 113.2h3.5" stroke="#caa688"/><path d="M459 113.2h3.5" stroke="#cba787"/><path d="M359 115.8h3.5" stroke="#463e38"/><path d="M361.5 115.8h3.5" stroke="#463e38"/><path d="M364 115.8h3.5" stroke="#463f39"/><path d="M366.5 115.8h3.5" stroke="#49413b"/><path d="M369 115.8h3.5" stroke="#504740"/><path d="M371.5 115.8h3.5" stroke="#554b44"/><path d="M374 115.8h3.5" stroke="#584d45"/><path d="M376.5 115.8h3.5" stroke="#5a4e46"/><path d="M379 115.8h3.5" stroke="#5b4f47"/><path d="M381.5 115.8h3.5" stroke="#5c5048"/><path d="M384 115.8h3.5" stroke="#5d5149"/><path d="M386.5 115.8h3.5" stroke="#62554d"/><path d="M389 115.8h3.5" stroke="#6b5d55"/><path d="M391.5 115.8h3.5" stroke="#706159"/><path d="M394 115.8h3.5" stroke="#72625b"/><path d="M396.5 115.8h3.5" stroke="#73645c"/><path d="M399 115.8h3.5" stroke="#76665f"/><path d="M401.5 115.8h3.5" stroke="#7a6c65"/><path d="M404 115.8h3.5" stroke="#7d6f69"/><path d="M406.5 115.8h3.5" stroke="#7e706a"/><path d="M409 115.8h3.5" stroke="#857670"/><path d="M411.5 115.8h3.5" stroke="#9a8981"/><path d="M431.5 115.8h3.5" stroke="#b0916e"/><path d="M434 115.8h3.5" stroke="#b2926f"/><path d="M436.5 115.8h3.5" stroke="#b49472"/><path d="M439 115.8h3.5" stroke="#b89775"/><path d="M441.5 115.8h3.5" stroke="#bb9a76"/><path d="M444 115.8h3.5" stroke="#be9c78"/><path d="M446.5 115.8h3.5" stroke="#c19e7d"/><path d="M449 115.8h3.5" stroke="#c4a182"/><path d="M451.5 115.8h3.5" stroke="#c7a386"/><path d="M454 115.8h3.5" stroke="#c9a587"/><path d="M456.5 115.8h3.5" stroke="#cba687"/><path d="M459 115.8h3.5" stroke="#cba786"/><path d="M461.5 115.8h3.5" stroke="#cca784"/><path d="M356.5 118.2h3.5" stroke="#463e38"/><path d="M359 118.2h3.5" stroke="#463e38"/><path d="M361.5 118.2h3.5" stroke="#463e38"/><path d="M364 118.2h3.5" stroke="#473f38"/><path d="M366.5 118.2h3.5" stroke="#4b423b"/><path d="M369 118.2h3.5" stroke="#564b43"/><path d="M371.5 118.2h3.5" stroke="#594e46"/><path d="M374 118.2h3.5" stroke="#5a4e46"/><path d="M376.5 118.2h3.5" stroke="#5a4e46"/><path d="M379 118.2h3.5" stroke="#5b4f47"/><path d="M381.5 118.2h3.5" stroke="#5c5048"/><path d="M384 118.2h3.5" stroke="#5e5149"/><path d="M386.5 118.2h3.5" stroke="#64564e"/><path d="M389 118.2h3.5" stroke="#6e5f57"/><path d="M391.5 118.2h3.5" stroke="#73625b"/><path d="M394 118.2h3.5" stroke="#74645c"/><path d="M396.5 118.2h3.5" stroke="#75655d"/><path d="M399 118.2h3.5" stroke="#76665e"/><path d="M401.5 118.2h3.5" stroke="#786861"/><path d="M404 118.2h3.5" stroke="#7c6d67"/><path d="M436.5 118.2h3.5" stroke="#b3936f"/><path d="M439 118.2h3.5" stroke="#b79770"/><path d="M441.5 118.2h3.5" stroke="#ba9970"/><path d="M444 118.2h3.5" stroke="#bc9a73"/><path d="M446.5 118.2h3.5" stroke="#bf9d79"/><path d="M449 118.2h3.5" stroke="#c3a07f"/><path d="M451.5 118.2h3.5" stroke="#c6a383"/><path d="M454 118.2h3.5" stroke="#c9a584"/><path d="M456.5 118.2h3.5" stroke="#caa684"/><path d="M459 118.2h3.5" stroke="#cba683"/><path d="M461.5 118.2h3.5" stroke="#cba681"/><path d="M464 118.2h3.5" stroke="#cca680"/><path d="M466.5 118.2h3.5" stroke="#cda77f"/><path d="M354 120.8h3.5" stroke="#463e37"/><path d="M356.5 120.8h3.5" stroke="#463e38"/><path d="M359 120.8h3.5" stroke="#463e38"/><path d="M361.5 120.8h3.5" stroke="#473f39"/><path d="M364 120.8h3.5" stroke="#49413a"/><path d="M366.5 120.8h3.5" stroke="#4f453d"/><path d="M369 120.8h3.5" stroke="#574c44"/><path d="M371.5 120.8h3.5" stroke="#5a4e46"/><path d="M374 120.8h3.5" stroke="#5a4e46"/><path d="M376.5 120.8h3.5" stroke="#5a4e46"/><path d="M379 120.8h3.5" stroke="#5b4f47"/><path d="M381.5 120.8h3.5" stroke="#5e5148"/><path d="M384 120.8h3.5" stroke="#64554c"/><path d="M386.5 120.8h3.5" stroke="#6c5b51"/><path d="M389 120.8h3.5" stroke="#726056"/><path d="M391.5 120.8h3.5" stroke="#746259"/><path d="M394 120.8h3.5" stroke="#75635b"/><path d="M396.5 120.8h3.5" stroke="#76645c"/><path d="M399 120.8h3.5" stroke="#77655d"/><path d="M401.5 120.8h3.5" stroke="#77665e"/><path d="M441.5 120.8h3.5" stroke="#b9996e"/><path d="M444 120.8h3.5" stroke="#ba9a71"/><path d="M446.5 120.8h3.5" stroke="#bd9b75"/><path d="M449 120.8h3.5" stroke="#c19f7b"/><path d="M451.5 120.8h3.5" stroke="#c4a27c"/><path d="M454 120.8h3.5" stroke="#c6a47d"/><path d="M456.5 120.8h3.5" stroke="#c8a57e"/><path d="M459 120.8h3.5" stroke="#caa57f"/><path d="M461.5 120.8h3.5" stroke="#cba67f"/><path d="M464 120.8h3.5" stroke="#cca77f"/><path d="M466.5 120.8h3.5" stroke="#cea87d"/><path d="M469 120.8h3.5" stroke="#cfa97b"/><path d="M351.5 123.2h3.5" stroke="#463e36"/><path d="M354 123.2h3.5" stroke="#463e36"/><path d="M356.5 123.2h3.5" stroke="#463e37"/><path d="M359 123.2h3.5" stroke="#484039"/><path d="M361.5 123.2h3.5" stroke="#4c423b"/><path d="M364 123.2h3.5" stroke="#50463d"/><path d="M366.5 123.2h3.5" stroke="#53483f"/><path d="M369 123.2h3.5" stroke="#564b42"/><path d="M371.5 123.2h3.5" stroke="#594d45"/><path d="M374 123.2h3.5" stroke="#5a4e46"/><path d="M376.5 123.2h3.5" stroke="#5b4e46"/><path d="M379 123.2h3.5" stroke="#5d5046"/><path d="M381.5 123.2h3.5" stroke="#645449"/><path d="M384 123.2h3.5" stroke="#6a594e"/><path d="M386.5 123.2h3.5" stroke="#6e5c52"/><path d="M389 123.2h3.5" stroke="#715f55"/><path d="M391.5 123.2h3.5" stroke="#746057"/><path d="M394 123.2h3.5" stroke="#756258"/><path d="M396.5 123.2h3.5" stroke="#766359"/><path d="M446.5 123.2h3.5" stroke="#bc9b72"/><path d="M449 123.2h3.5" stroke="#be9e72"/><path d="M451.5 123.2h3.5" stroke="#c0a072"/><path d="M454 123.2h3.5" stroke="#c2a175"/><path d="M456.5 123.2h3.5" stroke="#c5a379"/><path d="M459 123.2h3.5" stroke="#c8a47c"/><path d="M461.5 123.2h3.5" stroke="#cba67d"/><path d="M464 123.2h3.5" stroke="#cda77d"/><path d="M466.5 123.2h3.5" stroke="#cea97b"/><path d="M469 123.2h3.5" stroke="#cfaa79"/><path d="M471.5 123.2h3.5" stroke="#d0ab76"/><path d="M351.5 125.8h3.5" stroke="#463e36"/><path d="M354 125.8h3.5" stroke="#463e36"/><path d="M356.5 125.8h3.5" stroke="#473f37"/><path d="M359 125.8h3.5" stroke="#4c423a"/><path d="M361.5 125.8h3.5" stroke="#52473e"/><path d="M364 125.8h3.5" stroke="#53493f"/><path d="M366.5 125.8h3.5" stroke="#54493f"/><path d="M369 125.8h3.5" stroke="#554a40"/><path d="M371.5 125.8h3.5" stroke="#574b42"/><path d="M374 125.8h3.5" stroke="#5a4e45"/><path d="M376.5 125.8h3.5" stroke="#5d4f45"/><path d="M379 125.8h3.5" stroke="#625246"/><path d="M381.5 125.8h3.5" stroke="#675548"/><path d="M384 125.8h3.5" stroke="#6a584c"/><path d="M386.5 125.8h3.5" stroke="#6d5b50"/><path d="M389 125.8h3.5" stroke="#705d53"/><path d="M391.5 125.8h3.5" stroke="#725f55"/><path d="M394 125.8h3.5" stroke="#746157"/><path d="M449 125.8h3.5" stroke="#bd9e6d"/><path d="M451.5 125.8h3.5" stroke="#be9f6e"/><path d="M454 125.8h3.5" stroke="#c0a071"/><path d="M456.5 125.8h3.5" stroke="#c3a275"/><path d="M459 125.8h3.5" stroke="#c7a479"/><path d="M461.5 125.8h3.5" stroke="#caa67a"/><path d="M464 125.8h3.5" stroke="#cda879"/><path d="M466.5 125.8h3.5" stroke="#cea977"/><path d="M469 125.8h3.5" stroke="#cfaa75"/><path d="M471.5 125.8h3.5" stroke="#cfab73"/><path d="M474 125.8h3.5" stroke="#d0ab71"/><path d="M349 128.2h3.5" stroke="#463e36"/><path d="M351.5 128.2h3.5" stroke="#463e36"/><path d="M354 128.2h3.5" stroke="#473f36"/><path d="M356.5 128.2h3.5" stroke="#484037"/><path d="M359 128.2h3.5" stroke="#4e443b"/><path d="M361.5 128.2h3.5" stroke="#53483f"/><path d="M364 128.2h3.5" stroke="#54493f"/><path d="M366.5 128.2h3.5" stroke="#54493f"/><path d="M369 128.2h3.5" stroke="#54493f"/><path d="M371.5 128.2h3.5" stroke="#564b40"/><path d="M374 128.2h3.5" stroke="#5c4e41"/><path d="M376.5 128.2h3.5" stroke="#605042"/><path d="M379 128.2h3.5" stroke="#645244"/><path d="M381.5 128.2h3.5" stroke="#665446"/><path d="M384 128.2h3.5" stroke="#685649"/><path d="M386.5 128.2h3.5" stroke="#6b594d"/><path d="M389 128.2h3.5" stroke="#6e5c51"/><path d="M391.5 128.2h3.5" stroke="#715e54"/><path d="M454 128.2h3.5" stroke="#bfa06f"/><path d="M456.5 128.2h3.5" stroke="#c2a172"/><path d="M459 128.2h3.5" stroke="#c6a374"/><path d="M461.5 128.2h3.5" stroke="#c8a672"/><path d="M464 128.2h3.5" stroke="#caa871"/><path d="M466.5 128.2h3.5" stroke="#cca971"/><path d="M469 128.2h3.5" stroke="#ceaa71"/><path d="M471.5 128.2h3.5" stroke="#cfab70"/><path d="M474 128.2h3.5" stroke="#cfab6f"/><path d="M476.5 128.2h3.5" stroke="#cfad6b"/><path d="M479 128.2h3.5" stroke="#d0b05e"/><path d="M346.5 130.8h3.5" stroke="#484037"/><path d="M349 130.8h3.5" stroke="#473f36"/><path d="M351.5 130.8h3.5" stroke="#473f37"/><path d="M354 130.8h3.5" stroke="#4a4138"/><path d="M356.5 130.8h3.5" stroke="#4e443a"/><path d="M359 130.8h3.5" stroke="#53483d"/><path d="M361.5 130.8h3.5" stroke="#55493f"/><path d="M364 130.8h3.5" stroke="#54493f"/><path d="M366.5 130.8h3.5" stroke="#54493f"/><path d="M369 130.8h3.5" stroke="#554a3f"/><path d="M371.5 130.8h3.5" stroke="#594c3e"/><path d="M374 130.8h3.5" stroke="#5d4e3e"/><path d="M376.5 130.8h3.5" stroke="#604f40"/><path d="M379 130.8h3.5" stroke="#625142"/><path d="M381.5 130.8h3.5" stroke="#645244"/><path d="M384 130.8h3.5" stroke="#665446"/><path d="M386.5 130.8h3.5" stroke="#69574a"/><path d="M389 130.8h3.5" stroke="#6c5a4f"/><path d="M456.5 130.8h3.5" stroke="#c1a16e"/><path d="M459 130.8h3.5" stroke="#c3a46a"/><path d="M461.5 130.8h3.5" stroke="#c5a566"/><path d="M464 130.8h3.5" stroke="#c7a767"/><path d="M466.5 130.8h3.5" stroke="#caa86b"/><path d="M469 130.8h3.5" stroke="#cca96d"/><path d="M471.5 130.8h3.5" stroke="#ceaa6d"/><path d="M474 130.8h3.5" stroke="#ceac6b"/><path d="M476.5 130.8h3.5" stroke="#cfaf60"/><path d="M479 130.8h3.5" stroke="#cfb353"/><path d="M481.5 130.8h3.5" stroke="#d0b450"/><path d="M344 133.2h3.5" stroke="#4e463a"/><path d="M346.5 133.2h3.5" stroke="#4c4439"/><path d="M349 133.2h3.5" stroke="#4a4238"/><path d="M351.5 133.2h3.5" stroke="#4d433a"/><path d="M354 133.2h3.5" stroke="#51473c"/><path d="M356.5 133.2h3.5" stroke="#554a3e"/><path d="M359 133.2h3.5" stroke="#574b3f"/><path d="M361.5 133.2h3.5" stroke="#574b40"/><path d="M364 133.2h3.5" stroke="#554a3f"/><path d="M366.5 133.2h3.5" stroke="#554a3f"/><path d="M369 133.2h3.5" stroke="#594c3d"/><path d="M371.5 133.2h3.5" stroke="#5c4e3d"/><path d="M374 133.2h3.5" stroke="#5d4e3d"/><path d="M376.5 133.2h3.5" stroke="#5f4f3f"/><path d="M379 133.2h3.5" stroke="#605040"/><path d="M381.5 133.2h3.5" stroke="#625142"/><path d="M384 133.2h3.5" stroke="#645244"/><path d="M386.5 133.2h3.5" stroke="#665547"/><path d="M459 133.2h3.5" stroke="#c1a460"/><path d="M461.5 133.2h3.5" stroke="#c3a560"/><path d="M464 133.2h3.5" stroke="#c5a663"/><path d="M466.5 133.2h3.5" stroke="#c8a767"/><path d="M469 133.2h3.5" stroke="#cba969"/><path d="M471.5 133.2h3.5" stroke="#ccab67"/><path d="M474 133.2h3.5" stroke="#cdae5e"/><path d="M476.5 133.2h3.5" stroke="#ceb253"/><path d="M479 133.2h3.5" stroke="#cfb44f"/><path d="M481.5 133.2h3.5" stroke="#cfb44f"/><path d="M484 133.2h3.5" stroke="#cfb54e"/><path d="M344 135.8h3.5" stroke="#4e463a"/><path d="M346.5 135.8h3.5" stroke="#4f463a"/><path d="M349 135.8h3.5" stroke="#50473b"/><path d="M351.5 135.8h3.5" stroke="#54493d"/><path d="M354 135.8h3.5" stroke="#574b3f"/><path d="M356.5 135.8h3.5" stroke="#584c40"/><path d="M359 135.8h3.5" stroke="#584c40"/><path d="M361.5 135.8h3.5" stroke="#584c40"/><path d="M364 135.8h3.5" stroke="#584c3e"/><path d="M366.5 135.8h3.5" stroke="#5a4d3c"/><path d="M369 135.8h3.5" stroke="#5c4e3c"/><path d="M371.5 135.8h3.5" stroke="#5c4e3c"/><path d="M374 135.8h3.5" stroke="#5d4e3d"/><path d="M376.5 135.8h3.5" stroke="#5e4e3e"/><path d="M379 135.8h3.5" stroke="#5f4f3f"/><path d="M381.5 135.8h3.5" stroke="#605040"/><path d="M384 135.8h3.5" stroke="#625142"/><path d="M464 135.8h3.5" stroke="#c4a561"/><path d="M466.5 135.8h3.5" stroke="#c7a764"/><path d="M469 135.8h3.5" stroke="#c9a963"/><path d="M471.5 135.8h3.5" stroke="#caad5a"/><path d="M474 135.8h3.5" stroke="#cbb150"/><path d="M476.5 135.8h3.5" stroke="#ccb34d"/><path d="M479 135.8h3.5" stroke="#ceb44d"/><path d="M481.5 135.8h3.5" stroke="#ceb54d"/><path d="M484 135.8h3.5" stroke="#ceb74a"/><path d="M486.5 135.8h3.5" stroke="#cdbb42"/><path d="M341.5 138.2h3.5" stroke="#4e463a"/><path d="M344 138.2h3.5" stroke="#4f473a"/><path d="M346.5 138.2h3.5" stroke="#50483a"/><path d="M349 138.2h3.5" stroke="#534a3b"/><path d="M351.5 138.2h3.5" stroke="#574c3e"/><path d="M354 138.2h3.5" stroke="#584c40"/><path d="M356.5 138.2h3.5" stroke="#584c40"/><path d="M359 138.2h3.5" stroke="#584c40"/><path d="M361.5 138.2h3.5" stroke="#594d3f"/><path d="M364 138.2h3.5" stroke="#5b4f3b"/><path d="M366.5 138.2h3.5" stroke="#5c4f3a"/><path d="M369 138.2h3.5" stroke="#5c4e3a"/><path d="M371.5 138.2h3.5" stroke="#5c4e3b"/><path d="M374 138.2h3.5" stroke="#5c4e3c"/><path d="M376.5 138.2h3.5" stroke="#5d4e3d"/><path d="M379 138.2h3.5" stroke="#5e4f3e"/><path d="M381.5 138.2h3.5" stroke="#5f4f3f"/><path d="M466.5 138.2h3.5" stroke="#c6a85f"/><path d="M469 138.2h3.5" stroke="#c9ac57"/><path d="M471.5 138.2h3.5" stroke="#c9b04e"/><path d="M474 138.2h3.5" stroke="#cab24b"/><path d="M476.5 138.2h3.5" stroke="#ccb34b"/><path d="M479 138.2h3.5" stroke="#cdb44c"/><path d="M481.5 138.2h3.5" stroke="#cdb64a"/><path d="M484 138.2h3.5" stroke="#cdb944"/><path d="M486.5 138.2h3.5" stroke="#ccbd3c"/><path d="M489 138.2h3.5" stroke="#ccbf39"/><path d="M339 140.8h3.5" stroke="#4f473a"/><path d="M341.5 140.8h3.5" stroke="#50473a"/><path d="M344 140.8h3.5" stroke="#52493a"/><path d="M346.5 140.8h3.5" stroke="#554b3b"/><path d="M349 140.8h3.5" stroke="#5a4e3b"/><path d="M351.5 140.8h3.5" stroke="#5c503d"/><path d="M354 140.8h3.5" stroke="#5a4e3f"/><path d="M356.5 140.8h3.5" stroke="#594c40"/><path d="M359 140.8h3.5" stroke="#594d3f"/><path d="M361.5 140.8h3.5" stroke="#5b4f3c"/><path d="M364 140.8h3.5" stroke="#5d5139"/><path d="M366.5 140.8h3.5" stroke="#5d5039"/><path d="M369 140.8h3.5" stroke="#5c4f3a"/><path d="M371.5 140.8h3.5" stroke="#5c4e3a"/><path d="M374 140.8h3.5" stroke="#5c4e3b"/><path d="M376.5 140.8h3.5" stroke="#5d4e3c"/><path d="M379 140.8h3.5" stroke="#5e4e3d"/><path d="M469 140.8h3.5" stroke="#c8af4d"/><path d="M471.5 140.8h3.5" stroke="#c9b14a"/><path d="M474 140.8h3.5" stroke="#cab249"/><path d="M476.5 140.8h3.5" stroke="#cbb44a"/><path d="M479 140.8h3.5" stroke="#ccb54a"/><path d="M481.5 140.8h3.5" stroke="#ccb845"/><path d="M484 140.8h3.5" stroke="#cbbc3e"/><path d="M486.5 140.8h3.5" stroke="#cbbe3a"/><path d="M489 140.8h3.5" stroke="#cbbf38"/><path d="M491.5 140.8h3.5" stroke="#cbc037"/><path d="M336.5 143.2h3.5" stroke="#5b5238"/><path d="M339 143.2h3.5" stroke="#564c39"/><path d="M341.5 143.2h3.5" stroke="#544a3a"/><path d="M344 143.2h3.5" stroke="#574d3b"/><path d="M346.5 143.2h3.5" stroke="#5c503b"/><path d="M349 143.2h3.5" stroke="#5f523c"/><path d="M351.5 143.2h3.5" stroke="#60533c"/><path d="M354 143.2h3.5" stroke="#5f523d"/><path d="M356.5 143.2h3.5" stroke="#5c4f3e"/><path d="M359 143.2h3.5" stroke="#5c503b"/><path d="M361.5 143.2h3.5" stroke="#5e5239"/><path d="M364 143.2h3.5" stroke="#5e5138"/><path d="M366.5 143.2h3.5" stroke="#5d5039"/><path d="M369 143.2h3.5" stroke="#5d4f39"/><path d="M371.5 143.2h3.5" stroke="#5c4f3a"/><path d="M374 143.2h3.5" stroke="#5c4e3a"/><path d="M376.5 143.2h3.5" stroke="#5c4e3b"/><path d="M474 143.2h3.5" stroke="#cab249"/><path d="M476.5 143.2h3.5" stroke="#cbb449"/><path d="M479 143.2h3.5" stroke="#cbb746"/><path d="M481.5 143.2h3.5" stroke="#caba40"/><path d="M484 143.2h3.5" stroke="#cabd3b"/><path d="M486.5 143.2h3.5" stroke="#cabe39"/><path d="M489 143.2h3.5" stroke="#cac037"/><path d="M491.5 143.2h3.5" stroke="#cac135"/><path d="M494 143.2h3.5" stroke="#c9c432"/><path d="M336.5 145.8h3.5" stroke="#5e5438"/><path d="M339 145.8h3.5" stroke="#5d5338"/><path d="M341.5 145.8h3.5" stroke="#5c513a"/><path d="M344 145.8h3.5" stroke="#5e513b"/><path d="M346.5 145.8h3.5" stroke="#60533c"/><path d="M349 145.8h3.5" stroke="#61533c"/><path d="M351.5 145.8h3.5" stroke="#62543c"/><path d="M354 145.8h3.5" stroke="#63553b"/><path d="M356.5 145.8h3.5" stroke="#645837"/><path d="M359 145.8h3.5" stroke="#625736"/><path d="M361.5 145.8h3.5" stroke="#605437"/><path d="M364 145.8h3.5" stroke="#5e5238"/><path d="M366.5 145.8h3.5" stroke="#5e5138"/><path d="M369 145.8h3.5" stroke="#5d5039"/><path d="M371.5 145.8h3.5" stroke="#5d4f3a"/><path d="M374 145.8h3.5" stroke="#5c4e3a"/><path d="M479 145.8h3.5" stroke="#cab942"/><path d="M481.5 145.8h3.5" stroke="#c9bc3c"/><path d="M484 145.8h3.5" stroke="#c9bd3a"/><path d="M486.5 145.8h3.5" stroke="#c9bf38"/><path d="M489 145.8h3.5" stroke="#c9c135"/><path d="M491.5 145.8h3.5" stroke="#c8c431"/><path d="M494 145.8h3.5" stroke="#c8c52f"/><path d="M334 148.2h3.5" stroke="#5e5438"/><path d="M336.5 148.2h3.5" stroke="#5f5538"/><path d="M339 148.2h3.5" stroke="#5f5538"/><path d="M341.5 148.2h3.5" stroke="#605538"/><path d="M344 148.2h3.5" stroke="#61543b"/><path d="M346.5 148.2h3.5" stroke="#62543c"/><path d="M349 148.2h3.5" stroke="#62543c"/><path d="M351.5 148.2h3.5" stroke="#63563b"/><path d="M354 148.2h3.5" stroke="#665b36"/><path d="M356.5 148.2h3.5" stroke="#685e34"/><path d="M359 148.2h3.5" stroke="#665c34"/><path d="M361.5 148.2h3.5" stroke="#645935"/><path d="M364 148.2h3.5" stroke="#615537"/><path d="M366.5 148.2h3.5" stroke="#5f5338"/><path d="M369 148.2h3.5" stroke="#5d5139"/><path d="M371.5 148.2h3.5" stroke="#5d4f39"/><path d="M484 148.2h3.5" stroke="#c8be38"/><path d="M486.5 148.2h3.5" stroke="#c8c135"/><path d="M489 148.2h3.5" stroke="#c8c331"/><path d="M491.5 148.2h3.5" stroke="#c7c530"/><path d="M494 148.2h3.5" stroke="#c7c52f"/><path d="M496.5 148.2h3.5" stroke="#c7c52e"/><path d="M331.5 150.8h3.5" stroke="#605638"/><path d="M334 150.8h3.5" stroke="#5f5538"/><path d="M336.5 150.8h3.5" stroke="#605638"/><path d="M339 150.8h3.5" stroke="#625737"/><path d="M341.5 150.8h3.5" stroke="#645937"/><path d="M344 150.8h3.5" stroke="#655938"/><path d="M346.5 150.8h3.5" stroke="#63563b"/><path d="M349 150.8h3.5" stroke="#63563a"/><path d="M351.5 150.8h3.5" stroke="#665b36"/><path d="M354 150.8h3.5" stroke="#695e33"/><path d="M356.5 150.8h3.5" stroke="#695f33"/><path d="M359 150.8h3.5" stroke="#685e33"/><path d="M361.5 150.8h3.5" stroke="#665c34"/><path d="M364 150.8h3.5" stroke="#645a35"/><path d="M366.5 150.8h3.5" stroke="#625736"/><path d="M369 150.8h3.5" stroke="#5f5338"/><path d="M486.5 150.8h3.5" stroke="#c7c332"/><path d="M489 150.8h3.5" stroke="#c7c430"/><path d="M491.5 150.8h3.5" stroke="#c7c52f"/><path d="M494 150.8h3.5" stroke="#c7c52f"/><path d="M496.5 150.8h3.5" stroke="#c7c52e"/><path d="M269 153.2h3.5" stroke="#c7a75e"/><path d="M329 153.2h3.5" stroke="#817738"/><path d="M331.5 153.2h3.5" stroke="#695f38"/><path d="M334 153.2h3.5" stroke="#635837"/><path d="M336.5 153.2h3.5" stroke="#645937"/><path d="M339 153.2h3.5" stroke="#665a37"/><path d="M341.5 153.2h3.5" stroke="#685c36"/><path d="M344 153.2h3.5" stroke="#695d36"/><path d="M346.5 153.2h3.5" stroke="#6a5f36"/><path d="M349 153.2h3.5" stroke="#6b6134"/><path d="M351.5 153.2h3.5" stroke="#6a6133"/><path d="M354 153.2h3.5" stroke="#6a6032"/><path d="M356.5 153.2h3.5" stroke="#695f33"/><path d="M359 153.2h3.5" stroke="#685e33"/><path d="M361.5 153.2h3.5" stroke="#675d33"/><path d="M364 153.2h3.5" stroke="#665c34"/><path d="M366.5 153.2h3.5" stroke="#655b34"/><path d="M489 153.2h3.5" stroke="#c6c42f"/><path d="M491.5 153.2h3.5" stroke="#c6c52f"/><path d="M494 153.2h3.5" stroke="#c6c52e"/><path d="M496.5 153.2h3.5" stroke="#c5c42d"/><path d="M266.5 155.8h3.5" stroke="#c5a45c"/><path d="M269 155.8h3.5" stroke="#c6a75c"/><path d="M271.5 155.8h3.5" stroke="#c7a85e"/><path d="M274 155.8h3.5" stroke="#c7a95d"/><path d="M324 155.8h3.5" stroke="#95893a"/><path d="M326.5 155.8h3.5" stroke="#958939"/><path d="M329 155.8h3.5" stroke="#938838"/><path d="M331.5 155.8h3.5" stroke="#867b36"/><path d="M334 155.8h3.5" stroke="#706536"/><path d="M336.5 155.8h3.5" stroke="#695d36"/><path d="M339 155.8h3.5" stroke="#695d36"/><path d="M341.5 155.8h3.5" stroke="#6a5e36"/><path d="M344 155.8h3.5" stroke="#6c6135"/><path d="M346.5 155.8h3.5" stroke="#736d31"/><path d="M349 155.8h3.5" stroke="#76742e"/><path d="M351.5 155.8h3.5" stroke="#716b30"/><path d="M354 155.8h3.5" stroke="#6c6431"/><path d="M356.5 155.8h3.5" stroke="#6a6032"/><path d="M359 155.8h3.5" stroke="#685e33"/><path d="M361.5 155.8h3.5" stroke="#675d33"/><path d="M364 155.8h3.5" stroke="#675d34"/><path d="M491.5 155.8h3.5" stroke="#c5c42e"/><path d="M494 155.8h3.5" stroke="#c5c42d"/><path d="M496.5 155.8h3.5" stroke="#c4c42c"/><path d="M499 155.8h3.5" stroke="#c4c42c"/><path d="M266.5 158.2h3.5" stroke="#c3a359"/><path d="M269 158.2h3.5" stroke="#c5a65b"/><path d="M271.5 158.2h3.5" stroke="#c6a85b"/><path d="M274 158.2h3.5" stroke="#c5a958"/><path d="M276.5 158.2h3.5" stroke="#c5ac4f"/><path d="M279 158.2h3.5" stroke="#c5ae4a"/><path d="M319 158.2h3.5" stroke="#aca038"/><path d="M321.5 158.2h3.5" stroke="#9b8f39"/><path d="M324 158.2h3.5" stroke="#968a39"/><path d="M326.5 158.2h3.5" stroke="#968a39"/><path d="M329 158.2h3.5" stroke="#978c37"/><path d="M331.5 158.2h3.5" stroke="#958c35"/><path d="M334 158.2h3.5" stroke="#877d35"/><path d="M336.5 158.2h3.5" stroke="#726636"/><path d="M339 158.2h3.5" stroke="#6b5f36"/><path d="M341.5 158.2h3.5" stroke="#6c6135"/><path d="M344 158.2h3.5" stroke="#726b32"/><path d="M346.5 158.2h3.5" stroke="#7a782d"/><path d="M349 158.2h3.5" stroke="#7b7b2c"/><path d="M351.5 158.2h3.5" stroke="#78782d"/><path d="M354 158.2h3.5" stroke="#73702f"/><path d="M356.5 158.2h3.5" stroke="#6d6631"/><path d="M359 158.2h3.5" stroke="#6a6132"/><path d="M361.5 158.2h3.5" stroke="#685e33"/><path d="M494 158.2h3.5" stroke="#c4c42c"/><path d="M266.5 160.8h3.5" stroke="#c1a156"/><path d="M269 160.8h3.5" stroke="#c3a557"/><path d="M271.5 160.8h3.5" stroke="#c3a754"/><path d="M274 160.8h3.5" stroke="#c1a84c"/><path d="M276.5 160.8h3.5" stroke="#c2ac47"/><path d="M279 160.8h3.5" stroke="#c4ad47"/><path d="M281.5 160.8h3.5" stroke="#c4ae48"/><path d="M284 160.8h3.5" stroke="#c4ae48"/><path d="M314 160.8h3.5" stroke="#b8ac38"/><path d="M316.5 160.8h3.5" stroke="#b7ab38"/><path d="M319 160.8h3.5" stroke="#b2a737"/><path d="M321.5 160.8h3.5" stroke="#a39838"/><path d="M324 160.8h3.5" stroke="#998e38"/><path d="M326.5 160.8h3.5" stroke="#978c38"/><path d="M329 160.8h3.5" stroke="#988e36"/><path d="M331.5 160.8h3.5" stroke="#999034"/><path d="M334 160.8h3.5" stroke="#968d33"/><path d="M336.5 160.8h3.5" stroke="#847a34"/><path d="M339 160.8h3.5" stroke="#726735"/><path d="M341.5 160.8h3.5" stroke="#736b32"/><path d="M344 160.8h3.5" stroke="#7b792e"/><path d="M346.5 160.8h3.5" stroke="#7e7e2c"/><path d="M349 160.8h3.5" stroke="#7d7e2c"/><path d="M351.5 160.8h3.5" stroke="#7b7c2c"/><path d="M354 160.8h3.5" stroke="#78792c"/><path d="M356.5 160.8h3.5" stroke="#75742e"/><path d="M359 160.8h3.5" stroke="#6f6a30"/><path d="M266.5 163.2h3.5" stroke="#b69d4e"/><path d="M269 163.2h3.5" stroke="#b9a14c"/><path d="M271.5 163.2h3.5" stroke="#bba446"/><path d="M274 163.2h3.5" stroke="#bda742"/><path d="M276.5 163.2h3.5" stroke="#bfaa42"/><path d="M279 163.2h3.5" stroke="#c1ac44"/><path d="M281.5 163.2h3.5" stroke="#c1ac45"/><path d="M284 163.2h3.5" stroke="#c0ad43"/><path d="M286.5 163.2h3.5" stroke="#c3b33d"/><path d="M289 163.2h3.5" stroke="#c5b73a"/><path d="M291.5 163.2h3.5" stroke="#c6b939"/><path d="M294 163.2h3.5" stroke="#c6ba37"/><path d="M306.5 163.2h3.5" stroke="#c0b933"/><path d="M309 163.2h3.5" stroke="#c0b833"/><path d="M311.5 163.2h3.5" stroke="#bcb235"/><path d="M314 163.2h3.5" stroke="#b9ae37"/><path d="M316.5 163.2h3.5" stroke="#b8ac37"/><path d="M319 163.2h3.5" stroke="#b5aa36"/><path d="M321.5 163.2h3.5" stroke="#ada335"/><path d="M324 163.2h3.5" stroke="#a29736"/><path d="M326.5 163.2h3.5" stroke="#9b9136"/><path d="M329 163.2h3.5" stroke="#9a9135"/><path d="M331.5 163.2h3.5" stroke="#9b9233"/><path d="M334 163.2h3.5" stroke="#9b9332"/><path d="M336.5 163.2h3.5" stroke="#968f32"/><path d="M339 163.2h3.5" stroke="#8c8730"/><path d="M341.5 163.2h3.5" stroke="#86852d"/><path d="M344 163.2h3.5" stroke="#85852c"/><path d="M346.5 163.2h3.5" stroke="#83842c"/><path d="M349 163.2h3.5" stroke="#81822c"/><path d="M351.5 163.2h3.5" stroke="#7e802c"/><path d="M354 163.2h3.5" stroke="#7b7d2c"/><path d="M356.5 163.2h3.5" stroke="#797a2c"/><path d="M269 165.8h3.5" stroke="#a0983a"/><path d="M271.5 165.8h3.5" stroke="#b1a03c"/><path d="M274 165.8h3.5" stroke="#b6a43d"/><path d="M276.5 165.8h3.5" stroke="#b8a63e"/><path d="M279 165.8h3.5" stroke="#b8a73f"/><path d="M281.5 165.8h3.5" stroke="#b7a73f"/><path d="M284 165.8h3.5" stroke="#b7a93d"/><path d="M286.5 165.8h3.5" stroke="#bfb23a"/><path d="M289 165.8h3.5" stroke="#c5b839"/><path d="M291.5 165.8h3.5" stroke="#c6b938"/><path d="M294 165.8h3.5" stroke="#c6bb36"/><path d="M296.5 165.8h3.5" stroke="#c5bd33"/><path d="M299 165.8h3.5" stroke="#c5be31"/><path d="M301.5 165.8h3.5" stroke="#c3bb32"/><path d="M304 165.8h3.5" stroke="#c1ba33"/><path d="M306.5 165.8h3.5" stroke="#c1ba33"/><path d="M309 165.8h3.5" stroke="#c1bb32"/><path d="M311.5 165.8h3.5" stroke="#bfb733"/><path d="M314 165.8h3.5" stroke="#bbb135"/><path d="M316.5 165.8h3.5" stroke="#b8ad36"/><path d="M319 165.8h3.5" stroke="#b6ac34"/><path d="M321.5 165.8h3.5" stroke="#b2a932"/><path d="M324 165.8h3.5" stroke="#ada432"/><path d="M326.5 165.8h3.5" stroke="#a49b33"/><path d="M329 165.8h3.5" stroke="#9d9533"/><path d="M331.5 165.8h3.5" stroke="#9c9432"/><path d="M334 165.8h3.5" stroke="#9e9731"/><path d="M336.5 165.8h3.5" stroke="#a3a22e"/><path d="M339 165.8h3.5" stroke="#a5a82b"/><path d="M341.5 165.8h3.5" stroke="#9da02a"/><path d="M344 165.8h3.5" stroke="#91942b"/><path d="M346.5 165.8h3.5" stroke="#8d8f2b"/><path d="M349 165.8h3.5" stroke="#898c2b"/><path d="M351.5 165.8h3.5" stroke="#85872b"/><path d="M354 165.8h3.5" stroke="#80822c"/><path d="M269 168.2h3.5" stroke="#818c2d"/><path d="M271.5 168.2h3.5" stroke="#9f9835"/><path d="M274 168.2h3.5" stroke="#a89c37"/><path d="M276.5 168.2h3.5" stroke="#a69c37"/><path d="M279 168.2h3.5" stroke="#a59d37"/><path d="M281.5 168.2h3.5" stroke="#a59d36"/><path d="M284 168.2h3.5" stroke="#aaa135"/><path d="M286.5 168.2h3.5" stroke="#bab036"/><path d="M289 168.2h3.5" stroke="#c3b837"/><path d="M291.5 168.2h3.5" stroke="#c5ba36"/><path d="M294 168.2h3.5" stroke="#c5bc34"/><path d="M296.5 168.2h3.5" stroke="#c5be32"/><path d="M299 168.2h3.5" stroke="#c5be31"/><path d="M301.5 168.2h3.5" stroke="#c3bc32"/><path d="M304 168.2h3.5" stroke="#c2bb32"/><path d="M306.5 168.2h3.5" stroke="#c2bb32"/><path d="M309 168.2h3.5" stroke="#c3bd30"/><path d="M311.5 168.2h3.5" stroke="#c2bc30"/><path d="M314 168.2h3.5" stroke="#beb732"/><path d="M316.5 168.2h3.5" stroke="#b9b034"/><path d="M319 168.2h3.5" stroke="#b6ac32"/><path d="M321.5 168.2h3.5" stroke="#b4ab31"/><path d="M324 168.2h3.5" stroke="#b2aa31"/><path d="M326.5 168.2h3.5" stroke="#aea631"/><path d="M329 168.2h3.5" stroke="#a59e31"/><path d="M331.5 168.2h3.5" stroke="#a29d30"/><path d="M334 168.2h3.5" stroke="#a6a52d"/><path d="M336.5 168.2h3.5" stroke="#aaad2b"/><path d="M339 168.2h3.5" stroke="#a9ae2a"/><path d="M341.5 168.2h3.5" stroke="#a4a92a"/><path d="M344 168.2h3.5" stroke="#9ca12a"/><path d="M346.5 168.2h3.5" stroke="#969a2a"/><path d="M349 168.2h3.5" stroke="#93962a"/><path d="M351.5 168.2h3.5" stroke="#8e912b"/><path d="M354 168.2h3.5" stroke="#888a2b"/><path d="M271.5 170.8h3.5" stroke="#888d2d"/><path d="M274 170.8h3.5" stroke="#92902f"/><path d="M276.5 170.8h3.5" stroke="#90902f"/><path d="M279 170.8h3.5" stroke="#91912f"/><path d="M281.5 170.8h3.5" stroke="#94942f"/><path d="M284 170.8h3.5" stroke="#9d9a30"/><path d="M286.5 170.8h3.5" stroke="#b2ac32"/><path d="M289 170.8h3.5" stroke="#c0b834"/><path d="M291.5 170.8h3.5" stroke="#c3bb33"/><path d="M294 170.8h3.5" stroke="#c4bd32"/><path d="M296.5 170.8h3.5" stroke="#c4be31"/><path d="M299 170.8h3.5" stroke="#c4be30"/><path d="M301.5 170.8h3.5" stroke="#c3bd31"/><path d="M304 170.8h3.5" stroke="#c2bc31"/><path d="M306.5 170.8h3.5" stroke="#c3bd30"/><path d="M309 170.8h3.5" stroke="#c3bf2f"/><path d="M311.5 170.8h3.5" stroke="#c3bf2f"/><path d="M314 170.8h3.5" stroke="#c1bc30"/><path d="M316.5 170.8h3.5" stroke="#bbb431"/><path d="M319 170.8h3.5" stroke="#b5ad31"/><path d="M321.5 170.8h3.5" stroke="#b4ac30"/><path d="M324 170.8h3.5" stroke="#b4ac30"/><path d="M326.5 170.8h3.5" stroke="#b3ae2f"/><path d="M329 170.8h3.5" stroke="#b3b22d"/><path d="M331.5 170.8h3.5" stroke="#b2b42b"/><path d="M334 170.8h3.5" stroke="#aeb22a"/><path d="M336.5 170.8h3.5" stroke="#abb02a"/><path d="M339 170.8h3.5" stroke="#a9ae2a"/><path d="M341.5 170.8h3.5" stroke="#a4aa29"/><path d="M344 170.8h3.5" stroke="#9ea529"/><path d="M346.5 170.8h3.5" stroke="#9aa129"/><path d="M349 170.8h3.5" stroke="#999e2a"/><path d="M351.5 170.8h3.5" stroke="#969a2a"/><path d="M274 173.2h3.5" stroke="#82892a"/><path d="M276.5 173.2h3.5" stroke="#84892a"/><path d="M279 173.2h3.5" stroke="#868c2b"/><path d="M281.5 173.2h3.5" stroke="#8a8f2b"/><path d="M284 173.2h3.5" stroke="#92962c"/><path d="M286.5 173.2h3.5" stroke="#a6a62e"/><path d="M289 173.2h3.5" stroke="#b8b530"/><path d="M291.5 173.2h3.5" stroke="#bfba30"/><path d="M294 173.2h3.5" stroke="#c1bc30"/><path d="M296.5 173.2h3.5" stroke="#c1bd2f"/><path d="M299 173.2h3.5" stroke="#c1be2e"/><path d="M301.5 173.2h3.5" stroke="#c2be2f"/><path d="M304 173.2h3.5" stroke="#c2be30"/><path d="M306.5 173.2h3.5" stroke="#c3bf2f"/><path d="M309 173.2h3.5" stroke="#c3c02e"/><path d="M311.5 173.2h3.5" stroke="#c3c02e"/><path d="M314 173.2h3.5" stroke="#c1bf2d"/><path d="M316.5 173.2h3.5" stroke="#bdba2e"/><path d="M319 173.2h3.5" stroke="#b6b02f"/><path d="M321.5 173.2h3.5" stroke="#b4ae30"/><path d="M324 173.2h3.5" stroke="#b5b02e"/><path d="M326.5 173.2h3.5" stroke="#b7b72c"/><path d="M329 173.2h3.5" stroke="#b7bb2a"/><path d="M331.5 173.2h3.5" stroke="#b6ba2a"/><path d="M334 173.2h3.5" stroke="#b1b62a"/><path d="M336.5 173.2h3.5" stroke="#abb02a"/><path d="M339 173.2h3.5" stroke="#a7ad29"/><path d="M341.5 173.2h3.5" stroke="#a2a929"/><path d="M344 173.2h3.5" stroke="#9da529"/><path d="M346.5 173.2h3.5" stroke="#9aa329"/><path d="M349 173.2h3.5" stroke="#9aa129"/><path d="M276.5 175.8h3.5" stroke="#7f8828"/><path d="M279 175.8h3.5" stroke="#828b29"/><path d="M281.5 175.8h3.5" stroke="#858f29"/><path d="M284 175.8h3.5" stroke="#8d9629"/><path d="M286.5 175.8h3.5" stroke="#9aa12a"/><path d="M289 175.8h3.5" stroke="#aaad2c"/><path d="M291.5 175.8h3.5" stroke="#b6b62d"/><path d="M294 175.8h3.5" stroke="#bcba2e"/><path d="M296.5 175.8h3.5" stroke="#bdbc2d"/><path d="M299 175.8h3.5" stroke="#bdbd2d"/><path d="M301.5 175.8h3.5" stroke="#bebf2c"/><path d="M304 175.8h3.5" stroke="#c0c12c"/><path d="M306.5 175.8h3.5" stroke="#c1c12c"/><path d="M309 175.8h3.5" stroke="#c0c02c"/><path d="M311.5 175.8h3.5" stroke="#bfc02b"/><path d="M314 175.8h3.5" stroke="#bec02b"/><path d="M316.5 175.8h3.5" stroke="#bcbf2b"/><path d="M319 175.8h3.5" stroke="#b9bb2b"/><path d="M321.5 175.8h3.5" stroke="#b5b72c"/><path d="M324 175.8h3.5" stroke="#b6b92b"/><path d="M326.5 175.8h3.5" stroke="#b7bb2a"/><path d="M329 175.8h3.5" stroke="#b7bb2a"/><path d="M331.5 175.8h3.5" stroke="#b5ba2a"/><path d="M334 175.8h3.5" stroke="#b0b529"/><path d="M336.5 175.8h3.5" stroke="#aab029"/><path d="M339 175.8h3.5" stroke="#a5ac29"/><path d="M341.5 175.8h3.5" stroke="#a0a829"/><path d="M344 175.8h3.5" stroke="#9ba428"/><path d="M346.5 175.8h3.5" stroke="#99a328"/><path d="M279 178.2h3.5" stroke="#808c28"/><path d="M281.5 178.2h3.5" stroke="#869128"/><path d="M284 178.2h3.5" stroke="#8d9729"/><path d="M286.5 178.2h3.5" stroke="#959e29"/><path d="M289 178.2h3.5" stroke="#9fa62a"/><path d="M291.5 178.2h3.5" stroke="#a9ae2b"/><path d="M294 178.2h3.5" stroke="#b2b42c"/><path d="M296.5 178.2h3.5" stroke="#b7b82c"/><path d="M299 178.2h3.5" stroke="#babc2b"/><path d="M301.5 178.2h3.5" stroke="#bdc02b"/><path d="M304 178.2h3.5" stroke="#bec22a"/><path d="M306.5 178.2h3.5" stroke="#bec22a"/><path d="M309 178.2h3.5" stroke="#bdc02a"/><path d="M311.5 178.2h3.5" stroke="#bcc02a"/><path d="M314 178.2h3.5" stroke="#bcc02a"/><path d="M316.5 178.2h3.5" stroke="#babf2a"/><path d="M319 178.2h3.5" stroke="#b7bd2a"/><path d="M321.5 178.2h3.5" stroke="#b4bb2a"/><path d="M324 178.2h3.5" stroke="#b5bc2a"/><path d="M326.5 178.2h3.5" stroke="#b7bc2a"/><path d="M329 178.2h3.5" stroke="#b6bb2a"/><path d="M331.5 178.2h3.5" stroke="#b3b829"/><path d="M334 178.2h3.5" stroke="#adb329"/><path d="M336.5 178.2h3.5" stroke="#a8af28"/><path d="M339 178.2h3.5" stroke="#a4ac28"/><path d="M341.5 178.2h3.5" stroke="#a0a828"/><path d="M344 178.2h3.5" stroke="#9ba428"/><path d="M281.5 180.8h3.5" stroke="#889328"/><path d="M284 180.8h3.5" stroke="#8e9928"/><path d="M286.5 180.8h3.5" stroke="#949e29"/><path d="M289 180.8h3.5" stroke="#99a329"/><path d="M291.5 180.8h3.5" stroke="#9fa829"/><path d="M294 180.8h3.5" stroke="#a5ac2a"/><path d="M296.5 180.8h3.5" stroke="#acb22a"/><path d="M299 180.8h3.5" stroke="#b3b82a"/><path d="M301.5 180.8h3.5" stroke="#babf2a"/><path d="M304 180.8h3.5" stroke="#bdc12a"/><path d="M306.5 180.8h3.5" stroke="#bcc02a"/><path d="M309 180.8h3.5" stroke="#babe2a"/><path d="M311.5 180.8h3.5" stroke="#babf2a"/><path d="M314 180.8h3.5" stroke="#babe2a"/><path d="M316.5 180.8h3.5" stroke="#b7bc2a"/><path d="M319 180.8h3.5" stroke="#b3ba2a"/><path d="M321.5 180.8h3.5" stroke="#b3bb2a"/><path d="M324 180.8h3.5" stroke="#b3bb2a"/><path d="M326.5 180.8h3.5" stroke="#b5bb2a"/><path d="M329 180.8h3.5" stroke="#b4b92a"/><path d="M331.5 180.8h3.5" stroke="#afb529"/><path d="M334 180.8h3.5" stroke="#a9b029"/><path d="M336.5 180.8h3.5" stroke="#a6ad28"/><path d="M339 180.8h3.5" stroke="#a4ac28"/><path d="M341.5 180.8h3.5" stroke="#a2aa28"/><path d="M286.5 183.2h3.5" stroke="#939e29"/><path d="M289 183.2h3.5" stroke="#98a329"/><path d="M291.5 183.2h3.5" stroke="#9aa528"/><path d="M294 183.2h3.5" stroke="#9ea828"/><path d="M296.5 183.2h3.5" stroke="#a3ac29"/><path d="M299 183.2h3.5" stroke="#abb329"/><path d="M301.5 183.2h3.5" stroke="#b4ba29"/><path d="M304 183.2h3.5" stroke="#b9be29"/><path d="M306.5 183.2h3.5" stroke="#b7bd29"/><path d="M309 183.2h3.5" stroke="#b4ba29"/><path d="M311.5 183.2h3.5" stroke="#b5bb29"/><path d="M314 183.2h3.5" stroke="#b4ba29"/><path d="M316.5 183.2h3.5" stroke="#b0b729"/><path d="M319 183.2h3.5" stroke="#afb729"/><path d="M321.5 183.2h3.5" stroke="#b0b92a"/><path d="M324 183.2h3.5" stroke="#b2ba2a"/><path d="M326.5 183.2h3.5" stroke="#b3bb2a"/><path d="M329 183.2h3.5" stroke="#b2b92a"/><path d="M331.5 183.2h3.5" stroke="#acb229"/><path d="M334 183.2h3.5" stroke="#a7ae28"/><path d="M336.5 183.2h3.5" stroke="#a5ad28"/><path d="M339 183.2h3.5" stroke="#a4ac28"/><path d="M291.5 185.8h3.5" stroke="#9aa528"/><path d="M294 185.8h3.5" stroke="#9ca728"/><path d="M296.5 185.8h3.5" stroke="#a0aa28"/><path d="M299 185.8h3.5" stroke="#a5ae28"/><path d="M301.5 185.8h3.5" stroke="#adb529"/><path d="M304 185.8h3.5" stroke="#b3b929"/><path d="M306.5 185.8h3.5" stroke="#b1b829"/><path d="M309 185.8h3.5" stroke="#afb628"/><path d="M311.5 185.8h3.5" stroke="#afb628"/><path d="M314 185.8h3.5" stroke="#adb529"/><path d="M316.5 185.8h3.5" stroke="#aab329"/><path d="M319 185.8h3.5" stroke="#aab429"/><path d="M321.5 185.8h3.5" stroke="#adb629"/><path d="M324 185.8h3.5" stroke="#b0b92a"/><path d="M326.5 185.8h3.5" stroke="#b2ba2a"/><path d="M329 185.8h3.5" stroke="#b1b92a"/><path d="M331.5 185.8h3.5" stroke="#a9b129"/><path d="M334 185.8h3.5" stroke="#a5ad28"/><path d="M296.5 188.2h3.5" stroke="#a0aa28"/><path d="M299 188.2h3.5" stroke="#a3ac28"/><path d="M301.5 188.2h3.5" stroke="#a8b028"/><path d="M304 188.2h3.5" stroke="#aeb528"/><path d="M306.5 188.2h3.5" stroke="#aeb528"/><path d="M309 188.2h3.5" stroke="#adb528"/><path d="M311.5 188.2h3.5" stroke="#acb428"/><path d="M314 188.2h3.5" stroke="#a8b128"/><path d="M316.5 188.2h3.5" stroke="#a6b028"/><path d="M319 188.2h3.5" stroke="#a7b128"/><path d="M321.5 188.2h3.5" stroke="#aab329"/><path d="M324 188.2h3.5" stroke="#aeb629"/><path d="M326.5 188.2h3.5" stroke="#b0b92a"/><path d="M329 188.2h3.5" stroke="#b1b92a"/></g></g></g>
<path d="M224.0,120.2L224.6,120.3L225.1,120.5L225.7,120.6L226.2,120.9L226.8,121.1L227.3,121.4L227.8,121.7L228.4,122.1L228.9,122.5L229.5,123.0L230.0,123.4L230.5,123.9L231.1,124.5L231.6,125.0L232.2,125.6L232.8,126.3L233.4,127.0L234.1,127.8L234.7,128.5L235.2,129.1L235.7,129.7L236.0,130.1L236.0,130.1L236.3,130.3L236.6,130.5L236.9,130.8L237.4,131.1L237.9,131.5L238.5,132.0L239.2,132.5L240.0,133.2L241.0,134.0L242.1,134.9L243.3,135.9L244.6,137.0L246.0,138.1L247.4,139.2L248.7,140.3L250.0,141.4L251.2,142.4L252.5,143.5L253.8,144.6L255.0,145.6L256.2,146.7L257.5,147.7L258.8,148.7L260.0,149.7L261.2,150.6" fill="none" stroke="#e2c4ae" stroke-width="1.3" stroke-opacity="0.75" filter="url(#bl05)"/>
<path d="M298.0,186.5L297.6,186.3L297.1,186.0L296.5,185.7L295.8,185.4L295.0,185.0L294.3,184.7L293.6,184.3L293.0,184.0L292.5,183.7L292.0,183.5L291.5,183.3L291.0,183.0L290.5,182.8L290.0,182.5L289.4,182.2L288.8,181.8L288.0,181.3L287.1,180.7L286.1,180.0L285.1,179.3L284.2,178.6L283.3,177.9L282.5,177.4L282.0,177.0" fill="none" stroke="#1a3a0c" stroke-width="1" stroke-opacity="0.5" filter="url(#bl05)"/>
<path d="M144.6,35L237.5,121.5L499.5,90 M237.5,121.5V252" fill="none" stroke="#111" stroke-width="1.1" stroke-dasharray="1.1 2.5"/>
<defs><marker id="ahA" viewBox="0 0 10 10" refX="5" refY="5" markerWidth="9.5" markerHeight="9.5" markerUnits="userSpaceOnUse" orient="auto"><path d="M0,0.2 L10,5 L0,9.8 L2.2,5 Z" fill="#000"/></marker></defs>
<path d="M328,32.6C310,36 298,48 295,72C294,85 293.8,96 293.9,105" fill="none" stroke="#000" stroke-width="3.1" marker-end="url(#ahA)"/>
<path d="M341.5,42.5C346,56 356,68 371,77" fill="none" stroke="#000" stroke-width="3.1" marker-end="url(#ahA)"/>
<path d="M370.5,59.5C374,65 380,69 388,71" fill="none" stroke="#000" stroke-width="3.1" marker-end="url(#ahA)"/>
<path d="M377.5,52.5C388,58 397,64 405,71" fill="none" stroke="#000" stroke-width="3.1" marker-end="url(#ahA)"/>
<path d="M262.5,110C262,120 264.5,127 269.5,132" fill="none" stroke="#000" stroke-width="3.1" marker-end="url(#ahA)"/>
<path d="M257.5,107.5C253,120 254.5,135 264.5,144.5" fill="none" stroke="#000" stroke-width="3.1" marker-end="url(#ahA)"/>
<path d="M313.8,118.8C312,125 309,129.5 305.5,133" fill="none" stroke="#000" stroke-width="3.1" marker-end="url(#ahA)"/>
<path d="M323.3,119.5C324,131 320,141 312.5,148.5" fill="none" stroke="#000" stroke-width="3.1" marker-end="url(#ahA)"/>
<circle cx="336.75" cy="31.25" r="8.3" fill="#4f9032" stroke="#1c1c24" stroke-width="0.8"/><text x="336.75" y="34.45" font-size="8.9" text-anchor="middle" font-weight="bold" fill="#fff">C</text>
<circle cx="368.75" cy="47.5" r="8.3" fill="#4f9032" stroke="#1c1c24" stroke-width="0.8"/><text x="368.75" y="50.7" font-size="8.9" text-anchor="middle" font-weight="bold" fill="#fff">D</text>
<circle cx="269.5" cy="100" r="8.3" fill="#3e5fae" stroke="#1c1c24" stroke-width="0.8"/><text x="269.5" y="103.2" font-size="8.9" text-anchor="middle" font-weight="bold" fill="#fff">A</text>
<circle cx="319.2" cy="107.8" r="8.3" fill="#3e5fae" stroke="#1c1c24" stroke-width="0.8"/><text x="319.2" y="111.0" font-size="8.9" text-anchor="middle" font-weight="bold" fill="#fff">B</text>
<path d="M292.75,120.2L299.1,131.2H286.4Z" fill="#b01a1a" stroke="#4a0808" stroke-width="1" stroke-linejoin="miter"/><text x="292.75" y="129.45" font-size="5.6" text-anchor="middle" font-weight="bold" fill="#fff">c</text>
<path d="M279.75,132.0L286.1,143.0H273.4Z" fill="#b01a1a" stroke="#4a0808" stroke-width="1" stroke-linejoin="miter"/><text x="279.75" y="141.2" font-size="5.6" text-anchor="middle" font-weight="bold" fill="#fff">a</text>
<path d="M296.25,133.2L302.6,144.2H289.9Z" fill="#b01a1a" stroke="#4a0808" stroke-width="1" stroke-linejoin="miter"/><text x="296.25" y="142.45" font-size="5.6" text-anchor="middle" font-weight="bold" fill="#fff">b</text>
<path d="M278.25,145.2L284.6,156.2H271.9Z" fill="#b01a1a" stroke="#4a0808" stroke-width="1" stroke-linejoin="miter"/><text x="278.25" y="154.45" font-size="5.6" text-anchor="middle" font-weight="bold" fill="#fff">a</text>
<path d="M300.5,149.0L306.8,160.0H294.2Z" fill="#b01a1a" stroke="#4a0808" stroke-width="1" stroke-linejoin="miter"/><text x="300.5" y="158.2" font-size="5.6" text-anchor="middle" font-weight="bold" fill="#fff">b</text>
<path d="M384.5,78.5L390.8,89.5H378.2Z" fill="#555555" stroke="#111" stroke-width="1" stroke-linejoin="miter"/><text x="384.5" y="87.7" font-size="5.6" text-anchor="middle" font-weight="bold" fill="#fff">c</text>
<path d="M397.5,72.5L403.8,83.5H391.2Z" fill="#555555" stroke="#111" stroke-width="1" stroke-linejoin="miter"/><text x="397.5" y="81.7" font-size="5.6" text-anchor="middle" font-weight="bold" fill="#fff">d</text>
<path d="M411,75.1L417.3,86.1H404.7Z" fill="#555555" stroke="#111" stroke-width="1" stroke-linejoin="miter"/><text x="411" y="84.3" font-size="5.6" text-anchor="middle" font-weight="bold" fill="#fff">d</text>
<text x="88.1" y="42.1" font-size="10.3" text-anchor="start" font-weight="normal" fill="#000" textLength="51.2" lengthAdjust="spacingAndGlyphs">Less stable</text>
<text x="83.8" y="160.1" font-size="10.3" text-anchor="start" font-weight="normal" fill="#000" textLength="53.5" lengthAdjust="spacingAndGlyphs">More stable</text>
<text x="152.9" y="189" font-size="10.3" text-anchor="start" font-weight="normal" fill="#000" textLength="76.3" lengthAdjust="spacingAndGlyphs" transform="rotate(42.8 152.9 189)">Ordination axis 2</text>
<text x="334.7" y="253.5" font-size="10.3" text-anchor="start" font-weight="normal" fill="#000" textLength="78" lengthAdjust="spacingAndGlyphs" transform="rotate(-7 334.7 253.5)">Ordination axis 1</text>
<text x="246.3" y="210.7" font-size="8.8" text-anchor="start" font-weight="bold" fill="#000" textLength="44" lengthAdjust="spacingAndGlyphs">Attractor 1</text>
<text x="402.8" y="186.4" font-size="8.8" text-anchor="start" font-weight="bold" fill="#000" textLength="45" lengthAdjust="spacingAndGlyphs">Attractor 2</text>
<circle cx="430.6" cy="11.8" r="8.2" fill="#fff" stroke="#000" stroke-width="1"/>
<text x="430.6" y="15.2" font-size="9.5" text-anchor="middle" font-weight="bold" fill="#000">A</text>
<text x="441.9" y="14.6" font-size="8.9" text-anchor="start" font-weight="normal" fill="#000" textLength="75.6" lengthAdjust="spacingAndGlyphs">Starting community</text>
<path d="M443.6,20.6L450.3,30.7H436.9Z" fill="#fff" stroke="#000" stroke-width="0.8"/>
<text x="443.6" y="29.7" font-size="5.8" text-anchor="middle" font-weight="bold" fill="#000">a</text>
<text x="455.2" y="28.1" font-size="8.9" text-anchor="start" font-weight="normal" fill="#000" textLength="64.1" lengthAdjust="spacingAndGlyphs">Final community</text>
<rect x="454" y="35.2" width="10.4" height="10.2" fill="#3a5ca8" stroke="#dfe3ea" stroke-width="0.7"/>
<rect x="459.2" y="39.9" width="10.4" height="10.2" fill="#9b1c1c" stroke="#dfe3ea" stroke-width="0.7"/>
<rect x="465" y="45.3" width="10.4" height="10.2" fill="#5e9e3a" stroke="#dfe3ea" stroke-width="0.7"/>
<rect x="471.2" y="51.2" width="10.4" height="10.2" fill="#626262" stroke="#dfe3ea" stroke-width="0.7"/>
<text x="482.9" y="48.7" font-size="8.9" text-anchor="start" font-weight="normal" fill="#000" textLength="77.1" lengthAdjust="spacingAndGlyphs">Community classes</text>
<path d="M484.3,66.3C487,73 493,77.5 500.5,79.3" fill="none" stroke="#000" stroke-width="3.4" marker-end="url(#ahT)"/>
<text x="501.2" y="72.8" font-size="8.9" text-anchor="start" font-weight="normal" fill="#000" textLength="38.6" lengthAdjust="spacingAndGlyphs">Trajectory</text>
</g>
<g id="panelB">
<text x="3.0" y="296.7" font-size="31" text-anchor="start" font-weight="normal" fill="#000">b</text>
<rect x="60.3" y="278.8" width="218.4" height="218.7" fill="#fff" stroke="#000" stroke-width="1.4"/>
<text x="113.8" y="514.3" font-size="15" text-anchor="start" font-weight="normal" fill="#000" textLength="111.7" lengthAdjust="spacingAndGlyphs">Ordination axis 1</text>
<text x="56.5" y="432.5" font-size="15" text-anchor="start" font-weight="normal" fill="#000" textLength="111.7" lengthAdjust="spacingAndGlyphs" transform="rotate(-90 56.5 432.5)">Ordination axis 2</text>
<ellipse cx="234.2" cy="350" rx="41.5" ry="70" fill="url(#gA2)" stroke="#c8c8c8" stroke-width="0.6"/>
<ellipse cx="129" cy="367" rx="46.5" ry="43" fill="url(#gA1)" stroke="#d9d0c8" stroke-width="0.5"/>
<text x="151.3" y="292" font-size="12" text-anchor="start" font-weight="normal" fill="#4ea72e" textLength="55.3" lengthAdjust="spacingAndGlyphs">Attractor 2</text>
<text x="66.5" y="323.5" font-size="12" text-anchor="start" font-weight="normal" fill="#a9521e" textLength="55.3" lengthAdjust="spacingAndGlyphs">Attractor 1</text>
<ellipse cx="111.5" cy="412" rx="38.5" ry="20.5" transform="rotate(40 111.5 412)" fill="#e8c832" stroke="#b39a2a" stroke-width="0.6"/>
<ellipse cx="82.2" cy="376.4" rx="20.3" ry="27" transform="rotate(-8 82.2 376.4)" fill="#ff2a10" stroke="#a62a1c" stroke-width="0.6"/>
<ellipse cx="153.2" cy="445.5" rx="28" ry="24.5" transform="rotate(28 153.2 445.5)" fill="#ff2bf5" stroke="#a93aa6" stroke-width="0.6"/>
<path d="M171.8,448.5 C160,442 152,428 151.4,403.6" fill="none" stroke="#000" stroke-width="1" marker-end="url(#ahS)"/>
<path d="M146.5,420 C143.5,412 142.5,404 142.7,395.6" fill="none" stroke="#000" stroke-width="1.5" marker-end="url(#ahS)"/>
<ellipse cx="173.3" cy="422.6" rx="16.6" ry="14.4" transform="rotate(25 173.3 422.6)" fill="#5bd1ff" stroke="#3b6f8a" stroke-width="0.6"/>
<path d="M179.9,439 C203,427 230,405 237.8,370.5" fill="none" stroke="#000" stroke-width="1.4" marker-end="url(#ahS)"/>
<ellipse cx="190.3" cy="459" rx="23.1" ry="18.8" fill="#2e8b1e" stroke="#2a5a20" stroke-width="0.6"/>
<path d="M95,358.5 C135,350 175,345.5 213.8,345" fill="none" stroke="#000" stroke-width="0.7" marker-end="url(#ahS)"/>
<path d="M117,387.5 C140,370 175,360 209.6,356.8" fill="none" stroke="#000" stroke-width="0.7" marker-end="url(#ahS)"/>
<path d="M173.7,408 C178,388 192,372 215.5,366" fill="none" stroke="#000" stroke-width="2.4" marker-end="url(#ahM)"/>
<path d="M210.6,448.5 C245,425 274,372 253.4,339.7" fill="none" stroke="#000" stroke-width="3.6" marker-end="url(#ahL)"/>
<path d="M165.6,408 C162,396 156,387.5 147.8,381.2" fill="none" stroke="#000" stroke-width="1.5" marker-end="url(#ahS)"/>
<path d="M102.5,373.9 C108,373.5 113,372.9 117.5,372.2" fill="none" stroke="#000" stroke-width="4" marker-end="url(#ahXL)"/>
<path d="M128,396.5 C130,394 132,391 133.5,388" fill="none" stroke="#000" stroke-width="4" marker-end="url(#ahXL)"/>
<text x="80.3" y="384.4" font-size="15.5" text-anchor="middle" font-weight="normal" fill="#000">1</text>
<text x="112.4" y="417.8" font-size="15.5" text-anchor="middle" font-weight="normal" fill="#000">4</text>
<text x="152" y="453.2" font-size="15.5" text-anchor="middle" font-weight="normal" fill="#000">3</text>
<text x="173.8" y="428.7" font-size="15.5" text-anchor="middle" font-weight="normal" fill="#000">5</text>
<text x="191.5" y="464.6" font-size="15.5" text-anchor="middle" font-weight="normal" fill="#000">2</text>
</g>
<g id="panelC">
<text x="309" y="297.2" font-size="31" text-anchor="start" font-weight="normal" fill="#000" textLength="14.3" lengthAdjust="spacingAndGlyphs">c</text>
<rect x="359.4" y="279.8" width="224.1" height="217.7" fill="#fff"/>
<path d="M401.1,279.8V497.5M448.4,279.8V497.5M495.8,279.8V497.5M543.1,279.8V497.5M359.4,321.5H583.5M359.4,367.8H583.5M359.4,414.1H583.5M359.4,460.4H583.5" stroke="#f0f0f0" stroke-width="0.5" fill="none"/>
<path d="M377.4,279.8V497.5M424.8,279.8V497.5M472.1,279.8V497.5M519.5,279.8V497.5M566.8,279.8V497.5M359.4,298.3H583.5M359.4,344.6H583.5M359.4,390.9H583.5M359.4,437.2H583.5M359.4,483.5H583.5" stroke="#e6e6e6" stroke-width="0.8" fill="none"/>
<g fill-opacity="0.82">
<circle cx="369.6" cy="327.9" r="2.75" fill="#a0522d"/>
<circle cx="389.6" cy="335.3" r="2.75" fill="#a0522d"/>
<circle cx="424.8" cy="306.0" r="2.75" fill="#a0522d"/>
<circle cx="420.6" cy="314.3" r="2.75" fill="#a0522d"/>
<circle cx="425.6" cy="326.2" r="2.75" fill="#a0522d"/>
<circle cx="431.2" cy="335.4" r="2.75" fill="#a0522d"/>
<circle cx="415.1" cy="338.6" r="2.75" fill="#a0522d"/>
<circle cx="442.7" cy="304.8" r="2.75" fill="#a0522d"/>
<circle cx="442.7" cy="311.5" r="2.75" fill="#a0522d"/>
<circle cx="441.5" cy="317.7" r="2.75" fill="#a0522d"/>
<circle cx="444.6" cy="320.4" r="2.75" fill="#a0522d"/>
<circle cx="450.4" cy="314.0" r="2.75" fill="#a0522d"/>
<circle cx="456.3" cy="313.5" r="2.75" fill="#a0522d"/>
<circle cx="457.1" cy="331.1" r="2.75" fill="#a0522d"/>
<circle cx="449.4" cy="337.8" r="2.75" fill="#a0522d"/>
<circle cx="455.3" cy="337.4" r="2.75" fill="#a0522d"/>
<circle cx="443.5" cy="343.0" r="2.75" fill="#a0522d"/>
<circle cx="435.3" cy="345.5" r="2.75" fill="#a0522d"/>
<circle cx="438.2" cy="349.1" r="2.75" fill="#a0522d"/>
<circle cx="457.4" cy="345.5" r="2.75" fill="#a0522d"/>
<circle cx="421.1" cy="353.3" r="2.75" fill="#a0522d"/>
<circle cx="422.6" cy="359.5" r="2.75" fill="#a0522d"/>
<circle cx="428.1" cy="359.7" r="2.75" fill="#a0522d"/>
<circle cx="439.0" cy="354.7" r="2.75" fill="#a0522d"/>
<circle cx="448.7" cy="358.5" r="2.75" fill="#a0522d"/>
<circle cx="454.1" cy="357.5" r="2.75" fill="#a0522d"/>
<circle cx="460.0" cy="356.7" r="2.75" fill="#a0522d"/>
<circle cx="457.1" cy="360.0" r="2.75" fill="#a0522d"/>
<circle cx="461.6" cy="360.0" r="2.75" fill="#a0522d"/>
<circle cx="468.8" cy="336.1" r="2.75" fill="#a0522d"/>
<circle cx="468.8" cy="352.2" r="2.75" fill="#a0522d"/>
<circle cx="441.2" cy="363.4" r="2.75" fill="#a0522d"/>
<circle cx="415.6" cy="332.4" r="1.35" fill="#a0522d"/>
<circle cx="414.4" cy="345.5" r="1.35" fill="#a0522d"/>
<circle cx="443.5" cy="359.5" r="1.35" fill="#a0522d"/>
<path d="M448.2,285.1l3.3,5.9h-6.6z" fill="#a0522d"/>
<path d="M441.9,288.0l1.8,3.2h-3.6z" fill="#a0522d"/>
<circle cx="566.4" cy="291.1" r="2.75" fill="#a0522d"/>
<circle cx="564.7" cy="297.6" r="2.75" fill="#a0522d"/>
<circle cx="557.2" cy="300.1" r="2.75" fill="#a0522d"/>
<circle cx="556.4" cy="303.1" r="2.75" fill="#a0522d"/>
<circle cx="550.5" cy="303.9" r="2.75" fill="#a0522d"/>
<circle cx="555.5" cy="307.8" r="2.75" fill="#a0522d"/>
<circle cx="543.3" cy="308.6" r="2.75" fill="#a0522d"/>
<circle cx="548.5" cy="311.8" r="2.75" fill="#a0522d"/>
<circle cx="546.3" cy="315.3" r="2.75" fill="#a0522d"/>
<circle cx="528.8" cy="304.3" r="2.75" fill="#a0522d"/>
<circle cx="533.8" cy="312.7" r="2.75" fill="#a0522d"/>
<circle cx="520.0" cy="312.1" r="2.75" fill="#a0522d"/>
<circle cx="535.8" cy="322.4" r="2.75" fill="#a0522d"/>
<circle cx="540.5" cy="324.9" r="2.75" fill="#a0522d"/>
<circle cx="497.4" cy="302.3" r="2.75" fill="#a0522d"/>
<circle cx="486.1" cy="317.3" r="2.75" fill="#a0522d"/>
<circle cx="490.6" cy="322.0" r="2.75" fill="#a0522d"/>
<circle cx="496.6" cy="322.0" r="2.75" fill="#a0522d"/>
<circle cx="502.8" cy="322.0" r="2.75" fill="#a0522d"/>
<circle cx="509.8" cy="323.2" r="2.75" fill="#a0522d"/>
<circle cx="492.4" cy="327.0" r="2.75" fill="#a0522d"/>
<circle cx="485.2" cy="329.6" r="2.75" fill="#a0522d"/>
<circle cx="484.1" cy="337.4" r="2.75" fill="#a0522d"/>
<circle cx="498.3" cy="336.6" r="2.75" fill="#a0522d"/>
<circle cx="512.3" cy="340.4" r="2.75" fill="#a0522d"/>
<circle cx="500.3" cy="343.3" r="2.75" fill="#a0522d"/>
<circle cx="488.6" cy="345.8" r="2.75" fill="#a0522d"/>
<circle cx="491.9" cy="345.8" r="2.75" fill="#a0522d"/>
<circle cx="481.0" cy="349.6" r="2.75" fill="#a0522d"/>
<circle cx="488.6" cy="352.8" r="2.75" fill="#a0522d"/>
<circle cx="477.7" cy="357.2" r="2.75" fill="#a0522d"/>
<circle cx="478.5" cy="362.5" r="2.75" fill="#a0522d"/>
<circle cx="480.5" cy="315.3" r="1.35" fill="#a0522d"/>
<path d="M486.6,303.0l3.3,5.9h-6.6z" fill="#a0522d"/>
<circle cx="448.7" cy="368.7" r="2.75" fill="#a0522d"/>
<circle cx="440.7" cy="372.2" r="2.75" fill="#a0522d"/>
<circle cx="437.9" cy="374.7" r="2.75" fill="#a0522d"/>
<circle cx="459.6" cy="371.2" r="2.75" fill="#a0522d"/>
<circle cx="462.8" cy="368.9" r="2.75" fill="#a0522d"/>
<circle cx="465.8" cy="369.5" r="2.75" fill="#a0522d"/>
<circle cx="453.6" cy="374.2" r="2.75" fill="#a0522d"/>
<circle cx="449.1" cy="377.2" r="2.75" fill="#a0522d"/>
<circle cx="452.4" cy="378.4" r="2.75" fill="#a0522d"/>
<circle cx="468.3" cy="383.1" r="2.75" fill="#a0522d"/>
<circle cx="432.7" cy="384.6" r="2.75" fill="#a0522d"/>
<circle cx="433.2" cy="390.1" r="2.75" fill="#a0522d"/>
<circle cx="440.4" cy="391.4" r="2.75" fill="#a0522d"/>
<circle cx="447.1" cy="390.4" r="2.75" fill="#a0522d"/>
<circle cx="418.1" cy="393.5" r="2.75" fill="#a0522d"/>
<circle cx="432.3" cy="395.5" r="2.75" fill="#a0522d"/>
<circle cx="454.1" cy="395.5" r="2.75" fill="#a0522d"/>
<circle cx="452.8" cy="399.3" r="2.75" fill="#a0522d"/>
<circle cx="459.1" cy="399.7" r="2.75" fill="#a0522d"/>
<circle cx="439.9" cy="399.8" r="2.75" fill="#a0522d"/>
<circle cx="441.2" cy="402.2" r="2.75" fill="#a0522d"/>
<circle cx="452.8" cy="401.8" r="2.75" fill="#a0522d"/>
<circle cx="435.3" cy="403.8" r="2.75" fill="#a0522d"/>
<circle cx="447.4" cy="408.9" r="2.75" fill="#a0522d"/>
<circle cx="439.4" cy="411.4" r="2.75" fill="#a0522d"/>
<circle cx="432.3" cy="414.7" r="2.75" fill="#a0522d"/>
<circle cx="442.9" cy="416.9" r="2.75" fill="#a0522d"/>
<circle cx="449.1" cy="415.2" r="2.75" fill="#a0522d"/>
<circle cx="455.3" cy="418.1" r="2.75" fill="#a0522d"/>
<circle cx="431.2" cy="419.7" r="2.75" fill="#a0522d"/>
<circle cx="440.4" cy="423.6" r="2.75" fill="#a0522d"/>
<circle cx="426.1" cy="424.8" r="2.75" fill="#a0522d"/>
<circle cx="430.3" cy="426.1" r="2.75" fill="#a0522d"/>
<circle cx="435.2" cy="426.1" r="2.75" fill="#a0522d"/>
<circle cx="420.6" cy="427.8" r="2.75" fill="#a0522d"/>
<circle cx="419.4" cy="429.4" r="2.75" fill="#a0522d"/>
<circle cx="439.0" cy="430.0" r="2.75" fill="#a0522d"/>
<circle cx="442.9" cy="432.8" r="2.75" fill="#a0522d"/>
<circle cx="449.6" cy="429.8" r="2.75" fill="#a0522d"/>
<circle cx="453.8" cy="430.8" r="2.75" fill="#a0522d"/>
<circle cx="462.0" cy="430.3" r="2.75" fill="#a0522d"/>
<circle cx="427.0" cy="433.6" r="2.75" fill="#a0522d"/>
<circle cx="431.8" cy="437.0" r="2.75" fill="#a0522d"/>
<circle cx="428.5" cy="438.2" r="2.75" fill="#a0522d"/>
<circle cx="423.5" cy="438.7" r="2.75" fill="#a0522d"/>
<circle cx="449.6" cy="436.5" r="2.75" fill="#a0522d"/>
<circle cx="450.7" cy="438.7" r="2.75" fill="#a0522d"/>
<circle cx="393.0" cy="438.2" r="2.75" fill="#a0522d"/>
<circle cx="405.2" cy="442.3" r="2.75" fill="#a0522d"/>
<circle cx="411.7" cy="442.0" r="2.75" fill="#a0522d"/>
<circle cx="412.2" cy="445.4" r="2.75" fill="#a0522d"/>
<circle cx="423.6" cy="442.3" r="2.75" fill="#a0522d"/>
<circle cx="432.3" cy="442.3" r="2.75" fill="#a0522d"/>
<circle cx="436.0" cy="441.2" r="2.75" fill="#a0522d"/>
<circle cx="449.4" cy="444.0" r="2.75" fill="#a0522d"/>
<circle cx="424.0" cy="446.2" r="2.75" fill="#a0522d"/>
<circle cx="411.1" cy="449.2" r="2.75" fill="#a0522d"/>
<circle cx="417.3" cy="449.2" r="2.75" fill="#a0522d"/>
<circle cx="418.4" cy="451.2" r="2.75" fill="#a0522d"/>
<circle cx="426.0" cy="448.7" r="2.75" fill="#a0522d"/>
<circle cx="397.2" cy="406.2" r="1.35" fill="#a0522d"/>
<circle cx="419.3" cy="436.1" r="1.35" fill="#a0522d"/>
<circle cx="443.5" cy="451.2" r="1.35" fill="#a0522d"/>
<circle cx="475.5" cy="368.7" r="1.35" fill="#a0522d"/>
<circle cx="486.4" cy="367.3" r="1.35" fill="#a0522d"/>
<circle cx="475.7" cy="379.6" r="2.75" fill="#a0522d"/>
<circle cx="476.5" cy="416.4" r="2.75" fill="#a0522d"/>
<circle cx="413.4" cy="454.4" r="2.75" fill="#a0522d"/>
<circle cx="423.5" cy="454.3" r="2.75" fill="#a0522d"/>
<circle cx="410.6" cy="461.5" r="2.75" fill="#a0522d"/>
<circle cx="413.1" cy="462.3" r="2.75" fill="#a0522d"/>
<circle cx="415.6" cy="462.8" r="2.75" fill="#a0522d"/>
<circle cx="400.5" cy="464.3" r="2.75" fill="#a0522d"/>
<circle cx="396.0" cy="468.7" r="2.75" fill="#a0522d"/>
<circle cx="413.9" cy="467.0" r="2.75" fill="#a0522d"/>
<circle cx="417.6" cy="464.3" r="2.75" fill="#a0522d"/>
<circle cx="424.3" cy="467.7" r="2.75" fill="#a0522d"/>
<circle cx="427.3" cy="469.5" r="2.75" fill="#a0522d"/>
<circle cx="433.5" cy="465.3" r="2.75" fill="#a0522d"/>
<circle cx="439.4" cy="465.3" r="2.75" fill="#a0522d"/>
<circle cx="433.5" cy="459.3" r="2.75" fill="#a0522d"/>
<circle cx="436.0" cy="458.9" r="2.75" fill="#a0522d"/>
<circle cx="438.2" cy="455.6" r="2.75" fill="#a0522d"/>
<circle cx="440.2" cy="454.4" r="2.75" fill="#a0522d"/>
<circle cx="406.4" cy="475.4" r="2.75" fill="#a0522d"/>
<circle cx="400.5" cy="477.4" r="2.75" fill="#a0522d"/>
<circle cx="401.4" cy="478.5" r="2.75" fill="#a0522d"/>
<circle cx="405.0" cy="482.7" r="2.75" fill="#a0522d"/>
<circle cx="404.7" cy="485.4" r="2.75" fill="#a0522d"/>
<circle cx="400.9" cy="487.7" r="2.75" fill="#a0522d"/>
<circle cx="424.3" cy="485.7" r="2.75" fill="#a0522d"/>
<circle cx="420.1" cy="460.3" r="1.35" fill="#a0522d"/>
<circle cx="377.1" cy="297.8" r="2.75" fill="#7fff00"/>
<circle cx="379.6" cy="295.2" r="2.75" fill="#7fff00"/>
<circle cx="393.5" cy="302.3" r="2.75" fill="#7fff00"/>
<circle cx="400.5" cy="305.6" r="2.75" fill="#7fff00"/>
<circle cx="426.0" cy="307.3" r="2.75" fill="#7fff00"/>
<circle cx="432.3" cy="299.4" r="2.75" fill="#7fff00"/>
<circle cx="435.7" cy="304.8" r="2.75" fill="#7fff00"/>
<circle cx="439.0" cy="302.3" r="2.75" fill="#7fff00"/>
<circle cx="449.9" cy="298.9" r="2.75" fill="#7fff00"/>
<circle cx="449.6" cy="304.8" r="2.75" fill="#7fff00"/>
<circle cx="461.6" cy="311.0" r="2.75" fill="#7fff00"/>
<circle cx="468.0" cy="313.7" r="2.75" fill="#7fff00"/>
<circle cx="460.0" cy="319.9" r="2.75" fill="#7fff00"/>
<circle cx="435.3" cy="349.1" r="2.75" fill="#7fff00"/>
<path d="M386.6,290.6l3.3,5.9h-6.6z" fill="#7fff00"/>
<path d="M390.5,294.0l3.3,5.9h-6.6z" fill="#7fff00"/>
<path d="M394.2,287.9l3.3,5.9h-6.6z" fill="#7fff00"/>
<path d="M397.7,287.3l3.3,5.9h-6.6z" fill="#7fff00"/>
<path d="M403.0,290.6l3.3,5.9h-6.6z" fill="#7fff00"/>
<path d="M405.5,290.9l3.3,5.9h-6.6z" fill="#7fff00"/>
<path d="M418.3,290.1l3.3,5.9h-6.6z" fill="#7fff00"/>
<path d="M434.0,292.3l3.3,5.9h-6.6z" fill="#7fff00"/>
<path d="M452.4,287.3l3.3,5.9h-6.6z" fill="#7fff00"/>
<path d="M446.6,294.3l3.3,5.9h-6.6z" fill="#7fff00"/>
<path d="M442.7,308.9l3.3,5.9h-6.6z" fill="#7fff00"/>
<path d="M449.4,308.2l3.3,5.9h-6.6z" fill="#7fff00"/>
<path d="M455.4,306.3l3.3,5.9h-6.6z" fill="#7fff00"/>
<path d="M455.8,314.9l3.3,5.9h-6.6z" fill="#7fff00"/>
<path d="M453.3,311.9l3.3,5.9h-6.6z" fill="#7fff00"/>
<path d="M388.5,300.2l1.8,3.2h-3.6z" fill="#7fff00"/>
<path d="M397.2,296.9l1.8,3.2h-3.6z" fill="#7fff00"/>
<path d="M405.5,301.5l1.8,3.2h-3.6z" fill="#7fff00"/>
<path d="M422.3,293.5l1.8,3.2h-3.6z" fill="#7fff00"/>
<path d="M440.7,295.7l1.8,3.2h-3.6z" fill="#7fff00"/>
<circle cx="409.4" cy="291.4" r="1.35" fill="#7fff00"/>
<circle cx="468.7" cy="298.6" r="1.35" fill="#7fff00"/>
<circle cx="408.4" cy="329.9" r="1.35" fill="#7fff00"/>
<circle cx="421.4" cy="345.0" r="1.35" fill="#7fff00"/>
<circle cx="453.6" cy="328.2" r="1.35" fill="#7fff00"/>
<circle cx="392.2" cy="335.3" r="1.35" fill="#7fff00"/>
<circle cx="573.6" cy="290.2" r="2.75" fill="#7fff00"/>
<circle cx="559.7" cy="296.4" r="2.75" fill="#7fff00"/>
<circle cx="516.2" cy="303.9" r="2.75" fill="#7fff00"/>
<circle cx="491.1" cy="307.6" r="2.75" fill="#7fff00"/>
<circle cx="476.5" cy="308.1" r="2.75" fill="#7fff00"/>
<circle cx="479.7" cy="333.2" r="2.75" fill="#7fff00"/>
<circle cx="489.4" cy="325.7" r="2.75" fill="#7fff00"/>
<path d="M473.5,286.8l3.3,5.9h-6.6z" fill="#7fff00"/>
<path d="M483.1,320.2l3.3,5.9h-6.6z" fill="#7fff00"/>
<path d="M496.1,322.4l3.3,5.9h-6.6z" fill="#7fff00"/>
<circle cx="495.6" cy="291.1" r="1.35" fill="#7fff00"/>
<circle cx="517.0" cy="299.8" r="1.35" fill="#7fff00"/>
<circle cx="506.7" cy="314.0" r="1.35" fill="#7fff00"/>
<circle cx="505.3" cy="331.1" r="1.35" fill="#7fff00"/>
<circle cx="481.9" cy="310.6" r="1.35" fill="#7fff00"/>
<circle cx="481.9" cy="313.7" r="1.35" fill="#7fff00"/>
<circle cx="478.0" cy="336.9" r="1.35" fill="#7fff00"/>
<circle cx="487.2" cy="316.2" r="1.35" fill="#7fff00"/>
<path d="M520.6,318.3l1.8,3.2h-3.6z" fill="#7fff00"/>
<circle cx="440.2" cy="365.5" r="2.75" fill="#7fff00"/>
<circle cx="445.2" cy="367.8" r="2.75" fill="#7fff00"/>
<circle cx="432.8" cy="403.8" r="2.75" fill="#7fff00"/>
<circle cx="424.5" cy="418.9" r="2.75" fill="#7fff00"/>
<path d="M415.1,464.4l1.8,3.2h-3.6z" fill="#7fff00"/>
<circle cx="431.2" cy="305.6" r="1.35" fill="#1400ff"/>
<circle cx="422.3" cy="312.7" r="1.35" fill="#1400ff"/>
<circle cx="421.4" cy="316.8" r="1.35" fill="#1400ff"/>
<circle cx="440.4" cy="326.9" r="1.35" fill="#1400ff"/>
<circle cx="443.7" cy="296.7" r="1.35" fill="#1400ff"/>
<circle cx="449.9" cy="339.9" r="1.35" fill="#1400ff"/>
<circle cx="425.3" cy="360.0" r="1.35" fill="#1400ff"/>
<path d="M442.5,291.8l1.8,3.2h-3.6z" fill="#1400ff"/>
<circle cx="491.1" cy="297.3" r="1.35" fill="#1400ff"/>
<circle cx="530.4" cy="297.6" r="1.35" fill="#1400ff"/>
<circle cx="541.3" cy="299.8" r="1.35" fill="#1400ff"/>
<circle cx="475.2" cy="314.0" r="1.35" fill="#1400ff"/>
<circle cx="485.2" cy="327.0" r="1.35" fill="#1400ff"/>
<circle cx="501.5" cy="343.0" r="1.35" fill="#1400ff"/>
<circle cx="486.4" cy="363.4" r="1.35" fill="#1400ff"/>
<circle cx="433.8" cy="377.1" r="1.35" fill="#1400ff"/>
<circle cx="427.0" cy="386.8" r="1.35" fill="#1400ff"/>
<circle cx="423.6" cy="404.7" r="1.35" fill="#1400ff"/>
<circle cx="434.2" cy="404.8" r="1.35" fill="#1400ff"/>
<circle cx="451.2" cy="414.9" r="1.35" fill="#1400ff"/>
<circle cx="419.3" cy="427.4" r="1.35" fill="#1400ff"/>
<circle cx="427.1" cy="445.7" r="1.35" fill="#1400ff"/>
<circle cx="405.4" cy="449.2" r="1.35" fill="#1400ff"/>
<circle cx="409.4" cy="451.2" r="1.35" fill="#1400ff"/>
<circle cx="421.8" cy="483.2" r="1.35" fill="#1400ff"/>
</g>
<rect x="359.4" y="279.8" width="224.1" height="217.7" fill="none" stroke="#6a6a6a" stroke-width="0.7"/>
<text x="377.4" y="506.8" font-size="8" text-anchor="middle" font-weight="normal" fill="#4d4d4d">0.4</text>
<text x="424.8" y="506.8" font-size="8" text-anchor="middle" font-weight="normal" fill="#4d4d4d">0.5</text>
<text x="472.1" y="506.8" font-size="8" text-anchor="middle" font-weight="normal" fill="#4d4d4d">0.6</text>
<text x="519.5" y="506.8" font-size="8" text-anchor="middle" font-weight="normal" fill="#4d4d4d">0.7</text>
<text x="566.8" y="506.8" font-size="8" text-anchor="middle" font-weight="normal" fill="#4d4d4d">0.8</text>
<text x="355.4" y="301.2" font-size="8" text-anchor="end" font-weight="normal" fill="#4d4d4d">0.8</text>
<text x="355.4" y="347.5" font-size="8" text-anchor="end" font-weight="normal" fill="#4d4d4d">0.7</text>
<text x="355.4" y="393.79999999999995" font-size="8" text-anchor="end" font-weight="normal" fill="#4d4d4d">0.6</text>
<text x="355.4" y="440.09999999999997" font-size="8" text-anchor="end" font-weight="normal" fill="#4d4d4d">0.5</text>
<text x="355.4" y="486.4" font-size="8" text-anchor="end" font-weight="normal" fill="#4d4d4d">0.4</text>
<path d="M377.4,497.5v2.2M424.8,497.5v2.2M472.1,497.5v2.2M519.5,497.5v2.2M566.8,497.5v2.2M359.4,298.3h-2.2M359.4,344.6h-2.2M359.4,390.9h-2.2M359.4,437.2h-2.2M359.4,483.5h-2.2" stroke="#555" stroke-width="0.7" fill="none"/>
<text x="409.7" y="518.4" font-size="11" text-anchor="start" font-weight="normal" fill="#000" textLength="124.1" lengthAdjust="spacingAndGlyphs">Mean distance to borders</text>
<text x="340.5" y="463" font-size="11" text-anchor="start" font-weight="normal" fill="#000" textLength="150.3" lengthAdjust="spacingAndGlyphs" transform="rotate(-90 340.5 463)">Minimum distance to centroids</text>
<text x="593.6" y="308.1" font-size="10" text-anchor="start" font-weight="normal" fill="#000" textLength="90.3" lengthAdjust="spacingAndGlyphs">Converge final class</text>
<circle cx="600.6" cy="321.3" r="2.1" fill="#a0522d" fill-opacity="0.85"/>
<text x="613.4" y="324.8" font-size="9.8" text-anchor="start" font-weight="normal" fill="#000">1</text>
<circle cx="600.6" cy="335.9" r="2.1" fill="#7fff00" fill-opacity="0.85"/>
<text x="613.4" y="339.4" font-size="9.8" text-anchor="start" font-weight="normal" fill="#000">2</text>
<circle cx="600.6" cy="350.8" r="2.1" fill="#1400ff" fill-opacity="0.85"/>
<text x="613.4" y="354.3" font-size="9.8" text-anchor="start" font-weight="normal" fill="#000">both</text>
<text x="593.6" y="385.1" font-size="10" text-anchor="start" font-weight="normal" fill="#000" textLength="87.8" lengthAdjust="spacingAndGlyphs">Num. rep. converge</text>
<circle cx="600.6" cy="398.7" r="3.5" fill="#333"/>
<text x="613.2" y="402" font-size="9.8" text-anchor="start" font-weight="normal" fill="#000">= 4</text>
<circle cx="600.6" cy="413.2" r="1.8" fill="#333"/>
<text x="613.2" y="416.7" font-size="9.8" text-anchor="start" font-weight="normal" fill="#000">&lt; 4</text>
<text x="593.6" y="447.3" font-size="10" text-anchor="start" font-weight="normal" fill="#000" textLength="72.5" lengthAdjust="spacingAndGlyphs">Closest centroid</text>
<circle cx="600.6" cy="460.7" r="1.7" fill="#333"/>
<text x="613.4" y="464.4" font-size="9.8" text-anchor="start" font-weight="normal" fill="#000">1</text>
<path d="M600.6,472.6l2.3,4.1h-4.6z" fill="#333"/>
<text x="613.4" y="478.9" font-size="9.8" text-anchor="start" font-weight="normal" fill="#000">2</text>
</g>
</svg>
</body></html>
